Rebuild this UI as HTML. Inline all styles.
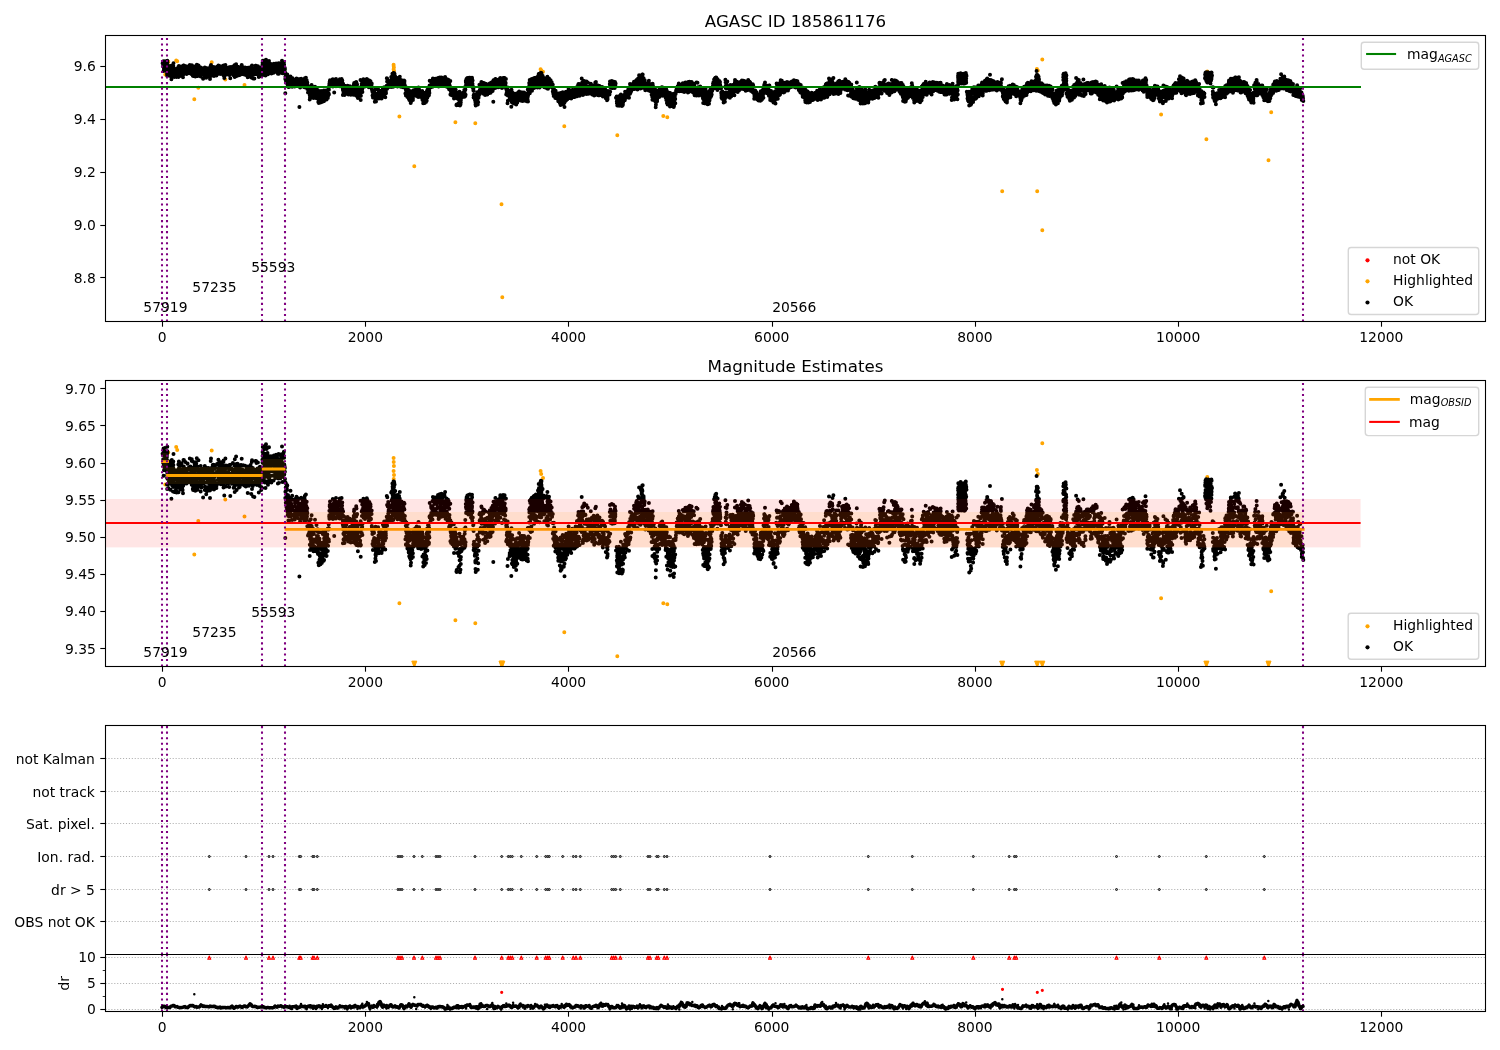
<!DOCTYPE html>
<html><head><meta charset="utf-8"><title>AGASC ID 185861176</title>
<style>html,body{margin:0;padding:0;background:#fff}svg{display:block}</style></head>
<body>
<svg width="1500" height="1050" viewBox="0 0 1500 1050" font-family="'DejaVu Sans','Liberation Sans',sans-serif" font-size="13.89px" fill="#000" style="will-change:transform">
<defs>
<clipPath id="c1"><rect x="105.5" y="35.5" width="1380.0" height="286.0"/></clipPath>
<clipPath id="c2"><rect x="105.5" y="380.5" width="1380.0" height="286.0"/></clipPath>
<clipPath id="c3a"><rect x="105.5" y="725.5" width="1380.0" height="229.0"/></clipPath>
<clipPath id="c3b"><rect x="105.5" y="954.5" width="1380.0" height="57.0"/></clipPath>
</defs>
<rect width="1500" height="1050" fill="#fff"/>
<g clip-path="url(#c1)">
<path d="M165.3 74.5h0M168.3 61.7h0M176.2 60.6h0M177.2 61.2h0M194.3 99.3h0M198.3 87.8h0M211.7 62.2h0M225.3 79.5h0M244.5 85.0h0M393.6 69.3h0M393.6 64.7h0M393.7 66.1h0M393.7 72.2h0M393.9 67.6h0M394.0 70.8h0M399.4 116.4h0M414.3 166.3h0M455.4 122.3h0M475.3 123.3h0M501.5 204.3h0M502.3 297.3h0M540.6 69.3h0M541.2 70.4h0M543.0 71.8h0M564.3 126.3h0M617.3 135.3h0M663.3 116.0h0M667.3 117.3h0M1002.2 191.2h0M1036.9 69.0h0M1037.2 191.2h0M1037.8 70.4h0M1042.3 230.2h0M1042.3 59.5h0M1161.1 114.4h0M1206.4 139.3h0M1207.3 71.5h0M1268.5 160.3h0M1271.2 112.3h0" stroke="#ffa500" stroke-width="4.0" stroke-linecap="round" fill="none"/>
<path d="M162.6 63.2h0M163.0 63.4h0M163.1 63.7h0M163.1 66.4h0M163.2 65.2h0M163.4 62.8h0M163.5 61.3h0M163.6 71.1h0M163.7 61.9h0M163.7 67.5h0M163.8 65.9h0M163.9 67.1h0M163.9 65.1h0M163.9 62.9h0M164.0 69.1h0M164.2 67.0h0M164.2 62.6h0M164.3 68.8h0M164.3 63.7h0M164.3 66.0h0M164.3 66.2h0M164.4 63.9h0M164.6 68.0h0M164.8 61.2h0M164.9 65.8h0M164.9 67.8h0M165.1 68.4h0M165.3 62.9h0M165.6 67.1h0M165.6 67.3h0M165.6 64.0h0M165.7 67.2h0M165.9 67.6h0M165.9 64.9h0M166.0 67.0h0M166.0 67.8h0M166.1 68.2h0M166.2 68.6h0M166.3 68.1h0M166.6 67.7h0M166.7 65.6h0M166.9 65.5h0M166.9 64.4h0M167.0 63.5h0M167.0 74.1h0M167.0 69.5h0M167.1 69.2h0M167.1 71.8h0M167.2 75.8h0M167.2 66.1h0M167.3 60.7h0M167.3 70.1h0M167.3 62.3h0M167.3 67.6h0M167.4 62.7h0M167.4 70.7h0M167.5 68.7h0M167.5 72.1h0M167.8 70.3h0M167.9 71.7h0M168.0 74.1h0M168.1 70.7h0M168.2 70.5h0M168.3 67.1h0M168.4 67.5h0M168.4 67.1h0M168.4 75.5h0M168.5 68.5h0M168.6 75.5h0M168.6 69.6h0M168.7 70.9h0M168.8 67.8h0M168.8 73.3h0M168.9 66.9h0M169.0 71.9h0M169.1 71.9h0M169.2 69.4h0M169.2 65.9h0M169.5 68.3h0M169.5 68.0h0M169.6 71.5h0M170.0 69.1h0M170.0 70.9h0M170.0 70.2h0M170.1 67.0h0M170.2 71.8h0M170.3 76.0h0M170.3 73.7h0M170.3 69.1h0M170.4 72.2h0M170.4 73.8h0M170.4 69.0h0M170.5 73.6h0M170.7 73.0h0M170.9 69.2h0M171.2 72.1h0M171.2 70.4h0M171.3 69.7h0M171.3 68.8h0M171.4 79.3h0M171.4 69.2h0M171.5 66.1h0M171.5 70.1h0M171.6 69.4h0M171.6 68.8h0M171.7 70.8h0M171.7 67.4h0M171.8 67.5h0M171.8 65.4h0M171.9 70.8h0M171.9 70.2h0M172.0 73.9h0M172.0 69.1h0M172.0 71.2h0M172.1 68.3h0M172.1 71.2h0M172.1 69.7h0M172.1 74.4h0M172.3 68.7h0M172.3 69.0h0M172.3 72.8h0M172.4 69.8h0M172.4 72.7h0M172.6 67.3h0M172.7 68.0h0M172.7 71.6h0M172.8 68.4h0M172.8 72.8h0M172.9 67.3h0M173.0 76.7h0M173.1 75.1h0M173.1 67.3h0M173.2 70.0h0M173.2 71.8h0M173.3 69.5h0M173.3 74.4h0M173.3 68.4h0M173.3 72.5h0M173.3 75.0h0M173.3 71.5h0M173.3 66.0h0M173.4 67.2h0M173.4 71.4h0M173.5 63.3h0M173.5 70.5h0M173.6 69.8h0M173.6 70.0h0M173.7 69.2h0M173.8 73.2h0M174.0 70.7h0M174.2 71.5h0M174.3 76.9h0M174.4 71.9h0M174.6 70.7h0M174.6 74.3h0M174.7 69.8h0M174.8 70.1h0M174.8 75.0h0M175.0 71.5h0M175.1 69.6h0M175.3 70.9h0M175.3 70.5h0M175.4 73.9h0M175.5 70.8h0M175.5 72.0h0M175.8 72.2h0M176.0 76.0h0M176.2 71.4h0M176.2 69.8h0M176.2 69.1h0M176.5 70.6h0M176.5 77.0h0M176.6 74.4h0M177.2 73.7h0M177.3 69.4h0M177.4 72.6h0M177.6 70.4h0M177.6 72.0h0M177.7 73.5h0M177.7 74.2h0M177.8 69.4h0M177.9 74.2h0M177.9 74.4h0M177.9 75.1h0M178.0 71.9h0M178.0 74.2h0M178.3 67.0h0M178.3 71.2h0M178.4 74.7h0M178.4 69.8h0M178.4 74.5h0M178.4 69.2h0M178.5 76.9h0M178.5 72.0h0M178.6 69.9h0M178.6 71.2h0M178.7 72.5h0M178.8 72.4h0M178.8 69.7h0M178.9 70.7h0M178.9 66.0h0M179.0 68.3h0M179.0 66.5h0M179.1 71.0h0M179.2 73.4h0M179.3 72.0h0M179.4 70.2h0M179.5 67.5h0M179.5 73.2h0M179.6 74.0h0M179.7 67.1h0M179.9 68.4h0M179.9 70.9h0M179.9 70.3h0M180.0 70.3h0M180.1 75.9h0M180.3 68.8h0M180.4 71.2h0M180.6 74.9h0M180.6 74.1h0M180.6 69.9h0M180.8 72.6h0M180.8 72.0h0M181.0 71.4h0M181.0 69.8h0M181.2 72.1h0M181.2 67.3h0M181.3 67.0h0M181.4 70.8h0M181.4 74.1h0M181.4 69.5h0M181.4 72.7h0M181.5 66.6h0M181.5 72.1h0M181.6 70.6h0M181.9 73.4h0M182.1 70.8h0M182.3 72.6h0M182.4 70.2h0M182.4 75.1h0M182.5 68.7h0M182.5 69.0h0M182.6 70.1h0M182.6 71.9h0M182.6 76.1h0M182.7 70.4h0M182.7 71.8h0M182.7 70.7h0M182.8 73.3h0M182.8 73.2h0M182.9 71.3h0M182.9 69.5h0M183.0 73.5h0M183.0 69.6h0M183.0 70.5h0M183.0 77.3h0M183.1 71.6h0M183.1 69.4h0M183.1 72.3h0M183.3 74.5h0M183.5 70.7h0M183.5 70.2h0M183.5 69.6h0M183.5 65.4h0M183.6 68.5h0M183.8 71.5h0M183.8 67.7h0M183.9 70.7h0M183.9 65.5h0M184.3 68.6h0M184.3 73.1h0M184.9 70.5h0M185.0 70.6h0M185.0 72.8h0M185.3 66.1h0M185.6 68.7h0M185.6 71.4h0M185.6 70.0h0M185.7 68.5h0M185.8 71.5h0M186.1 71.9h0M186.4 70.5h0M186.4 71.5h0M186.4 71.8h0M186.4 71.7h0M186.5 71.9h0M186.6 69.8h0M186.6 73.9h0M187.0 71.5h0M187.0 71.5h0M187.0 71.2h0M187.0 71.4h0M187.1 71.4h0M187.1 68.8h0M187.1 69.1h0M187.2 72.3h0M187.2 70.5h0M187.3 73.3h0M187.4 68.7h0M187.5 70.2h0M187.5 66.8h0M187.6 66.7h0M187.9 72.2h0M188.0 70.7h0M188.0 72.0h0M188.1 72.3h0M188.2 72.0h0M188.3 71.5h0M188.8 70.4h0M188.9 71.8h0M188.9 68.1h0M189.1 71.8h0M189.2 73.3h0M189.6 70.3h0M189.8 69.0h0M189.8 64.9h0M189.8 72.1h0M189.9 71.8h0M190.1 68.1h0M190.1 68.8h0M190.2 71.8h0M190.5 67.7h0M190.5 71.8h0M190.5 70.4h0M190.6 68.3h0M190.7 70.2h0M190.9 72.2h0M191.0 72.8h0M191.0 70.6h0M191.1 71.7h0M191.2 70.4h0M191.3 71.3h0M191.5 71.3h0M191.5 70.0h0M191.5 69.5h0M191.6 73.2h0M191.7 74.3h0M191.8 65.8h0M191.8 65.2h0M191.8 70.4h0M192.0 68.3h0M192.4 72.0h0M192.5 72.0h0M192.6 69.8h0M192.7 66.0h0M192.7 73.9h0M192.7 68.9h0M192.8 75.8h0M193.0 74.8h0M193.0 70.5h0M193.1 76.1h0M193.2 70.5h0M193.3 70.9h0M193.4 71.0h0M193.4 70.3h0M193.8 68.0h0M193.9 72.3h0M193.9 71.5h0M194.0 70.6h0M194.0 69.3h0M194.1 71.6h0M194.3 75.1h0M194.3 71.8h0M194.3 68.7h0M194.6 70.4h0M194.6 72.9h0M194.7 69.8h0M194.7 67.0h0M194.7 67.9h0M194.7 71.1h0M194.8 67.2h0M195.0 69.4h0M195.0 72.5h0M195.2 72.6h0M195.3 76.4h0M195.4 73.9h0M195.4 70.7h0M195.5 71.9h0M195.5 67.4h0M195.6 66.3h0M195.7 68.7h0M195.8 69.3h0M195.8 68.8h0M195.8 71.8h0M195.9 70.7h0M196.0 75.7h0M196.1 75.4h0M196.2 66.6h0M196.2 73.0h0M196.3 71.8h0M196.6 73.4h0M196.6 74.5h0M196.8 72.0h0M196.8 64.8h0M197.0 73.9h0M197.0 74.1h0M197.1 71.8h0M197.5 67.8h0M197.5 68.5h0M197.6 76.0h0M198.2 71.3h0M198.3 71.4h0M198.3 70.4h0M198.4 73.5h0M198.5 65.5h0M198.6 69.5h0M198.7 70.6h0M198.7 70.3h0M198.7 71.9h0M198.7 74.1h0M198.9 69.6h0M199.0 74.9h0M199.0 69.5h0M199.4 70.6h0M199.4 72.1h0M199.7 70.8h0M199.7 74.2h0M199.8 72.8h0M199.9 70.4h0M199.9 70.8h0M199.9 71.1h0M200.0 74.8h0M200.0 70.2h0M200.1 72.1h0M200.1 68.7h0M200.2 71.0h0M200.4 71.7h0M200.5 72.9h0M200.5 71.2h0M200.7 76.6h0M200.7 67.5h0M200.8 75.0h0M200.8 69.9h0M200.9 69.4h0M201.0 71.0h0M201.1 73.4h0M201.3 70.6h0M201.4 74.9h0M201.5 75.2h0M201.6 72.3h0M201.6 70.0h0M201.7 68.6h0M201.8 70.3h0M201.8 73.0h0M201.9 70.7h0M201.9 71.8h0M202.0 73.5h0M202.1 69.8h0M202.2 72.2h0M202.3 71.4h0M202.3 72.1h0M202.4 68.6h0M202.4 73.3h0M202.5 73.9h0M202.5 69.4h0M202.9 73.0h0M202.9 69.1h0M203.1 72.7h0M203.1 69.5h0M203.1 78.8h0M203.1 71.9h0M203.2 69.6h0M203.2 72.1h0M203.2 72.8h0M203.2 71.5h0M203.3 72.2h0M203.3 73.7h0M203.3 73.8h0M203.5 71.5h0M203.6 72.2h0M203.6 68.6h0M204.1 73.4h0M204.1 70.6h0M204.2 71.5h0M204.3 69.5h0M204.3 69.0h0M204.4 71.9h0M204.4 70.9h0M204.8 76.1h0M204.8 71.7h0M204.8 67.6h0M205.0 73.4h0M205.0 71.6h0M205.0 71.3h0M205.0 69.8h0M205.2 74.9h0M205.3 69.7h0M205.3 70.7h0M205.3 69.7h0M205.3 68.4h0M205.8 68.7h0M205.8 70.1h0M206.1 70.6h0M206.2 77.7h0M206.3 72.0h0M206.3 73.5h0M206.4 71.0h0M206.4 70.2h0M206.4 68.2h0M206.6 69.6h0M206.6 70.4h0M206.9 76.6h0M207.1 71.7h0M207.2 70.5h0M207.2 71.8h0M207.3 71.7h0M207.3 73.3h0M207.4 69.4h0M207.5 70.2h0M207.5 69.9h0M207.5 70.6h0M207.6 73.0h0M207.7 70.8h0M207.7 70.4h0M208.0 75.5h0M208.1 72.6h0M208.1 76.0h0M208.2 69.3h0M208.3 71.5h0M208.4 75.0h0M208.4 70.0h0M208.4 68.3h0M208.5 71.0h0M208.5 73.7h0M208.8 73.5h0M208.9 72.7h0M209.3 71.2h0M209.4 75.6h0M209.4 71.9h0M209.5 68.9h0M209.6 72.9h0M209.8 76.2h0M209.9 73.0h0M210.0 70.6h0M210.0 78.9h0M210.1 75.4h0M210.3 69.6h0M210.4 70.6h0M210.5 70.6h0M210.5 76.1h0M210.5 73.6h0M210.5 71.9h0M210.6 72.9h0M210.6 74.7h0M210.7 70.6h0M210.7 65.7h0M210.9 71.4h0M211.0 64.9h0M211.0 72.7h0M211.2 68.3h0M211.4 72.9h0M211.5 75.8h0M211.6 75.5h0M211.7 69.8h0M211.7 73.7h0M212.0 71.4h0M212.1 70.0h0M212.1 70.3h0M212.2 71.8h0M212.3 72.8h0M212.3 68.4h0M212.4 71.0h0M212.5 71.7h0M212.5 69.0h0M212.5 72.8h0M212.7 68.3h0M212.7 67.2h0M212.7 74.6h0M212.8 69.7h0M213.0 75.4h0M213.1 75.6h0M213.1 73.9h0M213.3 71.8h0M213.4 72.5h0M213.4 71.3h0M213.5 71.3h0M213.6 72.0h0M213.7 72.4h0M213.7 75.6h0M213.7 67.1h0M213.8 74.3h0M213.9 72.2h0M214.0 75.9h0M214.1 72.7h0M214.3 70.4h0M214.4 73.0h0M214.7 71.1h0M214.7 67.4h0M214.8 68.6h0M214.9 72.9h0M214.9 71.3h0M215.0 67.4h0M215.2 71.0h0M215.2 70.3h0M215.5 70.3h0M215.5 71.0h0M215.7 68.2h0M216.0 73.8h0M216.0 75.1h0M216.2 71.0h0M216.4 75.4h0M216.5 70.0h0M216.6 74.5h0M216.9 69.7h0M217.1 66.8h0M217.3 73.9h0M217.5 70.8h0M217.7 70.7h0M217.7 69.8h0M217.7 70.9h0M217.7 70.9h0M217.9 72.5h0M217.9 70.4h0M218.0 66.6h0M218.2 68.4h0M218.4 72.6h0M218.4 65.4h0M218.4 67.1h0M218.7 73.8h0M218.8 70.3h0M218.8 68.6h0M218.9 72.9h0M218.9 71.8h0M219.0 73.7h0M219.4 72.3h0M219.4 72.8h0M219.4 72.0h0M219.6 71.6h0M219.6 69.8h0M219.8 68.9h0M219.9 73.4h0M220.0 71.9h0M220.1 71.5h0M220.2 68.7h0M220.3 73.1h0M220.3 68.3h0M220.6 67.7h0M220.6 66.9h0M220.8 70.5h0M220.8 69.4h0M220.8 74.1h0M220.8 66.2h0M220.9 72.9h0M220.9 69.4h0M221.1 69.9h0M221.1 72.5h0M221.2 70.9h0M221.3 72.0h0M221.3 70.9h0M221.4 68.8h0M221.5 69.4h0M221.6 69.3h0M221.6 70.9h0M221.8 73.1h0M221.8 69.1h0M221.9 70.9h0M222.0 70.1h0M222.2 71.2h0M222.3 70.7h0M222.4 71.4h0M222.4 73.2h0M222.4 67.1h0M222.6 71.5h0M222.8 69.7h0M222.9 73.3h0M222.9 70.9h0M223.0 70.6h0M223.0 72.1h0M223.0 74.1h0M223.1 73.5h0M223.2 68.6h0M223.4 67.9h0M223.4 66.2h0M223.5 75.3h0M223.6 65.6h0M223.7 70.5h0M223.7 71.7h0M223.7 70.1h0M223.8 69.6h0M224.0 70.6h0M224.1 75.0h0M224.1 69.1h0M224.2 70.4h0M224.2 74.8h0M224.3 78.1h0M224.4 70.4h0M224.5 69.6h0M224.7 68.9h0M225.0 70.8h0M225.2 73.2h0M225.4 65.0h0M225.4 72.3h0M225.4 73.1h0M225.5 70.6h0M225.6 71.8h0M225.6 68.4h0M225.8 69.7h0M225.9 67.4h0M225.9 72.6h0M225.9 74.8h0M225.9 73.6h0M226.1 73.5h0M226.3 71.8h0M226.6 71.3h0M226.7 71.1h0M226.7 73.0h0M226.7 73.0h0M226.8 71.7h0M226.8 71.6h0M226.9 67.8h0M226.9 71.0h0M227.0 69.7h0M227.1 70.6h0M227.3 69.8h0M227.4 70.5h0M227.5 71.4h0M227.7 70.7h0M227.8 70.4h0M227.8 72.8h0M227.9 72.6h0M228.0 72.4h0M228.2 69.7h0M228.3 73.8h0M228.4 73.4h0M228.6 67.4h0M228.9 71.0h0M228.9 67.8h0M229.1 72.6h0M229.1 72.3h0M229.1 70.4h0M229.2 75.0h0M229.2 72.5h0M229.2 72.9h0M229.2 71.2h0M229.2 68.8h0M229.5 72.6h0M229.5 68.2h0M229.7 71.5h0M230.0 72.2h0M230.1 70.8h0M230.1 73.3h0M230.2 70.9h0M230.2 67.1h0M230.3 78.2h0M230.3 73.2h0M230.5 72.2h0M230.5 72.2h0M230.6 70.5h0M230.7 70.4h0M231.1 71.8h0M231.2 72.1h0M231.8 68.4h0M231.8 68.8h0M231.9 73.9h0M231.9 68.9h0M232.2 69.0h0M232.3 72.8h0M232.3 70.9h0M232.6 70.8h0M232.6 71.8h0M232.6 70.0h0M232.8 69.2h0M232.8 73.4h0M232.9 66.5h0M233.1 71.9h0M233.1 69.0h0M233.3 72.7h0M233.6 75.3h0M233.6 70.0h0M233.6 72.5h0M233.7 70.0h0M233.8 71.0h0M234.1 70.1h0M234.2 73.2h0M234.3 73.9h0M234.4 67.4h0M234.4 75.0h0M234.6 70.9h0M234.7 74.8h0M234.7 76.9h0M234.7 72.5h0M234.8 65.1h0M234.9 73.2h0M235.0 67.4h0M235.0 69.5h0M235.0 71.2h0M235.3 73.7h0M235.3 72.8h0M235.6 71.1h0M235.6 70.4h0M235.7 68.5h0M236.1 64.2h0M236.1 68.9h0M236.2 71.1h0M236.3 69.1h0M236.3 67.4h0M236.5 72.3h0M236.5 66.8h0M236.5 71.2h0M236.6 76.1h0M236.6 70.2h0M236.8 70.0h0M236.9 69.5h0M237.0 71.9h0M237.1 68.7h0M237.1 74.2h0M237.1 68.5h0M237.2 72.1h0M237.2 68.7h0M237.2 72.3h0M237.2 69.4h0M237.3 68.5h0M237.4 67.7h0M237.4 73.4h0M237.5 69.0h0M237.5 66.7h0M237.5 67.4h0M237.6 73.7h0M237.7 66.8h0M237.7 71.5h0M237.9 69.7h0M238.0 67.4h0M238.0 70.0h0M238.0 73.5h0M238.1 71.7h0M238.1 68.8h0M238.3 67.2h0M238.3 73.8h0M238.5 71.8h0M238.5 70.6h0M238.5 68.6h0M238.5 72.9h0M238.8 72.1h0M238.8 67.4h0M239.0 75.2h0M239.0 72.5h0M239.0 74.0h0M239.0 74.0h0M239.1 73.9h0M239.3 72.7h0M239.4 70.3h0M239.5 74.0h0M239.6 72.9h0M239.6 69.2h0M239.7 74.2h0M239.8 74.9h0M239.8 68.0h0M239.9 70.9h0M240.0 71.4h0M240.0 70.8h0M240.1 67.3h0M240.3 70.9h0M240.4 68.7h0M240.4 69.6h0M240.5 70.4h0M240.7 73.4h0M240.8 70.3h0M240.9 71.6h0M241.0 74.1h0M241.0 74.2h0M241.1 72.9h0M241.2 67.2h0M241.3 73.0h0M241.7 65.0h0M242.2 68.7h0M242.6 72.8h0M242.8 69.8h0M243.1 67.3h0M243.2 73.9h0M243.2 70.2h0M243.8 72.6h0M243.8 72.9h0M243.9 71.3h0M243.9 69.9h0M243.9 72.0h0M244.0 71.8h0M244.3 74.5h0M244.4 69.6h0M244.5 71.9h0M244.5 71.2h0M244.6 69.6h0M244.6 72.1h0M244.7 71.6h0M244.9 70.8h0M245.0 70.6h0M245.1 67.5h0M245.5 69.6h0M245.6 69.0h0M245.8 74.9h0M245.9 70.8h0M246.0 71.0h0M246.1 73.8h0M246.2 74.8h0M246.6 73.0h0M246.7 68.0h0M246.8 69.6h0M246.9 69.5h0M247.0 69.7h0M247.0 68.3h0M247.2 72.6h0M247.6 69.6h0M247.7 77.2h0M247.7 71.4h0M247.9 69.0h0M248.0 67.7h0M248.1 71.1h0M248.5 70.5h0M248.7 73.1h0M248.8 69.8h0M248.8 67.7h0M248.9 74.4h0M249.0 74.6h0M249.0 72.1h0M249.0 71.5h0M249.1 74.5h0M249.3 71.2h0M249.3 73.6h0M249.5 70.4h0M249.5 70.6h0M249.6 72.7h0M249.7 68.8h0M249.8 72.1h0M249.9 70.5h0M250.2 70.7h0M250.3 71.8h0M250.3 71.4h0M250.4 71.4h0M250.4 73.5h0M250.4 73.7h0M250.6 67.2h0M250.6 69.1h0M250.8 68.9h0M250.9 70.1h0M251.0 74.0h0M251.3 77.6h0M251.6 72.1h0M251.7 73.5h0M251.8 66.1h0M251.9 69.6h0M251.9 69.8h0M252.0 75.8h0M252.0 73.8h0M252.0 65.5h0M252.2 69.7h0M252.3 72.1h0M252.3 68.2h0M252.4 73.4h0M252.6 71.1h0M252.6 71.2h0M252.7 71.9h0M252.8 68.3h0M252.8 74.7h0M252.9 70.5h0M253.0 71.9h0M253.1 71.4h0M253.1 78.5h0M253.1 68.9h0M253.1 71.8h0M253.5 73.7h0M253.6 74.2h0M253.6 73.5h0M253.7 73.3h0M253.8 69.3h0M254.2 68.8h0M254.2 70.7h0M254.4 78.6h0M254.4 70.6h0M254.5 70.8h0M255.1 70.6h0M255.2 70.3h0M255.2 73.9h0M255.3 70.7h0M255.5 65.8h0M255.7 70.8h0M255.8 71.1h0M255.8 72.4h0M255.8 71.9h0M255.9 73.1h0M256.0 65.8h0M256.1 72.5h0M256.5 70.3h0M256.5 70.6h0M256.5 66.4h0M256.6 69.8h0M256.6 71.6h0M256.6 66.3h0M256.8 70.4h0M256.9 72.1h0M257.0 74.3h0M257.1 69.5h0M257.2 69.4h0M257.3 73.4h0M257.4 73.8h0M257.4 72.0h0M257.5 68.5h0M257.7 70.7h0M257.7 69.9h0M257.8 72.5h0M257.9 66.3h0M258.0 72.5h0M258.0 73.1h0M258.1 70.8h0M258.2 70.2h0M258.4 73.2h0M258.5 72.2h0M258.6 69.5h0M258.7 71.8h0M258.7 70.9h0M258.8 77.0h0M258.9 72.3h0M259.0 73.2h0M259.0 73.4h0M259.2 71.9h0M259.2 69.8h0M259.5 70.1h0M259.6 70.5h0M259.7 68.0h0M259.7 73.7h0M259.7 71.4h0M259.8 74.7h0M259.8 73.7h0M259.9 73.6h0M260.0 67.8h0M260.1 71.6h0M260.2 71.2h0M260.2 71.8h0M260.2 68.7h0M260.3 72.5h0M260.3 71.6h0M260.7 69.6h0M261.2 75.0h0M261.2 76.1h0M261.4 71.3h0M261.4 70.6h0M261.4 70.2h0M261.4 70.6h0M261.6 69.7h0M261.6 69.0h0M261.8 71.1h0M261.9 72.9h0M262.1 75.4h0M262.1 70.7h0M262.3 68.3h0M262.3 68.8h0M262.4 65.3h0M262.5 66.3h0M262.6 64.0h0M262.6 62.5h0M262.8 60.8h0M262.9 65.6h0M262.9 71.9h0M262.9 70.6h0M262.9 66.5h0M263.0 63.6h0M263.3 69.5h0M263.4 68.1h0M263.5 71.8h0M263.6 70.8h0M263.7 61.0h0M263.8 72.1h0M263.9 65.9h0M264.0 69.2h0M264.0 66.7h0M264.1 66.5h0M264.1 61.6h0M264.1 67.9h0M264.2 66.3h0M264.2 69.5h0M264.3 65.3h0M264.3 68.4h0M264.3 67.9h0M264.4 65.5h0M264.5 65.0h0M264.7 60.4h0M264.8 73.5h0M264.8 63.2h0M264.9 65.6h0M265.0 68.7h0M265.0 70.5h0M265.0 66.5h0M265.1 73.0h0M265.1 63.8h0M265.2 64.4h0M265.3 61.1h0M265.3 70.6h0M265.4 67.2h0M265.4 69.9h0M265.5 75.4h0M265.5 67.4h0M265.6 67.0h0M265.6 68.4h0M265.7 66.4h0M265.7 70.3h0M265.8 63.5h0M266.0 60.8h0M266.0 59.8h0M266.1 64.7h0M266.6 68.6h0M266.6 61.5h0M266.9 64.5h0M267.0 71.4h0M267.0 70.5h0M267.1 67.4h0M267.2 66.8h0M267.3 68.4h0M267.4 63.0h0M267.4 70.2h0M267.4 73.1h0M267.5 62.9h0M267.5 64.9h0M267.5 70.6h0M267.5 68.3h0M267.6 68.9h0M267.6 65.0h0M267.7 66.5h0M267.7 73.9h0M267.7 66.8h0M267.7 64.7h0M267.9 70.3h0M268.0 66.6h0M268.0 74.3h0M268.0 71.0h0M268.1 70.1h0M268.1 71.6h0M268.1 65.6h0M268.1 65.2h0M268.2 66.1h0M268.4 71.4h0M268.4 73.5h0M268.5 65.5h0M268.5 69.7h0M268.6 70.5h0M268.7 67.9h0M268.9 68.5h0M269.0 60.9h0M269.0 72.1h0M269.1 71.2h0M269.2 69.2h0M269.2 64.2h0M269.3 65.5h0M269.3 67.6h0M269.3 67.5h0M269.3 72.0h0M269.4 66.1h0M269.6 65.3h0M269.6 66.9h0M269.8 64.1h0M269.9 68.0h0M270.0 65.3h0M270.3 69.2h0M270.3 67.6h0M270.4 64.3h0M270.4 68.1h0M270.4 72.7h0M270.4 65.0h0M270.5 68.4h0M270.5 69.4h0M270.6 66.9h0M270.6 66.3h0M270.9 69.1h0M270.9 68.8h0M271.0 64.1h0M271.1 64.9h0M271.3 71.1h0M271.3 66.0h0M271.4 73.4h0M271.4 65.5h0M271.8 67.0h0M272.2 64.4h0M272.5 66.6h0M272.8 68.8h0M272.9 66.7h0M273.0 69.5h0M273.1 67.4h0M273.3 68.8h0M273.4 68.8h0M273.5 66.1h0M273.6 72.7h0M273.7 66.8h0M273.9 69.4h0M273.9 63.8h0M273.9 65.2h0M274.0 71.2h0M274.0 70.9h0M274.0 66.8h0M274.3 71.2h0M274.5 67.5h0M274.7 69.5h0M274.8 66.8h0M274.8 68.3h0M274.9 66.1h0M275.2 67.9h0M275.2 67.2h0M275.3 64.3h0M275.3 65.0h0M275.4 70.9h0M275.5 71.8h0M275.5 70.2h0M275.6 70.7h0M275.7 67.7h0M275.7 63.7h0M275.8 71.3h0M275.8 70.7h0M275.8 65.9h0M276.0 67.8h0M276.0 66.5h0M276.1 63.6h0M276.1 68.8h0M276.2 67.3h0M276.2 64.4h0M276.3 64.5h0M276.3 68.4h0M276.6 67.7h0M276.7 66.6h0M276.7 69.5h0M276.8 69.2h0M276.9 68.1h0M276.9 64.4h0M276.9 70.5h0M277.1 68.7h0M277.1 67.7h0M277.6 68.6h0M277.7 71.7h0M277.7 69.6h0M277.8 66.3h0M277.8 67.8h0M277.9 73.8h0M277.9 68.5h0M278.0 71.1h0M278.3 72.0h0M278.3 65.9h0M278.6 67.6h0M278.6 63.3h0M278.6 70.1h0M278.6 71.1h0M278.8 65.1h0M278.8 73.7h0M279.0 66.9h0M279.0 65.7h0M279.1 70.6h0M279.1 63.6h0M279.3 67.7h0M279.7 63.6h0M279.9 66.6h0M279.9 70.0h0M280.0 68.5h0M280.0 69.7h0M280.1 70.6h0M280.1 65.2h0M280.4 71.9h0M280.5 69.0h0M280.6 69.2h0M280.6 65.7h0M280.6 70.2h0M280.6 70.6h0M280.7 68.6h0M280.8 65.8h0M280.9 68.5h0M281.0 70.9h0M281.1 69.5h0M281.1 67.4h0M281.2 64.8h0M281.2 68.8h0M281.3 68.3h0M281.4 66.2h0M281.5 63.4h0M281.6 69.6h0M281.6 65.0h0M281.6 67.3h0M281.6 69.5h0M281.7 66.4h0M281.7 66.1h0M281.8 68.0h0M281.9 69.2h0M282.0 60.7h0M282.0 66.4h0M282.0 66.2h0M282.1 63.8h0M282.1 67.6h0M282.2 71.5h0M282.2 67.2h0M282.3 71.3h0M282.4 66.8h0M282.4 66.6h0M282.4 73.3h0M283.1 71.0h0M283.3 68.6h0M283.4 69.1h0M283.4 63.2h0M283.5 66.8h0M283.6 67.7h0M283.9 62.5h0M284.1 64.6h0M284.3 70.6h0M284.3 67.1h0M284.6 67.7h0M284.9 73.4h0M284.9 69.6h0M284.9 68.3h0M285.0 72.2h0M285.3 93.2h0M285.3 78.9h0M285.3 73.5h0M285.4 73.3h0M285.4 76.7h0M285.7 75.3h0M285.8 80.6h0M285.9 75.4h0M285.9 73.7h0M285.9 79.3h0M286.2 78.7h0M286.5 75.0h0M286.5 75.6h0M286.5 82.3h0M286.6 74.7h0M286.7 79.2h0M286.8 75.5h0M286.8 77.7h0M286.9 76.1h0M286.9 83.2h0M287.1 80.2h0M287.2 74.4h0M287.3 74.5h0M287.3 78.3h0M287.5 78.3h0M287.6 83.8h0M287.6 84.0h0M287.7 85.1h0M287.8 82.8h0M287.8 82.0h0M288.0 85.1h0M288.1 78.0h0M288.2 81.2h0M288.3 85.4h0M288.4 87.0h0M288.4 82.1h0M288.5 83.1h0M288.5 80.2h0M288.8 79.3h0M288.8 83.4h0M288.8 79.2h0M288.9 79.2h0M289.0 87.0h0M289.0 83.2h0M289.1 84.2h0M289.2 83.9h0M289.5 79.9h0M289.7 81.2h0M289.8 84.6h0M289.8 78.9h0M290.0 80.1h0M290.0 79.1h0M290.1 82.6h0M290.1 81.2h0M290.4 82.0h0M290.5 83.8h0M290.5 76.4h0M290.6 85.5h0M290.7 81.5h0M290.9 80.9h0M290.9 83.3h0M291.0 82.8h0M291.0 83.1h0M291.3 79.5h0M291.3 81.0h0M292.1 86.8h0M292.2 78.1h0M292.3 85.0h0M292.5 85.0h0M292.6 79.6h0M293.1 82.1h0M293.5 83.4h0M293.6 83.3h0M293.7 83.5h0M293.8 81.9h0M294.1 83.5h0M294.3 85.7h0M294.7 86.6h0M294.7 83.5h0M294.9 81.9h0M294.9 84.5h0M295.0 80.7h0M295.5 84.3h0M295.5 79.2h0M295.6 80.7h0M295.7 86.1h0M295.8 83.3h0M296.0 85.7h0M296.0 79.7h0M296.2 79.5h0M296.3 84.5h0M296.4 85.5h0M296.4 86.0h0M296.5 78.6h0M296.7 84.7h0M296.8 82.4h0M297.1 84.6h0M297.2 78.9h0M297.2 83.8h0M297.3 83.5h0M297.3 83.1h0M297.6 86.1h0M297.7 83.4h0M297.9 80.5h0M298.0 82.7h0M298.1 79.3h0M298.3 84.1h0M298.3 84.1h0M298.5 81.3h0M298.5 83.4h0M298.9 83.0h0M299.2 81.5h0M299.4 84.5h0M299.4 106.9h0M299.4 84.1h0M299.6 82.1h0M299.7 79.2h0M299.9 83.5h0M300.0 85.0h0M300.0 81.7h0M300.1 86.7h0M300.1 87.4h0M300.2 83.0h0M300.4 84.3h0M300.4 84.8h0M300.7 82.3h0M300.8 81.0h0M300.9 84.7h0M301.0 81.4h0M301.2 78.8h0M301.2 85.5h0M301.4 82.5h0M301.5 82.4h0M301.5 83.2h0M301.6 83.8h0M301.6 82.9h0M301.7 85.2h0M301.8 81.5h0M301.9 80.7h0M302.0 84.6h0M302.2 85.4h0M302.3 85.2h0M302.4 86.3h0M302.7 79.6h0M302.8 84.1h0M302.9 80.2h0M302.9 84.3h0M302.9 82.2h0M302.9 81.7h0M303.0 82.7h0M303.1 83.4h0M303.3 83.6h0M303.4 83.0h0M303.5 80.8h0M303.6 86.3h0M303.6 80.8h0M303.6 80.1h0M303.9 85.7h0M304.0 83.5h0M304.1 82.5h0M304.1 84.6h0M304.3 82.8h0M304.3 87.3h0M304.4 82.6h0M304.4 82.3h0M304.5 78.9h0M304.7 82.4h0M304.8 85.1h0M304.9 78.2h0M305.0 79.7h0M305.0 82.1h0M305.0 85.3h0M305.1 83.1h0M305.2 81.3h0M305.2 81.9h0M305.3 87.3h0M305.5 84.2h0M305.5 80.7h0M305.6 83.4h0M305.6 81.1h0M305.7 83.4h0M305.9 77.7h0M306.0 86.5h0M306.3 81.8h0M306.3 82.0h0M306.3 82.3h0M306.5 86.8h0M306.5 80.3h0M306.7 82.4h0M306.7 80.3h0M306.8 86.1h0M306.9 83.7h0M306.9 85.5h0M306.9 82.5h0M307.0 85.5h0M307.3 82.6h0M307.3 89.0h0M307.4 84.4h0M308.0 92.4h0M308.3 92.4h0M308.6 91.8h0M308.7 89.1h0M309.2 88.0h0M309.2 89.3h0M309.4 89.9h0M309.4 91.0h0M309.5 87.2h0M309.7 99.6h0M309.7 90.1h0M309.8 95.6h0M309.9 91.4h0M310.0 97.5h0M310.0 93.6h0M310.1 91.9h0M310.2 90.1h0M310.2 92.9h0M310.2 92.9h0M310.3 93.0h0M310.5 90.9h0M310.6 88.2h0M310.8 86.5h0M311.0 94.5h0M311.0 93.1h0M311.0 96.3h0M311.1 94.9h0M311.1 95.5h0M311.2 89.0h0M311.4 91.0h0M311.5 94.7h0M311.5 90.8h0M311.6 85.1h0M311.6 89.4h0M311.6 92.1h0M311.7 89.0h0M311.9 91.9h0M312.0 89.6h0M312.1 97.5h0M312.2 96.5h0M312.3 94.7h0M312.5 93.7h0M312.5 97.0h0M312.7 93.6h0M312.9 95.4h0M312.9 95.9h0M313.0 95.0h0M313.2 90.0h0M313.3 96.1h0M313.4 96.3h0M313.5 98.0h0M313.8 91.3h0M313.8 91.8h0M314.1 94.3h0M314.3 96.2h0M314.6 96.9h0M314.8 96.9h0M315.0 86.7h0M315.1 97.2h0M315.8 97.9h0M315.8 90.4h0M316.2 93.5h0M316.5 88.6h0M316.9 93.3h0M316.9 94.9h0M317.0 92.5h0M317.1 97.9h0M317.2 94.2h0M317.5 96.6h0M317.6 90.1h0M317.7 98.1h0M317.8 98.5h0M317.8 96.4h0M317.9 97.8h0M317.9 91.1h0M318.0 99.0h0M318.0 92.5h0M318.0 93.8h0M318.3 102.0h0M318.4 96.3h0M318.6 95.6h0M318.8 102.9h0M318.8 93.6h0M319.1 94.1h0M319.1 91.1h0M319.1 96.1h0M319.2 93.6h0M319.2 95.2h0M319.2 96.5h0M319.4 101.1h0M319.5 93.5h0M319.6 101.8h0M319.6 98.7h0M319.7 95.5h0M319.7 99.5h0M319.7 95.0h0M320.0 100.5h0M320.3 99.3h0M320.3 99.6h0M320.3 101.4h0M320.5 102.5h0M320.6 99.0h0M320.7 96.7h0M320.8 97.0h0M321.0 94.9h0M321.2 91.1h0M321.3 95.5h0M321.3 101.4h0M321.4 98.9h0M321.6 100.3h0M321.7 97.3h0M321.7 98.5h0M321.8 102.1h0M321.9 96.4h0M322.3 95.0h0M322.4 97.2h0M322.6 94.8h0M322.7 91.8h0M322.8 99.9h0M322.9 100.8h0M323.0 97.5h0M323.0 97.1h0M323.1 98.5h0M323.2 98.9h0M323.3 101.2h0M323.5 91.9h0M323.7 101.3h0M323.8 94.7h0M323.9 90.6h0M324.1 93.4h0M324.1 92.2h0M324.1 101.0h0M324.3 95.4h0M324.3 95.7h0M324.5 94.3h0M324.5 98.9h0M324.5 94.5h0M324.6 96.6h0M324.9 97.7h0M325.1 91.2h0M325.1 96.5h0M325.2 92.9h0M325.3 97.4h0M325.4 92.4h0M325.4 98.3h0M325.6 95.6h0M326.0 90.4h0M326.0 98.3h0M326.1 97.3h0M326.5 99.6h0M326.5 93.3h0M326.6 99.5h0M326.6 93.1h0M326.6 94.7h0M327.2 94.4h0M327.3 93.0h0M327.3 93.8h0M327.3 91.9h0M327.6 95.8h0M327.7 93.9h0M327.8 97.9h0M327.9 89.9h0M328.1 95.9h0M328.5 93.6h0M328.6 90.1h0M328.7 88.4h0M328.8 93.8h0M328.9 94.4h0M328.9 89.7h0M329.2 85.6h0M329.3 85.1h0M329.4 86.4h0M329.4 83.5h0M329.7 82.0h0M329.7 83.5h0M329.7 81.4h0M329.8 85.2h0M329.8 81.9h0M330.0 80.2h0M330.3 82.6h0M330.4 83.9h0M330.5 86.1h0M330.6 84.8h0M330.7 82.3h0M330.8 83.5h0M331.3 81.4h0M331.5 82.5h0M331.6 82.5h0M331.9 84.4h0M332.1 82.4h0M332.2 86.1h0M332.3 85.2h0M332.4 85.1h0M332.4 83.6h0M332.5 81.7h0M332.7 85.5h0M332.8 79.3h0M332.9 86.4h0M333.1 81.3h0M333.1 85.3h0M333.3 85.8h0M333.4 84.2h0M333.5 82.0h0M334.0 79.7h0M334.0 80.5h0M334.2 92.5h0M334.2 83.4h0M334.3 80.8h0M334.3 85.9h0M334.3 83.3h0M334.4 86.0h0M334.7 86.0h0M334.8 81.4h0M335.3 84.3h0M335.4 82.7h0M335.5 84.5h0M335.6 83.0h0M335.7 82.8h0M336.0 86.2h0M336.0 79.0h0M336.2 81.8h0M336.3 84.7h0M336.5 80.3h0M336.5 81.9h0M336.7 84.0h0M336.8 83.6h0M337.5 81.2h0M337.5 83.2h0M337.6 82.3h0M337.7 84.5h0M337.7 83.0h0M337.8 85.6h0M337.9 82.1h0M337.9 84.9h0M338.0 83.6h0M338.1 81.0h0M338.4 84.2h0M338.6 83.6h0M338.7 83.8h0M338.7 81.6h0M338.8 84.6h0M338.8 83.7h0M338.9 81.6h0M339.0 83.3h0M339.6 80.7h0M339.6 86.3h0M339.6 86.1h0M339.8 79.2h0M339.9 79.7h0M339.9 83.4h0M339.9 83.1h0M340.0 85.7h0M340.1 80.2h0M340.2 83.4h0M340.2 83.8h0M340.3 84.9h0M340.4 83.3h0M340.5 83.0h0M340.7 81.2h0M340.8 80.6h0M340.9 84.3h0M340.9 85.2h0M340.9 84.4h0M341.1 85.9h0M341.2 81.7h0M341.3 81.9h0M341.4 84.2h0M341.5 84.5h0M341.6 85.5h0M341.6 79.0h0M341.7 82.4h0M341.7 83.5h0M341.9 85.2h0M342.1 81.6h0M342.1 85.7h0M342.2 84.1h0M342.3 80.6h0M342.4 83.0h0M342.7 88.2h0M342.8 87.1h0M342.9 90.0h0M342.9 95.1h0M343.0 88.1h0M343.0 88.7h0M343.1 83.8h0M343.2 85.3h0M343.4 91.7h0M343.5 93.8h0M343.8 90.3h0M343.9 87.3h0M344.0 92.0h0M344.2 93.5h0M344.3 90.6h0M344.5 95.0h0M344.6 87.2h0M344.7 89.8h0M344.9 87.2h0M344.9 85.7h0M345.1 92.6h0M345.1 90.5h0M345.2 91.1h0M345.2 93.8h0M346.0 91.0h0M346.0 89.6h0M346.2 88.6h0M346.2 91.1h0M346.4 88.3h0M346.5 87.6h0M346.7 92.6h0M346.7 87.0h0M346.8 93.3h0M346.9 86.7h0M346.9 87.7h0M347.2 87.3h0M347.5 86.4h0M347.6 87.6h0M347.6 85.8h0M347.8 86.0h0M348.0 94.0h0M348.0 94.3h0M348.4 94.5h0M348.4 92.3h0M348.6 91.9h0M348.7 92.8h0M348.7 92.7h0M348.8 92.0h0M348.9 87.4h0M349.1 92.4h0M349.3 90.7h0M349.3 90.7h0M349.8 90.5h0M349.8 89.3h0M349.9 86.3h0M349.9 89.6h0M350.0 94.5h0M350.1 89.3h0M350.1 93.8h0M350.1 93.7h0M350.2 87.5h0M350.2 92.6h0M350.7 91.1h0M350.8 94.8h0M351.0 87.5h0M351.1 90.1h0M351.2 93.1h0M351.5 89.3h0M351.5 93.1h0M351.8 91.5h0M351.9 89.0h0M352.0 87.9h0M352.0 90.8h0M352.1 90.3h0M352.1 91.9h0M352.6 87.3h0M352.7 93.6h0M352.8 87.4h0M352.9 91.9h0M352.9 88.2h0M353.1 91.5h0M353.2 90.5h0M353.3 90.6h0M353.5 92.1h0M353.5 86.8h0M353.6 86.3h0M353.7 94.7h0M353.7 92.6h0M353.7 85.3h0M353.9 89.0h0M354.0 83.7h0M354.1 86.8h0M354.1 88.2h0M354.2 94.2h0M354.2 83.1h0M354.3 93.6h0M354.3 88.4h0M354.4 88.1h0M354.6 84.9h0M354.7 87.5h0M355.0 91.9h0M355.3 95.1h0M355.5 90.2h0M355.5 90.7h0M355.7 89.3h0M355.9 88.6h0M356.0 92.9h0M356.2 85.6h0M356.2 87.3h0M356.2 81.9h0M356.4 94.3h0M356.4 95.7h0M356.5 82.7h0M356.6 93.5h0M356.9 93.8h0M357.0 84.9h0M357.1 84.6h0M357.4 92.7h0M357.4 89.1h0M357.5 90.6h0M357.6 92.4h0M357.6 91.4h0M357.8 88.2h0M357.9 97.9h0M358.1 95.4h0M358.1 95.9h0M358.8 93.4h0M358.8 95.6h0M359.9 92.7h0M360.0 95.0h0M360.2 94.2h0M360.4 91.0h0M360.4 88.4h0M360.5 79.9h0M360.5 87.9h0M360.6 87.3h0M360.6 95.9h0M360.7 99.9h0M360.9 95.7h0M361.3 88.2h0M361.3 89.9h0M361.5 90.0h0M361.7 83.8h0M361.7 91.4h0M361.9 85.4h0M362.2 81.3h0M362.2 89.3h0M362.4 80.3h0M362.4 92.1h0M362.4 83.1h0M362.5 88.1h0M363.1 84.4h0M363.2 82.3h0M363.2 84.2h0M363.2 80.1h0M363.3 82.2h0M363.3 83.6h0M363.4 85.2h0M363.4 79.3h0M363.5 80.1h0M363.6 86.0h0M363.8 80.9h0M364.2 83.5h0M364.3 84.6h0M364.3 83.9h0M364.4 80.4h0M364.4 83.7h0M364.4 80.7h0M364.6 84.8h0M364.8 80.1h0M365.0 83.2h0M365.0 82.4h0M365.0 86.5h0M365.2 82.3h0M365.5 80.1h0M365.5 82.5h0M365.7 85.1h0M365.7 81.8h0M366.0 79.6h0M366.0 86.0h0M366.3 82.5h0M366.5 81.0h0M366.5 83.3h0M366.6 82.7h0M366.8 84.6h0M366.8 79.1h0M367.2 81.4h0M367.3 80.5h0M367.3 85.5h0M367.5 79.7h0M367.8 83.1h0M367.8 83.9h0M368.0 84.7h0M368.1 84.1h0M368.6 83.4h0M368.6 81.5h0M368.8 87.2h0M368.8 82.5h0M368.9 86.0h0M369.0 80.7h0M369.1 82.8h0M369.3 80.4h0M369.3 85.2h0M369.3 82.4h0M369.4 83.4h0M369.4 82.2h0M369.6 85.4h0M369.7 80.7h0M369.8 86.6h0M369.9 84.0h0M370.0 81.9h0M370.0 81.2h0M370.3 83.1h0M370.5 81.2h0M370.6 82.0h0M370.6 84.2h0M370.7 86.6h0M370.8 84.4h0M370.9 84.2h0M370.9 86.4h0M371.0 86.4h0M371.1 84.6h0M371.6 84.7h0M371.7 83.4h0M371.8 89.0h0M371.9 89.5h0M372.2 90.7h0M372.3 90.1h0M372.4 91.8h0M372.5 95.4h0M372.9 97.5h0M373.1 94.3h0M373.2 94.9h0M373.3 96.0h0M373.5 90.4h0M373.6 95.2h0M374.0 91.2h0M374.0 93.6h0M374.0 91.4h0M374.2 93.2h0M374.8 96.3h0M374.8 101.8h0M374.9 95.5h0M375.4 100.6h0M375.5 99.2h0M375.6 89.2h0M375.7 94.8h0M375.8 99.6h0M375.8 97.7h0M375.8 98.6h0M375.9 96.7h0M375.9 93.7h0M376.0 99.0h0M376.0 101.4h0M376.8 93.6h0M377.3 97.2h0M377.4 96.3h0M377.6 96.4h0M378.1 89.4h0M378.1 94.2h0M378.3 94.7h0M378.4 92.4h0M378.5 96.9h0M378.5 94.9h0M378.6 94.1h0M378.8 97.7h0M378.8 94.0h0M378.8 98.6h0M379.1 91.1h0M379.4 95.6h0M379.4 93.1h0M379.5 98.3h0M379.7 95.7h0M379.9 90.7h0M380.1 91.5h0M380.2 91.9h0M380.3 92.0h0M380.6 95.9h0M380.9 92.1h0M381.6 98.6h0M381.7 96.3h0M381.8 92.6h0M381.8 97.8h0M382.2 92.3h0M382.5 96.8h0M382.6 94.0h0M382.6 94.8h0M382.7 91.2h0M382.7 93.6h0M382.9 88.5h0M383.0 93.8h0M383.0 94.0h0M383.2 95.4h0M383.3 95.2h0M383.5 88.9h0M383.6 96.6h0M383.6 89.0h0M383.7 94.0h0M383.7 93.1h0M384.1 93.4h0M384.2 87.3h0M384.2 93.2h0M384.3 94.2h0M384.7 88.4h0M384.7 93.9h0M385.0 92.0h0M385.0 94.1h0M385.1 92.1h0M385.2 92.8h0M385.3 97.3h0M385.5 90.0h0M385.6 92.7h0M385.8 90.7h0M385.8 91.5h0M385.9 92.3h0M386.0 93.2h0M386.7 85.7h0M386.8 78.3h0M387.0 88.1h0M387.1 88.8h0M387.1 81.5h0M387.3 86.6h0M387.3 78.7h0M387.5 86.3h0M387.6 86.9h0M387.6 86.1h0M387.8 82.0h0M387.9 87.6h0M388.2 81.5h0M388.2 80.4h0M388.2 84.6h0M388.5 83.7h0M388.5 85.7h0M388.5 81.3h0M388.5 86.8h0M388.7 83.2h0M388.9 84.2h0M388.9 85.9h0M389.0 83.3h0M389.1 86.9h0M389.5 82.0h0M390.3 81.6h0M390.5 85.8h0M390.5 86.6h0M390.6 85.6h0M390.8 82.2h0M391.1 87.0h0M391.2 77.0h0M391.6 83.7h0M391.7 79.7h0M391.7 79.9h0M391.7 81.9h0M391.9 76.5h0M392.0 80.0h0M392.2 86.4h0M392.3 84.1h0M392.4 73.8h0M392.5 77.7h0M392.5 76.7h0M392.5 79.7h0M392.5 83.7h0M392.6 79.0h0M392.6 74.9h0M392.7 85.2h0M392.7 75.4h0M392.7 80.7h0M392.7 80.5h0M392.8 81.0h0M392.8 78.6h0M392.9 84.8h0M392.9 77.6h0M393.0 79.0h0M393.0 81.1h0M393.0 79.5h0M393.2 77.6h0M393.2 83.2h0M393.2 86.8h0M393.2 85.4h0M393.3 80.9h0M393.3 84.0h0M393.3 74.9h0M393.4 83.0h0M393.4 80.1h0M393.4 82.1h0M393.5 73.1h0M393.5 73.6h0M393.6 84.1h0M393.7 76.6h0M393.7 81.9h0M393.7 76.2h0M393.8 83.6h0M393.8 82.2h0M393.9 73.1h0M393.9 77.1h0M393.9 75.2h0M393.9 83.4h0M394.0 75.0h0M394.0 77.7h0M394.1 78.6h0M394.1 79.9h0M394.2 83.4h0M394.2 80.9h0M394.2 73.3h0M394.2 79.1h0M394.2 76.2h0M394.4 85.3h0M394.4 80.8h0M394.4 82.3h0M394.4 76.7h0M394.6 83.8h0M394.6 74.1h0M394.9 84.0h0M395.2 76.5h0M395.2 83.6h0M395.4 82.4h0M395.5 78.6h0M395.6 82.9h0M395.7 80.6h0M395.8 82.0h0M396.0 86.0h0M396.2 83.6h0M396.4 80.5h0M396.4 85.3h0M396.6 79.6h0M396.6 81.6h0M396.6 84.1h0M396.7 81.8h0M396.8 85.4h0M396.8 83.4h0M396.9 83.3h0M397.2 80.8h0M397.2 79.7h0M397.3 77.9h0M397.3 85.8h0M397.4 80.8h0M397.5 81.0h0M397.5 86.5h0M397.5 79.1h0M397.6 84.4h0M397.6 83.5h0M397.8 83.9h0M397.9 80.3h0M398.0 83.9h0M398.0 79.6h0M398.3 79.3h0M398.4 79.5h0M398.5 81.6h0M398.6 83.2h0M398.6 83.3h0M398.7 82.8h0M398.7 82.5h0M398.9 84.4h0M398.9 83.2h0M398.9 82.5h0M399.1 78.2h0M399.1 84.5h0M399.4 82.6h0M399.4 81.7h0M399.5 83.9h0M399.5 81.4h0M399.5 79.3h0M399.7 79.2h0M399.7 80.3h0M399.8 76.8h0M399.8 85.5h0M400.0 85.5h0M400.3 80.9h0M400.4 85.1h0M400.5 85.3h0M400.6 82.2h0M400.7 85.9h0M400.8 86.3h0M400.8 86.7h0M401.2 82.8h0M401.2 86.1h0M401.5 80.2h0M401.7 80.8h0M401.9 83.2h0M402.3 84.2h0M402.4 84.0h0M402.4 83.6h0M402.6 86.4h0M402.9 86.6h0M403.0 86.3h0M403.0 87.2h0M403.0 86.5h0M403.3 82.1h0M403.3 83.1h0M403.4 86.3h0M403.4 82.1h0M403.5 87.3h0M403.5 85.0h0M403.6 85.7h0M403.9 82.6h0M404.0 80.6h0M404.2 85.2h0M404.4 86.5h0M404.4 86.4h0M404.4 83.0h0M404.5 85.5h0M404.5 81.0h0M404.9 85.4h0M405.2 87.4h0M405.4 93.6h0M405.5 87.3h0M405.8 88.9h0M405.9 95.6h0M406.0 95.5h0M406.0 90.6h0M406.1 92.7h0M406.1 90.2h0M406.2 90.1h0M406.4 87.6h0M406.6 91.4h0M406.8 89.4h0M407.0 90.5h0M407.2 95.2h0M407.3 92.0h0M407.4 96.9h0M407.4 96.4h0M407.6 88.3h0M407.6 92.0h0M407.6 92.5h0M407.6 91.9h0M407.7 91.9h0M407.7 94.5h0M407.7 93.6h0M407.7 93.9h0M407.7 92.5h0M407.7 96.4h0M407.8 94.8h0M408.0 93.4h0M408.2 91.0h0M408.7 96.0h0M408.7 98.4h0M408.8 97.9h0M408.9 90.2h0M409.2 99.7h0M409.3 94.2h0M409.4 93.3h0M409.7 91.1h0M409.7 100.2h0M409.7 96.5h0M410.5 100.7h0M410.5 98.7h0M410.6 97.9h0M410.7 103.0h0M410.7 92.3h0M411.0 102.0h0M411.0 97.2h0M411.0 96.2h0M411.1 97.0h0M411.1 99.7h0M411.2 92.6h0M411.2 98.9h0M411.5 99.4h0M411.5 98.0h0M411.7 100.4h0M411.7 97.6h0M412.3 97.6h0M412.3 96.6h0M412.5 91.1h0M412.7 93.7h0M412.9 100.0h0M412.9 98.6h0M413.1 95.2h0M413.1 94.2h0M413.2 96.4h0M413.3 96.3h0M413.4 92.5h0M413.5 93.4h0M413.6 90.2h0M413.7 92.2h0M414.0 95.7h0M414.2 92.4h0M414.4 91.6h0M414.5 94.3h0M414.5 94.1h0M414.5 95.2h0M414.6 92.5h0M414.7 95.6h0M414.7 90.5h0M415.1 92.8h0M415.3 91.4h0M415.5 89.8h0M415.5 95.5h0M415.7 92.3h0M415.9 92.2h0M415.9 89.6h0M416.0 92.9h0M416.1 90.7h0M416.3 93.9h0M416.3 89.9h0M416.3 92.4h0M416.4 89.9h0M416.6 94.9h0M416.6 94.0h0M416.6 96.0h0M416.7 89.2h0M416.8 92.4h0M417.0 90.4h0M417.0 91.2h0M417.1 91.7h0M417.5 94.8h0M417.7 92.4h0M417.8 90.9h0M417.8 90.8h0M417.9 92.5h0M418.0 94.1h0M418.1 91.2h0M418.2 96.9h0M418.2 95.7h0M418.4 92.1h0M418.4 91.2h0M418.4 96.6h0M418.5 87.5h0M418.5 91.0h0M418.5 90.7h0M418.6 93.7h0M418.9 91.7h0M419.0 96.1h0M419.0 92.5h0M419.1 89.4h0M419.1 90.7h0M419.1 96.5h0M419.2 96.8h0M419.4 90.5h0M419.7 93.2h0M419.7 91.7h0M419.7 95.9h0M420.1 94.4h0M420.1 93.3h0M420.2 94.3h0M420.4 91.6h0M420.6 94.5h0M420.8 97.0h0M420.8 95.5h0M421.0 97.1h0M421.1 96.1h0M421.2 96.9h0M421.4 93.9h0M421.5 92.7h0M421.5 92.4h0M421.8 94.7h0M421.9 95.0h0M422.0 97.0h0M422.1 92.7h0M422.2 91.0h0M422.3 96.9h0M422.3 93.2h0M422.4 99.8h0M422.5 91.9h0M422.7 95.1h0M423.0 95.3h0M423.2 103.3h0M423.4 101.9h0M423.4 102.0h0M423.6 99.1h0M423.7 92.9h0M423.8 95.7h0M423.8 94.4h0M423.9 99.7h0M424.1 96.1h0M424.1 102.9h0M424.2 95.6h0M424.3 100.7h0M424.3 102.8h0M424.4 102.3h0M424.5 100.9h0M424.6 99.1h0M424.6 99.6h0M424.7 102.9h0M424.8 93.0h0M425.3 98.2h0M425.4 99.4h0M425.6 96.9h0M425.6 97.8h0M426.0 102.1h0M426.1 95.9h0M426.2 99.7h0M426.6 91.7h0M426.6 94.8h0M426.7 100.7h0M426.7 96.0h0M426.9 91.3h0M427.0 93.8h0M427.0 93.5h0M427.1 94.4h0M427.1 92.2h0M427.3 89.9h0M427.4 97.6h0M427.6 90.3h0M427.7 91.8h0M427.8 94.0h0M428.0 88.7h0M428.4 88.2h0M428.5 90.5h0M428.6 90.7h0M428.7 88.7h0M428.8 95.4h0M428.9 92.4h0M428.9 89.6h0M429.0 94.9h0M429.1 89.6h0M429.2 91.0h0M429.4 93.1h0M429.5 85.7h0M429.6 85.4h0M429.7 86.0h0M429.7 80.8h0M429.7 85.7h0M430.3 85.8h0M430.4 87.5h0M430.5 85.3h0M430.7 85.2h0M430.9 86.7h0M431.1 81.8h0M431.2 82.4h0M431.2 84.7h0M431.3 84.3h0M431.4 85.1h0M431.6 86.2h0M431.7 84.8h0M432.1 82.9h0M432.4 86.6h0M432.5 86.7h0M432.5 80.0h0M432.6 82.0h0M432.8 82.3h0M432.9 78.6h0M433.0 85.0h0M433.0 83.4h0M433.0 83.9h0M433.3 83.6h0M433.3 83.3h0M433.8 79.6h0M434.0 79.5h0M434.2 83.7h0M434.2 84.6h0M434.3 81.1h0M434.6 84.2h0M434.6 82.9h0M435.0 80.6h0M435.1 83.2h0M435.3 78.8h0M435.5 83.1h0M435.8 79.6h0M435.9 83.7h0M435.9 84.3h0M436.0 84.9h0M436.1 79.1h0M436.3 84.1h0M436.7 84.9h0M436.8 81.2h0M436.9 82.7h0M437.4 80.2h0M437.4 82.3h0M437.5 79.7h0M437.8 84.6h0M438.0 77.9h0M438.4 82.3h0M438.6 85.5h0M438.6 84.4h0M438.6 79.9h0M438.6 86.4h0M438.8 79.5h0M438.8 78.8h0M439.0 86.3h0M439.5 80.4h0M439.6 84.3h0M439.7 77.6h0M440.1 84.4h0M440.2 80.6h0M440.3 83.6h0M440.3 85.7h0M440.4 83.6h0M440.4 85.3h0M440.4 80.9h0M440.5 82.6h0M440.6 82.9h0M440.7 81.5h0M440.7 81.9h0M441.2 82.5h0M441.2 78.7h0M441.3 79.2h0M441.3 79.7h0M441.3 80.9h0M441.4 84.0h0M441.4 85.6h0M441.5 77.5h0M441.6 81.1h0M441.6 81.0h0M441.9 79.3h0M442.2 81.0h0M442.3 80.9h0M442.4 78.8h0M442.4 78.7h0M442.5 80.2h0M442.8 83.2h0M442.9 84.7h0M443.3 80.6h0M443.3 84.7h0M443.4 83.1h0M444.0 83.1h0M444.2 85.5h0M444.3 77.7h0M444.5 83.1h0M444.6 81.9h0M444.7 85.1h0M444.7 84.5h0M444.7 82.2h0M444.7 78.5h0M444.7 80.1h0M445.1 76.9h0M445.1 83.9h0M445.2 83.7h0M445.3 83.8h0M445.4 84.6h0M445.5 86.3h0M445.8 85.0h0M446.0 84.3h0M446.0 85.1h0M446.1 79.7h0M446.2 81.7h0M446.3 79.5h0M446.3 80.6h0M446.4 79.1h0M446.4 85.3h0M446.6 80.8h0M446.7 83.8h0M446.8 80.7h0M446.8 82.2h0M447.2 79.6h0M447.3 80.0h0M447.3 84.5h0M447.4 81.7h0M447.5 87.1h0M447.9 79.5h0M448.5 80.6h0M448.6 81.6h0M448.7 80.1h0M448.8 81.5h0M449.0 87.2h0M449.0 87.0h0M449.1 82.8h0M449.1 89.3h0M449.3 82.8h0M449.3 86.1h0M449.5 85.1h0M449.6 88.8h0M449.8 87.5h0M450.3 81.0h0M450.4 87.0h0M450.4 94.4h0M450.5 89.0h0M450.6 90.9h0M450.6 88.9h0M450.7 90.8h0M450.8 91.3h0M450.9 91.1h0M451.0 94.2h0M451.0 90.1h0M451.1 95.0h0M451.1 91.2h0M451.1 92.4h0M451.2 94.3h0M451.4 87.7h0M451.4 88.5h0M451.4 92.9h0M451.5 92.6h0M451.5 91.9h0M451.6 91.1h0M451.7 95.0h0M451.7 87.8h0M451.8 94.6h0M451.8 92.8h0M451.9 92.1h0M452.1 93.4h0M452.2 93.7h0M452.3 93.8h0M452.3 92.7h0M452.3 92.8h0M452.4 91.4h0M452.4 95.4h0M452.9 93.7h0M453.0 88.2h0M453.1 94.9h0M453.6 93.1h0M453.6 91.9h0M453.8 88.3h0M453.9 96.2h0M453.9 94.4h0M454.0 98.5h0M454.2 94.3h0M454.3 94.6h0M454.3 91.6h0M454.6 90.2h0M454.8 90.1h0M454.8 94.5h0M454.8 95.5h0M454.9 91.1h0M454.9 94.6h0M455.0 95.1h0M455.1 91.2h0M455.2 93.8h0M455.4 97.0h0M455.5 90.0h0M455.7 89.8h0M455.8 92.7h0M455.8 91.8h0M455.8 91.8h0M456.3 93.0h0M456.4 105.1h0M456.5 93.7h0M456.5 96.7h0M456.6 105.3h0M456.7 104.6h0M456.8 94.5h0M457.2 95.2h0M457.3 95.9h0M457.3 98.5h0M457.7 95.5h0M457.9 95.1h0M458.0 94.7h0M458.3 105.0h0M458.5 103.6h0M458.9 99.7h0M459.1 97.2h0M459.3 98.0h0M459.5 91.7h0M459.5 103.1h0M459.6 101.1h0M459.8 98.4h0M460.0 105.4h0M460.0 92.7h0M460.5 104.5h0M460.6 100.9h0M460.6 95.5h0M460.6 97.1h0M460.8 102.5h0M460.9 100.0h0M461.2 97.0h0M461.3 93.8h0M461.4 97.9h0M461.5 97.8h0M461.6 94.4h0M461.7 94.6h0M462.0 96.7h0M462.4 94.9h0M462.6 97.0h0M462.8 94.7h0M462.8 97.1h0M462.9 95.2h0M463.2 92.7h0M463.6 95.4h0M463.9 95.1h0M463.9 93.7h0M464.2 93.8h0M464.3 90.0h0M464.4 93.9h0M464.4 94.0h0M464.5 93.6h0M464.5 96.7h0M464.7 91.7h0M464.7 90.2h0M464.9 90.6h0M465.3 95.6h0M465.3 96.0h0M465.3 86.8h0M465.4 89.5h0M465.6 94.7h0M465.8 81.1h0M465.9 82.2h0M466.1 84.3h0M466.3 79.8h0M466.3 84.0h0M466.3 82.7h0M466.3 79.5h0M466.3 82.4h0M466.6 78.7h0M466.7 82.1h0M466.8 82.4h0M467.0 79.5h0M467.1 81.0h0M467.4 78.0h0M467.5 80.2h0M467.6 78.8h0M467.9 84.5h0M468.0 79.3h0M468.0 83.9h0M468.1 80.7h0M468.2 84.5h0M468.3 79.6h0M468.3 84.9h0M468.4 79.6h0M468.5 84.6h0M468.7 81.6h0M468.8 79.6h0M469.0 83.2h0M469.1 77.8h0M469.1 81.8h0M469.1 81.3h0M469.2 81.5h0M469.3 84.0h0M469.4 84.3h0M469.8 81.4h0M469.8 83.1h0M469.8 80.8h0M469.8 83.6h0M470.0 80.4h0M470.0 77.7h0M470.9 79.9h0M471.0 85.9h0M471.1 81.7h0M471.1 84.9h0M471.3 79.5h0M471.4 81.7h0M471.4 80.9h0M471.6 86.0h0M471.6 83.1h0M471.9 82.5h0M471.9 86.4h0M472.0 82.2h0M472.0 82.1h0M472.0 77.8h0M472.0 81.8h0M472.0 84.2h0M472.1 80.4h0M472.1 78.7h0M472.3 87.1h0M472.3 84.1h0M472.5 83.7h0M472.6 80.5h0M472.8 85.9h0M473.2 88.7h0M473.4 90.5h0M473.4 88.5h0M473.6 97.5h0M473.6 95.6h0M473.6 90.7h0M474.0 94.5h0M474.0 96.6h0M474.4 97.4h0M474.4 97.8h0M474.4 97.6h0M474.7 97.5h0M474.8 99.5h0M475.0 99.0h0M475.2 99.1h0M475.3 101.4h0M475.4 102.0h0M475.4 101.8h0M475.5 104.2h0M475.7 96.8h0M475.7 105.4h0M476.0 99.1h0M476.0 98.4h0M476.0 101.0h0M476.0 98.6h0M476.1 99.1h0M476.4 95.5h0M476.5 101.8h0M477.0 99.2h0M477.1 93.8h0M477.2 92.2h0M477.2 95.9h0M477.3 96.3h0M477.4 100.5h0M477.4 93.7h0M477.8 104.5h0M478.0 92.9h0M478.2 102.2h0M478.6 97.8h0M478.8 95.8h0M479.2 94.5h0M479.4 84.7h0M479.6 87.0h0M479.6 90.4h0M479.7 91.2h0M479.8 93.9h0M479.9 86.8h0M480.0 84.4h0M480.6 85.0h0M480.7 89.7h0M480.8 87.0h0M480.9 86.8h0M481.1 87.6h0M481.1 90.6h0M481.2 85.9h0M481.4 82.0h0M481.6 88.1h0M481.6 82.2h0M481.6 87.4h0M481.6 90.8h0M481.8 84.7h0M482.3 91.4h0M482.6 87.9h0M482.7 90.1h0M482.9 91.2h0M483.1 83.7h0M483.1 91.7h0M483.2 84.5h0M483.3 86.8h0M483.4 88.1h0M483.4 83.0h0M483.5 91.2h0M483.5 93.8h0M483.9 89.5h0M483.9 87.7h0M483.9 86.8h0M484.1 87.7h0M484.3 83.2h0M484.3 86.6h0M484.4 86.5h0M484.9 87.9h0M484.9 86.4h0M485.1 93.3h0M485.1 95.0h0M485.2 86.9h0M485.6 88.9h0M485.7 83.7h0M485.7 92.7h0M485.9 91.3h0M486.1 86.3h0M486.5 87.9h0M486.6 93.0h0M486.6 91.5h0M486.8 88.5h0M487.1 88.2h0M487.2 92.2h0M487.3 94.4h0M487.4 86.0h0M487.6 89.0h0M487.6 86.3h0M487.7 86.1h0M487.8 88.3h0M488.0 92.6h0M488.0 87.7h0M488.2 87.8h0M488.6 89.5h0M488.7 91.5h0M488.7 87.7h0M488.8 89.3h0M488.8 89.9h0M488.9 84.1h0M489.1 88.4h0M489.2 86.5h0M489.5 89.1h0M489.6 89.5h0M489.6 92.9h0M489.7 83.4h0M489.8 88.6h0M489.8 83.6h0M489.8 85.1h0M489.9 83.8h0M489.9 85.8h0M490.0 84.8h0M490.1 86.5h0M490.1 85.9h0M490.2 84.4h0M490.4 86.7h0M490.5 85.6h0M490.5 88.6h0M490.5 85.8h0M490.5 92.0h0M490.5 90.0h0M490.5 88.0h0M490.6 88.4h0M490.6 92.7h0M490.7 89.5h0M490.7 87.4h0M490.7 88.6h0M490.8 90.8h0M490.8 89.8h0M490.9 87.6h0M491.0 89.0h0M491.3 87.3h0M491.4 82.5h0M491.5 85.3h0M491.5 87.9h0M491.5 87.0h0M491.6 85.6h0M491.7 91.3h0M491.7 89.7h0M491.7 87.9h0M491.8 85.0h0M491.8 85.3h0M491.8 86.5h0M491.9 83.5h0M492.2 86.8h0M492.3 90.8h0M492.4 85.6h0M492.5 82.5h0M492.6 83.6h0M492.6 91.0h0M492.6 88.0h0M492.7 81.7h0M492.9 85.0h0M492.9 86.8h0M493.0 89.3h0M493.1 85.4h0M493.3 101.8h0M493.3 83.5h0M493.5 84.9h0M493.5 80.3h0M493.6 82.4h0M493.8 85.0h0M494.4 84.9h0M494.4 80.8h0M494.6 84.5h0M494.7 83.7h0M494.8 82.3h0M494.9 82.1h0M495.0 88.0h0M495.0 80.4h0M495.1 88.0h0M495.4 79.0h0M495.5 84.8h0M495.5 80.8h0M495.5 82.4h0M495.5 79.0h0M495.6 87.7h0M495.6 86.9h0M496.5 81.4h0M496.5 86.6h0M496.5 82.1h0M496.6 82.8h0M496.7 85.7h0M496.8 80.5h0M497.1 80.2h0M497.1 87.3h0M497.4 84.3h0M497.8 85.0h0M498.2 81.2h0M498.2 79.7h0M498.3 85.2h0M498.6 87.3h0M498.6 83.1h0M498.7 82.7h0M499.1 79.5h0M499.3 86.1h0M499.4 81.3h0M499.4 82.7h0M499.9 80.2h0M499.9 83.1h0M500.1 78.9h0M500.2 85.9h0M500.2 84.0h0M500.3 86.0h0M500.3 84.4h0M500.3 78.0h0M500.4 82.4h0M500.4 81.7h0M500.5 79.5h0M500.9 79.4h0M501.4 80.6h0M501.4 84.4h0M502.0 87.9h0M502.1 80.3h0M502.1 82.7h0M502.3 81.5h0M502.5 78.8h0M502.5 79.8h0M502.6 83.4h0M502.8 78.2h0M502.8 78.5h0M502.8 82.3h0M502.9 78.9h0M502.9 84.7h0M503.0 83.7h0M503.1 77.9h0M503.3 78.4h0M503.7 84.0h0M503.8 83.7h0M503.8 82.5h0M503.8 80.9h0M503.8 80.9h0M503.9 82.1h0M504.0 82.4h0M504.0 86.7h0M504.0 82.6h0M504.3 81.8h0M504.4 84.4h0M504.5 82.9h0M504.6 78.0h0M504.7 83.4h0M504.8 80.9h0M505.2 85.2h0M505.3 79.2h0M505.4 86.9h0M505.6 82.7h0M505.6 83.4h0M505.6 83.0h0M505.9 79.1h0M506.2 88.9h0M506.2 94.4h0M506.3 94.5h0M506.4 89.6h0M506.4 88.4h0M506.5 88.8h0M506.7 92.2h0M506.7 93.8h0M507.0 89.4h0M507.0 91.3h0M507.2 89.3h0M507.4 90.0h0M507.5 94.3h0M507.5 103.2h0M507.5 87.9h0M507.6 92.8h0M507.6 87.4h0M507.7 94.7h0M507.8 95.5h0M507.9 95.2h0M507.9 100.7h0M508.2 92.4h0M508.4 92.6h0M508.8 91.3h0M509.4 91.6h0M509.5 91.5h0M509.5 99.7h0M509.6 90.9h0M509.7 98.6h0M509.7 92.0h0M509.7 99.2h0M509.8 92.3h0M509.9 94.1h0M510.0 96.1h0M510.1 92.0h0M510.4 94.2h0M510.5 93.6h0M510.6 97.5h0M510.7 94.9h0M511.0 96.2h0M511.0 99.0h0M511.2 92.4h0M511.3 106.7h0M511.5 96.3h0M511.5 89.7h0M511.5 92.7h0M511.6 96.7h0M511.7 93.0h0M511.9 102.3h0M512.0 97.8h0M512.0 98.0h0M512.1 93.4h0M512.2 92.2h0M512.3 95.6h0M512.3 101.0h0M512.3 102.5h0M512.4 99.5h0M512.4 98.0h0M512.6 96.7h0M512.6 93.8h0M513.3 98.8h0M513.4 100.9h0M513.4 100.7h0M513.6 96.0h0M513.7 100.9h0M513.8 98.7h0M513.8 103.2h0M513.8 103.5h0M513.9 93.6h0M514.1 96.7h0M514.2 102.2h0M514.4 100.3h0M514.6 99.6h0M514.7 96.8h0M514.7 98.0h0M515.1 99.9h0M515.3 102.4h0M515.3 102.3h0M515.4 101.3h0M515.4 103.2h0M515.5 102.8h0M515.5 97.0h0M515.5 96.0h0M515.5 102.8h0M515.6 94.9h0M515.6 99.8h0M515.6 102.9h0M515.8 98.2h0M515.9 103.0h0M515.9 97.7h0M515.9 102.9h0M515.9 100.5h0M516.0 99.1h0M516.1 96.1h0M516.2 97.7h0M516.2 104.6h0M516.2 98.4h0M516.2 101.5h0M516.2 95.8h0M516.3 96.1h0M516.3 100.6h0M516.3 98.7h0M516.4 96.9h0M516.5 99.5h0M516.5 93.6h0M516.5 95.9h0M516.5 99.5h0M516.6 98.9h0M516.6 96.9h0M516.6 95.4h0M516.9 98.7h0M517.1 98.4h0M517.1 93.3h0M517.2 100.3h0M517.3 102.4h0M517.3 95.0h0M517.6 97.0h0M517.8 96.3h0M517.8 96.7h0M517.8 98.0h0M518.6 97.2h0M518.7 98.2h0M518.8 99.5h0M518.9 99.2h0M518.9 100.3h0M519.0 93.3h0M519.1 91.4h0M519.3 97.7h0M519.4 97.4h0M519.9 98.6h0M519.9 94.5h0M520.1 95.4h0M520.1 95.6h0M520.2 97.1h0M520.4 94.0h0M520.6 92.7h0M520.7 97.9h0M520.8 94.0h0M521.0 99.1h0M521.1 97.8h0M521.1 99.5h0M521.2 92.6h0M521.2 92.9h0M521.2 94.9h0M521.3 100.8h0M521.5 92.6h0M521.7 97.7h0M522.0 96.0h0M522.2 98.0h0M522.2 93.2h0M522.2 94.0h0M522.3 93.6h0M522.3 97.7h0M522.4 92.5h0M522.4 100.9h0M522.6 96.2h0M522.7 98.5h0M522.9 94.8h0M523.0 98.7h0M523.0 94.7h0M523.1 100.3h0M523.1 93.9h0M523.3 96.2h0M523.4 96.8h0M523.4 98.0h0M523.5 97.4h0M523.6 99.6h0M523.7 93.2h0M523.7 96.7h0M523.8 100.8h0M523.9 98.5h0M524.0 98.4h0M524.1 92.5h0M524.2 95.7h0M524.5 96.5h0M524.5 95.7h0M524.5 93.2h0M524.5 98.3h0M524.6 94.8h0M524.6 96.4h0M524.7 97.5h0M524.7 97.5h0M524.8 96.8h0M524.8 98.7h0M525.4 100.3h0M525.4 97.9h0M525.5 99.0h0M525.6 98.5h0M525.6 97.0h0M525.6 97.0h0M525.7 97.8h0M525.8 100.0h0M525.8 99.9h0M525.8 98.5h0M526.6 96.2h0M526.6 100.7h0M526.7 94.7h0M526.7 101.2h0M526.9 96.8h0M526.9 97.4h0M527.2 95.5h0M527.2 100.6h0M527.3 93.5h0M527.6 94.4h0M527.6 99.2h0M527.7 100.6h0M527.7 96.9h0M527.8 89.6h0M527.9 93.0h0M528.0 95.7h0M528.0 95.1h0M528.0 101.5h0M528.2 94.8h0M528.3 94.4h0M528.3 92.7h0M529.0 89.5h0M529.1 87.7h0M529.2 83.0h0M529.3 85.7h0M529.3 90.4h0M529.4 84.1h0M529.5 83.7h0M529.6 87.7h0M529.7 80.0h0M529.8 93.2h0M529.8 82.5h0M530.0 90.5h0M530.3 87.6h0M530.3 80.8h0M530.3 82.8h0M530.4 83.5h0M530.7 84.3h0M530.8 86.2h0M530.8 91.0h0M530.8 86.5h0M530.9 79.4h0M531.0 82.3h0M531.1 82.0h0M531.4 89.2h0M531.5 82.2h0M531.5 85.9h0M531.6 84.7h0M531.7 82.0h0M531.7 82.5h0M531.8 90.3h0M531.8 80.5h0M531.8 78.9h0M531.8 84.2h0M532.0 80.3h0M532.0 90.8h0M532.5 85.0h0M532.5 86.1h0M532.8 81.4h0M533.0 85.1h0M533.0 83.3h0M533.0 84.3h0M533.1 80.8h0M533.3 82.8h0M533.5 86.4h0M533.7 78.4h0M533.8 82.7h0M533.9 78.3h0M534.1 78.8h0M534.1 88.1h0M534.1 79.9h0M534.3 85.3h0M534.4 80.5h0M534.7 78.0h0M534.8 86.8h0M534.8 82.0h0M534.9 85.0h0M535.0 81.4h0M535.2 80.2h0M535.3 78.0h0M535.5 86.8h0M535.5 79.4h0M535.6 80.9h0M535.6 85.7h0M535.7 83.6h0M535.9 86.6h0M535.9 77.8h0M536.0 81.4h0M536.1 80.3h0M536.1 85.4h0M536.3 80.9h0M536.4 80.0h0M536.7 85.7h0M537.1 81.2h0M537.3 83.0h0M537.4 87.4h0M537.6 79.1h0M537.6 78.6h0M537.8 81.9h0M538.0 85.7h0M538.0 76.3h0M538.1 83.8h0M538.3 81.3h0M538.5 76.1h0M538.5 76.0h0M538.6 81.3h0M538.7 74.0h0M538.8 77.3h0M539.0 75.4h0M539.1 81.3h0M539.3 76.3h0M539.3 79.8h0M539.4 80.7h0M539.5 79.9h0M539.6 87.6h0M539.6 77.3h0M539.6 75.7h0M539.8 79.5h0M540.0 81.9h0M540.0 81.8h0M540.0 84.8h0M540.1 75.5h0M540.1 83.1h0M540.2 77.9h0M540.2 85.1h0M540.2 85.8h0M540.2 79.8h0M540.2 80.5h0M540.3 83.3h0M540.3 75.2h0M540.4 77.8h0M540.4 73.3h0M540.4 82.2h0M540.6 81.8h0M540.6 77.9h0M540.6 74.6h0M540.6 76.5h0M540.7 75.9h0M540.7 83.2h0M540.7 81.8h0M540.7 73.5h0M540.7 81.3h0M540.8 77.3h0M540.9 72.8h0M540.9 81.9h0M540.9 73.1h0M540.9 81.0h0M540.9 73.3h0M540.9 81.2h0M540.9 78.9h0M541.0 81.7h0M541.0 84.5h0M541.1 80.1h0M541.2 81.0h0M541.2 73.9h0M541.3 85.8h0M541.3 73.3h0M541.4 76.9h0M541.4 80.2h0M541.5 84.8h0M541.5 73.0h0M541.5 84.0h0M541.5 74.3h0M541.6 84.9h0M541.7 82.3h0M541.7 84.1h0M541.7 75.2h0M541.7 83.5h0M541.8 76.1h0M542.0 81.8h0M542.0 84.2h0M542.0 82.9h0M542.2 80.5h0M542.3 84.0h0M542.4 79.0h0M542.5 79.0h0M542.6 78.8h0M542.6 75.8h0M542.6 79.3h0M542.8 82.6h0M543.0 79.0h0M543.0 83.9h0M543.0 84.1h0M543.2 79.2h0M543.3 83.0h0M543.4 84.4h0M543.4 78.0h0M543.5 83.6h0M543.9 81.6h0M544.0 84.8h0M544.3 87.3h0M544.5 78.3h0M544.5 84.4h0M544.7 84.1h0M544.9 83.3h0M545.1 87.3h0M545.5 82.4h0M545.8 81.7h0M545.9 82.5h0M546.3 78.9h0M546.4 86.2h0M546.6 81.9h0M546.7 78.3h0M547.0 82.7h0M547.1 88.5h0M547.4 83.3h0M547.4 76.8h0M547.4 80.2h0M547.5 86.9h0M547.5 82.9h0M547.5 86.2h0M547.6 85.5h0M547.6 83.8h0M547.6 82.8h0M547.6 87.3h0M547.7 85.8h0M547.8 80.6h0M547.8 83.4h0M548.0 88.8h0M548.1 81.1h0M548.3 80.8h0M548.4 83.7h0M548.4 83.1h0M548.6 84.0h0M548.6 81.8h0M548.9 79.5h0M549.0 78.5h0M549.1 80.6h0M549.2 81.6h0M549.3 81.8h0M549.4 82.3h0M549.4 81.9h0M549.5 84.4h0M549.6 84.9h0M549.7 82.2h0M550.1 80.2h0M550.1 84.6h0M550.1 83.0h0M550.1 86.7h0M550.3 81.8h0M550.5 81.7h0M550.6 80.2h0M550.6 82.8h0M550.7 83.6h0M550.9 84.9h0M551.2 84.6h0M551.7 82.3h0M551.8 84.2h0M551.9 84.4h0M552.1 85.7h0M552.6 87.9h0M552.8 84.7h0M552.8 91.6h0M553.2 93.5h0M553.2 87.9h0M553.3 90.6h0M553.7 96.0h0M553.8 89.9h0M553.9 87.8h0M554.1 89.4h0M554.1 92.0h0M554.2 92.6h0M554.3 94.1h0M554.3 90.9h0M554.3 92.7h0M554.6 92.4h0M554.8 93.9h0M554.8 95.1h0M554.8 94.7h0M554.9 93.4h0M555.0 95.8h0M555.1 91.0h0M555.1 95.5h0M555.2 95.8h0M555.3 98.0h0M555.5 95.7h0M555.5 96.7h0M555.6 90.8h0M555.6 92.8h0M556.0 94.5h0M556.2 95.7h0M556.3 95.8h0M556.3 93.0h0M556.8 98.2h0M556.9 93.3h0M557.2 96.4h0M557.3 95.7h0M557.6 98.3h0M557.6 95.6h0M557.6 98.7h0M557.7 95.3h0M557.8 96.9h0M558.1 94.0h0M558.2 100.2h0M558.3 101.3h0M558.3 97.0h0M558.5 93.8h0M558.5 99.9h0M558.7 93.7h0M558.7 97.2h0M559.1 98.5h0M559.3 97.6h0M559.3 98.8h0M559.5 96.4h0M559.6 97.9h0M559.6 97.0h0M559.6 99.3h0M559.7 98.4h0M559.8 103.0h0M560.0 100.6h0M560.2 99.4h0M560.2 101.3h0M560.3 99.6h0M560.3 96.3h0M560.3 99.6h0M560.6 93.0h0M560.6 96.5h0M560.6 104.9h0M560.7 95.3h0M560.8 94.0h0M560.9 101.6h0M561.0 103.8h0M561.3 97.0h0M561.4 101.2h0M561.4 98.6h0M561.5 99.5h0M561.5 96.5h0M561.6 104.4h0M561.8 94.3h0M561.9 95.2h0M562.0 101.5h0M562.0 100.2h0M562.0 96.5h0M562.0 93.5h0M562.1 93.7h0M562.2 100.9h0M562.4 103.6h0M562.7 92.2h0M562.7 99.6h0M563.0 103.3h0M563.0 100.5h0M563.1 95.4h0M563.1 96.4h0M563.3 95.3h0M563.3 101.1h0M563.6 99.9h0M563.7 99.7h0M563.8 98.6h0M563.8 95.9h0M563.8 103.5h0M563.9 97.4h0M564.5 102.4h0M564.5 106.9h0M564.5 92.7h0M564.7 96.2h0M564.7 98.7h0M564.7 98.6h0M564.9 96.1h0M564.9 99.8h0M565.0 95.7h0M565.1 98.5h0M565.1 93.0h0M565.3 100.9h0M565.4 95.0h0M565.4 94.4h0M565.4 98.2h0M565.7 94.3h0M565.7 98.0h0M565.9 98.2h0M566.0 100.4h0M566.1 93.2h0M566.1 98.5h0M566.2 91.7h0M566.4 97.6h0M566.4 99.0h0M566.5 93.4h0M566.7 97.1h0M566.8 94.6h0M566.8 92.5h0M567.0 94.8h0M567.1 96.9h0M567.1 98.6h0M567.3 99.2h0M567.4 92.1h0M567.6 97.2h0M567.7 98.1h0M567.7 92.6h0M567.9 96.3h0M567.9 93.7h0M568.1 94.2h0M568.2 95.8h0M568.2 98.0h0M568.3 94.2h0M568.5 96.8h0M568.6 89.1h0M568.7 95.5h0M568.9 93.7h0M569.0 95.8h0M569.0 92.8h0M569.0 90.7h0M569.2 97.3h0M569.2 97.4h0M569.3 91.2h0M569.4 91.4h0M569.5 97.4h0M569.7 94.0h0M569.7 96.9h0M569.8 97.1h0M569.8 95.6h0M570.0 93.1h0M570.1 96.2h0M570.1 94.6h0M570.3 96.1h0M570.4 97.6h0M570.5 91.6h0M570.6 95.2h0M570.6 98.3h0M570.6 93.4h0M570.7 95.4h0M570.8 92.2h0M570.8 91.1h0M571.0 94.3h0M571.1 95.0h0M571.2 98.6h0M571.3 94.4h0M571.5 96.6h0M571.5 97.0h0M571.5 96.3h0M571.7 95.2h0M571.8 94.4h0M572.0 92.8h0M572.2 89.9h0M572.2 93.5h0M572.2 92.0h0M572.4 93.8h0M572.7 90.1h0M573.1 90.1h0M573.2 93.6h0M573.6 96.9h0M573.7 92.5h0M574.0 92.9h0M574.1 95.9h0M574.5 92.3h0M574.5 91.1h0M574.6 96.9h0M574.8 93.2h0M574.8 92.8h0M574.9 91.7h0M575.2 95.1h0M575.3 96.6h0M575.3 90.1h0M575.4 91.5h0M575.4 95.6h0M575.6 89.1h0M575.7 94.8h0M575.7 96.1h0M575.8 90.6h0M575.9 89.3h0M575.9 95.2h0M576.0 89.6h0M576.1 94.3h0M576.4 93.8h0M576.4 96.1h0M576.5 90.5h0M576.5 89.7h0M576.6 91.3h0M576.6 95.6h0M576.8 90.0h0M576.9 87.2h0M577.0 90.4h0M577.0 92.7h0M577.1 96.2h0M577.1 87.1h0M578.1 85.1h0M578.1 95.6h0M578.3 94.5h0M578.5 84.0h0M578.5 84.6h0M578.6 92.7h0M578.6 95.3h0M578.8 89.1h0M578.8 87.0h0M578.9 87.2h0M579.2 86.4h0M579.4 84.3h0M579.4 93.3h0M579.6 85.3h0M579.6 95.7h0M579.7 87.5h0M579.8 88.5h0M580.1 87.8h0M580.1 85.3h0M580.1 88.5h0M580.4 90.4h0M581.0 90.2h0M581.3 83.8h0M581.4 85.6h0M581.5 84.5h0M581.6 91.1h0M581.7 78.6h0M581.9 89.3h0M582.0 86.5h0M582.2 84.4h0M582.3 82.2h0M582.3 94.4h0M582.4 84.1h0M582.5 85.6h0M582.6 87.6h0M582.6 87.1h0M582.7 87.7h0M582.7 90.2h0M582.8 90.4h0M582.8 94.1h0M582.9 95.0h0M583.0 85.4h0M583.1 81.8h0M583.2 85.1h0M583.2 83.8h0M583.4 90.1h0M583.5 82.0h0M583.5 93.6h0M583.5 92.4h0M584.1 91.1h0M584.2 80.9h0M584.3 94.0h0M584.6 84.9h0M584.6 91.2h0M584.7 88.1h0M584.8 90.1h0M585.0 81.5h0M585.2 84.9h0M585.3 91.7h0M585.5 85.0h0M585.7 87.6h0M585.8 90.3h0M585.9 87.4h0M586.2 93.2h0M586.2 93.1h0M586.3 91.9h0M586.5 81.5h0M586.7 94.1h0M586.8 86.7h0M586.8 87.8h0M586.9 88.2h0M587.1 87.9h0M587.3 92.0h0M587.3 88.5h0M587.4 89.9h0M587.8 82.4h0M587.8 88.5h0M587.9 87.6h0M588.0 89.7h0M588.3 93.8h0M588.5 88.9h0M588.6 92.3h0M588.8 86.5h0M588.9 93.1h0M589.3 91.9h0M589.3 89.1h0M589.3 93.4h0M589.5 86.5h0M590.2 87.5h0M590.3 88.0h0M590.4 90.8h0M590.6 89.3h0M590.8 83.7h0M591.1 87.0h0M591.4 90.2h0M591.4 91.8h0M591.4 88.0h0M591.4 86.6h0M591.6 88.6h0M591.7 90.3h0M591.8 89.2h0M591.9 91.4h0M591.9 91.8h0M592.0 90.5h0M592.0 85.9h0M592.1 88.9h0M592.2 93.1h0M592.2 94.4h0M592.5 90.0h0M592.5 88.1h0M592.7 93.7h0M592.7 88.5h0M592.7 90.0h0M593.2 88.0h0M593.3 92.7h0M593.4 89.9h0M593.4 91.9h0M593.5 89.4h0M593.6 88.8h0M593.7 85.3h0M593.7 93.0h0M593.7 88.9h0M593.9 92.0h0M593.9 90.3h0M594.1 89.4h0M594.2 92.1h0M594.2 95.6h0M594.3 86.4h0M594.5 88.5h0M594.5 89.4h0M594.5 85.8h0M594.7 93.5h0M595.0 87.1h0M595.3 82.6h0M595.3 85.9h0M595.6 89.8h0M595.8 90.6h0M595.8 94.8h0M595.9 90.8h0M595.9 82.1h0M595.9 87.3h0M596.5 85.7h0M596.5 91.2h0M596.6 91.8h0M596.6 90.0h0M597.0 90.1h0M597.1 88.4h0M597.1 88.5h0M597.1 91.9h0M597.2 91.6h0M597.4 85.2h0M597.5 92.0h0M597.9 85.6h0M598.0 87.0h0M598.1 90.3h0M598.2 95.2h0M598.5 92.8h0M598.7 92.1h0M598.8 89.9h0M598.9 92.0h0M598.9 92.0h0M599.0 92.1h0M599.0 92.1h0M599.1 87.0h0M599.2 90.5h0M599.3 87.1h0M599.3 89.4h0M599.4 95.2h0M599.5 92.4h0M599.5 85.9h0M599.7 87.4h0M599.7 94.2h0M600.3 89.4h0M600.4 92.5h0M600.5 93.5h0M600.7 88.9h0M601.4 88.6h0M601.4 93.0h0M601.8 94.0h0M602.1 87.1h0M602.5 93.1h0M602.5 94.7h0M602.5 91.2h0M602.7 96.3h0M602.8 90.7h0M602.9 96.6h0M603.0 87.4h0M603.0 95.4h0M603.1 88.5h0M603.2 93.1h0M603.6 94.3h0M603.7 92.0h0M603.8 91.4h0M604.3 88.5h0M604.4 93.1h0M604.5 88.8h0M604.6 94.8h0M605.1 89.1h0M605.3 94.2h0M605.3 93.8h0M605.5 93.8h0M605.6 90.4h0M605.8 98.2h0M605.9 95.4h0M606.0 98.3h0M606.5 98.3h0M606.7 93.2h0M606.7 94.6h0M607.0 100.2h0M607.0 96.6h0M607.1 96.0h0M607.5 97.3h0M607.5 99.6h0M607.6 98.9h0M607.6 96.3h0M607.9 91.0h0M608.2 95.1h0M608.8 94.1h0M608.9 92.7h0M608.9 92.4h0M609.5 94.6h0M609.5 91.8h0M609.8 83.9h0M610.0 81.4h0M610.1 85.5h0M610.2 91.7h0M610.3 87.1h0M610.4 83.8h0M610.5 83.0h0M610.8 83.8h0M610.8 87.8h0M610.9 85.3h0M611.3 84.8h0M611.8 87.9h0M611.8 81.1h0M611.8 85.5h0M612.1 86.9h0M612.2 88.1h0M612.4 84.4h0M612.6 84.0h0M612.9 87.9h0M613.1 88.0h0M613.1 86.0h0M613.2 81.4h0M613.3 86.4h0M613.7 84.3h0M613.7 84.3h0M613.8 85.6h0M614.4 83.4h0M614.5 87.5h0M614.6 85.4h0M614.6 83.2h0M614.7 86.4h0M614.7 88.0h0M614.9 87.2h0M614.9 82.7h0M614.9 84.8h0M615.0 83.1h0M615.0 82.0h0M615.0 85.3h0M615.3 85.6h0M615.3 84.7h0M615.3 85.0h0M615.6 83.6h0M616.0 97.7h0M616.7 96.5h0M616.8 101.2h0M616.9 97.4h0M616.9 103.2h0M617.0 103.4h0M617.2 100.0h0M617.2 99.4h0M617.3 105.5h0M617.3 102.0h0M617.5 98.7h0M617.5 101.3h0M617.7 101.8h0M617.7 99.3h0M617.9 103.2h0M618.3 100.8h0M618.5 100.8h0M618.5 97.9h0M618.6 100.4h0M618.7 104.1h0M618.9 96.8h0M618.9 96.3h0M619.0 101.8h0M619.0 104.4h0M619.1 105.8h0M619.1 105.4h0M619.2 103.3h0M619.2 104.1h0M619.4 105.4h0M619.5 98.6h0M619.7 104.6h0M619.7 97.4h0M619.8 99.7h0M619.8 101.9h0M619.9 102.8h0M620.0 101.8h0M620.6 100.8h0M620.7 97.2h0M620.9 94.5h0M621.0 98.3h0M621.1 102.0h0M621.1 102.2h0M621.1 102.7h0M621.2 98.4h0M621.7 105.6h0M621.7 102.6h0M621.9 105.9h0M622.0 101.3h0M622.3 104.4h0M622.3 96.8h0M622.4 100.6h0M622.4 98.4h0M622.7 105.2h0M622.8 98.5h0M622.9 104.7h0M623.1 100.9h0M623.1 100.7h0M623.1 102.4h0M623.2 95.6h0M623.2 99.7h0M623.2 100.4h0M623.4 96.8h0M623.5 97.2h0M623.6 96.5h0M623.6 100.4h0M624.3 99.4h0M624.6 95.4h0M624.8 100.2h0M625.0 95.9h0M625.1 94.0h0M625.1 91.8h0M625.4 98.3h0M625.8 92.4h0M625.9 94.2h0M626.0 94.4h0M626.0 96.3h0M626.6 92.5h0M626.7 92.7h0M626.9 97.3h0M627.0 95.6h0M627.0 92.2h0M627.2 93.5h0M627.3 93.5h0M627.4 94.1h0M627.5 94.7h0M627.5 91.4h0M627.6 91.7h0M627.7 95.5h0M627.8 91.0h0M627.9 90.9h0M628.1 91.7h0M628.2 89.4h0M628.3 93.7h0M628.6 94.8h0M628.6 95.4h0M629.0 94.3h0M629.0 97.8h0M629.1 87.6h0M629.3 88.7h0M629.5 89.9h0M629.6 90.2h0M629.8 88.4h0M630.0 93.7h0M630.0 83.9h0M630.3 87.2h0M630.3 86.3h0M630.4 93.0h0M630.7 87.7h0M631.0 88.1h0M631.1 88.4h0M631.2 88.0h0M631.2 91.2h0M631.3 85.5h0M631.3 84.3h0M631.5 87.5h0M631.5 86.4h0M631.6 87.6h0M631.6 87.4h0M631.8 88.3h0M631.8 86.5h0M632.1 87.1h0M632.1 85.4h0M632.2 85.8h0M632.5 86.0h0M632.7 88.5h0M633.0 87.0h0M633.1 84.8h0M633.2 88.9h0M633.7 88.8h0M633.9 84.8h0M634.0 81.7h0M634.1 82.8h0M634.1 86.2h0M634.5 89.1h0M634.8 84.7h0M634.9 86.3h0M634.9 88.2h0M635.0 85.8h0M635.4 84.7h0M635.4 83.3h0M635.7 84.2h0M635.9 86.6h0M635.9 82.5h0M636.0 81.4h0M636.2 80.5h0M636.5 84.4h0M636.6 80.1h0M636.6 80.6h0M636.8 80.1h0M637.0 87.4h0M637.1 82.2h0M637.1 85.9h0M637.2 81.0h0M637.3 86.2h0M637.4 84.0h0M637.5 89.6h0M638.0 82.8h0M638.1 78.4h0M638.3 81.2h0M638.6 82.9h0M638.6 79.1h0M638.7 84.2h0M638.9 88.1h0M638.9 86.4h0M639.0 79.0h0M639.0 87.9h0M639.1 86.5h0M639.1 75.2h0M639.3 81.4h0M639.4 81.7h0M639.4 81.3h0M639.5 80.7h0M639.6 85.7h0M639.7 83.6h0M639.7 88.0h0M640.5 88.5h0M640.7 81.9h0M640.8 87.2h0M640.9 76.0h0M640.9 83.5h0M641.2 87.4h0M641.2 85.5h0M641.2 80.1h0M641.3 85.8h0M641.4 76.5h0M641.5 76.7h0M641.5 79.7h0M641.5 87.3h0M641.5 75.5h0M641.6 87.4h0M641.6 77.5h0M641.7 85.0h0M641.7 77.5h0M641.8 80.5h0M641.9 77.3h0M642.0 78.6h0M642.0 87.4h0M642.2 76.1h0M642.2 82.4h0M642.3 74.5h0M642.3 85.6h0M642.3 87.7h0M642.4 76.4h0M642.4 79.1h0M642.4 78.1h0M642.4 80.6h0M642.5 84.3h0M642.5 79.4h0M642.6 85.9h0M642.6 87.0h0M642.6 83.5h0M642.7 74.4h0M642.7 86.3h0M642.8 78.3h0M642.8 87.7h0M643.0 83.8h0M643.3 83.3h0M643.6 78.7h0M643.6 78.3h0M643.7 79.3h0M644.0 83.2h0M644.0 87.0h0M644.1 84.6h0M644.3 81.5h0M644.4 88.1h0M644.4 80.5h0M644.4 87.5h0M644.5 80.8h0M644.5 85.7h0M644.6 85.4h0M644.7 80.2h0M644.7 83.2h0M645.2 88.2h0M645.3 87.3h0M645.3 90.2h0M645.5 88.7h0M645.7 84.5h0M645.8 83.3h0M645.9 83.2h0M646.3 86.9h0M646.4 83.7h0M646.5 87.2h0M646.8 88.0h0M647.2 86.1h0M647.3 84.6h0M647.4 86.9h0M647.5 83.6h0M647.7 87.5h0M647.8 89.0h0M647.8 83.1h0M647.9 87.7h0M648.0 86.7h0M648.0 87.2h0M648.1 84.7h0M648.1 85.1h0M648.1 84.9h0M648.2 85.2h0M648.3 84.2h0M648.4 86.3h0M648.6 86.9h0M648.6 88.9h0M648.7 90.5h0M648.8 88.0h0M648.9 80.8h0M649.3 86.1h0M649.8 87.6h0M649.9 84.3h0M650.0 87.4h0M650.0 83.9h0M650.3 88.8h0M650.6 85.2h0M650.8 91.4h0M650.8 88.9h0M650.8 91.6h0M651.0 85.4h0M651.0 89.7h0M651.1 89.3h0M651.4 84.6h0M651.5 90.3h0M651.6 94.7h0M651.7 84.9h0M651.8 84.7h0M651.9 83.9h0M652.0 87.5h0M652.0 92.7h0M652.0 87.7h0M652.2 91.4h0M652.3 88.3h0M652.3 88.8h0M652.3 94.7h0M652.3 97.1h0M652.4 86.3h0M652.4 91.8h0M652.4 99.7h0M652.6 83.7h0M652.8 88.7h0M652.9 85.5h0M653.4 88.8h0M653.4 92.4h0M653.5 92.2h0M653.5 93.9h0M653.9 88.2h0M653.9 94.7h0M654.2 94.8h0M654.4 98.9h0M654.4 90.8h0M654.5 100.3h0M654.6 99.7h0M654.6 96.2h0M654.7 91.9h0M655.0 97.0h0M655.3 96.7h0M655.4 94.0h0M655.4 89.8h0M655.4 101.5h0M655.6 95.1h0M655.7 100.4h0M655.7 107.3h0M655.9 104.7h0M656.2 102.3h0M656.3 92.0h0M656.5 91.6h0M656.6 90.5h0M656.8 91.4h0M657.1 99.8h0M657.1 101.3h0M657.1 91.1h0M657.2 91.8h0M657.2 94.0h0M657.2 97.7h0M657.3 98.1h0M657.4 96.9h0M657.5 93.3h0M657.7 93.4h0M657.8 95.8h0M658.0 91.1h0M658.9 93.4h0M659.1 92.6h0M659.2 92.7h0M659.2 97.0h0M659.2 97.1h0M659.3 92.0h0M659.3 92.9h0M659.3 91.3h0M659.5 93.1h0M659.6 89.0h0M659.6 95.4h0M659.6 91.7h0M659.7 88.8h0M659.8 90.9h0M660.0 90.3h0M660.1 90.7h0M660.1 88.4h0M660.2 93.4h0M660.6 91.8h0M660.7 91.2h0M660.8 91.5h0M660.8 91.4h0M660.9 92.3h0M660.9 93.3h0M661.2 94.0h0M661.3 87.6h0M661.5 95.1h0M661.6 89.7h0M661.6 90.2h0M661.9 89.5h0M662.1 95.7h0M662.1 88.6h0M662.1 92.1h0M662.2 93.9h0M662.2 95.2h0M662.2 87.3h0M662.3 92.1h0M662.3 91.9h0M662.6 93.5h0M662.6 92.0h0M662.7 89.6h0M662.7 89.3h0M663.0 91.7h0M663.1 92.4h0M663.5 95.3h0M663.7 88.7h0M663.7 91.0h0M664.0 90.8h0M664.0 89.7h0M664.2 89.2h0M664.3 95.5h0M664.5 89.9h0M664.5 92.3h0M664.5 93.0h0M664.6 94.1h0M664.7 94.6h0M664.8 94.8h0M664.8 91.0h0M664.9 93.9h0M664.9 89.8h0M665.3 92.2h0M665.6 97.4h0M665.7 95.8h0M665.8 96.8h0M665.8 89.7h0M665.9 91.6h0M666.0 95.5h0M666.2 91.8h0M666.3 91.2h0M666.3 99.9h0M666.3 89.4h0M666.3 92.6h0M666.4 94.7h0M666.5 91.5h0M666.8 91.0h0M666.8 94.6h0M666.9 103.0h0M666.9 96.9h0M667.0 97.0h0M667.3 92.9h0M667.6 104.5h0M667.7 97.4h0M667.7 99.2h0M667.7 98.2h0M667.8 98.8h0M667.9 99.4h0M667.9 97.9h0M668.0 100.4h0M668.4 101.9h0M668.6 95.5h0M668.7 97.4h0M668.7 99.5h0M668.8 94.4h0M668.9 102.4h0M669.0 92.7h0M669.1 102.9h0M669.3 94.7h0M669.8 101.3h0M669.9 99.1h0M670.0 106.6h0M670.0 101.9h0M670.1 98.3h0M670.1 92.9h0M670.3 104.8h0M670.4 97.7h0M670.4 95.9h0M670.5 103.2h0M671.1 94.6h0M671.1 100.0h0M671.1 100.0h0M671.2 101.4h0M671.2 103.4h0M671.5 101.9h0M671.9 97.0h0M672.2 101.7h0M672.5 96.8h0M672.5 97.1h0M672.6 103.6h0M672.7 99.4h0M672.7 98.1h0M672.9 106.2h0M672.9 103.4h0M672.9 102.0h0M673.0 101.2h0M673.1 101.1h0M673.2 95.6h0M673.4 102.8h0M673.5 93.7h0M673.5 97.7h0M673.6 94.2h0M673.7 96.6h0M673.7 107.1h0M673.7 98.8h0M673.8 96.1h0M673.9 101.0h0M674.0 101.2h0M674.0 97.8h0M674.1 105.8h0M674.3 103.5h0M674.4 100.2h0M674.6 99.6h0M674.8 96.7h0M675.2 99.1h0M675.3 103.3h0M675.6 94.0h0M675.7 93.2h0M675.8 93.1h0M675.9 92.2h0M676.1 90.5h0M676.2 91.1h0M676.6 87.7h0M676.7 89.0h0M676.7 91.0h0M676.9 90.6h0M677.0 88.5h0M677.1 91.2h0M677.1 89.4h0M677.1 90.6h0M677.2 89.3h0M677.7 86.3h0M678.0 87.9h0M678.2 86.2h0M678.4 87.2h0M678.5 88.0h0M678.5 88.5h0M678.6 90.3h0M678.8 83.6h0M678.9 88.9h0M678.9 86.8h0M678.9 87.9h0M678.9 85.4h0M679.2 91.3h0M679.2 86.7h0M679.5 86.0h0M679.6 84.5h0M679.7 87.9h0M679.7 88.4h0M679.9 86.4h0M679.9 87.0h0M679.9 86.2h0M680.1 86.2h0M680.3 87.7h0M680.6 90.1h0M680.7 85.7h0M680.8 89.9h0M680.8 84.9h0M680.9 89.1h0M681.1 87.7h0M681.1 90.7h0M681.4 88.4h0M681.5 86.6h0M681.6 88.2h0M681.6 87.7h0M681.6 88.7h0M681.6 89.8h0M681.7 87.9h0M681.8 86.0h0M681.9 85.7h0M681.9 87.5h0M681.9 85.7h0M682.1 91.3h0M682.2 89.9h0M682.7 90.9h0M682.8 83.2h0M683.0 85.4h0M683.1 91.6h0M683.5 90.2h0M683.5 90.2h0M683.8 83.8h0M683.9 88.8h0M684.2 88.5h0M684.2 89.6h0M684.2 91.9h0M684.3 88.3h0M684.6 83.4h0M684.6 86.4h0M684.9 85.6h0M685.4 82.4h0M685.4 83.0h0M685.6 87.0h0M685.6 89.1h0M685.9 89.7h0M685.9 86.8h0M686.2 90.5h0M686.3 87.8h0M686.5 85.7h0M686.5 88.0h0M686.7 87.3h0M686.7 87.0h0M686.8 88.6h0M686.8 88.2h0M686.8 91.4h0M686.9 83.8h0M687.3 87.1h0M687.4 88.0h0M687.7 86.5h0M687.8 89.9h0M687.8 84.9h0M687.9 92.5h0M688.0 88.5h0M688.0 90.1h0M688.1 83.9h0M688.1 88.0h0M688.2 82.1h0M688.2 88.1h0M688.2 82.8h0M688.3 85.0h0M688.3 84.6h0M688.7 89.0h0M688.7 86.1h0M688.7 84.8h0M688.7 91.9h0M689.0 82.6h0M689.4 86.1h0M689.4 84.3h0M689.4 90.7h0M689.5 82.2h0M689.5 85.9h0M689.5 83.7h0M689.5 88.1h0M689.6 90.6h0M689.7 81.7h0M689.7 88.9h0M689.7 86.2h0M690.0 90.3h0M690.0 87.3h0M690.2 82.4h0M690.2 91.0h0M690.4 83.6h0M690.4 87.7h0M690.5 89.5h0M690.8 84.0h0M691.2 89.8h0M691.2 85.7h0M691.3 88.0h0M691.5 83.3h0M691.5 85.3h0M691.6 82.0h0M691.7 90.4h0M691.8 84.5h0M692.0 84.9h0M692.1 84.9h0M692.4 92.0h0M692.8 90.6h0M692.9 87.4h0M693.4 90.0h0M693.5 83.9h0M693.7 83.7h0M693.7 92.8h0M693.7 87.6h0M693.9 93.2h0M693.9 89.1h0M694.1 85.1h0M694.6 89.9h0M694.6 95.3h0M694.7 91.8h0M694.9 91.2h0M695.0 92.6h0M695.1 89.0h0M695.3 88.6h0M695.3 91.5h0M695.5 89.2h0M695.9 87.7h0M696.0 92.4h0M696.1 93.7h0M696.4 89.0h0M696.4 82.5h0M696.4 95.5h0M696.5 91.6h0M696.5 94.2h0M696.5 90.6h0M697.1 88.4h0M697.2 90.7h0M697.5 88.1h0M697.5 82.8h0M697.9 87.7h0M698.0 87.3h0M698.0 91.5h0M698.5 91.0h0M698.5 89.1h0M698.5 94.8h0M698.7 94.2h0M698.7 92.9h0M698.8 87.7h0M698.9 95.4h0M699.0 91.7h0M699.1 87.3h0M699.3 88.2h0M699.3 91.8h0M699.4 91.1h0M699.4 87.6h0M699.8 94.4h0M699.8 90.5h0M700.0 89.2h0M700.1 91.0h0M700.1 90.8h0M700.2 86.5h0M700.4 91.0h0M700.8 93.8h0M700.9 90.7h0M701.0 93.2h0M701.1 91.0h0M701.2 92.1h0M701.4 89.9h0M701.4 92.5h0M701.5 94.9h0M701.7 90.8h0M701.7 89.5h0M702.3 95.5h0M702.3 89.5h0M702.7 97.5h0M702.9 94.2h0M703.0 91.5h0M703.1 98.7h0M703.2 102.9h0M703.2 93.9h0M703.5 99.3h0M703.5 91.7h0M703.6 96.9h0M703.7 98.4h0M703.9 94.7h0M704.0 100.0h0M704.1 96.6h0M704.1 100.5h0M704.1 99.4h0M704.2 96.3h0M704.3 103.2h0M704.4 92.2h0M704.4 93.6h0M704.5 92.7h0M705.1 92.0h0M705.3 101.9h0M705.4 103.2h0M705.5 100.0h0M705.5 92.4h0M705.6 89.1h0M705.7 98.8h0M706.0 91.4h0M706.0 91.6h0M706.0 97.5h0M706.2 98.4h0M706.3 93.8h0M706.4 102.0h0M706.5 101.5h0M706.5 102.4h0M706.6 98.1h0M706.6 96.4h0M706.6 98.0h0M707.0 93.9h0M707.1 101.9h0M707.1 100.5h0M707.1 102.4h0M707.1 102.9h0M707.2 99.7h0M707.5 102.1h0M707.6 104.3h0M707.7 97.0h0M707.8 104.3h0M708.0 99.5h0M708.2 98.1h0M708.3 103.2h0M708.4 98.6h0M708.7 101.3h0M708.8 100.5h0M708.9 95.5h0M709.0 103.7h0M709.0 95.8h0M709.1 94.6h0M709.1 94.9h0M709.4 93.7h0M709.5 100.5h0M709.5 92.1h0M709.5 97.0h0M709.5 91.0h0M709.6 99.1h0M709.7 91.2h0M710.0 96.9h0M710.2 90.8h0M710.2 90.2h0M710.4 90.1h0M710.4 94.7h0M710.5 95.5h0M710.6 88.3h0M710.6 90.5h0M710.6 91.8h0M710.7 97.1h0M710.7 93.1h0M710.8 96.8h0M710.9 95.6h0M711.1 88.6h0M711.2 96.0h0M711.3 89.0h0M711.4 93.5h0M711.5 90.8h0M711.7 94.5h0M711.7 87.8h0M712.2 90.7h0M712.3 88.8h0M712.7 87.2h0M712.7 88.8h0M712.7 86.4h0M712.9 89.0h0M712.9 88.3h0M713.0 83.7h0M713.1 84.0h0M713.3 83.3h0M713.3 84.3h0M713.4 82.2h0M713.5 82.2h0M713.5 84.7h0M714.0 84.5h0M714.1 88.3h0M714.1 79.4h0M714.2 83.4h0M714.5 87.1h0M714.6 85.5h0M714.6 86.9h0M714.8 78.6h0M715.2 80.5h0M715.3 78.7h0M715.4 77.8h0M715.4 80.7h0M715.4 78.9h0M715.4 81.0h0M715.5 85.1h0M715.5 77.9h0M715.6 82.2h0M715.6 85.5h0M715.7 88.0h0M715.7 82.5h0M715.7 84.1h0M715.8 83.8h0M715.9 84.6h0M715.9 85.2h0M716.0 80.1h0M716.1 80.3h0M716.1 81.5h0M716.1 78.5h0M716.2 84.7h0M716.2 86.2h0M716.2 77.4h0M716.2 85.6h0M716.5 79.0h0M716.5 83.9h0M716.5 86.6h0M716.6 83.6h0M716.7 81.5h0M716.9 86.9h0M717.2 81.0h0M717.4 89.9h0M717.5 88.1h0M717.6 81.7h0M717.6 79.2h0M717.6 83.5h0M717.7 84.0h0M717.8 82.7h0M718.0 82.8h0M718.0 83.2h0M718.1 85.4h0M718.2 83.4h0M718.3 87.9h0M718.5 87.3h0M718.6 84.5h0M718.7 88.0h0M718.8 88.0h0M718.8 87.9h0M718.8 84.3h0M718.8 85.8h0M719.0 87.6h0M719.3 80.9h0M719.3 83.0h0M719.3 84.1h0M719.4 87.4h0M719.6 82.1h0M719.7 83.6h0M720.0 85.5h0M720.0 82.1h0M720.0 84.3h0M720.1 84.9h0M720.2 86.3h0M720.4 85.7h0M720.4 87.8h0M721.0 88.6h0M721.2 92.6h0M721.3 93.4h0M721.3 92.4h0M721.5 97.8h0M721.5 95.2h0M721.6 96.2h0M721.7 92.6h0M721.7 97.5h0M722.1 98.8h0M722.3 91.5h0M722.4 93.9h0M722.7 94.6h0M722.8 95.6h0M722.9 98.1h0M723.0 99.0h0M723.2 99.0h0M723.6 102.6h0M723.6 100.2h0M723.7 98.7h0M724.1 98.0h0M724.1 95.4h0M724.2 98.3h0M724.3 100.5h0M724.4 96.2h0M724.4 97.0h0M724.5 101.0h0M724.7 97.5h0M724.9 101.8h0M725.0 98.6h0M725.3 94.6h0M725.4 79.8h0M725.5 93.2h0M725.6 82.3h0M725.6 85.9h0M725.6 93.7h0M725.7 88.1h0M725.7 92.4h0M725.8 92.8h0M725.8 87.4h0M726.3 88.3h0M726.4 86.2h0M726.5 84.2h0M726.6 82.6h0M726.6 84.9h0M727.3 81.4h0M727.3 88.2h0M727.6 94.8h0M727.7 94.5h0M727.9 96.8h0M728.0 94.0h0M728.1 95.0h0M728.2 96.2h0M728.5 92.4h0M728.6 95.3h0M729.0 94.4h0M729.3 93.7h0M729.6 93.9h0M729.6 92.0h0M729.7 95.6h0M729.7 89.3h0M729.8 95.8h0M729.9 97.7h0M729.9 94.7h0M729.9 93.7h0M730.1 85.8h0M730.1 95.1h0M730.4 85.1h0M730.6 93.1h0M731.0 90.4h0M731.3 96.2h0M731.3 86.9h0M731.4 90.0h0M731.5 88.3h0M731.7 92.7h0M731.8 89.8h0M732.1 89.3h0M732.1 90.5h0M732.2 87.9h0M732.3 93.3h0M732.4 86.7h0M732.4 86.0h0M732.4 87.0h0M732.7 90.0h0M732.7 84.9h0M732.8 94.7h0M732.8 89.9h0M733.2 93.4h0M733.4 88.0h0M733.4 88.8h0M733.7 91.5h0M733.8 91.7h0M734.0 89.3h0M734.1 89.6h0M734.2 87.3h0M734.4 86.8h0M734.4 95.3h0M734.6 90.1h0M734.6 86.5h0M734.7 87.9h0M734.7 87.8h0M734.7 85.9h0M734.9 82.3h0M734.9 88.1h0M735.0 85.9h0M735.0 80.0h0M735.0 91.1h0M735.0 86.7h0M735.4 90.2h0M735.4 88.3h0M735.5 88.4h0M735.5 89.9h0M735.6 85.3h0M735.7 85.7h0M735.8 90.4h0M735.9 87.4h0M736.0 91.3h0M736.5 88.2h0M736.5 86.5h0M736.5 86.2h0M736.5 86.5h0M736.6 82.3h0M736.7 88.0h0M736.8 88.1h0M737.0 91.6h0M737.0 87.1h0M737.1 81.7h0M737.1 91.0h0M737.1 85.9h0M737.3 87.8h0M737.3 87.7h0M737.5 89.2h0M737.6 88.8h0M737.7 83.2h0M737.7 92.0h0M737.7 83.7h0M737.7 83.3h0M738.3 89.3h0M738.4 84.9h0M738.5 82.7h0M738.8 83.1h0M738.8 88.9h0M739.0 90.5h0M739.1 88.3h0M739.1 85.3h0M739.2 86.3h0M739.4 83.6h0M739.9 83.2h0M739.9 87.4h0M740.1 82.8h0M740.1 82.8h0M740.2 87.1h0M740.3 84.9h0M740.4 86.6h0M740.4 85.5h0M740.4 83.5h0M740.4 84.1h0M740.5 83.2h0M740.5 84.4h0M740.8 85.9h0M740.9 81.4h0M741.0 81.4h0M741.1 88.8h0M741.1 84.4h0M741.4 83.1h0M741.5 81.9h0M741.6 82.0h0M741.8 86.0h0M741.9 80.4h0M742.0 84.3h0M742.1 85.8h0M742.1 84.4h0M742.4 88.5h0M742.4 86.2h0M743.1 81.9h0M743.2 88.2h0M743.2 89.1h0M743.3 87.2h0M743.3 80.8h0M743.6 82.5h0M743.7 88.5h0M743.7 84.7h0M744.0 82.8h0M744.0 84.7h0M744.1 84.9h0M744.4 86.3h0M744.8 89.4h0M744.9 88.5h0M744.9 81.2h0M745.1 84.1h0M745.2 85.2h0M745.3 83.9h0M745.3 84.6h0M745.4 88.8h0M745.6 86.4h0M745.7 90.7h0M745.8 85.2h0M745.8 88.4h0M745.9 86.1h0M745.9 87.1h0M746.3 83.0h0M746.3 89.7h0M746.3 82.7h0M746.4 84.0h0M746.6 82.9h0M746.8 86.2h0M746.9 84.7h0M747.0 83.5h0M747.4 83.2h0M747.6 87.6h0M747.6 85.9h0M747.6 84.6h0M747.7 86.9h0M747.9 86.7h0M748.0 89.9h0M748.0 81.7h0M748.2 79.9h0M748.3 84.5h0M748.5 87.6h0M748.5 85.5h0M748.5 82.9h0M748.8 84.8h0M748.9 82.0h0M748.9 89.6h0M749.0 82.1h0M749.3 88.4h0M749.4 84.5h0M749.4 82.8h0M749.5 88.5h0M749.5 88.0h0M749.5 83.1h0M749.6 87.4h0M749.6 81.8h0M749.7 88.6h0M750.1 88.3h0M750.1 85.5h0M750.2 82.6h0M750.5 86.3h0M750.7 86.9h0M751.0 87.0h0M751.0 91.0h0M751.1 84.0h0M751.2 90.7h0M751.2 85.2h0M751.5 88.5h0M751.5 86.7h0M751.7 86.4h0M751.7 87.9h0M751.8 89.7h0M751.9 85.8h0M751.9 88.8h0M751.9 88.5h0M752.0 88.5h0M752.3 85.5h0M752.3 87.4h0M752.4 85.0h0M752.4 89.8h0M752.4 88.6h0M752.5 92.0h0M752.7 84.3h0M752.7 90.4h0M752.7 89.5h0M752.8 86.3h0M752.9 90.9h0M753.1 85.0h0M753.2 85.3h0M754.0 93.6h0M754.1 91.9h0M754.2 98.8h0M754.2 92.1h0M754.4 95.4h0M754.5 96.3h0M754.6 96.6h0M754.6 96.7h0M754.7 98.4h0M755.0 96.4h0M755.0 94.8h0M755.1 97.6h0M755.1 93.5h0M755.1 98.3h0M755.2 90.6h0M755.2 93.6h0M755.5 98.6h0M755.7 92.2h0M755.7 93.3h0M755.8 97.7h0M755.8 97.0h0M755.9 95.0h0M756.1 97.6h0M756.2 92.0h0M756.2 93.1h0M756.4 93.8h0M756.6 93.5h0M756.6 96.2h0M756.9 96.9h0M757.2 94.8h0M757.2 99.3h0M757.3 95.0h0M757.4 97.1h0M757.8 99.7h0M757.9 97.9h0M758.0 96.5h0M758.1 94.8h0M758.2 98.2h0M758.3 97.5h0M758.4 96.8h0M758.6 100.6h0M758.8 95.9h0M759.1 98.1h0M759.2 98.1h0M759.2 98.9h0M759.2 95.3h0M759.4 99.9h0M759.4 98.9h0M759.7 96.8h0M759.8 96.1h0M760.0 96.6h0M760.1 94.8h0M760.3 95.9h0M760.3 100.8h0M760.3 99.6h0M760.4 96.3h0M760.4 92.2h0M760.6 99.3h0M760.7 93.0h0M760.7 93.1h0M760.7 96.5h0M760.8 97.4h0M760.8 91.3h0M761.1 92.8h0M761.4 100.1h0M761.5 92.1h0M761.7 91.4h0M761.8 95.4h0M761.9 95.6h0M762.0 96.9h0M762.0 97.6h0M762.0 91.5h0M762.2 92.9h0M762.3 99.0h0M762.4 90.3h0M762.6 93.2h0M762.6 92.4h0M762.6 95.9h0M762.7 92.6h0M762.8 90.2h0M762.8 90.7h0M763.0 97.5h0M763.1 93.8h0M763.2 92.9h0M763.3 94.3h0M763.4 97.8h0M763.5 88.7h0M763.7 93.2h0M763.8 92.8h0M764.0 86.3h0M764.1 92.5h0M764.1 88.5h0M764.3 84.8h0M764.4 84.8h0M764.6 91.7h0M764.6 85.2h0M764.7 89.1h0M764.7 88.3h0M764.8 90.1h0M765.0 82.5h0M765.0 85.7h0M765.1 86.8h0M765.1 85.2h0M765.1 89.6h0M765.1 87.2h0M765.3 86.3h0M765.7 90.2h0M766.0 91.2h0M766.3 86.2h0M766.5 92.7h0M766.6 87.3h0M767.0 93.3h0M767.0 88.2h0M767.1 85.8h0M767.2 91.8h0M767.3 87.0h0M767.8 93.2h0M767.8 86.2h0M768.0 87.6h0M768.1 93.7h0M768.5 91.1h0M768.5 89.4h0M768.5 86.8h0M768.6 89.3h0M768.6 92.4h0M768.9 95.8h0M769.1 85.6h0M769.4 85.4h0M769.5 94.7h0M769.6 92.0h0M769.7 95.8h0M769.7 93.1h0M769.9 95.0h0M770.0 94.8h0M770.1 92.5h0M770.2 99.9h0M770.3 98.6h0M770.5 92.0h0M770.7 90.9h0M771.1 91.0h0M771.5 94.5h0M771.9 92.8h0M771.9 100.7h0M771.9 95.4h0M772.1 97.2h0M772.5 96.5h0M772.5 93.9h0M772.5 99.0h0M772.8 94.6h0M772.8 100.7h0M772.9 94.3h0M772.9 100.3h0M773.0 98.0h0M773.1 100.0h0M773.5 95.7h0M773.5 102.4h0M773.7 102.1h0M773.7 98.0h0M773.8 99.8h0M774.0 97.7h0M774.0 95.3h0M774.0 95.8h0M774.1 98.8h0M774.2 98.9h0M774.4 97.5h0M774.5 98.7h0M774.8 97.4h0M774.9 91.5h0M775.0 100.1h0M775.2 97.8h0M775.3 96.8h0M775.5 103.6h0M775.8 94.1h0M775.9 98.3h0M775.9 97.8h0M775.9 99.1h0M776.0 97.3h0M776.2 87.8h0M776.6 88.1h0M776.6 83.5h0M776.8 97.3h0M776.9 95.5h0M777.0 86.0h0M777.2 85.9h0M777.3 95.3h0M777.3 84.0h0M777.4 97.1h0M777.4 98.3h0M777.7 88.9h0M777.7 96.3h0M777.8 98.7h0M777.8 92.2h0M778.0 92.9h0M778.0 92.0h0M778.2 91.8h0M778.2 92.3h0M778.3 91.1h0M778.3 92.4h0M778.5 94.8h0M778.8 83.5h0M778.9 88.2h0M779.0 86.0h0M779.0 93.6h0M779.3 88.6h0M779.5 84.0h0M779.5 94.9h0M779.5 87.7h0M779.7 87.9h0M780.0 94.5h0M780.0 87.8h0M780.0 85.8h0M780.2 93.2h0M780.3 88.3h0M780.4 85.4h0M780.4 86.7h0M780.5 86.0h0M780.7 86.9h0M780.7 80.3h0M780.8 88.5h0M781.0 91.1h0M781.3 89.8h0M781.7 83.9h0M781.8 80.8h0M782.0 86.8h0M782.0 90.1h0M782.2 90.1h0M782.2 89.2h0M782.3 91.0h0M782.4 90.5h0M782.8 85.1h0M782.8 92.0h0M782.9 84.0h0M783.0 88.5h0M783.4 84.3h0M783.4 83.5h0M783.5 88.5h0M783.6 92.5h0M783.7 90.0h0M783.7 90.0h0M784.0 87.0h0M784.0 91.5h0M784.2 87.3h0M784.2 87.5h0M784.3 90.2h0M784.5 84.2h0M784.5 91.9h0M784.5 84.0h0M784.7 87.3h0M784.8 86.2h0M784.8 82.7h0M785.2 87.7h0M785.3 87.0h0M785.4 86.7h0M785.5 90.7h0M785.5 85.1h0M785.6 87.6h0M785.7 83.3h0M785.8 83.4h0M785.8 87.2h0M786.2 83.2h0M786.3 85.6h0M786.5 85.8h0M786.7 86.6h0M786.7 87.1h0M786.8 84.3h0M786.9 87.2h0M786.9 82.8h0M787.0 83.3h0M787.0 82.0h0M787.2 89.9h0M787.3 85.2h0M787.3 85.8h0M787.4 83.0h0M787.4 82.8h0M787.4 86.1h0M787.6 88.1h0M787.6 87.9h0M787.8 85.6h0M787.8 84.8h0M787.8 83.9h0M787.9 84.0h0M788.0 90.5h0M788.0 85.2h0M788.5 83.8h0M788.6 88.4h0M788.8 87.0h0M788.8 85.7h0M789.0 82.4h0M789.1 88.0h0M789.2 84.0h0M789.2 85.7h0M789.3 85.3h0M789.5 87.0h0M789.5 87.4h0M789.7 84.1h0M789.7 85.7h0M789.8 83.3h0M789.9 83.6h0M790.1 86.9h0M790.1 84.3h0M790.3 84.0h0M790.5 84.9h0M790.7 83.9h0M790.8 86.4h0M791.1 87.0h0M791.3 86.9h0M791.3 87.0h0M791.7 82.8h0M791.8 81.4h0M792.1 82.3h0M792.1 86.2h0M792.1 85.0h0M792.3 83.1h0M792.3 85.6h0M792.3 83.3h0M792.4 83.3h0M792.5 84.5h0M792.5 83.6h0M793.0 84.7h0M793.1 86.6h0M793.1 82.9h0M793.3 83.7h0M793.4 82.3h0M793.4 82.5h0M793.4 84.3h0M793.9 84.4h0M793.9 80.2h0M793.9 80.6h0M794.2 85.4h0M794.6 85.2h0M794.6 84.0h0M794.7 82.8h0M794.8 81.4h0M795.1 81.4h0M795.1 87.2h0M795.2 81.6h0M795.2 83.7h0M795.4 84.9h0M795.5 86.3h0M795.5 85.0h0M795.5 86.3h0M795.7 87.4h0M795.9 83.4h0M795.9 85.6h0M796.0 83.0h0M796.1 81.0h0M796.1 82.4h0M796.3 81.0h0M796.4 83.6h0M796.7 81.7h0M796.9 81.2h0M796.9 81.6h0M797.2 81.9h0M797.4 81.3h0M797.5 83.5h0M797.5 82.6h0M797.6 85.7h0M797.6 83.2h0M797.7 87.3h0M797.7 83.5h0M797.8 86.3h0M798.0 86.1h0M798.0 87.6h0M798.2 86.5h0M798.3 85.5h0M798.4 84.9h0M798.5 87.5h0M798.8 86.4h0M798.8 89.9h0M798.8 83.9h0M799.0 86.2h0M799.2 86.1h0M799.3 86.6h0M799.4 89.0h0M799.4 90.8h0M799.8 91.3h0M799.9 85.3h0M799.9 90.0h0M799.9 86.5h0M800.2 88.9h0M800.3 90.1h0M800.4 92.6h0M800.7 84.9h0M800.9 88.5h0M801.0 86.5h0M801.0 88.7h0M801.0 91.5h0M801.0 89.3h0M801.3 87.6h0M801.6 91.7h0M801.6 89.0h0M801.7 90.2h0M801.8 87.8h0M801.8 92.8h0M801.8 92.8h0M802.0 91.5h0M802.0 88.4h0M802.1 90.8h0M802.1 90.9h0M802.1 91.8h0M802.2 89.5h0M802.4 92.3h0M802.5 94.7h0M802.6 93.4h0M802.7 90.2h0M802.7 96.7h0M802.9 95.6h0M803.0 96.7h0M803.0 95.5h0M803.1 95.2h0M803.2 94.1h0M803.2 90.2h0M803.3 91.1h0M803.3 95.7h0M803.5 91.6h0M803.6 93.6h0M803.6 94.0h0M803.6 87.8h0M803.7 89.4h0M803.9 96.6h0M803.9 96.3h0M804.1 97.5h0M804.2 93.4h0M804.4 92.2h0M804.6 97.1h0M804.6 95.4h0M804.7 93.1h0M804.7 92.9h0M804.8 97.5h0M805.0 92.8h0M805.2 89.4h0M805.2 100.2h0M805.4 102.0h0M805.5 94.4h0M805.5 97.8h0M805.6 90.0h0M805.6 97.2h0M805.7 95.7h0M805.8 97.0h0M805.9 97.0h0M806.0 97.4h0M806.1 98.8h0M806.3 98.7h0M806.5 99.2h0M806.5 94.6h0M806.7 102.3h0M806.8 102.4h0M806.8 97.8h0M806.8 95.6h0M806.9 92.6h0M807.0 95.9h0M807.0 92.3h0M807.0 98.0h0M807.1 100.5h0M807.1 93.5h0M807.2 94.8h0M807.3 99.7h0M807.3 97.0h0M807.4 100.9h0M807.6 91.6h0M807.9 97.7h0M808.0 100.3h0M808.0 100.1h0M808.2 99.0h0M808.3 92.5h0M808.4 102.6h0M808.4 101.9h0M808.8 96.5h0M808.9 94.5h0M808.9 100.1h0M809.4 99.7h0M809.7 100.9h0M809.8 96.2h0M809.9 99.5h0M809.9 95.0h0M809.9 100.7h0M810.0 102.0h0M810.1 94.4h0M810.3 93.4h0M810.5 94.6h0M810.7 97.1h0M810.9 97.6h0M811.1 98.4h0M811.2 93.9h0M811.3 100.0h0M811.4 100.2h0M811.5 98.5h0M811.5 97.2h0M811.6 99.9h0M811.6 99.0h0M811.7 92.7h0M811.8 99.0h0M811.8 98.8h0M812.0 98.4h0M812.1 98.2h0M812.1 95.8h0M812.2 99.9h0M812.3 95.6h0M812.7 94.1h0M812.9 100.0h0M813.0 99.2h0M813.5 95.8h0M813.6 98.4h0M813.7 95.3h0M813.9 93.6h0M814.0 94.8h0M814.3 97.0h0M814.4 98.9h0M814.4 97.6h0M814.5 96.5h0M814.6 98.8h0M814.7 94.1h0M814.7 95.3h0M814.8 97.4h0M815.3 94.3h0M815.4 95.0h0M815.6 92.7h0M815.6 94.8h0M815.9 96.2h0M815.9 92.5h0M816.0 94.7h0M816.1 92.8h0M816.3 92.9h0M816.3 93.4h0M816.8 92.2h0M816.9 93.2h0M817.1 91.9h0M817.1 90.7h0M817.3 93.7h0M817.4 94.7h0M817.5 94.1h0M817.5 92.3h0M817.5 96.2h0M817.6 95.8h0M817.6 97.7h0M817.6 95.2h0M817.7 96.6h0M817.7 98.9h0M817.7 100.1h0M817.9 94.8h0M818.1 93.4h0M818.1 98.4h0M818.2 93.4h0M818.3 93.2h0M818.4 93.2h0M818.5 91.5h0M818.6 97.9h0M818.6 95.6h0M818.6 92.0h0M818.6 91.8h0M818.9 94.7h0M818.9 96.6h0M819.0 94.9h0M819.1 98.5h0M819.1 95.3h0M819.4 96.7h0M819.4 92.7h0M819.5 93.2h0M819.5 92.1h0M819.7 93.4h0M819.7 92.6h0M819.8 96.5h0M819.8 96.7h0M819.9 91.4h0M819.9 88.9h0M819.9 94.1h0M820.0 96.5h0M820.0 92.6h0M820.1 98.8h0M820.3 96.0h0M820.5 93.4h0M820.6 96.4h0M820.7 96.0h0M820.7 96.2h0M820.7 97.3h0M821.0 99.6h0M821.1 93.1h0M821.1 94.5h0M821.1 97.5h0M821.2 96.8h0M822.0 91.1h0M822.4 98.0h0M823.2 95.0h0M823.3 93.9h0M823.4 89.3h0M823.7 97.8h0M823.8 91.2h0M823.9 95.2h0M824.1 92.4h0M824.1 86.9h0M824.3 97.8h0M824.3 96.5h0M824.4 89.2h0M824.8 91.2h0M825.3 91.3h0M825.8 85.3h0M825.8 84.4h0M825.8 89.0h0M825.9 89.8h0M826.1 96.0h0M826.2 88.2h0M826.3 95.0h0M826.4 83.7h0M826.6 94.2h0M826.6 94.6h0M826.9 89.1h0M827.1 88.0h0M827.1 94.9h0M827.2 96.9h0M827.2 90.7h0M827.3 90.9h0M827.3 83.6h0M827.3 94.2h0M827.4 89.1h0M827.5 91.6h0M827.6 84.5h0M827.6 95.4h0M827.7 88.9h0M827.8 88.6h0M827.8 90.3h0M827.8 90.6h0M828.2 92.9h0M828.2 93.2h0M828.4 88.1h0M828.4 84.2h0M828.9 93.5h0M829.0 78.4h0M829.5 81.1h0M829.5 83.6h0M829.5 82.0h0M829.6 84.3h0M829.7 94.3h0M829.7 84.8h0M829.8 84.2h0M830.1 91.8h0M830.2 87.7h0M830.4 80.6h0M830.5 83.9h0M830.5 88.8h0M831.1 87.7h0M831.3 83.4h0M831.4 85.3h0M831.6 92.5h0M831.9 83.3h0M832.1 92.4h0M832.1 80.9h0M832.1 92.4h0M832.1 85.6h0M832.2 86.1h0M832.2 87.1h0M832.3 90.5h0M832.4 81.7h0M832.4 89.3h0M832.5 86.4h0M832.5 79.0h0M832.5 85.5h0M832.7 83.0h0M832.8 89.1h0M833.0 91.3h0M833.0 87.1h0M833.4 78.0h0M833.5 91.3h0M833.5 88.9h0M833.6 92.9h0M833.6 94.1h0M833.9 86.9h0M834.1 92.9h0M834.1 85.4h0M834.2 89.5h0M834.3 86.9h0M834.5 86.5h0M834.5 84.4h0M834.9 88.1h0M835.0 88.7h0M835.1 84.9h0M835.2 90.7h0M835.5 93.4h0M835.6 86.2h0M835.7 84.8h0M836.2 91.9h0M836.2 90.1h0M836.2 83.5h0M836.3 87.2h0M836.3 90.3h0M836.7 85.2h0M837.1 93.0h0M837.2 88.3h0M837.3 91.5h0M837.5 89.2h0M837.5 89.8h0M837.6 89.2h0M837.8 90.7h0M838.3 81.6h0M838.3 83.5h0M838.4 89.4h0M838.4 94.1h0M838.5 89.6h0M838.6 91.6h0M838.9 92.5h0M839.0 91.9h0M839.1 92.5h0M839.1 88.9h0M839.3 80.7h0M839.6 89.5h0M839.7 92.6h0M839.7 89.1h0M840.0 93.0h0M840.1 84.9h0M840.2 90.5h0M840.3 90.7h0M840.4 93.1h0M840.4 85.1h0M840.5 88.3h0M840.6 90.1h0M840.9 90.0h0M840.9 84.3h0M841.0 87.7h0M841.1 84.9h0M841.1 87.6h0M841.1 86.5h0M841.2 84.7h0M841.3 86.0h0M841.5 84.2h0M841.6 87.4h0M841.7 88.8h0M841.8 87.6h0M841.8 85.1h0M841.9 87.6h0M842.0 82.1h0M842.5 82.8h0M842.7 83.6h0M843.0 81.8h0M843.4 84.8h0M843.6 84.1h0M843.7 83.7h0M843.7 85.7h0M843.8 84.0h0M843.9 87.8h0M844.0 88.0h0M844.1 84.1h0M844.2 85.3h0M844.2 85.1h0M844.2 84.5h0M844.2 82.9h0M844.3 84.1h0M844.4 88.2h0M844.4 81.8h0M844.6 84.8h0M844.7 85.1h0M845.0 89.6h0M845.1 84.5h0M845.2 85.7h0M845.3 83.7h0M845.3 79.2h0M845.3 84.7h0M845.3 86.1h0M845.7 82.4h0M845.8 85.4h0M846.0 84.8h0M846.0 86.2h0M846.4 83.0h0M846.5 83.1h0M846.6 87.4h0M846.7 81.2h0M847.0 86.7h0M847.1 82.5h0M847.3 90.2h0M847.4 84.7h0M847.5 87.9h0M847.5 83.0h0M847.8 85.1h0M848.0 89.9h0M848.1 95.6h0M848.2 81.7h0M848.3 88.0h0M848.4 90.1h0M848.5 84.0h0M848.9 89.3h0M848.9 88.5h0M848.9 86.4h0M849.1 82.6h0M849.2 95.8h0M849.3 86.9h0M849.9 86.0h0M850.1 87.9h0M850.3 89.0h0M851.0 93.2h0M851.1 92.2h0M851.2 93.1h0M851.2 86.6h0M851.3 84.4h0M851.3 94.7h0M851.5 94.8h0M851.6 89.7h0M851.6 93.6h0M851.7 95.2h0M851.7 96.7h0M851.7 94.4h0M851.9 94.6h0M851.9 95.9h0M852.0 93.4h0M852.1 93.2h0M852.1 96.4h0M852.3 93.0h0M852.3 92.1h0M852.6 89.5h0M852.9 95.1h0M852.9 93.9h0M853.0 96.1h0M853.0 97.7h0M853.0 90.5h0M853.0 92.2h0M853.4 98.2h0M853.5 92.6h0M853.5 95.9h0M853.7 96.1h0M854.1 96.5h0M854.1 95.4h0M854.2 93.2h0M854.3 93.1h0M854.3 94.7h0M854.4 94.8h0M854.7 98.1h0M854.8 92.1h0M854.9 97.7h0M855.0 93.3h0M855.2 92.5h0M855.3 93.8h0M855.3 97.4h0M855.4 92.2h0M855.4 98.7h0M855.4 94.2h0M855.8 92.1h0M855.9 95.6h0M855.9 98.1h0M855.9 93.4h0M856.1 91.3h0M856.4 97.5h0M856.5 88.1h0M856.5 91.5h0M856.6 98.6h0M856.6 96.8h0M856.8 82.6h0M857.0 96.1h0M857.0 89.5h0M857.3 93.9h0M857.3 91.3h0M857.7 94.0h0M857.7 97.5h0M857.8 91.8h0M857.9 95.8h0M858.0 92.6h0M858.0 96.4h0M858.1 99.8h0M858.2 96.8h0M858.2 91.4h0M858.2 99.8h0M858.5 90.1h0M858.5 91.9h0M858.5 93.2h0M858.6 95.1h0M858.7 98.0h0M858.9 92.8h0M858.9 98.1h0M859.2 94.2h0M859.2 95.9h0M859.3 89.9h0M859.3 87.0h0M859.4 92.0h0M859.5 98.7h0M859.5 95.5h0M859.7 94.7h0M859.8 97.9h0M859.9 100.6h0M859.9 98.0h0M860.3 90.4h0M860.3 98.0h0M860.4 92.2h0M860.5 96.7h0M860.6 103.4h0M860.8 100.6h0M860.9 87.7h0M861.0 88.8h0M861.2 88.3h0M861.2 100.8h0M861.2 93.6h0M861.2 96.8h0M861.3 89.6h0M861.5 95.4h0M861.5 91.2h0M861.5 93.1h0M861.6 94.0h0M861.8 100.4h0M861.9 89.8h0M862.0 94.9h0M862.0 99.9h0M862.0 96.9h0M862.4 93.3h0M862.6 94.2h0M862.8 101.3h0M862.9 103.5h0M863.1 95.3h0M863.2 95.6h0M863.2 97.1h0M863.3 102.0h0M863.4 99.5h0M863.4 100.1h0M863.9 93.9h0M864.0 95.5h0M864.0 90.6h0M864.0 102.4h0M864.0 93.6h0M864.2 99.3h0M864.2 97.6h0M864.3 100.8h0M864.5 96.2h0M864.5 93.3h0M864.7 98.3h0M864.7 95.1h0M864.7 97.2h0M864.7 95.3h0M864.8 93.8h0M865.0 103.3h0M865.0 102.0h0M865.2 95.1h0M865.3 99.9h0M865.3 89.5h0M865.4 101.4h0M865.5 95.0h0M865.6 102.6h0M865.7 95.9h0M865.8 102.4h0M865.9 97.5h0M866.1 91.9h0M866.3 101.2h0M866.6 95.5h0M866.7 93.9h0M866.8 102.3h0M866.8 98.9h0M867.0 99.5h0M867.1 99.2h0M867.3 97.9h0M867.4 102.1h0M867.5 92.3h0M867.6 99.4h0M867.7 92.6h0M867.8 99.5h0M868.0 101.9h0M868.2 97.9h0M868.2 92.8h0M868.2 102.3h0M868.3 102.4h0M868.3 96.4h0M868.3 95.2h0M868.4 99.7h0M868.5 100.5h0M868.5 98.5h0M868.8 98.8h0M868.8 95.5h0M868.8 96.4h0M868.8 91.7h0M868.9 97.8h0M868.9 94.6h0M869.0 99.0h0M869.0 95.3h0M869.2 91.6h0M869.2 89.7h0M869.4 92.5h0M869.5 94.5h0M870.0 94.8h0M870.1 95.3h0M870.1 97.8h0M870.2 96.6h0M870.4 98.2h0M870.5 96.4h0M870.7 96.8h0M871.3 95.4h0M871.4 91.5h0M871.5 90.8h0M871.7 92.3h0M872.2 92.5h0M872.4 98.7h0M872.4 95.0h0M872.5 91.6h0M872.6 91.8h0M872.7 92.9h0M872.8 94.1h0M872.9 93.1h0M872.9 94.4h0M873.4 93.4h0M873.6 94.9h0M873.7 92.5h0M873.8 94.5h0M873.8 94.5h0M873.9 90.1h0M874.1 93.1h0M874.2 96.2h0M874.4 98.1h0M874.5 94.1h0M874.6 90.2h0M874.6 94.6h0M875.2 89.8h0M875.3 86.8h0M875.5 94.7h0M875.8 88.7h0M876.0 97.1h0M876.0 87.0h0M876.1 88.4h0M876.3 92.8h0M876.7 90.8h0M876.8 90.9h0M877.0 89.4h0M877.1 93.1h0M877.1 94.0h0M877.3 93.8h0M877.4 90.7h0M877.6 91.2h0M877.9 90.7h0M878.0 95.1h0M878.2 94.8h0M878.2 90.8h0M878.2 92.6h0M878.4 90.6h0M878.4 97.7h0M878.5 90.1h0M878.5 93.5h0M879.0 90.0h0M879.0 91.2h0M879.1 89.6h0M879.1 90.2h0M879.4 82.9h0M879.6 82.8h0M879.9 88.4h0M880.0 85.0h0M880.1 83.9h0M880.2 89.3h0M880.3 86.3h0M880.3 85.2h0M880.3 86.0h0M880.4 86.4h0M880.5 86.3h0M880.6 87.7h0M880.8 86.3h0M880.8 90.7h0M880.8 86.6h0M880.9 84.5h0M881.0 82.9h0M881.0 85.5h0M881.0 87.6h0M881.5 83.7h0M881.6 93.5h0M881.9 83.8h0M882.0 86.2h0M882.2 85.0h0M882.2 87.8h0M882.2 89.1h0M882.2 88.6h0M882.9 89.5h0M882.9 87.3h0M882.9 83.6h0M883.1 85.1h0M883.3 83.1h0M883.6 82.2h0M883.8 85.0h0M883.8 89.1h0M883.9 89.9h0M884.1 88.0h0M884.2 80.4h0M884.6 86.9h0M884.6 90.7h0M884.8 79.9h0M885.1 84.6h0M885.3 86.8h0M885.3 87.2h0M885.4 88.4h0M885.6 87.5h0M885.8 86.6h0M885.9 89.3h0M886.0 87.2h0M886.1 90.5h0M886.1 85.5h0M886.2 87.0h0M886.3 89.9h0M886.6 85.8h0M886.8 90.7h0M886.9 86.7h0M887.1 93.0h0M887.5 89.9h0M887.6 86.2h0M887.9 83.8h0M888.1 88.7h0M888.2 88.8h0M888.5 89.5h0M888.6 83.6h0M888.7 86.3h0M889.1 87.7h0M889.2 86.1h0M889.4 94.9h0M889.6 89.4h0M889.7 87.3h0M889.7 92.7h0M890.0 90.1h0M890.0 84.0h0M890.2 86.6h0M890.4 87.4h0M890.6 86.3h0M890.7 87.2h0M890.8 86.8h0M890.9 88.6h0M891.0 87.3h0M891.2 84.0h0M891.5 92.4h0M891.6 89.7h0M891.8 87.1h0M891.8 80.0h0M891.9 80.1h0M892.0 92.0h0M892.2 88.2h0M892.2 85.9h0M892.5 84.3h0M893.0 88.6h0M893.0 80.6h0M893.1 90.5h0M893.2 88.5h0M893.3 91.3h0M893.7 90.5h0M893.7 84.2h0M893.8 81.4h0M894.1 89.5h0M894.2 83.8h0M894.2 87.3h0M894.4 85.1h0M894.4 80.5h0M894.5 91.2h0M894.6 87.4h0M894.9 80.4h0M895.0 83.0h0M895.0 90.5h0M895.3 87.5h0M895.3 86.3h0M895.6 85.1h0M895.7 82.6h0M895.8 86.9h0M896.0 80.7h0M896.1 81.4h0M896.2 87.8h0M896.4 82.7h0M896.5 88.4h0M896.7 83.3h0M897.0 86.1h0M897.0 87.8h0M897.0 88.8h0M897.0 81.6h0M897.2 84.3h0M897.3 86.5h0M897.7 82.2h0M897.8 83.6h0M897.9 84.1h0M898.2 83.4h0M898.3 89.7h0M898.6 85.9h0M898.6 84.2h0M899.0 83.3h0M899.1 88.6h0M899.4 91.2h0M899.5 86.5h0M899.5 88.1h0M899.7 86.9h0M899.9 83.9h0M899.9 91.9h0M900.2 85.5h0M900.6 83.1h0M900.7 92.3h0M900.9 83.4h0M900.9 93.8h0M901.0 88.9h0M901.2 88.2h0M901.4 87.9h0M901.4 87.8h0M901.5 89.1h0M901.5 83.0h0M901.7 94.1h0M901.8 84.7h0M902.0 85.9h0M902.0 88.9h0M902.1 88.5h0M902.1 90.6h0M902.3 89.2h0M902.5 86.1h0M902.6 96.1h0M902.7 84.7h0M902.9 97.2h0M902.9 90.3h0M902.9 90.8h0M902.9 92.1h0M903.1 100.9h0M903.1 94.0h0M903.2 91.7h0M903.2 97.7h0M903.5 86.5h0M903.6 91.9h0M903.9 95.7h0M904.5 101.6h0M904.6 99.0h0M904.9 101.8h0M905.0 95.6h0M905.0 101.0h0M905.1 94.1h0M905.2 89.6h0M905.3 97.7h0M905.3 91.8h0M905.4 91.4h0M905.4 91.8h0M905.5 88.9h0M905.5 90.8h0M905.6 99.4h0M905.7 101.5h0M905.7 97.4h0M906.0 100.1h0M906.0 89.3h0M906.2 89.9h0M906.4 91.0h0M906.7 92.9h0M906.7 90.0h0M906.9 94.1h0M907.1 95.6h0M907.3 96.2h0M907.6 89.7h0M907.6 95.5h0M907.6 88.1h0M907.7 98.1h0M907.8 92.6h0M907.8 90.4h0M907.8 90.0h0M907.9 93.8h0M908.1 90.0h0M908.2 92.1h0M908.3 90.2h0M908.3 89.0h0M908.6 91.4h0M908.6 97.1h0M908.6 95.2h0M908.6 89.3h0M908.7 93.7h0M908.9 96.8h0M909.9 90.9h0M910.0 96.3h0M910.0 89.4h0M910.4 92.3h0M910.4 94.6h0M910.9 87.2h0M911.0 91.2h0M911.4 90.0h0M911.5 94.8h0M911.7 91.2h0M911.8 87.1h0M911.8 83.2h0M912.1 88.8h0M912.2 85.6h0M912.4 92.1h0M912.4 90.9h0M912.9 95.5h0M912.9 98.0h0M912.9 96.9h0M913.0 93.5h0M913.0 96.9h0M913.3 95.2h0M913.3 93.9h0M913.4 94.6h0M913.6 94.4h0M913.7 94.6h0M913.8 96.8h0M913.9 89.5h0M914.0 91.4h0M914.1 91.5h0M914.1 100.5h0M914.3 100.4h0M914.3 100.5h0M914.3 93.0h0M914.3 102.5h0M914.4 89.3h0M914.6 92.9h0M914.6 94.8h0M914.8 93.8h0M914.8 95.6h0M914.9 97.0h0M915.2 92.3h0M915.4 96.0h0M915.5 96.1h0M915.5 101.2h0M915.7 92.6h0M915.7 98.0h0M915.9 97.8h0M916.1 89.7h0M916.2 95.4h0M916.4 95.5h0M916.4 90.0h0M916.5 100.8h0M916.6 91.6h0M916.8 98.3h0M916.8 96.0h0M916.9 90.4h0M917.0 98.9h0M917.0 96.0h0M917.0 89.6h0M917.3 97.5h0M917.5 95.2h0M917.6 96.1h0M917.6 97.3h0M917.6 97.6h0M918.1 99.7h0M918.2 100.9h0M918.2 91.3h0M918.5 91.7h0M918.8 97.2h0M919.0 100.6h0M919.2 101.1h0M919.2 91.2h0M919.3 94.0h0M919.4 92.5h0M919.7 97.3h0M919.7 92.7h0M919.7 98.9h0M919.9 90.8h0M919.9 91.5h0M920.1 102.3h0M920.2 94.0h0M920.3 96.2h0M920.4 90.4h0M920.4 93.1h0M920.5 96.9h0M920.6 101.3h0M920.6 92.4h0M920.6 95.7h0M920.6 95.7h0M920.7 93.2h0M921.1 92.8h0M921.1 93.7h0M921.2 92.0h0M921.2 93.3h0M921.5 96.0h0M921.6 98.8h0M921.6 100.3h0M921.7 90.1h0M921.7 95.5h0M921.7 93.7h0M921.8 86.6h0M921.8 94.3h0M921.9 91.1h0M922.1 90.7h0M922.4 86.2h0M922.4 94.4h0M922.7 96.9h0M922.8 85.2h0M922.9 92.7h0M923.7 83.9h0M923.7 87.9h0M923.8 94.6h0M923.8 87.1h0M923.8 94.2h0M924.0 89.9h0M924.0 91.3h0M924.1 89.4h0M924.1 92.3h0M924.2 92.0h0M924.4 91.6h0M924.5 88.8h0M924.5 91.9h0M924.6 86.6h0M924.7 94.0h0M924.7 91.9h0M924.9 94.1h0M925.3 94.3h0M925.4 89.1h0M925.6 92.0h0M925.7 81.7h0M925.8 91.5h0M925.9 84.4h0M926.0 93.9h0M926.0 87.4h0M926.3 85.3h0M926.4 86.4h0M926.4 91.7h0M926.7 94.7h0M926.8 85.4h0M926.9 87.7h0M926.9 84.2h0M927.0 88.3h0M927.1 87.1h0M927.4 89.8h0M927.6 86.4h0M927.6 88.1h0M927.7 90.5h0M927.7 88.5h0M928.0 90.7h0M928.1 83.9h0M928.2 92.1h0M928.3 86.8h0M928.5 87.9h0M928.6 86.9h0M928.6 86.9h0M928.8 91.2h0M928.8 86.5h0M929.0 84.7h0M929.1 90.2h0M929.4 92.8h0M929.6 87.5h0M929.7 82.6h0M929.7 86.0h0M929.9 86.6h0M930.0 87.9h0M930.0 86.2h0M930.2 89.4h0M930.5 82.9h0M930.6 90.0h0M930.7 89.8h0M931.0 88.0h0M931.1 89.4h0M931.2 86.5h0M931.3 86.2h0M931.5 85.8h0M931.6 94.4h0M931.8 91.1h0M932.0 87.3h0M932.1 87.8h0M932.3 85.0h0M932.7 85.1h0M932.8 88.9h0M932.8 82.1h0M932.9 90.3h0M933.0 86.0h0M933.1 89.7h0M933.2 88.7h0M933.2 85.6h0M933.2 91.2h0M933.6 84.2h0M933.7 88.0h0M933.7 87.2h0M933.9 88.3h0M934.2 89.5h0M934.4 87.2h0M934.5 89.8h0M934.5 82.6h0M934.6 87.5h0M934.7 85.8h0M934.8 87.2h0M935.2 85.6h0M935.3 85.2h0M935.4 83.8h0M935.5 84.6h0M935.6 89.9h0M935.7 85.5h0M935.8 86.7h0M936.0 85.6h0M936.0 86.8h0M936.3 87.0h0M936.5 85.6h0M936.8 82.7h0M937.2 84.6h0M937.2 87.4h0M937.3 86.8h0M937.6 90.7h0M937.6 85.1h0M938.1 83.6h0M938.3 89.8h0M938.3 88.7h0M938.4 84.5h0M938.5 89.5h0M938.7 89.4h0M939.0 85.8h0M939.2 83.1h0M939.3 91.7h0M939.7 87.2h0M940.0 86.2h0M940.1 83.9h0M940.2 92.1h0M940.4 87.3h0M940.6 82.7h0M940.6 85.0h0M940.7 83.7h0M940.9 90.4h0M941.4 88.7h0M941.5 91.9h0M941.6 89.3h0M941.6 91.2h0M941.8 87.2h0M941.8 92.1h0M941.9 85.6h0M942.1 89.7h0M942.4 87.3h0M942.5 87.2h0M942.6 87.0h0M942.7 90.6h0M942.7 89.5h0M942.7 85.7h0M942.8 87.1h0M943.1 85.8h0M943.3 88.7h0M943.4 88.5h0M943.4 90.0h0M943.6 91.9h0M943.6 86.2h0M943.6 89.4h0M943.8 87.2h0M944.0 89.0h0M944.1 90.9h0M944.2 93.5h0M944.2 89.0h0M944.4 86.5h0M944.5 94.6h0M944.5 88.2h0M944.7 89.7h0M944.8 93.8h0M945.0 87.6h0M945.0 94.6h0M945.1 89.7h0M945.1 86.5h0M945.4 86.5h0M945.7 91.0h0M945.9 89.5h0M946.1 92.4h0M946.1 94.5h0M946.2 89.0h0M946.4 86.9h0M946.4 88.6h0M946.5 93.3h0M946.5 85.6h0M946.6 94.5h0M946.7 91.8h0M946.8 88.3h0M946.9 89.0h0M946.9 84.0h0M947.0 88.1h0M947.0 90.5h0M947.2 86.3h0M947.2 88.5h0M947.4 91.8h0M947.8 88.5h0M947.9 85.2h0M948.0 87.8h0M948.0 88.5h0M948.1 91.0h0M948.2 92.5h0M948.3 87.2h0M948.3 92.1h0M948.3 92.2h0M948.5 92.0h0M948.5 88.1h0M948.6 91.8h0M948.7 87.9h0M949.0 91.5h0M949.0 85.8h0M949.1 86.5h0M949.1 86.6h0M949.3 85.0h0M949.3 88.7h0M949.3 89.3h0M949.5 93.8h0M949.5 89.3h0M949.6 90.7h0M949.6 87.3h0M949.8 88.4h0M950.1 90.9h0M950.2 86.6h0M950.2 90.1h0M950.6 91.6h0M950.7 90.9h0M950.8 87.8h0M950.9 87.6h0M951.0 86.5h0M951.2 92.3h0M951.5 85.8h0M951.7 99.9h0M951.7 85.3h0M952.0 97.4h0M952.2 89.1h0M952.3 89.3h0M952.3 92.5h0M952.3 88.0h0M952.3 92.4h0M952.3 92.8h0M952.4 94.0h0M952.6 83.8h0M952.7 85.7h0M953.0 93.4h0M953.1 88.7h0M953.1 90.5h0M953.1 96.7h0M953.2 94.7h0M953.2 90.5h0M953.4 95.5h0M953.5 93.9h0M953.5 93.7h0M953.5 88.2h0M953.6 95.5h0M953.8 90.2h0M954.0 87.0h0M954.2 95.1h0M954.2 99.6h0M955.0 87.5h0M955.0 90.0h0M955.1 96.2h0M955.3 89.2h0M955.4 98.3h0M955.5 88.8h0M955.7 93.7h0M955.8 93.5h0M955.9 94.3h0M955.9 90.3h0M956.0 94.4h0M956.0 93.2h0M956.2 97.8h0M956.3 93.9h0M956.3 96.4h0M956.5 95.9h0M956.7 85.9h0M957.1 90.9h0M957.1 93.3h0M957.2 95.0h0M957.2 91.1h0M957.4 89.6h0M957.4 99.3h0M957.6 90.4h0M957.8 94.6h0M958.0 85.3h0M958.1 75.5h0M958.1 77.8h0M958.1 76.2h0M958.2 82.1h0M958.2 81.0h0M958.3 83.0h0M958.3 78.7h0M958.3 82.3h0M958.3 79.4h0M958.3 73.7h0M958.4 75.8h0M958.4 82.7h0M958.5 75.0h0M958.5 80.0h0M958.6 77.1h0M958.8 81.1h0M958.9 75.0h0M958.9 83.4h0M958.9 78.4h0M959.1 82.3h0M959.1 81.6h0M959.2 74.9h0M959.2 78.2h0M959.2 76.8h0M959.3 76.5h0M959.5 76.1h0M959.5 80.2h0M959.5 81.5h0M959.8 75.4h0M959.9 77.7h0M959.9 76.8h0M960.0 76.8h0M960.1 77.1h0M960.1 78.4h0M960.3 81.8h0M960.4 79.4h0M960.4 75.8h0M960.4 81.2h0M960.4 82.3h0M960.5 80.3h0M960.6 73.2h0M960.6 83.0h0M960.7 77.1h0M960.8 80.9h0M960.9 79.0h0M961.0 76.6h0M961.1 83.0h0M961.2 83.4h0M961.3 73.8h0M961.3 81.1h0M961.3 83.0h0M961.4 79.6h0M961.4 75.8h0M961.5 83.0h0M961.6 77.2h0M961.7 76.0h0M961.7 83.0h0M961.7 76.4h0M961.8 80.8h0M961.8 83.2h0M961.9 78.1h0M961.9 82.8h0M961.9 73.7h0M962.0 81.7h0M962.0 76.5h0M962.0 80.3h0M962.1 74.1h0M962.1 81.5h0M962.3 82.2h0M962.3 81.2h0M962.4 76.5h0M962.4 79.9h0M962.5 75.0h0M962.6 76.5h0M962.7 79.6h0M962.7 80.9h0M962.8 74.5h0M962.9 79.6h0M962.9 83.2h0M963.0 78.2h0M963.0 75.7h0M963.1 83.4h0M963.1 81.1h0M963.1 81.2h0M963.2 80.7h0M963.2 79.1h0M963.3 77.2h0M963.4 74.2h0M963.4 82.3h0M963.5 78.1h0M963.7 80.9h0M963.7 74.0h0M963.9 78.6h0M964.0 77.9h0M964.1 80.4h0M964.1 76.4h0M964.2 75.1h0M964.2 79.9h0M964.3 73.9h0M964.3 74.8h0M964.4 83.5h0M964.4 79.5h0M964.4 76.7h0M964.4 78.8h0M964.5 74.5h0M964.6 81.4h0M964.6 79.8h0M964.6 73.6h0M964.7 77.7h0M964.7 77.8h0M964.7 77.3h0M964.7 75.7h0M964.8 74.6h0M964.8 83.0h0M964.8 74.1h0M964.9 77.7h0M964.9 74.3h0M965.1 76.9h0M965.1 78.9h0M965.2 79.5h0M965.2 81.9h0M965.3 77.5h0M965.3 81.9h0M965.3 80.1h0M965.3 75.8h0M965.3 83.2h0M965.4 80.7h0M965.4 80.1h0M965.4 74.8h0M965.5 78.3h0M965.5 79.2h0M965.6 74.4h0M965.6 82.4h0M965.6 80.0h0M965.7 74.8h0M965.7 73.3h0M965.8 77.9h0M965.8 73.1h0M965.8 81.4h0M965.9 74.3h0M965.9 76.0h0M966.1 81.1h0M966.2 82.7h0M966.2 78.5h0M966.3 75.0h0M966.5 76.0h0M966.8 91.7h0M967.4 94.0h0M967.5 98.5h0M967.6 95.6h0M967.7 98.8h0M968.0 95.2h0M968.0 100.6h0M968.2 94.1h0M968.2 94.2h0M968.3 97.1h0M968.3 93.2h0M968.4 96.4h0M968.5 93.0h0M968.6 95.2h0M968.6 95.2h0M968.7 101.5h0M968.9 101.5h0M969.0 91.7h0M969.1 95.3h0M969.2 105.5h0M969.5 92.0h0M969.6 101.6h0M969.8 94.8h0M969.9 98.2h0M970.0 96.5h0M970.1 100.6h0M970.4 96.2h0M970.4 100.8h0M970.8 103.2h0M970.8 104.8h0M970.9 91.7h0M971.1 99.0h0M971.1 97.4h0M971.1 97.6h0M971.1 98.6h0M971.2 104.0h0M971.2 96.5h0M971.5 94.0h0M971.5 97.9h0M971.9 98.3h0M972.0 98.3h0M972.2 89.3h0M972.2 97.7h0M972.9 99.6h0M973.1 102.0h0M973.2 97.5h0M973.3 91.6h0M973.3 100.5h0M973.7 90.2h0M973.7 99.4h0M973.7 88.4h0M973.9 98.7h0M973.9 87.2h0M974.0 91.3h0M974.0 98.3h0M974.5 91.0h0M974.6 92.4h0M974.6 93.7h0M974.8 96.9h0M974.9 91.7h0M975.1 87.6h0M975.2 97.7h0M975.3 93.0h0M975.5 98.8h0M975.9 88.0h0M975.9 87.5h0M976.0 94.1h0M976.1 88.6h0M976.2 97.7h0M976.3 98.0h0M976.3 93.0h0M976.3 95.3h0M976.4 87.6h0M976.4 91.5h0M976.4 90.1h0M976.4 94.8h0M976.6 92.1h0M976.6 95.4h0M976.7 92.5h0M976.9 96.1h0M977.0 95.7h0M977.3 88.3h0M977.4 92.8h0M977.4 95.0h0M977.5 92.8h0M977.6 90.3h0M978.1 89.2h0M978.2 92.1h0M978.3 85.6h0M978.4 90.2h0M978.7 93.9h0M978.8 87.3h0M978.8 92.5h0M978.8 96.2h0M978.9 87.9h0M979.0 91.9h0M979.2 89.3h0M979.3 91.8h0M979.4 94.9h0M979.7 93.5h0M979.8 88.6h0M979.9 88.7h0M980.0 90.3h0M980.1 88.3h0M980.2 89.8h0M980.5 86.2h0M980.5 90.0h0M980.6 92.0h0M981.2 91.3h0M981.2 90.0h0M981.3 92.4h0M981.4 88.5h0M981.6 91.5h0M981.6 84.1h0M981.9 85.5h0M982.0 83.1h0M982.1 82.4h0M982.1 88.8h0M982.2 90.0h0M982.3 87.6h0M982.4 90.5h0M982.7 89.7h0M982.7 95.4h0M982.8 93.6h0M983.1 84.6h0M983.2 85.7h0M983.6 85.3h0M983.8 84.1h0M984.1 82.4h0M984.2 82.6h0M984.3 86.7h0M984.3 83.0h0M984.8 84.4h0M985.0 80.7h0M985.3 90.8h0M985.4 87.5h0M985.4 90.7h0M985.6 89.2h0M986.0 88.2h0M986.1 82.5h0M986.5 85.5h0M986.5 82.7h0M986.5 79.6h0M986.7 90.7h0M986.9 85.5h0M987.2 83.9h0M987.2 78.6h0M987.3 80.0h0M987.5 85.5h0M987.6 84.2h0M987.7 86.3h0M987.8 88.7h0M987.9 82.0h0M988.3 85.5h0M988.5 80.4h0M988.5 79.7h0M989.2 82.2h0M989.2 86.7h0M989.3 89.8h0M989.3 82.1h0M989.3 85.8h0M989.3 81.7h0M989.4 90.3h0M989.7 83.4h0M989.9 85.1h0M989.9 85.4h0M990.0 74.7h0M990.2 88.8h0M990.4 86.6h0M990.6 88.5h0M990.6 88.3h0M990.7 82.4h0M990.7 82.6h0M990.8 80.1h0M991.0 81.1h0M991.0 81.5h0M991.1 87.3h0M991.1 80.2h0M991.2 86.8h0M991.3 86.4h0M991.3 87.3h0M991.5 81.2h0M991.8 82.6h0M991.9 86.6h0M991.9 89.7h0M992.0 82.6h0M992.1 88.1h0M992.1 83.4h0M992.3 87.7h0M992.3 83.6h0M992.3 82.5h0M992.5 86.5h0M992.6 84.7h0M992.8 88.0h0M992.8 87.2h0M993.0 81.1h0M993.2 88.1h0M993.3 89.6h0M993.3 85.8h0M993.5 87.1h0M993.5 89.1h0M993.6 85.1h0M993.7 85.9h0M993.8 81.7h0M993.9 81.4h0M994.1 85.7h0M994.1 82.9h0M994.1 84.6h0M994.4 87.9h0M994.5 87.6h0M994.7 85.0h0M994.8 86.4h0M994.9 89.6h0M994.9 85.3h0M995.0 87.3h0M995.1 86.9h0M995.6 89.1h0M995.7 85.1h0M995.8 83.3h0M995.9 87.4h0M996.1 86.2h0M996.3 86.1h0M996.4 87.5h0M996.5 83.7h0M996.7 86.9h0M996.8 90.6h0M996.9 85.1h0M997.0 88.3h0M997.5 84.6h0M997.5 82.1h0M997.7 85.8h0M998.5 87.2h0M998.5 86.5h0M998.6 85.3h0M998.7 85.1h0M998.8 88.0h0M999.0 85.8h0M999.4 87.4h0M999.6 86.0h0M999.6 87.0h0M999.8 86.4h0M999.9 89.4h0M1000.0 86.3h0M1000.5 85.1h0M1000.7 87.1h0M1000.7 83.0h0M1000.9 83.6h0M1000.9 82.2h0M1000.9 88.5h0M1000.9 86.1h0M1001.3 87.5h0M1001.3 86.7h0M1001.4 89.1h0M1001.5 89.5h0M1001.5 88.6h0M1001.6 87.2h0M1001.9 90.5h0M1001.9 79.3h0M1002.7 92.5h0M1002.8 88.3h0M1002.8 96.4h0M1002.9 95.5h0M1003.1 90.0h0M1003.3 90.0h0M1003.4 89.6h0M1003.4 95.8h0M1003.5 97.9h0M1003.6 94.5h0M1003.7 94.2h0M1003.8 98.9h0M1003.9 89.9h0M1004.0 94.7h0M1004.3 90.9h0M1004.4 94.2h0M1004.4 91.5h0M1004.5 95.5h0M1004.6 93.8h0M1004.7 100.1h0M1004.8 97.2h0M1004.8 94.7h0M1005.1 97.6h0M1005.3 94.3h0M1005.5 94.7h0M1005.6 101.5h0M1005.6 93.2h0M1005.6 97.3h0M1006.0 96.5h0M1006.5 92.6h0M1006.5 101.0h0M1006.5 90.8h0M1006.9 101.5h0M1006.9 100.2h0M1006.9 102.4h0M1007.1 93.3h0M1007.3 93.9h0M1007.3 90.7h0M1007.4 89.9h0M1007.4 94.9h0M1007.5 94.4h0M1007.5 88.4h0M1007.6 88.3h0M1007.7 98.4h0M1007.9 90.5h0M1007.9 87.5h0M1008.4 95.0h0M1008.4 95.0h0M1008.5 92.3h0M1008.6 86.3h0M1008.9 93.1h0M1009.0 95.1h0M1009.2 89.6h0M1009.4 88.0h0M1009.4 93.7h0M1009.5 93.0h0M1009.6 86.5h0M1009.8 86.1h0M1009.8 91.8h0M1009.9 85.8h0M1009.9 92.4h0M1010.0 94.8h0M1010.4 97.3h0M1010.4 86.6h0M1010.4 92.0h0M1010.7 92.9h0M1010.8 87.0h0M1010.9 89.2h0M1010.9 92.4h0M1011.0 90.2h0M1011.0 90.3h0M1011.1 93.0h0M1011.3 88.9h0M1011.3 87.6h0M1011.4 86.2h0M1011.5 92.2h0M1011.7 93.7h0M1011.7 88.7h0M1011.9 93.4h0M1012.1 86.4h0M1012.3 89.2h0M1012.4 91.4h0M1012.7 91.4h0M1012.7 84.5h0M1012.8 92.5h0M1012.8 87.9h0M1012.8 93.1h0M1012.9 86.0h0M1013.0 92.1h0M1013.2 91.4h0M1013.4 88.0h0M1013.4 92.7h0M1013.6 92.2h0M1013.6 86.3h0M1013.8 85.1h0M1014.1 94.0h0M1014.5 92.0h0M1014.7 92.7h0M1014.9 89.7h0M1015.0 93.3h0M1015.0 91.6h0M1015.2 90.8h0M1015.2 88.4h0M1015.4 94.3h0M1015.5 86.6h0M1016.0 90.4h0M1016.1 90.1h0M1016.2 94.7h0M1016.2 87.3h0M1016.2 96.2h0M1016.6 93.5h0M1016.8 89.9h0M1016.9 87.0h0M1017.0 92.9h0M1017.1 90.5h0M1017.2 89.2h0M1017.3 88.6h0M1017.3 89.9h0M1017.4 95.1h0M1017.4 90.9h0M1017.5 95.1h0M1017.6 91.8h0M1017.8 90.6h0M1017.9 93.9h0M1018.0 92.8h0M1018.8 95.0h0M1018.9 91.5h0M1019.1 95.5h0M1019.3 94.3h0M1019.5 93.7h0M1019.6 95.2h0M1019.7 93.9h0M1019.7 96.2h0M1019.8 94.4h0M1020.0 96.4h0M1020.2 97.4h0M1020.2 95.0h0M1020.4 103.3h0M1020.5 96.8h0M1020.6 100.1h0M1020.6 94.1h0M1020.8 96.4h0M1021.0 99.9h0M1021.0 92.2h0M1021.2 100.6h0M1021.4 95.6h0M1021.5 94.0h0M1021.5 93.6h0M1021.6 98.9h0M1021.8 96.2h0M1021.9 96.8h0M1022.1 93.4h0M1022.1 96.2h0M1022.1 97.3h0M1022.2 89.6h0M1022.6 95.4h0M1022.8 93.3h0M1022.8 97.1h0M1023.0 91.7h0M1023.2 96.1h0M1023.3 90.4h0M1023.4 90.5h0M1023.5 95.6h0M1023.5 94.7h0M1023.8 89.3h0M1023.8 92.4h0M1024.0 87.3h0M1024.1 94.4h0M1024.1 92.9h0M1024.2 86.8h0M1024.2 90.4h0M1024.2 95.8h0M1024.3 95.3h0M1024.4 87.8h0M1024.9 94.9h0M1025.0 87.3h0M1025.1 93.3h0M1025.4 92.4h0M1025.5 91.3h0M1025.7 93.7h0M1025.7 95.3h0M1025.7 90.3h0M1025.8 91.4h0M1025.9 89.3h0M1026.0 89.3h0M1026.3 86.3h0M1026.4 85.5h0M1026.5 95.0h0M1026.6 85.5h0M1026.6 85.3h0M1026.8 86.3h0M1027.0 83.5h0M1027.1 84.4h0M1027.2 92.6h0M1027.4 87.4h0M1027.5 90.9h0M1027.7 89.2h0M1027.8 82.7h0M1027.8 85.9h0M1028.0 83.1h0M1028.1 87.5h0M1028.2 88.4h0M1028.3 87.5h0M1028.3 87.2h0M1028.7 86.5h0M1028.8 91.0h0M1028.8 89.9h0M1028.9 88.8h0M1028.9 88.6h0M1029.1 86.8h0M1029.1 86.9h0M1029.1 85.7h0M1029.2 85.0h0M1029.4 90.7h0M1029.4 87.3h0M1029.6 84.3h0M1029.7 83.1h0M1029.7 91.1h0M1029.8 86.9h0M1029.9 89.2h0M1030.0 86.1h0M1030.1 86.7h0M1030.3 85.2h0M1030.4 87.4h0M1030.4 86.2h0M1030.5 88.6h0M1030.5 89.3h0M1030.7 83.1h0M1030.7 87.0h0M1030.8 83.9h0M1030.8 91.2h0M1030.8 83.5h0M1030.9 87.4h0M1031.2 84.9h0M1031.3 88.5h0M1031.3 84.6h0M1031.5 81.3h0M1031.7 84.7h0M1031.7 88.4h0M1031.9 84.6h0M1031.9 84.4h0M1032.0 87.0h0M1032.0 85.7h0M1032.4 85.6h0M1032.5 86.9h0M1032.6 85.9h0M1032.7 85.8h0M1032.9 89.2h0M1033.0 85.7h0M1033.1 87.9h0M1033.7 90.3h0M1034.0 81.8h0M1034.0 82.2h0M1034.1 81.6h0M1034.1 85.1h0M1034.3 88.1h0M1034.4 83.7h0M1034.4 87.8h0M1034.6 87.2h0M1034.6 89.7h0M1035.0 86.2h0M1035.1 87.2h0M1035.4 81.4h0M1035.5 87.6h0M1035.6 82.5h0M1035.9 87.0h0M1036.0 76.7h0M1036.0 84.7h0M1036.1 79.9h0M1036.2 90.8h0M1036.2 79.6h0M1036.2 90.7h0M1036.3 86.6h0M1036.5 90.5h0M1036.5 82.8h0M1036.6 71.1h0M1036.6 84.8h0M1036.7 75.0h0M1036.7 76.0h0M1036.7 80.7h0M1036.7 75.8h0M1036.9 88.9h0M1037.0 76.1h0M1037.0 88.3h0M1037.0 82.7h0M1037.1 81.9h0M1037.1 78.0h0M1037.2 78.5h0M1037.3 76.8h0M1037.3 85.4h0M1037.3 85.1h0M1037.4 77.0h0M1037.4 82.9h0M1037.4 79.3h0M1037.4 74.9h0M1037.5 83.0h0M1037.5 82.5h0M1037.6 80.1h0M1037.6 81.1h0M1037.7 82.4h0M1037.8 81.3h0M1037.8 84.2h0M1037.8 86.4h0M1037.8 86.7h0M1037.9 75.4h0M1037.9 78.9h0M1038.4 83.8h0M1038.6 76.8h0M1038.7 90.9h0M1038.8 81.5h0M1038.8 86.9h0M1038.9 80.4h0M1039.0 83.5h0M1039.0 88.4h0M1039.0 79.3h0M1039.1 84.1h0M1039.1 83.0h0M1039.4 87.8h0M1039.5 86.6h0M1039.5 85.0h0M1039.8 86.5h0M1039.9 82.9h0M1039.9 82.7h0M1040.2 89.5h0M1040.4 84.1h0M1040.5 88.1h0M1040.7 91.8h0M1040.7 83.2h0M1040.7 90.0h0M1041.2 86.5h0M1041.4 88.4h0M1041.4 83.3h0M1041.6 90.2h0M1041.7 85.4h0M1042.0 86.1h0M1042.2 88.7h0M1042.2 84.0h0M1042.4 86.0h0M1042.5 89.4h0M1042.6 92.6h0M1042.7 84.2h0M1042.7 86.0h0M1042.7 89.5h0M1042.9 93.1h0M1042.9 88.1h0M1043.0 92.1h0M1043.0 90.5h0M1043.1 91.1h0M1043.1 87.8h0M1043.2 86.1h0M1043.3 88.5h0M1043.3 89.9h0M1043.9 86.2h0M1043.9 88.9h0M1044.2 89.2h0M1044.4 90.2h0M1044.5 88.1h0M1044.6 89.8h0M1044.9 91.8h0M1045.1 94.5h0M1045.4 87.6h0M1045.4 87.3h0M1045.5 86.1h0M1045.9 89.5h0M1045.9 93.5h0M1045.9 87.4h0M1046.0 85.4h0M1046.2 85.7h0M1046.2 87.2h0M1046.2 86.9h0M1046.4 90.4h0M1046.4 88.9h0M1046.4 86.7h0M1046.7 86.9h0M1046.7 90.6h0M1046.8 93.7h0M1046.9 86.7h0M1047.0 89.9h0M1047.2 85.4h0M1047.3 89.8h0M1047.3 92.9h0M1047.4 90.0h0M1047.4 89.9h0M1047.5 90.6h0M1047.7 87.4h0M1047.8 88.4h0M1047.8 94.5h0M1047.9 95.7h0M1048.1 89.5h0M1048.2 90.6h0M1048.6 92.4h0M1048.7 88.4h0M1048.8 95.4h0M1048.9 92.2h0M1049.1 85.7h0M1049.1 88.4h0M1049.2 93.3h0M1049.3 87.3h0M1049.4 87.7h0M1049.4 92.2h0M1049.5 88.1h0M1049.5 87.0h0M1049.5 96.0h0M1049.6 90.2h0M1049.6 91.3h0M1049.7 94.1h0M1049.7 96.1h0M1049.8 89.6h0M1050.1 90.3h0M1050.2 89.8h0M1050.2 92.2h0M1050.5 86.9h0M1050.6 86.4h0M1050.7 95.1h0M1050.7 86.7h0M1050.8 90.3h0M1050.8 89.6h0M1051.0 91.0h0M1051.3 92.9h0M1051.3 94.1h0M1052.2 95.5h0M1052.3 88.9h0M1052.4 98.1h0M1052.5 89.6h0M1053.1 97.5h0M1053.2 99.4h0M1053.2 95.3h0M1053.3 93.3h0M1053.3 95.0h0M1053.3 98.4h0M1053.5 97.6h0M1053.6 100.9h0M1053.7 96.6h0M1054.0 100.3h0M1054.0 94.9h0M1054.1 101.2h0M1054.2 102.6h0M1054.3 100.9h0M1054.3 95.0h0M1054.3 103.0h0M1054.4 96.9h0M1054.5 99.2h0M1054.7 97.4h0M1054.8 95.4h0M1054.9 96.4h0M1055.0 101.8h0M1055.1 97.1h0M1055.2 98.6h0M1055.3 93.7h0M1055.4 94.4h0M1055.5 97.1h0M1055.6 99.0h0M1055.7 96.1h0M1055.9 104.5h0M1055.9 100.7h0M1056.0 98.2h0M1056.1 94.1h0M1056.1 97.8h0M1056.2 98.5h0M1056.5 97.5h0M1056.5 99.6h0M1056.5 90.8h0M1056.7 100.3h0M1056.8 97.0h0M1056.8 94.7h0M1056.8 92.7h0M1057.1 100.0h0M1057.1 96.9h0M1057.2 98.2h0M1057.4 99.7h0M1057.4 92.2h0M1057.5 99.7h0M1057.6 96.3h0M1057.6 96.5h0M1057.7 90.6h0M1057.7 98.3h0M1057.8 98.1h0M1057.8 91.2h0M1057.9 100.5h0M1057.9 90.1h0M1057.9 103.2h0M1058.0 99.5h0M1058.1 99.1h0M1058.2 100.5h0M1058.3 95.1h0M1058.4 96.8h0M1058.4 94.3h0M1058.7 93.3h0M1058.8 99.7h0M1059.0 91.8h0M1059.1 95.4h0M1059.1 90.9h0M1059.2 100.7h0M1059.3 96.1h0M1059.3 91.4h0M1059.4 91.5h0M1059.4 98.7h0M1059.5 95.6h0M1059.5 90.4h0M1059.7 97.7h0M1059.7 94.0h0M1060.0 93.5h0M1060.1 94.3h0M1060.3 91.1h0M1060.3 88.9h0M1060.4 94.0h0M1060.4 87.9h0M1060.5 96.2h0M1060.6 93.2h0M1060.6 92.7h0M1060.6 94.7h0M1060.7 88.0h0M1060.8 91.9h0M1061.0 94.0h0M1061.4 90.2h0M1061.4 91.7h0M1061.4 92.6h0M1061.5 92.3h0M1061.6 88.8h0M1061.8 85.8h0M1061.9 95.5h0M1062.0 90.9h0M1062.1 85.9h0M1062.1 94.3h0M1062.2 89.3h0M1062.4 87.9h0M1062.5 91.0h0M1062.6 91.2h0M1062.7 91.4h0M1062.7 90.6h0M1062.8 86.1h0M1063.1 88.6h0M1063.1 90.5h0M1063.2 77.2h0M1063.3 88.2h0M1063.3 89.2h0M1063.3 74.8h0M1063.3 79.9h0M1063.4 85.0h0M1063.4 80.2h0M1063.5 77.5h0M1063.6 79.8h0M1063.6 79.6h0M1063.6 76.3h0M1063.7 73.8h0M1063.7 77.3h0M1063.8 76.4h0M1063.8 83.3h0M1064.0 74.7h0M1064.0 76.3h0M1064.1 84.8h0M1064.1 85.1h0M1064.2 80.0h0M1064.3 81.7h0M1064.3 83.7h0M1064.3 73.7h0M1064.5 77.6h0M1064.6 85.8h0M1064.8 77.0h0M1064.8 82.2h0M1064.9 82.0h0M1064.9 81.8h0M1065.0 79.9h0M1065.1 81.3h0M1065.1 80.0h0M1065.2 80.0h0M1065.3 85.1h0M1065.3 82.9h0M1065.4 80.7h0M1065.4 75.6h0M1065.4 75.8h0M1065.5 79.3h0M1065.5 84.6h0M1065.6 83.1h0M1065.6 73.3h0M1065.6 82.3h0M1065.6 79.0h0M1065.6 74.6h0M1065.7 82.0h0M1065.7 86.3h0M1065.8 74.2h0M1065.8 81.7h0M1065.9 81.7h0M1066.0 82.7h0M1066.0 84.0h0M1066.0 79.8h0M1066.1 77.8h0M1066.1 85.9h0M1066.1 86.6h0M1066.2 83.5h0M1066.2 78.5h0M1066.3 78.6h0M1066.3 80.8h0M1066.3 89.4h0M1066.4 85.9h0M1066.4 75.6h0M1066.5 93.7h0M1066.6 85.2h0M1066.6 93.3h0M1066.7 89.2h0M1067.3 94.7h0M1067.3 87.9h0M1067.4 90.1h0M1067.5 92.3h0M1067.5 93.1h0M1067.5 88.5h0M1067.5 96.7h0M1067.6 93.8h0M1067.8 91.3h0M1067.9 91.8h0M1068.3 94.1h0M1068.5 91.4h0M1068.7 91.6h0M1068.7 89.9h0M1068.8 92.7h0M1068.9 92.3h0M1069.0 94.5h0M1069.2 93.1h0M1069.2 92.3h0M1069.2 98.7h0M1069.8 94.5h0M1069.9 100.7h0M1070.2 93.2h0M1070.2 92.3h0M1070.2 94.6h0M1070.4 91.6h0M1070.5 99.2h0M1070.6 97.9h0M1070.7 94.0h0M1070.7 95.2h0M1070.7 92.9h0M1070.8 98.1h0M1070.9 94.5h0M1071.0 93.9h0M1071.2 98.9h0M1071.2 98.0h0M1071.4 93.6h0M1071.5 95.0h0M1071.7 99.4h0M1071.7 95.1h0M1071.9 99.7h0M1071.9 90.4h0M1071.9 98.8h0M1072.3 93.3h0M1072.4 95.8h0M1072.6 97.2h0M1072.6 95.4h0M1072.7 92.7h0M1072.8 91.5h0M1072.8 92.8h0M1072.9 97.1h0M1073.2 86.5h0M1073.5 93.6h0M1073.5 91.2h0M1073.6 90.6h0M1073.8 92.8h0M1073.9 93.9h0M1074.0 95.2h0M1074.0 87.6h0M1074.0 90.0h0M1074.1 97.4h0M1074.2 85.1h0M1074.3 92.2h0M1074.4 90.1h0M1074.6 92.1h0M1074.7 92.5h0M1074.9 87.6h0M1074.9 90.2h0M1074.9 93.9h0M1075.3 96.0h0M1075.6 89.4h0M1075.6 85.6h0M1075.7 85.9h0M1075.7 94.1h0M1075.8 89.5h0M1075.9 86.3h0M1075.9 86.7h0M1076.0 84.2h0M1076.1 78.1h0M1076.2 91.7h0M1076.2 83.7h0M1076.6 87.6h0M1076.7 92.1h0M1077.0 87.4h0M1077.0 84.4h0M1077.0 82.7h0M1077.1 88.0h0M1077.4 82.3h0M1077.4 91.8h0M1077.5 90.2h0M1077.6 79.5h0M1077.9 83.1h0M1078.0 94.0h0M1078.0 85.5h0M1078.1 84.0h0M1078.1 90.1h0M1078.3 86.5h0M1078.3 93.8h0M1078.6 82.1h0M1078.7 88.7h0M1078.7 94.0h0M1078.8 80.0h0M1078.8 93.3h0M1078.9 89.9h0M1079.0 82.5h0M1079.2 94.8h0M1079.2 92.0h0M1079.3 91.4h0M1079.4 86.4h0M1079.5 90.1h0M1079.7 93.9h0M1079.7 89.1h0M1079.9 85.1h0M1080.4 82.9h0M1080.4 89.9h0M1080.7 87.8h0M1080.9 83.7h0M1081.0 91.1h0M1081.4 94.8h0M1081.4 85.7h0M1081.6 85.4h0M1081.6 90.4h0M1081.8 95.5h0M1082.0 87.5h0M1082.1 90.1h0M1082.4 84.5h0M1082.5 88.0h0M1082.6 90.0h0M1082.6 85.5h0M1082.9 84.8h0M1082.9 88.4h0M1083.0 91.0h0M1083.3 94.9h0M1083.4 79.4h0M1083.5 87.0h0M1083.5 85.1h0M1083.8 96.1h0M1084.0 84.6h0M1084.3 86.8h0M1084.8 83.9h0M1085.0 88.7h0M1085.1 89.0h0M1085.3 87.0h0M1085.3 93.6h0M1085.3 84.2h0M1085.4 85.3h0M1085.4 92.6h0M1085.6 89.5h0M1085.6 88.0h0M1085.6 93.9h0M1085.7 85.4h0M1085.8 90.2h0M1085.9 87.5h0M1086.0 84.1h0M1086.0 85.7h0M1086.2 90.0h0M1086.4 89.5h0M1086.4 88.6h0M1086.5 85.9h0M1086.6 84.7h0M1086.9 89.3h0M1086.9 83.0h0M1087.0 87.6h0M1087.1 88.9h0M1087.3 87.6h0M1087.3 85.7h0M1087.5 89.1h0M1087.5 86.1h0M1087.9 83.8h0M1088.0 90.2h0M1088.0 89.6h0M1088.0 88.6h0M1088.0 84.6h0M1088.2 84.0h0M1088.2 85.2h0M1088.2 88.3h0M1088.4 83.1h0M1088.7 88.9h0M1088.8 86.1h0M1089.1 90.2h0M1089.3 88.5h0M1089.4 83.7h0M1089.5 89.6h0M1089.7 88.7h0M1089.7 87.9h0M1089.8 89.8h0M1089.9 85.3h0M1089.9 85.6h0M1090.1 90.9h0M1090.2 88.6h0M1090.4 83.5h0M1090.7 93.5h0M1091.0 92.5h0M1091.1 87.8h0M1091.5 93.1h0M1091.6 82.6h0M1091.7 91.4h0M1091.8 93.4h0M1092.2 88.3h0M1092.4 84.1h0M1092.7 82.4h0M1092.9 87.6h0M1093.1 81.9h0M1093.1 89.3h0M1093.5 82.6h0M1093.6 83.4h0M1093.7 89.4h0M1093.8 89.8h0M1093.8 83.1h0M1093.8 82.3h0M1093.8 87.6h0M1094.2 86.2h0M1094.3 91.7h0M1094.4 87.3h0M1094.5 86.0h0M1094.6 91.2h0M1094.6 88.8h0M1094.7 84.8h0M1095.0 85.4h0M1095.1 82.4h0M1095.2 82.6h0M1095.7 81.4h0M1095.9 88.1h0M1096.1 91.2h0M1096.2 91.6h0M1096.2 88.7h0M1096.2 85.6h0M1096.3 92.5h0M1096.7 82.4h0M1096.7 81.9h0M1097.2 88.5h0M1097.9 89.8h0M1098.0 93.4h0M1098.2 94.8h0M1098.3 94.4h0M1098.3 84.7h0M1098.5 91.3h0M1098.5 88.8h0M1098.7 89.9h0M1099.0 89.4h0M1099.0 88.8h0M1099.2 85.9h0M1099.3 92.6h0M1099.4 87.4h0M1099.8 99.3h0M1099.9 96.3h0M1100.0 85.6h0M1100.3 96.6h0M1100.3 95.5h0M1100.4 96.1h0M1100.5 96.3h0M1100.6 88.7h0M1100.7 93.3h0M1100.7 86.4h0M1100.8 97.7h0M1100.8 97.3h0M1101.1 93.6h0M1101.1 89.2h0M1101.2 84.3h0M1101.2 95.5h0M1101.3 90.5h0M1101.4 87.1h0M1101.4 95.3h0M1101.5 86.3h0M1101.6 91.2h0M1101.6 97.4h0M1101.8 92.7h0M1101.8 90.2h0M1102.1 90.4h0M1102.2 87.2h0M1102.3 89.8h0M1102.3 90.6h0M1102.5 88.1h0M1102.8 96.1h0M1102.8 94.4h0M1102.9 87.9h0M1103.0 93.0h0M1103.1 95.8h0M1103.1 100.1h0M1103.2 98.6h0M1103.2 100.6h0M1103.5 95.5h0M1103.7 99.8h0M1103.8 92.6h0M1103.9 97.0h0M1103.9 97.8h0M1104.6 97.6h0M1104.6 93.7h0M1104.7 86.1h0M1104.7 95.4h0M1104.9 96.5h0M1105.0 96.3h0M1105.2 100.3h0M1105.2 98.2h0M1105.3 95.8h0M1105.4 92.5h0M1105.6 101.1h0M1105.7 96.9h0M1105.8 101.3h0M1105.8 101.3h0M1105.8 95.4h0M1105.9 89.6h0M1106.0 95.9h0M1106.0 100.1h0M1106.1 97.8h0M1106.1 95.4h0M1106.2 94.8h0M1106.3 100.2h0M1106.3 95.6h0M1106.4 89.8h0M1106.4 96.4h0M1106.4 98.5h0M1106.6 94.4h0M1106.8 93.9h0M1107.0 102.5h0M1107.2 96.4h0M1107.4 98.3h0M1107.6 92.5h0M1107.7 95.2h0M1108.2 93.9h0M1108.5 98.6h0M1108.5 89.6h0M1108.6 101.2h0M1109.2 101.6h0M1109.4 88.2h0M1109.4 101.0h0M1109.4 93.6h0M1109.5 87.5h0M1109.5 98.9h0M1109.7 101.5h0M1109.8 98.0h0M1110.1 96.1h0M1110.1 101.6h0M1110.2 100.8h0M1110.3 97.9h0M1110.3 91.4h0M1110.3 91.5h0M1110.4 97.4h0M1110.5 101.1h0M1110.6 99.5h0M1110.7 101.1h0M1110.8 97.5h0M1110.9 89.8h0M1110.9 93.1h0M1111.0 89.7h0M1111.3 96.5h0M1111.5 97.9h0M1111.5 92.3h0M1111.9 91.3h0M1112.1 94.3h0M1112.6 93.0h0M1112.7 91.0h0M1113.0 92.5h0M1113.2 95.3h0M1113.3 89.5h0M1113.5 92.8h0M1113.6 94.9h0M1113.6 95.9h0M1113.6 94.7h0M1113.6 94.4h0M1113.7 89.8h0M1113.7 95.5h0M1113.8 100.3h0M1113.8 99.4h0M1113.9 90.9h0M1114.0 91.1h0M1114.1 100.6h0M1114.2 96.8h0M1114.3 93.5h0M1114.4 91.9h0M1114.5 97.5h0M1114.7 92.0h0M1114.7 96.0h0M1115.3 98.3h0M1115.4 98.4h0M1115.4 93.8h0M1115.6 92.9h0M1115.9 95.5h0M1116.0 96.3h0M1116.3 96.6h0M1116.3 94.3h0M1116.5 92.2h0M1116.5 95.3h0M1116.6 86.6h0M1116.8 94.8h0M1117.4 98.6h0M1117.4 93.1h0M1117.5 95.7h0M1117.5 99.0h0M1117.6 93.2h0M1117.6 94.5h0M1117.9 98.8h0M1118.0 90.6h0M1118.3 99.6h0M1118.4 88.8h0M1118.5 94.5h0M1118.7 89.3h0M1118.9 93.5h0M1119.0 97.7h0M1119.1 96.0h0M1119.1 93.7h0M1119.1 92.3h0M1119.3 91.5h0M1119.3 91.6h0M1119.5 94.1h0M1119.6 97.1h0M1119.9 96.5h0M1119.9 94.5h0M1119.9 98.7h0M1120.0 94.9h0M1120.1 92.7h0M1120.2 94.0h0M1120.2 93.9h0M1120.3 95.7h0M1120.5 89.9h0M1120.5 95.4h0M1120.6 92.0h0M1120.9 95.9h0M1121.1 96.9h0M1121.1 89.9h0M1121.1 96.4h0M1121.2 98.2h0M1121.2 98.4h0M1121.5 91.2h0M1121.7 88.5h0M1121.8 93.8h0M1121.8 91.3h0M1122.0 93.3h0M1122.1 96.2h0M1122.2 89.0h0M1122.2 97.5h0M1122.3 88.3h0M1122.5 90.7h0M1122.6 83.1h0M1122.7 90.1h0M1123.0 93.3h0M1123.2 87.9h0M1123.2 90.4h0M1123.5 88.6h0M1123.5 89.3h0M1123.6 82.8h0M1123.8 87.0h0M1123.8 87.1h0M1123.9 89.4h0M1124.0 85.4h0M1124.2 87.7h0M1124.3 88.3h0M1124.4 82.4h0M1124.9 91.6h0M1125.0 87.3h0M1125.1 82.9h0M1125.1 85.4h0M1125.3 85.0h0M1125.3 89.3h0M1125.3 82.0h0M1125.4 88.4h0M1125.5 88.1h0M1125.7 82.8h0M1126.2 85.7h0M1126.2 81.3h0M1126.2 87.9h0M1126.4 88.0h0M1126.8 86.4h0M1126.9 84.4h0M1127.3 87.1h0M1127.4 87.6h0M1127.6 87.4h0M1127.7 85.2h0M1128.2 85.3h0M1128.3 90.6h0M1128.4 81.5h0M1128.5 86.2h0M1128.7 81.8h0M1128.8 90.7h0M1128.8 90.2h0M1129.1 79.5h0M1129.3 83.6h0M1129.4 84.6h0M1129.4 82.7h0M1129.5 83.8h0M1130.0 89.1h0M1130.1 84.2h0M1130.4 80.7h0M1130.4 79.3h0M1130.5 84.5h0M1130.5 80.4h0M1130.5 83.4h0M1130.6 80.4h0M1130.6 82.9h0M1130.6 81.8h0M1130.6 88.4h0M1130.7 84.5h0M1130.7 82.1h0M1130.8 81.6h0M1130.9 79.5h0M1131.0 87.6h0M1131.1 81.2h0M1131.1 82.2h0M1131.2 90.6h0M1131.2 87.7h0M1131.4 83.7h0M1131.5 90.0h0M1131.6 85.0h0M1131.6 84.0h0M1131.7 83.4h0M1131.7 84.2h0M1131.8 86.1h0M1131.9 83.7h0M1131.9 83.2h0M1132.1 84.6h0M1132.2 88.7h0M1132.7 78.9h0M1132.7 81.4h0M1132.7 80.3h0M1133.0 80.6h0M1133.1 79.6h0M1133.2 89.7h0M1133.3 90.3h0M1133.4 87.2h0M1133.6 85.8h0M1133.6 79.4h0M1133.8 82.3h0M1134.0 86.1h0M1134.0 83.8h0M1134.4 89.9h0M1134.4 84.8h0M1134.4 86.2h0M1134.8 80.4h0M1134.8 89.6h0M1134.8 81.6h0M1134.9 84.9h0M1135.0 85.3h0M1135.2 85.6h0M1135.2 88.6h0M1135.2 84.0h0M1135.3 82.2h0M1135.3 81.7h0M1135.3 86.4h0M1135.4 89.6h0M1135.5 86.0h0M1135.6 82.5h0M1135.6 88.9h0M1135.7 82.4h0M1135.8 82.7h0M1135.9 81.0h0M1135.9 89.0h0M1136.0 86.3h0M1136.2 88.7h0M1136.3 84.8h0M1136.5 81.3h0M1136.8 80.6h0M1136.9 89.3h0M1137.1 86.7h0M1137.3 87.8h0M1137.4 86.0h0M1137.5 89.2h0M1137.5 83.8h0M1137.6 84.2h0M1137.8 88.4h0M1137.8 85.0h0M1137.9 87.4h0M1138.4 89.0h0M1138.4 86.8h0M1138.5 86.7h0M1138.5 88.2h0M1138.8 81.7h0M1138.8 80.4h0M1138.8 89.8h0M1138.9 85.2h0M1138.9 84.9h0M1139.0 89.6h0M1139.2 86.5h0M1139.6 82.7h0M1139.8 86.7h0M1139.8 85.8h0M1140.0 84.6h0M1140.3 83.7h0M1140.3 83.3h0M1140.3 88.2h0M1140.4 88.4h0M1140.9 88.7h0M1141.2 84.6h0M1141.4 84.9h0M1141.4 86.4h0M1141.4 85.1h0M1141.5 88.4h0M1142.1 82.1h0M1142.2 89.0h0M1142.4 84.4h0M1142.5 88.2h0M1142.5 86.0h0M1142.6 90.4h0M1142.9 80.6h0M1142.9 87.3h0M1143.1 85.9h0M1143.2 83.2h0M1143.2 85.6h0M1143.2 84.3h0M1143.3 86.5h0M1143.5 85.1h0M1143.6 85.6h0M1143.7 91.8h0M1143.8 89.7h0M1144.1 80.2h0M1144.1 80.9h0M1144.2 83.7h0M1144.4 86.7h0M1144.5 86.0h0M1144.6 84.2h0M1144.8 87.2h0M1144.8 90.0h0M1145.0 90.5h0M1145.1 84.2h0M1145.2 89.9h0M1145.3 89.3h0M1145.3 88.0h0M1145.4 86.5h0M1145.4 83.6h0M1145.5 80.5h0M1145.5 78.3h0M1145.6 88.4h0M1145.6 85.1h0M1145.9 89.2h0M1145.9 81.9h0M1146.0 87.5h0M1146.0 87.9h0M1146.1 89.7h0M1146.2 80.0h0M1146.3 86.5h0M1146.4 84.9h0M1146.4 91.0h0M1146.6 85.6h0M1146.9 87.8h0M1147.2 87.6h0M1147.2 94.0h0M1147.3 97.0h0M1147.3 95.2h0M1147.7 90.7h0M1147.8 92.9h0M1147.9 92.7h0M1148.1 95.8h0M1148.1 89.8h0M1148.4 92.1h0M1148.5 94.6h0M1149.0 88.4h0M1149.0 88.3h0M1149.2 89.4h0M1149.3 94.2h0M1149.4 93.3h0M1149.6 92.5h0M1149.7 89.0h0M1149.7 88.2h0M1149.9 93.1h0M1150.2 97.2h0M1150.4 90.2h0M1150.8 93.6h0M1150.9 97.3h0M1151.1 96.0h0M1151.3 96.6h0M1151.3 94.2h0M1151.3 99.1h0M1151.7 96.6h0M1152.0 97.4h0M1152.2 94.8h0M1152.3 93.4h0M1152.5 96.8h0M1152.6 91.5h0M1152.7 94.7h0M1152.8 93.0h0M1152.9 95.9h0M1152.9 97.4h0M1153.0 100.2h0M1153.0 95.8h0M1153.3 96.2h0M1153.4 94.0h0M1153.4 96.2h0M1153.4 94.2h0M1153.5 90.7h0M1153.5 92.8h0M1153.6 96.4h0M1153.6 89.9h0M1153.6 100.1h0M1153.6 90.6h0M1153.7 90.6h0M1153.7 87.8h0M1153.9 92.9h0M1154.0 93.6h0M1154.3 95.4h0M1154.4 90.8h0M1154.4 98.3h0M1154.6 98.1h0M1154.7 90.8h0M1154.9 85.7h0M1155.1 88.9h0M1155.1 91.5h0M1155.2 94.9h0M1155.3 93.5h0M1155.3 87.3h0M1155.4 89.2h0M1155.6 86.0h0M1155.8 92.4h0M1156.0 94.0h0M1156.0 91.7h0M1156.1 94.2h0M1156.2 91.8h0M1156.4 90.9h0M1156.4 91.5h0M1156.5 92.5h0M1156.5 91.5h0M1156.6 93.6h0M1156.8 87.6h0M1156.9 87.7h0M1157.0 91.0h0M1157.1 93.5h0M1157.1 94.3h0M1157.2 94.7h0M1157.2 89.4h0M1157.5 86.5h0M1157.6 89.5h0M1157.6 93.2h0M1157.6 90.1h0M1158.1 88.3h0M1158.2 89.3h0M1158.3 91.3h0M1158.8 95.7h0M1158.8 92.0h0M1158.9 98.2h0M1159.0 90.9h0M1159.1 99.1h0M1159.1 94.6h0M1159.5 94.3h0M1159.5 94.7h0M1159.9 101.4h0M1160.1 99.9h0M1160.5 101.0h0M1160.5 95.4h0M1160.6 93.7h0M1160.6 94.5h0M1160.7 98.2h0M1160.8 98.5h0M1161.2 99.8h0M1161.2 96.0h0M1161.8 96.4h0M1161.9 93.8h0M1162.0 101.4h0M1162.0 91.4h0M1162.1 95.9h0M1162.5 94.5h0M1162.5 97.4h0M1162.6 96.9h0M1162.8 94.8h0M1162.9 103.2h0M1163.0 97.2h0M1163.0 101.8h0M1163.1 91.2h0M1163.2 102.2h0M1163.3 90.8h0M1163.3 97.0h0M1163.4 85.5h0M1163.7 92.6h0M1163.7 97.2h0M1163.8 93.3h0M1164.1 97.4h0M1164.2 95.3h0M1164.8 90.3h0M1165.2 95.0h0M1165.2 93.8h0M1165.5 86.6h0M1165.7 86.7h0M1165.7 94.5h0M1165.8 100.9h0M1166.2 92.9h0M1166.4 91.1h0M1166.6 89.7h0M1166.6 91.7h0M1166.7 94.7h0M1166.8 91.1h0M1167.0 88.9h0M1167.0 89.3h0M1167.0 98.1h0M1167.1 86.9h0M1167.2 90.3h0M1167.2 96.3h0M1167.3 93.2h0M1167.3 91.1h0M1167.5 92.2h0M1167.7 98.4h0M1167.7 94.3h0M1167.8 94.9h0M1167.8 92.8h0M1167.8 97.6h0M1168.0 98.1h0M1168.4 91.4h0M1168.5 87.8h0M1168.5 92.7h0M1168.6 94.9h0M1168.7 92.1h0M1168.7 96.8h0M1168.7 89.9h0M1168.7 98.4h0M1168.8 93.7h0M1169.1 92.2h0M1169.1 89.8h0M1169.2 94.4h0M1169.2 95.5h0M1169.2 91.2h0M1169.4 97.4h0M1169.5 89.5h0M1169.8 89.9h0M1169.9 97.2h0M1169.9 93.0h0M1170.1 90.7h0M1170.1 96.2h0M1170.3 97.3h0M1170.3 92.8h0M1170.4 90.9h0M1170.4 96.8h0M1170.6 97.1h0M1170.6 92.9h0M1170.7 89.9h0M1170.8 94.9h0M1171.1 94.9h0M1171.6 93.1h0M1171.8 91.5h0M1171.9 93.1h0M1171.9 92.4h0M1172.1 93.4h0M1172.1 92.0h0M1172.1 98.2h0M1172.2 91.3h0M1172.3 95.6h0M1172.3 92.9h0M1172.9 89.1h0M1173.1 86.8h0M1173.3 87.3h0M1173.4 87.9h0M1173.6 85.4h0M1173.7 85.2h0M1173.7 87.9h0M1173.9 88.7h0M1174.0 92.2h0M1174.2 87.7h0M1174.5 86.5h0M1174.5 90.7h0M1174.5 88.7h0M1174.7 84.3h0M1174.8 89.8h0M1174.9 93.1h0M1174.9 89.7h0M1175.2 85.1h0M1175.4 83.2h0M1175.5 83.8h0M1175.6 82.9h0M1175.6 91.7h0M1175.9 87.4h0M1176.0 84.4h0M1176.1 91.5h0M1176.3 85.2h0M1176.3 92.7h0M1176.6 84.9h0M1176.7 90.9h0M1176.7 88.4h0M1176.9 85.3h0M1177.2 85.6h0M1177.4 85.9h0M1177.4 86.4h0M1177.4 86.4h0M1177.6 90.6h0M1178.0 83.5h0M1178.0 87.5h0M1178.1 82.9h0M1178.7 83.3h0M1178.7 84.4h0M1178.8 88.6h0M1178.9 79.2h0M1179.2 85.3h0M1179.3 82.0h0M1180.0 76.2h0M1180.0 82.4h0M1180.3 84.9h0M1180.4 82.8h0M1180.5 91.3h0M1180.5 85.5h0M1180.5 80.0h0M1180.8 89.4h0M1180.9 91.2h0M1181.1 81.3h0M1181.4 87.1h0M1181.4 87.7h0M1181.5 93.2h0M1181.7 77.5h0M1181.8 80.4h0M1182.0 82.4h0M1182.2 79.1h0M1182.5 86.2h0M1182.6 83.4h0M1182.6 83.7h0M1182.7 85.6h0M1182.7 84.6h0M1182.8 85.1h0M1183.0 86.4h0M1183.1 84.4h0M1183.1 80.9h0M1183.2 90.7h0M1183.6 78.6h0M1183.6 78.8h0M1183.7 87.3h0M1183.7 90.8h0M1184.0 86.9h0M1184.7 81.8h0M1185.0 87.2h0M1185.0 92.9h0M1185.0 83.1h0M1185.1 82.6h0M1185.1 85.0h0M1185.5 91.8h0M1185.6 94.6h0M1185.6 93.6h0M1185.7 82.3h0M1185.8 92.8h0M1185.8 82.7h0M1186.0 86.1h0M1186.1 95.3h0M1186.4 90.1h0M1186.5 87.1h0M1186.6 87.3h0M1186.7 89.0h0M1186.8 87.0h0M1186.9 91.1h0M1187.1 80.7h0M1187.1 83.5h0M1187.3 94.0h0M1187.5 93.5h0M1187.5 83.6h0M1187.8 88.7h0M1188.0 84.2h0M1188.1 86.3h0M1188.2 84.5h0M1188.3 92.3h0M1188.5 83.3h0M1188.6 87.7h0M1189.0 85.9h0M1189.1 92.6h0M1189.1 88.5h0M1189.2 88.5h0M1189.6 92.8h0M1190.0 83.6h0M1190.1 91.9h0M1190.1 82.3h0M1190.1 94.0h0M1190.3 92.8h0M1190.3 86.5h0M1190.5 91.1h0M1190.5 83.7h0M1191.1 83.4h0M1191.2 87.2h0M1191.3 83.4h0M1191.7 89.6h0M1191.8 85.0h0M1192.2 88.9h0M1192.3 92.5h0M1192.6 93.2h0M1192.6 83.2h0M1192.7 81.6h0M1192.7 86.3h0M1193.0 88.5h0M1193.4 91.4h0M1193.5 85.2h0M1193.6 85.0h0M1193.7 87.9h0M1193.9 82.7h0M1194.1 81.2h0M1194.1 92.1h0M1194.1 83.5h0M1194.2 88.2h0M1194.2 92.9h0M1194.4 89.1h0M1194.6 82.6h0M1195.1 84.9h0M1195.1 86.4h0M1195.2 80.2h0M1195.2 84.3h0M1195.2 85.9h0M1195.3 91.7h0M1195.3 85.6h0M1195.3 89.9h0M1195.4 84.5h0M1195.5 85.6h0M1195.5 90.3h0M1195.6 81.1h0M1195.9 87.9h0M1195.9 85.5h0M1196.0 87.3h0M1196.1 83.1h0M1196.1 86.4h0M1196.2 82.4h0M1196.3 84.3h0M1196.4 91.6h0M1196.4 88.2h0M1196.6 91.5h0M1196.7 87.0h0M1197.3 90.0h0M1197.4 91.7h0M1197.8 91.1h0M1197.9 95.6h0M1198.0 94.6h0M1198.2 85.8h0M1198.4 93.4h0M1198.4 91.2h0M1198.8 89.8h0M1198.9 87.9h0M1199.1 84.1h0M1199.4 93.7h0M1199.5 88.6h0M1199.6 96.5h0M1199.7 92.6h0M1199.8 91.9h0M1200.0 92.4h0M1200.0 95.4h0M1200.2 93.1h0M1200.9 103.6h0M1201.2 91.0h0M1201.3 100.3h0M1201.6 98.2h0M1201.7 102.7h0M1201.7 99.3h0M1201.8 98.2h0M1201.8 99.9h0M1202.1 97.6h0M1202.1 96.2h0M1202.4 100.1h0M1202.5 101.4h0M1202.7 97.5h0M1202.9 103.1h0M1202.9 94.0h0M1203.2 95.0h0M1203.3 97.5h0M1203.4 97.3h0M1203.5 92.5h0M1203.8 95.4h0M1204.0 96.3h0M1204.3 96.4h0M1204.3 96.2h0M1204.4 93.6h0M1204.5 96.9h0M1205.0 78.3h0M1205.1 74.4h0M1205.2 78.3h0M1205.2 74.7h0M1205.2 77.2h0M1205.3 78.7h0M1205.4 73.4h0M1205.4 74.2h0M1205.5 72.8h0M1205.6 76.1h0M1205.8 76.4h0M1205.9 72.5h0M1206.0 79.4h0M1206.1 78.5h0M1206.2 72.3h0M1206.2 73.8h0M1206.2 78.5h0M1206.3 77.7h0M1206.3 77.3h0M1206.3 77.6h0M1206.4 80.9h0M1206.6 78.0h0M1206.6 78.8h0M1206.6 73.3h0M1206.6 77.2h0M1206.7 76.0h0M1206.7 79.0h0M1206.8 77.6h0M1206.9 76.7h0M1207.0 73.0h0M1207.1 78.3h0M1207.1 77.9h0M1207.1 73.8h0M1207.2 73.8h0M1207.2 77.4h0M1207.3 80.5h0M1207.3 82.6h0M1207.3 75.4h0M1207.3 73.1h0M1207.5 81.8h0M1207.5 77.0h0M1207.5 72.9h0M1207.5 74.4h0M1207.6 75.8h0M1207.6 72.5h0M1207.8 77.0h0M1207.8 80.4h0M1207.8 76.6h0M1207.9 79.9h0M1207.9 76.2h0M1207.9 77.9h0M1207.9 75.9h0M1208.0 77.6h0M1208.0 81.9h0M1208.0 72.5h0M1208.1 78.9h0M1208.2 78.3h0M1208.3 74.1h0M1208.3 75.5h0M1208.3 72.4h0M1208.3 75.2h0M1208.4 76.9h0M1208.4 81.8h0M1208.4 78.9h0M1208.5 74.0h0M1208.7 79.7h0M1208.7 79.6h0M1208.8 78.7h0M1208.9 73.4h0M1209.0 78.1h0M1209.1 76.3h0M1209.2 80.2h0M1209.2 74.1h0M1209.2 81.4h0M1209.3 78.8h0M1209.5 74.1h0M1209.5 78.5h0M1209.5 77.2h0M1209.5 78.1h0M1209.7 75.7h0M1209.7 77.6h0M1209.8 76.8h0M1209.8 73.3h0M1209.8 76.7h0M1209.8 76.7h0M1209.8 78.6h0M1209.9 79.2h0M1210.0 76.3h0M1210.0 77.1h0M1210.2 82.1h0M1210.2 78.8h0M1210.2 79.5h0M1210.3 74.1h0M1210.4 77.8h0M1210.4 78.0h0M1210.4 80.3h0M1210.5 83.5h0M1210.5 77.5h0M1210.6 75.3h0M1210.6 79.2h0M1210.7 74.9h0M1210.7 73.9h0M1210.7 74.6h0M1210.8 77.6h0M1210.8 77.5h0M1210.9 80.3h0M1211.0 80.4h0M1211.1 76.7h0M1211.3 77.2h0M1211.4 72.4h0M1211.4 79.2h0M1211.4 76.0h0M1211.5 77.9h0M1211.6 72.8h0M1211.6 76.7h0M1211.6 75.0h0M1212.0 75.4h0M1212.6 87.3h0M1212.8 91.4h0M1212.8 94.6h0M1213.1 97.1h0M1213.1 93.1h0M1213.2 97.7h0M1213.2 94.7h0M1213.5 87.5h0M1213.6 93.2h0M1214.1 96.2h0M1214.2 94.7h0M1214.2 98.0h0M1214.2 94.6h0M1214.3 94.7h0M1214.4 99.8h0M1214.4 97.0h0M1214.4 95.0h0M1214.7 95.1h0M1214.7 97.7h0M1214.7 100.9h0M1214.9 98.9h0M1214.9 98.6h0M1215.1 93.8h0M1215.1 95.5h0M1215.3 98.7h0M1215.3 97.2h0M1215.4 97.0h0M1215.7 100.7h0M1215.7 98.8h0M1215.8 99.2h0M1215.8 98.2h0M1215.9 94.4h0M1215.9 104.2h0M1216.0 97.9h0M1216.1 99.1h0M1216.1 97.8h0M1216.3 98.7h0M1216.3 94.0h0M1216.5 96.1h0M1217.0 93.2h0M1217.1 97.0h0M1217.2 96.9h0M1217.7 98.8h0M1217.8 95.7h0M1218.2 96.7h0M1218.4 94.7h0M1218.5 96.4h0M1218.7 95.1h0M1219.0 96.8h0M1219.1 90.0h0M1219.7 91.1h0M1219.9 94.6h0M1220.2 96.9h0M1220.4 95.3h0M1220.5 94.2h0M1220.6 98.3h0M1220.8 92.7h0M1220.8 95.5h0M1220.9 95.7h0M1220.9 91.6h0M1221.2 93.1h0M1221.4 93.1h0M1221.4 89.4h0M1221.5 95.7h0M1221.6 95.1h0M1221.6 90.6h0M1221.6 93.1h0M1221.9 90.4h0M1222.0 90.0h0M1222.0 95.5h0M1222.2 94.2h0M1222.4 93.7h0M1222.5 92.4h0M1222.6 92.8h0M1222.7 97.1h0M1222.7 90.6h0M1223.2 89.5h0M1223.3 90.5h0M1223.4 90.7h0M1223.4 89.3h0M1223.7 89.7h0M1223.8 90.5h0M1224.1 96.4h0M1224.1 93.1h0M1224.3 90.0h0M1224.5 91.9h0M1224.6 94.6h0M1224.8 91.6h0M1224.8 88.1h0M1224.9 90.9h0M1224.9 92.4h0M1225.0 92.3h0M1225.0 93.1h0M1225.1 97.3h0M1225.2 86.2h0M1225.4 86.1h0M1225.4 87.0h0M1225.5 89.3h0M1225.6 89.9h0M1225.7 89.6h0M1225.8 86.7h0M1225.9 88.7h0M1226.3 93.7h0M1226.3 88.9h0M1226.4 86.0h0M1226.4 88.2h0M1226.5 85.2h0M1226.7 85.6h0M1227.0 87.5h0M1227.4 88.3h0M1227.5 91.4h0M1227.6 90.6h0M1227.6 92.8h0M1227.7 86.3h0M1227.8 89.6h0M1228.5 88.9h0M1228.5 90.2h0M1228.6 86.6h0M1228.6 85.4h0M1228.6 83.9h0M1228.7 88.2h0M1228.8 82.6h0M1228.9 81.4h0M1228.9 83.2h0M1229.0 80.4h0M1229.0 85.3h0M1229.1 89.2h0M1229.1 82.8h0M1229.2 86.6h0M1229.2 91.5h0M1229.5 81.6h0M1229.8 81.3h0M1229.9 83.3h0M1230.0 84.8h0M1230.1 83.2h0M1230.4 83.1h0M1230.4 81.2h0M1230.5 84.3h0M1230.8 79.4h0M1230.8 78.7h0M1230.9 88.8h0M1231.0 87.5h0M1231.0 85.2h0M1231.2 82.5h0M1231.3 81.6h0M1231.3 88.6h0M1231.4 86.0h0M1231.8 90.7h0M1231.8 91.6h0M1232.0 82.7h0M1232.0 80.2h0M1232.0 88.3h0M1232.1 78.7h0M1232.4 84.1h0M1232.6 83.5h0M1232.6 87.8h0M1232.7 89.6h0M1232.9 92.7h0M1232.9 82.5h0M1233.0 86.0h0M1233.1 84.9h0M1233.2 89.7h0M1233.3 87.4h0M1233.3 91.4h0M1233.4 90.2h0M1233.6 88.0h0M1234.2 84.1h0M1234.2 88.8h0M1234.3 81.1h0M1234.6 78.4h0M1234.8 88.8h0M1234.9 90.3h0M1235.0 90.3h0M1235.1 77.4h0M1235.3 80.1h0M1235.4 77.6h0M1235.4 85.4h0M1235.7 82.4h0M1235.8 82.6h0M1235.8 78.8h0M1235.9 85.4h0M1236.8 82.4h0M1236.8 77.8h0M1236.9 87.2h0M1237.0 82.5h0M1237.5 87.5h0M1237.5 89.0h0M1237.5 79.3h0M1237.6 90.6h0M1237.7 78.3h0M1237.8 78.4h0M1237.8 85.7h0M1237.9 82.2h0M1238.0 78.2h0M1238.1 85.7h0M1238.3 88.6h0M1238.5 80.3h0M1238.5 83.8h0M1238.5 79.6h0M1238.7 79.2h0M1238.8 83.2h0M1238.8 79.3h0M1238.9 77.2h0M1239.5 80.4h0M1239.5 89.8h0M1239.6 84.9h0M1239.8 88.3h0M1239.8 85.3h0M1240.2 91.8h0M1240.3 86.4h0M1240.3 81.0h0M1240.3 91.4h0M1240.4 88.2h0M1240.4 84.5h0M1240.5 89.0h0M1240.5 89.7h0M1240.6 92.6h0M1241.0 86.3h0M1241.1 92.6h0M1241.2 88.9h0M1241.3 83.7h0M1241.3 85.4h0M1241.6 85.2h0M1241.7 85.2h0M1241.7 87.5h0M1241.8 88.8h0M1241.8 87.5h0M1241.8 91.0h0M1242.0 88.5h0M1242.1 89.7h0M1242.4 83.3h0M1242.4 89.7h0M1242.5 83.9h0M1242.5 85.4h0M1242.6 83.8h0M1242.9 87.2h0M1243.1 91.4h0M1243.2 85.6h0M1243.3 82.0h0M1243.5 86.3h0M1243.8 90.9h0M1244.1 90.5h0M1244.2 87.0h0M1244.2 82.0h0M1244.3 87.0h0M1244.6 86.0h0M1244.7 87.5h0M1244.8 87.1h0M1244.9 91.7h0M1245.0 88.3h0M1245.2 85.1h0M1245.2 84.6h0M1245.2 90.5h0M1245.3 84.1h0M1245.3 89.5h0M1245.3 90.0h0M1245.6 93.3h0M1245.6 87.2h0M1245.8 87.4h0M1245.9 83.1h0M1246.1 90.5h0M1246.2 83.3h0M1246.5 89.5h0M1246.6 90.3h0M1246.6 87.0h0M1247.0 92.6h0M1247.0 88.2h0M1247.2 89.9h0M1247.4 85.9h0M1247.5 91.6h0M1247.6 95.7h0M1247.6 91.9h0M1247.7 90.5h0M1248.0 93.5h0M1248.0 93.6h0M1248.1 87.3h0M1248.2 89.7h0M1248.3 91.4h0M1248.4 97.5h0M1248.4 92.9h0M1248.4 92.0h0M1248.6 91.5h0M1248.7 90.8h0M1248.8 96.9h0M1248.8 96.3h0M1249.0 99.5h0M1249.2 96.8h0M1249.2 90.4h0M1249.3 96.6h0M1249.6 99.5h0M1249.9 98.7h0M1250.1 90.1h0M1250.3 95.1h0M1250.7 100.9h0M1250.9 100.5h0M1250.9 93.7h0M1251.0 96.9h0M1251.1 98.6h0M1251.2 97.7h0M1251.2 100.7h0M1251.3 102.5h0M1251.4 95.0h0M1251.7 96.7h0M1251.8 96.6h0M1251.9 97.9h0M1251.9 96.1h0M1252.0 101.5h0M1252.1 98.8h0M1252.1 98.8h0M1252.4 98.6h0M1252.4 100.9h0M1253.2 95.6h0M1253.3 99.9h0M1253.4 97.9h0M1253.5 92.8h0M1253.6 102.7h0M1253.9 94.7h0M1254.0 94.9h0M1254.0 93.8h0M1254.1 85.3h0M1254.5 94.9h0M1254.6 87.7h0M1254.7 88.7h0M1254.8 88.7h0M1255.0 89.7h0M1255.1 83.9h0M1255.2 95.1h0M1255.4 90.0h0M1255.4 82.8h0M1255.5 89.0h0M1255.5 88.3h0M1255.6 86.6h0M1255.7 90.6h0M1256.2 95.2h0M1256.2 91.1h0M1256.2 90.9h0M1256.6 90.2h0M1256.6 80.0h0M1256.7 90.3h0M1256.7 81.6h0M1256.7 85.3h0M1256.8 93.4h0M1257.3 95.3h0M1257.4 88.1h0M1257.5 90.9h0M1257.6 92.8h0M1257.9 93.1h0M1258.0 89.9h0M1258.3 91.2h0M1258.4 89.5h0M1258.4 84.0h0M1258.8 91.2h0M1258.9 86.0h0M1258.9 85.3h0M1259.1 87.5h0M1259.3 86.1h0M1259.3 86.2h0M1259.5 93.4h0M1259.5 93.2h0M1259.7 88.8h0M1259.7 89.0h0M1260.0 85.9h0M1260.1 88.1h0M1260.1 90.7h0M1260.1 88.8h0M1260.2 92.8h0M1260.2 91.9h0M1260.3 88.6h0M1260.3 90.6h0M1261.0 91.8h0M1261.1 92.9h0M1261.2 92.2h0M1261.4 90.5h0M1261.4 85.8h0M1261.5 89.6h0M1261.5 90.7h0M1261.6 90.6h0M1261.6 87.7h0M1261.7 87.2h0M1262.1 86.7h0M1262.1 93.2h0M1262.1 86.0h0M1262.2 93.1h0M1262.3 85.4h0M1262.3 95.0h0M1262.5 87.2h0M1262.5 88.0h0M1263.0 90.8h0M1263.1 91.0h0M1263.2 91.6h0M1263.3 96.8h0M1263.4 97.2h0M1263.4 90.9h0M1263.4 94.1h0M1263.7 89.5h0M1263.9 91.4h0M1264.2 100.3h0M1264.2 94.1h0M1264.4 96.0h0M1264.4 90.6h0M1264.4 98.9h0M1264.5 94.8h0M1264.6 97.8h0M1264.6 90.8h0M1264.7 95.6h0M1264.7 94.9h0M1265.0 94.0h0M1265.1 95.8h0M1265.3 97.3h0M1265.4 97.0h0M1265.5 94.1h0M1265.6 93.0h0M1265.9 93.2h0M1266.0 97.9h0M1266.1 90.5h0M1266.4 95.5h0M1266.4 96.4h0M1266.5 97.2h0M1266.5 96.6h0M1266.5 95.4h0M1266.7 88.8h0M1266.7 94.1h0M1266.9 99.5h0M1267.0 99.6h0M1267.1 95.6h0M1267.3 100.7h0M1267.5 93.9h0M1267.6 98.0h0M1267.7 98.3h0M1267.9 100.2h0M1267.9 96.7h0M1268.0 101.3h0M1268.1 95.2h0M1268.2 98.1h0M1268.2 99.7h0M1268.4 95.3h0M1268.6 100.2h0M1269.2 97.4h0M1269.2 96.5h0M1269.3 97.7h0M1269.3 93.9h0M1269.4 100.9h0M1269.5 98.3h0M1269.6 93.0h0M1269.8 93.9h0M1269.8 92.6h0M1270.1 93.2h0M1270.2 91.7h0M1270.3 90.5h0M1270.3 98.2h0M1270.3 93.3h0M1270.4 92.7h0M1270.4 95.9h0M1270.7 93.6h0M1270.8 94.8h0M1270.8 89.3h0M1270.9 90.1h0M1270.9 91.2h0M1271.0 95.4h0M1271.1 94.5h0M1271.2 92.9h0M1271.2 89.3h0M1271.4 91.7h0M1271.5 91.2h0M1271.5 89.6h0M1271.5 87.5h0M1271.6 88.2h0M1271.6 88.8h0M1271.6 88.7h0M1271.9 94.0h0M1272.1 88.8h0M1272.2 88.1h0M1272.8 89.9h0M1273.1 92.9h0M1273.1 91.5h0M1273.2 84.8h0M1273.3 84.6h0M1273.3 90.9h0M1273.4 91.9h0M1273.8 84.8h0M1273.9 89.9h0M1274.3 88.9h0M1274.3 88.0h0M1274.4 84.3h0M1274.5 88.5h0M1274.6 84.5h0M1274.6 82.6h0M1274.7 90.6h0M1274.8 82.1h0M1274.9 81.4h0M1275.1 82.7h0M1275.3 82.0h0M1275.4 84.0h0M1275.7 86.6h0M1275.8 84.7h0M1275.8 85.8h0M1275.9 83.9h0M1275.9 84.7h0M1276.2 84.8h0M1276.2 88.3h0M1276.2 84.5h0M1276.2 85.3h0M1276.3 85.7h0M1276.3 90.8h0M1276.4 89.7h0M1276.4 86.6h0M1276.5 82.3h0M1276.6 83.0h0M1276.8 80.9h0M1276.9 85.8h0M1277.0 84.3h0M1277.4 84.7h0M1277.5 89.4h0M1277.7 90.1h0M1278.2 81.7h0M1278.5 87.1h0M1278.5 88.9h0M1278.5 88.2h0M1278.7 89.9h0M1278.7 82.5h0M1278.8 88.4h0M1278.8 88.4h0M1278.9 86.6h0M1278.9 83.7h0M1279.1 87.0h0M1279.2 88.3h0M1279.2 88.1h0M1279.2 86.6h0M1279.6 85.1h0M1279.6 88.1h0M1279.6 86.4h0M1279.6 85.9h0M1280.2 84.9h0M1280.3 83.3h0M1280.4 78.7h0M1280.6 87.9h0M1280.9 88.2h0M1281.1 74.3h0M1281.4 86.6h0M1281.6 80.5h0M1281.8 87.7h0M1281.9 88.2h0M1282.0 83.0h0M1282.1 85.7h0M1282.1 82.7h0M1282.3 82.3h0M1282.6 77.5h0M1282.8 85.2h0M1282.9 87.1h0M1282.9 83.7h0M1283.0 78.2h0M1283.0 81.8h0M1283.1 82.5h0M1283.1 77.3h0M1283.2 85.2h0M1283.4 88.0h0M1283.4 85.6h0M1283.4 83.4h0M1283.6 88.6h0M1283.7 81.5h0M1283.7 84.4h0M1283.8 80.2h0M1283.9 81.5h0M1284.2 82.3h0M1284.3 76.5h0M1284.5 85.6h0M1284.5 83.1h0M1284.7 78.9h0M1284.7 85.1h0M1284.9 80.8h0M1285.0 84.3h0M1285.3 86.2h0M1285.3 86.1h0M1285.4 88.2h0M1285.5 84.5h0M1285.5 88.2h0M1285.6 82.0h0M1285.7 86.1h0M1285.7 87.4h0M1285.7 87.0h0M1286.1 81.6h0M1286.2 85.4h0M1286.3 81.4h0M1286.3 89.3h0M1286.3 85.3h0M1286.6 89.9h0M1286.8 80.1h0M1286.9 83.0h0M1287.0 85.8h0M1287.0 82.8h0M1287.0 88.2h0M1287.5 83.7h0M1287.5 83.2h0M1287.8 81.8h0M1287.8 89.4h0M1287.9 83.2h0M1287.9 82.4h0M1287.9 84.3h0M1288.0 84.6h0M1288.4 90.2h0M1288.4 80.4h0M1288.7 84.8h0M1288.8 87.9h0M1288.9 80.6h0M1289.3 90.9h0M1289.3 88.0h0M1289.4 84.4h0M1289.4 88.8h0M1289.4 85.6h0M1289.7 89.1h0M1289.7 85.5h0M1289.8 85.1h0M1289.9 83.9h0M1290.1 89.0h0M1290.2 81.1h0M1290.2 87.2h0M1290.7 82.0h0M1290.8 89.2h0M1290.9 91.4h0M1291.0 88.5h0M1291.1 90.7h0M1291.4 86.6h0M1291.5 84.7h0M1291.9 90.0h0M1292.1 86.7h0M1292.1 89.4h0M1292.3 87.2h0M1292.3 83.7h0M1292.6 90.9h0M1292.8 89.3h0M1293.0 83.9h0M1293.0 86.2h0M1293.0 87.0h0M1293.1 90.8h0M1293.1 88.3h0M1293.3 95.0h0M1293.4 88.8h0M1293.4 91.5h0M1293.6 93.1h0M1293.7 94.7h0M1293.8 93.9h0M1293.9 91.1h0M1294.0 92.1h0M1294.0 93.5h0M1294.2 92.8h0M1294.5 89.2h0M1294.7 94.4h0M1294.7 89.6h0M1294.8 90.3h0M1295.1 90.8h0M1295.1 92.0h0M1295.5 92.8h0M1295.5 94.8h0M1295.5 94.3h0M1295.6 92.2h0M1295.6 91.2h0M1295.7 95.9h0M1295.8 91.1h0M1296.2 92.1h0M1296.2 95.7h0M1296.2 90.3h0M1296.3 91.8h0M1296.4 95.1h0M1297.0 90.7h0M1297.1 94.5h0M1297.1 85.3h0M1297.6 96.5h0M1297.8 93.3h0M1297.9 89.2h0M1298.2 90.3h0M1298.3 87.5h0M1298.6 92.7h0M1298.7 96.8h0M1298.7 92.0h0M1299.2 93.1h0M1299.7 91.2h0M1299.8 90.4h0M1299.9 88.2h0M1300.1 95.3h0M1300.1 93.9h0M1300.2 88.2h0M1300.5 94.2h0M1301.0 95.1h0M1301.0 97.5h0M1301.5 92.6h0M1301.7 96.1h0M1301.7 96.6h0M1301.8 99.9h0M1301.9 98.7h0M1301.9 99.2h0M1302.0 99.3h0M1302.3 95.7h0M1302.6 98.2h0M1302.7 95.7h0M1302.9 96.9h0M1303.0 100.3h0M1303.0 98.2h0M1303.3 101.0h0" stroke="#000" stroke-width="4.0" stroke-linecap="round" fill="none"/>
<path d="M105.5 87H1361" stroke="#008000" stroke-width="2.08" fill="none"/>
<path d="M162.0 321.5V35.5" stroke="#800080" stroke-width="2.08" stroke-dasharray="2.08 3.44" fill="none"/><path d="M167.0 321.5V35.5" stroke="#800080" stroke-width="2.08" stroke-dasharray="2.08 3.44" fill="none"/><path d="M262.0 321.5V35.5" stroke="#800080" stroke-width="2.08" stroke-dasharray="2.08 3.44" fill="none"/><path d="M285.0 321.5V35.5" stroke="#800080" stroke-width="2.08" stroke-dasharray="2.08 3.44" fill="none"/><path d="M1303.0 321.5V35.5" stroke="#800080" stroke-width="2.08" stroke-dasharray="2.08 3.44" fill="none"/>
</g>
<text x="165.4" y="312.0" text-anchor="middle">57919</text>
<text x="214.4" y="292.0" text-anchor="middle">57235</text>
<text x="273.3" y="272.0" text-anchor="middle">55593</text>
<text x="794.2" y="312.0" text-anchor="middle">20566</text>
<rect x="105.5" y="35.5" width="1380.0" height="286.0" fill="none" stroke="#000" stroke-width="1.1"/>
<path d="M162.5 321.5v5.2" stroke="#000" stroke-width="1.1"/><text x="162.15" y="341.8" text-anchor="middle">0</text><path d="M365.5 321.5v5.2" stroke="#000" stroke-width="1.1"/><text x="365.35" y="341.8" text-anchor="middle">2000</text><path d="M568.5 321.5v5.2" stroke="#000" stroke-width="1.1"/><text x="568.55" y="341.8" text-anchor="middle">4000</text><path d="M772.5 321.5v5.2" stroke="#000" stroke-width="1.1"/><text x="771.76" y="341.8" text-anchor="middle">6000</text><path d="M975.5 321.5v5.2" stroke="#000" stroke-width="1.1"/><text x="974.96" y="341.8" text-anchor="middle">8000</text><path d="M1178.5 321.5v5.2" stroke="#000" stroke-width="1.1"/><text x="1178.16" y="341.8" text-anchor="middle">10000</text><path d="M1381.5 321.5v5.2" stroke="#000" stroke-width="1.1"/><text x="1381.36" y="341.8" text-anchor="middle">12000</text>
<path d="M105.5 277.5h-5.2" stroke="#000" stroke-width="1.1"/><text x="95.8" y="282.5" text-anchor="end">8.8</text><path d="M105.5 225.5h-5.2" stroke="#000" stroke-width="1.1"/><text x="95.8" y="229.6" text-anchor="end">9.0</text><path d="M105.5 172.5h-5.2" stroke="#000" stroke-width="1.1"/><text x="95.8" y="176.8" text-anchor="end">9.2</text><path d="M105.5 119.5h-5.2" stroke="#000" stroke-width="1.1"/><text x="95.8" y="123.9" text-anchor="end">9.4</text><path d="M105.5 66.5h-5.2" stroke="#000" stroke-width="1.1"/><text x="95.8" y="71.1" text-anchor="end">9.6</text>
<text x="795.5" y="27" text-anchor="middle" font-size="16.67px">AGASC ID 185861176</text>
<rect x="1361.3" y="42.2" width="117.4" height="27.1" rx="2.8" ry="2.8" fill="#fff" fill-opacity="0.8" stroke="#ccc" stroke-opacity="0.8" stroke-width="1.39"/>
<path d="M1366.1 54H1396.1" stroke="#008000" stroke-width="2.08"/>
<text x="1407.1" y="59.1">mag<tspan font-size="9.72px" font-style="italic" dy="2.4">AGASC</tspan></text>
<rect x="1348.3" y="247.5" width="130.4" height="67.0" rx="2.8" ry="2.8" fill="#fff" fill-opacity="0.8" stroke="#ccc" stroke-opacity="0.8" stroke-width="1.39"/>
<circle cx="1367.5" cy="260.3" r="2.08" fill="#f00"/>
<circle cx="1367.5" cy="281.3" r="2.08" fill="#ffa500"/>
<circle cx="1367.5" cy="302.5" r="2.08" fill="#000"/>
<text x="1393.0" y="264.2">not OK</text>
<text x="1393.0" y="285.2">Highlighted</text>
<text x="1393.0" y="306.2">OK</text>
<g clip-path="url(#c2)">
<path d="M165.3 484.4h0M168.3 452.4h0M176.2 447.0h0M177.2 450.0h0M194.3 554.4h0M198.3 521.0h0M211.7 450.4h0M225.3 499.4h0M244.5 516.4h0M393.6 458.0h0M393.6 471.0h0M393.7 462.0h0M393.7 479.0h0M393.9 466.0h0M394.0 475.0h0M399.4 603.3h0M455.4 620.3h0M475.3 623.3h0M540.6 471.0h0M541.2 474.0h0M543.0 478.0h0M564.3 632.3h0M617.3 656.3h0M663.3 603.3h0M667.3 604.3h0M1036.9 470.0h0M1037.8 474.0h0M1042.3 443.3h0M1161.1 598.3h0M1207.3 477.0h0M1271.2 591.3h0" stroke="#ffa500" stroke-width="4.0" stroke-linecap="round" fill="none"/>
<path d="M414.3 667.8l-2.5 -6.7h5z" fill="#ffa500" stroke="#ffa500" stroke-width="1" stroke-linejoin="round"/>
<path d="M501.5 667.8l-2.5 -6.7h5z" fill="#ffa500" stroke="#ffa500" stroke-width="1" stroke-linejoin="round"/>
<path d="M502.3 667.8l-2.5 -6.7h5z" fill="#ffa500" stroke="#ffa500" stroke-width="1" stroke-linejoin="round"/>
<path d="M1002.2 667.8l-2.5 -6.7h5z" fill="#ffa500" stroke="#ffa500" stroke-width="1" stroke-linejoin="round"/>
<path d="M1037.2 667.8l-2.5 -6.7h5z" fill="#ffa500" stroke="#ffa500" stroke-width="1" stroke-linejoin="round"/>
<path d="M1042.3 667.8l-2.5 -6.7h5z" fill="#ffa500" stroke="#ffa500" stroke-width="1" stroke-linejoin="round"/>
<path d="M1206.4 667.8l-2.5 -6.7h5z" fill="#ffa500" stroke="#ffa500" stroke-width="1" stroke-linejoin="round"/>
<path d="M1268.5 667.8l-2.5 -6.7h5z" fill="#ffa500" stroke="#ffa500" stroke-width="1" stroke-linejoin="round"/>
<path d="M162.6 453.8h0M163.0 454.3h0M163.1 455.1h0M163.1 462.8h0M163.2 459.3h0M163.4 452.7h0M163.5 448.4h0M163.6 475.8h0M163.7 450.2h0M163.7 465.7h0M163.8 461.4h0M163.9 464.7h0M163.9 458.9h0M163.9 452.9h0M164.0 470.3h0M164.2 464.4h0M164.2 452.2h0M164.3 469.6h0M164.3 455.2h0M164.3 461.5h0M164.3 462.1h0M164.4 455.6h0M164.6 467.3h0M164.8 448.1h0M164.9 461.1h0M164.9 466.5h0M165.1 468.4h0M165.3 453.0h0M165.6 464.6h0M165.6 465.3h0M165.6 456.0h0M165.7 465.1h0M165.9 466.0h0M165.9 458.5h0M166.0 464.3h0M166.0 466.6h0M166.1 467.9h0M166.2 469.0h0M166.3 467.5h0M166.6 466.5h0M166.7 460.5h0M166.9 460.1h0M166.9 457.1h0M167.0 454.7h0M167.0 484.4h0M167.0 471.4h0M167.1 470.7h0M167.1 478.0h0M167.2 489.1h0M167.2 462.0h0M167.3 446.7h0M167.3 473.1h0M167.3 451.3h0M167.3 466.0h0M167.4 452.4h0M167.4 474.8h0M167.5 469.1h0M167.5 478.7h0M167.8 473.7h0M167.9 477.7h0M168.0 484.3h0M168.1 474.9h0M168.2 474.2h0M168.3 464.8h0M168.4 465.8h0M168.4 464.6h0M168.4 488.3h0M168.5 468.7h0M168.6 488.3h0M168.6 471.8h0M168.7 475.5h0M168.8 466.6h0M168.8 482.2h0M168.9 464.1h0M169.0 478.3h0M169.1 478.3h0M169.2 471.1h0M169.2 461.4h0M169.5 468.1h0M169.5 467.3h0M169.6 477.1h0M170.0 470.2h0M170.0 475.2h0M170.0 473.4h0M170.1 464.5h0M170.2 477.8h0M170.3 489.7h0M170.3 483.2h0M170.3 470.2h0M170.4 479.1h0M170.4 483.5h0M170.4 470.1h0M170.5 483.0h0M170.7 481.3h0M170.9 470.6h0M171.2 478.6h0M171.2 473.9h0M171.3 472.0h0M171.3 469.4h0M171.4 498.8h0M171.4 470.5h0M171.5 462.0h0M171.5 473.1h0M171.6 471.3h0M171.6 469.6h0M171.7 475.1h0M171.7 465.5h0M171.8 465.8h0M171.8 460.0h0M171.9 475.2h0M171.9 473.3h0M172.0 483.9h0M172.0 470.3h0M172.0 476.2h0M172.1 468.1h0M172.1 476.3h0M172.1 472.0h0M172.1 485.3h0M172.3 469.3h0M172.3 470.1h0M172.3 480.7h0M172.4 472.1h0M172.4 480.3h0M172.6 465.3h0M172.7 467.3h0M172.7 477.3h0M172.8 468.3h0M172.8 480.7h0M172.9 465.4h0M173.0 491.6h0M173.1 487.1h0M173.1 465.2h0M173.2 472.9h0M173.2 478.0h0M173.3 471.4h0M173.3 485.2h0M173.3 468.3h0M173.3 479.7h0M173.3 486.8h0M173.3 477.0h0M173.3 461.5h0M173.4 464.9h0M173.4 476.9h0M173.5 454.1h0M173.5 474.1h0M173.6 472.3h0M173.6 472.8h0M173.7 470.5h0M173.8 481.7h0M174.0 474.8h0M174.2 477.0h0M174.3 492.1h0M174.4 478.2h0M174.6 474.9h0M174.6 485.0h0M174.7 472.3h0M174.8 473.2h0M174.8 486.8h0M175.0 476.9h0M175.1 471.8h0M175.3 475.2h0M175.3 474.3h0M175.4 483.7h0M175.5 475.0h0M175.5 478.4h0M175.8 479.1h0M176.0 489.7h0M176.2 476.8h0M176.2 472.4h0M176.2 470.2h0M176.5 474.5h0M176.5 492.4h0M176.6 485.2h0M177.2 483.1h0M177.3 471.0h0M177.4 480.0h0M177.6 474.1h0M177.6 478.4h0M177.7 482.7h0M177.7 484.8h0M177.8 471.0h0M177.9 484.5h0M177.9 485.2h0M177.9 487.0h0M178.0 478.1h0M178.0 484.6h0M178.3 464.5h0M178.3 476.1h0M178.4 486.0h0M178.4 472.1h0M178.4 485.5h0M178.4 470.7h0M178.5 492.2h0M178.5 478.5h0M178.6 472.6h0M178.6 476.1h0M178.7 479.9h0M178.8 479.4h0M178.8 471.9h0M178.9 474.8h0M178.9 461.5h0M179.0 467.9h0M179.0 463.1h0M179.1 475.7h0M179.2 482.3h0M179.3 478.4h0M179.4 473.3h0M179.5 465.9h0M179.5 481.8h0M179.6 484.2h0M179.7 464.7h0M179.9 468.3h0M179.9 475.3h0M179.9 473.7h0M180.0 473.6h0M180.1 489.4h0M180.3 469.6h0M180.4 476.3h0M180.6 486.6h0M180.6 484.3h0M180.6 472.5h0M180.8 480.1h0M180.8 478.3h0M181.0 476.8h0M181.0 472.4h0M181.2 478.8h0M181.2 465.3h0M181.3 464.5h0M181.4 475.1h0M181.4 484.3h0M181.4 471.4h0M181.4 480.5h0M181.5 463.2h0M181.5 478.7h0M181.6 474.5h0M181.9 482.3h0M182.1 475.2h0M182.3 480.1h0M182.4 473.4h0M182.4 487.1h0M182.5 469.2h0M182.5 469.9h0M182.6 473.1h0M182.6 478.3h0M182.6 490.1h0M182.7 474.1h0M182.7 477.9h0M182.7 474.7h0M182.8 482.1h0M182.8 481.7h0M182.9 476.5h0M182.9 471.3h0M183.0 482.7h0M183.0 471.8h0M183.0 474.2h0M183.0 493.3h0M183.1 477.2h0M183.1 471.2h0M183.1 479.3h0M183.3 485.5h0M183.5 474.8h0M183.5 473.3h0M183.5 471.8h0M183.5 460.0h0M183.6 468.7h0M183.8 477.2h0M183.8 466.5h0M183.9 474.8h0M183.9 460.1h0M184.3 469.0h0M184.3 481.6h0M184.9 474.3h0M185.0 474.5h0M185.0 480.6h0M185.3 462.0h0M185.6 469.3h0M185.6 476.7h0M185.6 472.7h0M185.7 468.7h0M185.8 477.1h0M186.1 478.2h0M186.4 474.3h0M186.4 477.1h0M186.4 477.8h0M186.4 477.7h0M186.5 478.0h0M186.6 472.2h0M186.6 483.6h0M187.0 476.9h0M187.0 477.0h0M187.0 476.2h0M187.0 476.7h0M187.1 476.6h0M187.1 469.3h0M187.1 470.3h0M187.2 479.3h0M187.2 474.1h0M187.3 482.0h0M187.4 469.1h0M187.5 473.4h0M187.5 463.8h0M187.6 463.6h0M187.9 478.9h0M188.0 474.9h0M188.0 478.5h0M188.1 479.4h0M188.2 478.4h0M188.3 476.9h0M188.8 474.1h0M188.9 478.0h0M188.9 467.6h0M189.1 477.9h0M189.2 482.2h0M189.6 473.7h0M189.8 470.1h0M189.8 458.6h0M189.8 478.8h0M189.9 477.9h0M190.1 467.6h0M190.1 469.4h0M190.2 477.8h0M190.5 466.4h0M190.5 477.8h0M190.5 474.0h0M190.6 468.2h0M190.7 473.4h0M190.9 478.9h0M191.0 480.7h0M191.0 474.5h0M191.1 477.6h0M191.2 474.0h0M191.3 476.5h0M191.5 476.4h0M191.5 472.8h0M191.5 471.3h0M191.6 481.7h0M191.7 484.8h0M191.8 460.9h0M191.8 459.3h0M191.8 473.9h0M192.0 468.2h0M192.4 478.4h0M192.5 478.6h0M192.6 472.1h0M192.7 461.5h0M192.7 483.7h0M192.7 469.6h0M192.8 489.1h0M193.0 486.2h0M193.0 474.2h0M193.1 490.0h0M193.2 474.3h0M193.3 475.3h0M193.4 475.5h0M193.4 473.6h0M193.8 467.2h0M193.9 479.3h0M193.9 476.9h0M194.0 474.5h0M194.0 470.9h0M194.1 477.5h0M194.3 487.1h0M194.3 477.9h0M194.3 469.3h0M194.6 473.9h0M194.6 481.1h0M194.7 472.4h0M194.7 464.5h0M194.7 467.0h0M194.7 475.8h0M194.8 464.8h0M195.0 471.1h0M195.0 479.9h0M195.2 480.1h0M195.3 490.8h0M195.4 483.7h0M195.4 474.7h0M195.5 478.0h0M195.5 465.6h0M195.6 462.3h0M195.7 469.0h0M195.8 470.8h0M195.8 469.4h0M195.8 477.8h0M195.9 474.9h0M196.0 488.9h0M196.1 487.9h0M196.2 463.4h0M196.2 481.4h0M196.3 478.0h0M196.6 482.4h0M196.6 485.5h0M196.8 478.4h0M196.8 458.2h0M197.0 483.8h0M197.0 484.5h0M197.1 477.8h0M197.5 466.6h0M197.5 468.5h0M197.6 489.7h0M198.2 476.5h0M198.3 476.7h0M198.3 473.9h0M198.4 482.8h0M198.5 460.2h0M198.6 471.3h0M198.7 474.6h0M198.7 473.7h0M198.7 478.3h0M198.7 484.4h0M198.9 471.8h0M199.0 486.5h0M199.0 471.6h0M199.4 474.6h0M199.4 478.8h0M199.7 475.1h0M199.7 484.5h0M199.8 480.8h0M199.9 474.0h0M199.9 475.2h0M199.9 475.8h0M200.0 486.3h0M200.0 473.5h0M200.1 478.6h0M200.1 469.2h0M200.2 475.5h0M200.4 477.7h0M200.5 481.0h0M200.5 476.2h0M200.7 491.5h0M200.7 465.9h0M200.8 486.7h0M200.8 472.6h0M200.9 471.1h0M201.0 475.7h0M201.1 482.3h0M201.3 474.5h0M201.4 486.4h0M201.5 487.4h0M201.6 479.4h0M201.6 472.9h0M201.7 468.9h0M201.8 473.7h0M201.8 481.3h0M201.9 474.7h0M201.9 477.7h0M202.0 482.6h0M202.1 472.3h0M202.2 478.9h0M202.3 476.9h0M202.3 478.7h0M202.4 468.8h0M202.4 482.0h0M202.5 483.8h0M202.5 471.3h0M202.9 481.2h0M202.9 470.4h0M203.1 480.5h0M203.1 471.4h0M203.1 497.6h0M203.1 478.1h0M203.2 471.7h0M203.2 478.9h0M203.2 480.6h0M203.2 477.0h0M203.3 479.1h0M203.3 483.2h0M203.3 483.5h0M203.5 477.0h0M203.6 479.0h0M203.6 468.9h0M204.1 482.4h0M204.1 474.5h0M204.2 477.0h0M204.3 471.4h0M204.3 470.1h0M204.4 478.3h0M204.4 475.5h0M204.8 489.9h0M204.8 477.7h0M204.8 466.0h0M205.0 482.4h0M205.0 477.3h0M205.0 476.6h0M205.0 472.4h0M205.2 486.7h0M205.3 472.0h0M205.3 474.8h0M205.3 472.0h0M205.3 468.2h0M205.8 469.3h0M205.8 473.0h0M206.1 474.4h0M206.2 494.3h0M206.3 478.5h0M206.3 482.6h0M206.4 475.8h0M206.4 473.4h0M206.4 467.8h0M206.6 471.8h0M206.6 473.9h0M206.9 491.2h0M207.1 477.6h0M207.2 474.3h0M207.2 477.8h0M207.3 477.6h0M207.3 482.2h0M207.4 471.1h0M207.5 473.4h0M207.5 472.4h0M207.5 474.5h0M207.6 481.2h0M207.7 475.1h0M207.7 473.9h0M208.0 488.1h0M208.1 480.0h0M208.1 489.8h0M208.2 470.9h0M208.3 477.2h0M208.4 486.9h0M208.4 472.8h0M208.4 468.0h0M208.5 475.5h0M208.5 483.1h0M208.8 482.6h0M208.9 480.5h0M209.3 476.1h0M209.4 488.7h0M209.4 478.2h0M209.5 469.6h0M209.6 480.9h0M209.8 490.4h0M209.9 481.2h0M210.0 474.4h0M210.0 497.9h0M210.1 487.9h0M210.3 471.7h0M210.4 474.5h0M210.5 474.4h0M210.5 489.8h0M210.5 483.0h0M210.5 478.2h0M210.6 481.1h0M210.6 486.1h0M210.7 474.6h0M210.7 460.9h0M210.9 476.6h0M211.0 458.5h0M211.0 480.4h0M211.2 467.9h0M211.4 480.9h0M211.5 489.1h0M211.6 488.3h0M211.7 472.4h0M211.7 483.2h0M212.0 476.7h0M212.1 472.9h0M212.1 473.6h0M212.2 477.9h0M212.3 480.7h0M212.3 468.4h0M212.4 475.6h0M212.5 477.7h0M212.5 469.9h0M212.5 480.6h0M212.7 468.1h0M212.7 465.0h0M212.7 485.7h0M212.8 472.0h0M213.0 488.1h0M213.1 488.5h0M213.1 483.7h0M213.3 477.8h0M213.4 480.0h0M213.4 476.3h0M213.5 476.5h0M213.6 478.6h0M213.7 479.6h0M213.7 488.6h0M213.7 464.8h0M213.8 484.9h0M213.9 479.0h0M214.0 489.5h0M214.1 480.5h0M214.3 473.9h0M214.4 481.3h0M214.7 475.8h0M214.7 465.6h0M214.8 468.8h0M214.9 481.1h0M214.9 476.6h0M215.0 465.6h0M215.2 475.8h0M215.2 473.7h0M215.5 473.8h0M215.5 475.7h0M215.7 467.9h0M216.0 483.5h0M216.0 487.2h0M216.2 475.5h0M216.4 488.0h0M216.5 472.8h0M216.6 485.4h0M216.9 472.0h0M217.1 463.9h0M217.3 483.7h0M217.5 475.1h0M217.7 474.9h0M217.7 472.1h0M217.7 475.3h0M217.7 475.3h0M217.9 479.8h0M217.9 474.0h0M218.0 463.4h0M218.2 468.2h0M218.4 480.0h0M218.4 459.8h0M218.4 464.6h0M218.7 483.6h0M218.8 473.6h0M218.8 469.0h0M218.9 481.0h0M218.9 477.9h0M219.0 483.2h0M219.4 479.2h0M219.4 480.8h0M219.4 478.5h0M219.6 477.4h0M219.6 472.2h0M219.8 469.7h0M219.9 482.3h0M220.0 478.2h0M220.1 477.1h0M220.2 469.2h0M220.3 481.5h0M220.3 468.0h0M220.6 466.4h0M220.6 464.2h0M220.8 474.3h0M220.8 471.0h0M220.8 484.3h0M220.8 462.2h0M220.9 480.9h0M220.9 471.0h0M221.1 472.4h0M221.1 479.7h0M221.2 475.4h0M221.3 478.4h0M221.3 475.3h0M221.4 469.5h0M221.5 471.1h0M221.6 470.8h0M221.6 475.3h0M221.8 481.4h0M221.8 470.2h0M221.9 475.2h0M222.0 473.0h0M222.2 476.1h0M222.3 474.8h0M222.4 476.7h0M222.4 481.9h0M222.4 464.8h0M222.6 477.1h0M222.8 472.0h0M222.9 482.0h0M222.9 475.3h0M223.0 474.6h0M223.0 478.7h0M223.0 484.2h0M223.1 482.7h0M223.2 468.8h0M223.4 467.0h0M223.4 462.1h0M223.5 487.6h0M223.6 460.5h0M223.7 474.1h0M223.7 477.7h0M223.7 473.0h0M223.8 471.6h0M224.0 474.4h0M224.1 486.9h0M224.1 470.3h0M224.2 474.0h0M224.2 486.4h0M224.3 495.6h0M224.4 473.9h0M224.5 471.8h0M224.7 469.6h0M225.0 475.0h0M225.2 481.9h0M225.4 458.6h0M225.4 479.3h0M225.4 481.7h0M225.5 474.6h0M225.6 478.0h0M225.6 468.4h0M225.8 472.1h0M225.9 465.6h0M225.9 480.2h0M225.9 486.4h0M225.9 482.9h0M226.1 482.6h0M226.3 477.8h0M226.6 476.6h0M226.7 475.8h0M226.7 481.2h0M226.7 481.3h0M226.8 477.6h0M226.8 477.2h0M226.9 466.8h0M226.9 475.7h0M227.0 471.9h0M227.1 474.5h0M227.3 472.3h0M227.4 474.3h0M227.5 476.7h0M227.7 474.7h0M227.8 473.9h0M227.8 480.8h0M227.9 480.0h0M228.0 479.7h0M228.2 472.0h0M228.3 483.4h0M228.4 482.4h0M228.6 465.5h0M228.9 475.7h0M228.9 466.7h0M229.1 480.2h0M229.1 479.3h0M229.1 474.0h0M229.2 486.9h0M229.2 479.9h0M229.2 481.1h0M229.2 476.2h0M229.2 469.5h0M229.5 480.1h0M229.5 467.7h0M229.7 477.0h0M230.0 479.1h0M230.1 475.0h0M230.1 482.1h0M230.2 475.5h0M230.2 464.7h0M230.3 495.9h0M230.3 481.8h0M230.5 479.1h0M230.5 479.0h0M230.6 474.2h0M230.7 473.8h0M231.1 477.9h0M231.2 478.8h0M231.8 468.4h0M231.8 469.4h0M231.9 483.8h0M231.9 469.8h0M232.2 470.2h0M232.3 480.6h0M232.3 475.5h0M232.6 475.1h0M232.6 477.8h0M232.6 472.7h0M232.8 470.7h0M232.8 482.3h0M232.9 463.1h0M233.1 478.0h0M233.1 469.9h0M233.3 480.4h0M233.6 487.7h0M233.6 472.7h0M233.6 479.8h0M233.7 473.0h0M233.8 475.6h0M234.1 473.0h0M234.2 481.8h0M234.3 483.7h0M234.4 465.6h0M234.4 486.8h0M234.6 475.3h0M234.7 486.2h0M234.7 492.1h0M234.7 479.9h0M234.8 459.2h0M234.9 481.9h0M235.0 465.4h0M235.0 471.5h0M235.0 476.2h0M235.3 483.1h0M235.3 480.8h0M235.6 475.8h0M235.6 474.0h0M235.7 468.7h0M236.1 456.5h0M236.1 469.6h0M236.2 476.1h0M236.3 470.4h0M236.3 465.6h0M236.5 479.2h0M236.5 464.0h0M236.5 476.1h0M236.6 489.9h0M236.6 473.4h0M236.8 472.8h0M236.9 471.4h0M237.0 478.2h0M237.1 469.2h0M237.1 484.6h0M237.1 468.5h0M237.2 478.6h0M237.2 469.3h0M237.2 479.2h0M237.2 471.1h0M237.3 468.5h0M237.4 466.3h0M237.4 482.3h0M237.5 470.1h0M237.5 463.7h0M237.5 465.6h0M237.6 483.2h0M237.7 463.9h0M237.7 477.0h0M237.9 472.0h0M238.0 465.4h0M238.0 472.7h0M238.0 482.6h0M238.1 477.7h0M238.1 469.5h0M238.3 465.1h0M238.3 483.6h0M238.5 477.9h0M238.5 474.5h0M238.5 469.0h0M238.5 481.0h0M238.8 478.7h0M238.8 465.6h0M239.0 487.5h0M239.0 479.8h0M239.0 484.2h0M239.0 483.9h0M239.1 483.6h0M239.3 480.4h0M239.4 473.6h0M239.5 484.1h0M239.6 481.1h0M239.6 470.7h0M239.7 484.7h0M239.8 486.7h0M239.8 467.1h0M239.9 475.3h0M240.0 476.7h0M240.0 475.0h0M240.1 465.3h0M240.3 475.4h0M240.4 469.2h0M240.4 471.6h0M240.5 473.9h0M240.7 482.4h0M240.8 473.6h0M240.9 477.2h0M241.0 484.4h0M241.0 484.6h0M241.1 481.0h0M241.2 465.1h0M241.3 481.2h0M241.7 458.7h0M242.2 469.3h0M242.6 480.8h0M242.8 472.4h0M243.1 465.2h0M243.2 483.7h0M243.2 473.3h0M243.8 480.1h0M243.8 481.0h0M243.9 476.6h0M243.9 472.5h0M243.9 478.3h0M244.0 477.7h0M244.3 485.4h0M244.4 471.8h0M244.5 478.1h0M244.5 476.3h0M244.6 471.8h0M244.6 478.7h0M244.7 477.4h0M244.9 475.0h0M245.0 474.6h0M245.1 465.8h0M245.5 471.8h0M245.6 470.1h0M245.8 486.6h0M245.9 475.0h0M246.0 475.7h0M246.1 483.4h0M246.2 486.3h0M246.6 481.3h0M246.7 467.3h0M246.8 471.7h0M246.9 471.5h0M247.0 471.9h0M247.0 468.1h0M247.2 480.0h0M247.6 471.7h0M247.7 492.9h0M247.7 476.8h0M247.9 470.0h0M248.0 466.5h0M248.1 475.9h0M248.5 474.2h0M248.7 481.4h0M248.8 472.2h0M248.8 466.5h0M248.9 485.1h0M249.0 485.8h0M249.0 478.8h0M249.0 477.1h0M249.1 485.5h0M249.3 476.1h0M249.3 483.0h0M249.5 473.9h0M249.5 474.4h0M249.6 480.3h0M249.7 469.6h0M249.8 478.7h0M249.9 474.2h0M250.2 474.8h0M250.3 478.0h0M250.3 476.8h0M250.4 476.8h0M250.4 482.8h0M250.4 483.2h0M250.6 465.1h0M250.6 470.2h0M250.8 469.7h0M250.9 473.2h0M251.0 484.2h0M251.3 494.1h0M251.6 478.6h0M251.7 482.6h0M251.8 462.0h0M251.9 471.7h0M251.9 472.2h0M252.0 489.1h0M252.0 483.4h0M252.0 460.3h0M252.2 471.9h0M252.3 478.6h0M252.3 467.9h0M252.4 482.4h0M252.6 476.0h0M252.6 476.1h0M252.7 478.0h0M252.8 468.1h0M252.8 485.9h0M252.9 474.1h0M253.0 478.2h0M253.1 476.8h0M253.1 496.6h0M253.1 469.7h0M253.1 477.8h0M253.5 483.2h0M253.6 484.6h0M253.6 482.6h0M253.7 482.2h0M253.8 470.9h0M254.2 469.5h0M254.2 474.9h0M254.4 497.0h0M254.4 474.6h0M254.5 475.2h0M255.1 474.6h0M255.2 473.7h0M255.2 483.9h0M255.3 474.7h0M255.5 461.1h0M255.7 475.0h0M255.8 476.0h0M255.8 479.5h0M255.8 478.1h0M255.9 481.6h0M256.0 460.9h0M256.1 479.9h0M256.5 473.6h0M256.5 474.5h0M256.5 462.9h0M256.6 472.3h0M256.6 477.4h0M256.6 462.5h0M256.8 474.0h0M256.9 478.6h0M257.0 485.0h0M257.1 471.4h0M257.2 471.2h0M257.3 482.5h0M257.4 483.4h0M257.4 478.5h0M257.5 468.6h0M257.7 474.7h0M257.7 472.7h0M257.8 479.7h0M257.9 462.5h0M258.0 479.8h0M258.0 481.5h0M258.1 475.0h0M258.2 473.3h0M258.4 481.9h0M258.5 479.1h0M258.6 471.4h0M258.7 477.8h0M258.7 475.2h0M258.8 492.5h0M258.9 479.2h0M259.0 481.8h0M259.0 482.4h0M259.2 478.1h0M259.2 472.2h0M259.5 473.1h0M259.6 474.1h0M259.7 467.2h0M259.7 483.1h0M259.7 476.7h0M259.8 486.1h0M259.8 483.1h0M259.9 482.9h0M260.0 466.7h0M260.1 477.2h0M260.2 476.2h0M260.2 477.8h0M260.2 469.3h0M260.3 479.8h0M260.3 477.4h0M260.7 471.6h0M261.2 486.9h0M261.2 490.0h0M261.4 476.4h0M261.4 474.6h0M261.4 473.4h0M261.4 474.5h0M261.6 471.9h0M261.6 470.1h0M261.8 475.8h0M261.9 481.1h0M262.1 488.1h0M262.1 474.8h0M262.3 468.1h0M262.3 469.4h0M262.4 459.7h0M262.5 462.5h0M262.6 455.9h0M262.6 451.9h0M262.8 446.9h0M262.9 460.4h0M262.9 478.2h0M262.9 474.6h0M262.9 462.9h0M263.0 454.9h0M263.3 471.5h0M263.4 467.6h0M263.5 477.8h0M263.6 475.1h0M263.7 447.6h0M263.8 478.8h0M263.9 461.2h0M264.0 470.5h0M264.0 463.6h0M264.1 463.0h0M264.1 449.2h0M264.1 466.8h0M264.2 462.6h0M264.2 471.4h0M264.3 459.6h0M264.3 468.2h0M264.3 467.0h0M264.4 460.1h0M264.5 458.8h0M264.7 445.9h0M264.8 482.6h0M264.8 453.7h0M264.9 460.3h0M265.0 469.2h0M265.0 474.3h0M265.0 463.0h0M265.1 481.3h0M265.1 455.5h0M265.2 457.2h0M265.3 448.0h0M265.3 474.5h0M265.4 464.9h0M265.4 472.6h0M265.5 488.0h0M265.5 465.6h0M265.6 464.4h0M265.6 468.4h0M265.7 462.8h0M265.7 473.8h0M265.8 454.7h0M266.0 447.1h0M266.0 444.3h0M266.1 457.9h0M266.6 468.9h0M266.6 448.9h0M266.9 457.3h0M267.0 476.8h0M267.0 474.2h0M267.1 465.6h0M267.2 463.7h0M267.3 468.3h0M267.4 453.3h0M267.4 473.3h0M267.4 481.4h0M267.5 452.9h0M267.5 458.4h0M267.5 474.5h0M267.5 468.0h0M267.6 469.7h0M267.6 458.8h0M267.7 462.9h0M267.7 483.9h0M267.7 463.9h0M267.7 458.1h0M267.9 473.6h0M268.0 463.3h0M268.0 484.8h0M268.0 475.7h0M268.1 473.2h0M268.1 477.3h0M268.1 460.4h0M268.1 459.4h0M268.2 462.0h0M268.4 476.7h0M268.4 482.6h0M268.5 460.2h0M268.5 471.9h0M268.6 474.1h0M268.7 467.0h0M268.9 468.5h0M269.0 447.3h0M269.0 478.6h0M269.1 476.3h0M269.2 470.7h0M269.2 456.6h0M269.3 460.3h0M269.3 466.0h0M269.3 465.9h0M269.3 478.5h0M269.4 462.0h0M269.6 459.6h0M269.6 464.1h0M269.8 456.3h0M269.9 467.1h0M270.0 459.6h0M270.3 470.7h0M270.3 466.0h0M270.4 456.9h0M270.4 467.5h0M270.4 480.5h0M270.4 458.9h0M270.5 468.3h0M270.5 471.2h0M270.6 464.2h0M270.6 462.5h0M270.9 470.3h0M270.9 469.4h0M271.0 456.2h0M271.1 458.6h0M271.3 475.8h0M271.3 461.5h0M271.4 482.4h0M271.4 460.3h0M271.8 464.3h0M272.2 457.0h0M272.5 463.2h0M272.8 469.5h0M272.9 463.6h0M273.0 471.4h0M273.1 465.5h0M273.3 469.4h0M273.4 469.5h0M273.5 461.8h0M273.6 480.4h0M273.7 463.9h0M273.9 471.3h0M273.9 455.6h0M273.9 459.4h0M274.0 476.1h0M274.0 475.5h0M274.0 463.9h0M274.3 476.1h0M274.5 465.7h0M274.7 471.5h0M274.8 463.8h0M274.8 468.1h0M274.9 461.9h0M275.2 467.0h0M275.2 465.0h0M275.3 456.9h0M275.3 458.8h0M275.4 475.5h0M275.5 477.9h0M275.5 473.4h0M275.6 474.8h0M275.7 466.4h0M275.7 455.2h0M275.8 476.6h0M275.8 474.8h0M275.8 461.4h0M276.0 466.5h0M276.0 462.9h0M276.1 454.8h0M276.1 469.4h0M276.2 465.2h0M276.2 457.0h0M276.3 457.5h0M276.3 468.2h0M276.6 466.3h0M276.7 463.3h0M276.7 471.5h0M276.8 470.6h0M276.9 467.5h0M276.9 457.2h0M276.9 474.3h0M277.1 469.2h0M277.1 466.3h0M277.6 468.8h0M277.7 477.7h0M277.7 471.7h0M277.8 462.4h0M277.8 466.8h0M277.9 483.4h0M277.9 468.7h0M278.0 475.9h0M278.3 478.4h0M278.3 461.4h0M278.6 466.0h0M278.6 454.1h0M278.6 473.0h0M278.6 476.0h0M278.8 459.0h0M278.8 483.1h0M279.0 464.3h0M279.0 460.9h0M279.1 474.4h0M279.1 454.8h0M279.3 466.4h0M279.7 455.0h0M279.9 463.4h0M279.9 472.8h0M280.0 468.5h0M280.0 471.9h0M280.1 474.6h0M280.1 459.3h0M280.4 478.3h0M280.5 470.1h0M280.6 470.5h0M280.6 460.6h0M280.6 473.5h0M280.6 474.4h0M280.7 468.8h0M280.8 461.1h0M280.9 468.5h0M281.0 475.5h0M281.1 471.4h0M281.1 465.5h0M281.2 458.2h0M281.2 469.5h0M281.3 468.1h0M281.4 462.2h0M281.5 454.3h0M281.6 471.7h0M281.6 458.9h0M281.6 465.3h0M281.6 471.5h0M281.7 462.8h0M281.7 461.8h0M281.8 467.2h0M281.9 470.6h0M282.0 446.6h0M282.0 462.8h0M282.0 462.0h0M282.1 455.4h0M282.1 466.0h0M282.2 477.1h0M282.2 465.1h0M282.3 476.4h0M282.4 463.9h0M282.4 463.2h0M282.4 482.0h0M283.1 475.5h0M283.3 468.9h0M283.4 470.2h0M283.4 453.7h0M283.5 463.9h0M283.6 466.5h0M283.9 451.8h0M284.1 457.7h0M284.3 474.4h0M284.3 464.6h0M284.6 466.3h0M284.9 482.2h0M284.9 471.7h0M284.9 468.1h0M285.0 479.1h0M285.3 538.0h0M285.3 498.0h0M285.3 482.7h0M285.4 482.2h0M285.4 491.7h0M285.7 487.6h0M285.8 502.7h0M285.9 488.0h0M285.9 483.3h0M285.9 499.0h0M286.2 497.2h0M286.5 486.8h0M286.5 488.6h0M286.5 507.2h0M286.6 486.1h0M286.7 498.7h0M286.8 488.2h0M286.8 494.5h0M286.9 489.9h0M286.9 510.0h0M287.1 501.4h0M287.2 485.3h0M287.3 485.4h0M287.3 496.0h0M287.5 496.0h0M287.6 511.7h0M287.6 512.2h0M287.7 515.1h0M287.8 508.8h0M287.8 506.6h0M288.0 515.2h0M288.1 495.2h0M288.2 504.2h0M288.3 516.1h0M288.4 520.5h0M288.4 506.7h0M288.5 509.7h0M288.5 501.4h0M288.8 498.9h0M288.8 510.5h0M288.8 498.7h0M288.9 498.7h0M289.0 520.5h0M289.0 509.8h0M289.1 512.8h0M289.2 511.8h0M289.5 500.7h0M289.7 504.2h0M289.8 513.9h0M289.8 497.8h0M290.0 501.3h0M290.0 498.4h0M290.1 508.1h0M290.1 504.3h0M290.4 506.5h0M290.5 511.5h0M290.5 490.7h0M290.6 516.4h0M290.7 505.1h0M290.9 503.4h0M290.9 510.1h0M291.0 508.8h0M291.0 509.7h0M291.3 499.6h0M291.3 503.8h0M292.1 520.0h0M292.2 495.7h0M292.3 514.8h0M292.5 515.1h0M292.6 499.7h0M293.1 506.7h0M293.5 510.5h0M293.6 510.2h0M293.7 510.6h0M293.8 506.2h0M294.1 510.8h0M294.3 516.8h0M294.7 519.6h0M294.7 510.7h0M294.9 506.3h0M294.9 513.5h0M295.0 502.8h0M295.5 513.1h0M295.5 498.7h0M295.6 502.8h0M295.7 518.1h0M295.8 510.2h0M296.0 517.0h0M296.0 500.0h0M296.2 499.4h0M296.3 513.6h0M296.4 516.3h0M296.4 517.8h0M296.5 496.8h0M296.7 514.2h0M296.8 507.7h0M297.1 513.9h0M297.2 497.8h0M297.2 511.6h0M297.3 510.9h0M297.3 509.5h0M297.6 518.1h0M297.7 510.4h0M297.9 502.2h0M298.0 508.6h0M298.1 499.0h0M298.3 512.5h0M298.3 512.3h0M298.5 504.6h0M298.5 510.6h0M298.9 509.3h0M299.2 505.2h0M299.4 513.5h0M299.4 576.4h0M299.4 512.5h0M299.6 506.8h0M299.7 498.7h0M299.9 510.7h0M300.0 514.9h0M300.0 505.7h0M300.1 519.7h0M300.1 521.6h0M300.2 509.4h0M300.4 513.0h0M300.4 514.4h0M300.7 507.4h0M300.8 503.8h0M300.9 514.1h0M301.0 504.8h0M301.2 497.7h0M301.2 516.5h0M301.4 508.1h0M301.5 507.7h0M301.5 509.8h0M301.6 511.5h0M301.6 509.1h0M301.7 515.6h0M301.8 505.1h0M301.9 503.0h0M302.0 513.7h0M302.2 516.2h0M302.3 515.6h0M302.4 518.6h0M302.7 499.9h0M302.8 512.4h0M302.9 501.5h0M302.9 512.9h0M302.9 507.0h0M302.9 505.8h0M303.0 508.4h0M303.1 510.4h0M303.3 511.1h0M303.4 509.2h0M303.5 503.1h0M303.6 518.5h0M303.6 503.3h0M303.6 501.2h0M303.9 516.9h0M304.0 510.8h0M304.1 507.8h0M304.1 513.9h0M304.3 508.7h0M304.3 521.3h0M304.4 508.2h0M304.4 507.5h0M304.5 497.9h0M304.7 507.7h0M304.8 515.2h0M304.9 495.7h0M305.0 500.2h0M305.0 506.9h0M305.0 515.8h0M305.1 509.5h0M305.2 504.6h0M305.2 506.2h0M305.3 521.4h0M305.5 512.7h0M305.5 502.9h0M305.6 510.6h0M305.6 504.0h0M305.7 510.3h0M305.9 494.5h0M306.0 519.1h0M306.3 505.9h0M306.3 506.6h0M306.3 507.5h0M306.5 520.0h0M306.5 501.9h0M306.7 507.6h0M306.7 501.7h0M306.8 518.0h0M306.9 511.3h0M306.9 516.4h0M306.9 508.0h0M307.0 516.2h0M307.3 508.2h0M307.3 526.3h0M307.4 513.2h0M308.0 535.6h0M308.3 535.6h0M308.6 534.0h0M308.7 526.3h0M309.2 523.4h0M309.2 527.0h0M309.4 528.8h0M309.4 531.9h0M309.5 521.2h0M309.7 555.9h0M309.7 529.3h0M309.8 544.7h0M309.9 533.0h0M310.0 549.9h0M310.0 539.1h0M310.1 534.4h0M310.2 529.1h0M310.2 537.1h0M310.2 537.2h0M310.3 537.4h0M310.5 531.4h0M310.6 523.9h0M310.8 519.3h0M311.0 541.7h0M311.0 537.8h0M311.0 546.7h0M311.1 542.7h0M311.1 544.3h0M311.2 526.2h0M311.4 531.9h0M311.5 542.0h0M311.5 531.3h0M311.6 515.3h0M311.6 527.2h0M311.6 535.0h0M311.7 526.3h0M311.9 534.2h0M312.0 527.9h0M312.1 550.1h0M312.2 547.2h0M312.3 542.3h0M312.5 539.4h0M312.5 548.7h0M312.7 539.2h0M312.9 544.1h0M312.9 545.7h0M313.0 543.0h0M313.2 529.0h0M313.3 546.1h0M313.4 546.7h0M313.5 551.3h0M313.8 532.6h0M313.8 534.0h0M314.1 541.0h0M314.3 546.5h0M314.6 548.3h0M314.8 548.3h0M315.0 519.8h0M315.1 549.2h0M315.8 551.3h0M315.8 530.0h0M316.2 538.7h0M316.5 525.1h0M316.9 538.3h0M316.9 542.7h0M317.0 535.9h0M317.1 551.3h0M317.2 540.7h0M317.5 547.6h0M317.6 529.2h0M317.7 551.7h0M317.8 552.8h0M317.8 546.9h0M317.9 551.0h0M317.9 532.0h0M318.0 554.1h0M318.0 536.0h0M318.0 539.8h0M318.3 562.7h0M318.4 546.7h0M318.6 544.7h0M318.8 565.3h0M318.8 539.0h0M319.1 540.6h0M319.1 532.1h0M319.1 546.1h0M319.2 539.1h0M319.2 543.7h0M319.2 547.3h0M319.4 560.1h0M319.5 538.8h0M319.6 562.0h0M319.6 553.3h0M319.7 544.5h0M319.7 555.7h0M319.7 543.2h0M320.0 558.4h0M320.3 555.2h0M320.3 556.1h0M320.3 560.9h0M320.5 564.2h0M320.6 554.2h0M320.7 547.8h0M320.8 548.8h0M321.0 542.7h0M321.2 532.2h0M321.3 544.3h0M321.3 561.0h0M321.4 554.0h0M321.6 557.9h0M321.7 549.4h0M321.7 553.0h0M321.8 562.9h0M321.9 546.9h0M322.3 543.1h0M322.4 549.2h0M322.6 542.5h0M322.7 534.1h0M322.8 556.8h0M322.9 559.2h0M323.0 549.9h0M323.0 548.9h0M323.1 552.9h0M323.2 554.0h0M323.3 560.4h0M323.5 534.3h0M323.7 560.8h0M323.8 542.1h0M323.9 530.7h0M324.1 538.6h0M324.1 535.1h0M324.1 560.0h0M324.3 544.0h0M324.3 544.9h0M324.5 541.1h0M324.5 554.0h0M324.5 541.8h0M324.6 547.4h0M324.9 550.6h0M325.1 532.3h0M325.1 547.1h0M325.2 537.1h0M325.3 549.7h0M325.4 535.8h0M325.4 552.4h0M325.6 544.6h0M326.0 530.0h0M326.0 552.4h0M326.1 549.6h0M326.5 555.9h0M326.5 538.3h0M326.6 555.7h0M326.6 537.8h0M326.6 542.3h0M327.2 541.3h0M327.3 537.5h0M327.3 539.6h0M327.3 534.4h0M327.6 545.4h0M327.7 539.9h0M327.8 551.1h0M327.9 528.6h0M328.1 545.7h0M328.5 539.2h0M328.6 529.4h0M328.7 524.5h0M328.8 539.7h0M328.9 541.4h0M328.9 528.3h0M329.2 516.7h0M329.3 515.3h0M329.4 518.8h0M329.4 510.8h0M329.7 506.5h0M329.7 510.8h0M329.7 504.9h0M329.8 515.4h0M329.8 506.3h0M330.0 501.5h0M330.3 508.3h0M330.4 511.8h0M330.5 518.1h0M330.6 514.5h0M330.7 507.4h0M330.8 510.8h0M331.3 504.7h0M331.5 507.8h0M331.6 507.9h0M331.9 513.3h0M332.1 507.7h0M332.2 518.0h0M332.3 515.5h0M332.4 515.3h0M332.4 511.1h0M332.5 505.8h0M332.7 516.3h0M332.8 499.0h0M332.9 518.9h0M333.1 504.4h0M333.1 515.9h0M333.3 517.3h0M333.4 512.6h0M333.5 506.6h0M334.0 500.0h0M334.0 502.4h0M334.2 536.0h0M334.2 510.3h0M334.3 503.1h0M334.3 517.5h0M334.3 510.3h0M334.4 517.7h0M334.7 517.7h0M334.8 504.7h0M335.3 513.0h0M335.4 508.5h0M335.5 513.5h0M335.6 509.4h0M335.7 508.7h0M336.0 518.4h0M336.0 498.1h0M336.2 506.0h0M336.3 514.1h0M336.5 501.8h0M336.5 506.2h0M336.7 512.0h0M336.8 511.1h0M337.5 504.3h0M337.5 510.0h0M337.6 507.3h0M337.7 513.5h0M337.7 509.4h0M337.8 516.6h0M337.9 506.7h0M337.9 514.8h0M338.0 511.1h0M338.1 503.7h0M338.4 512.7h0M338.6 511.0h0M338.7 511.5h0M338.7 505.4h0M338.8 513.8h0M338.8 511.4h0M338.9 505.4h0M339.0 510.3h0M339.6 502.9h0M339.6 518.5h0M339.6 518.2h0M339.8 498.5h0M339.9 500.0h0M339.9 510.4h0M339.9 509.7h0M340.0 516.9h0M340.1 501.6h0M340.2 510.5h0M340.2 511.6h0M340.3 514.7h0M340.4 510.3h0M340.5 509.3h0M340.7 504.4h0M340.8 502.7h0M340.9 513.0h0M340.9 515.5h0M340.9 513.3h0M341.1 517.4h0M341.2 505.6h0M341.3 506.3h0M341.4 512.8h0M341.5 513.4h0M341.6 516.3h0M341.6 498.1h0M341.7 507.8h0M341.7 510.9h0M341.9 515.5h0M342.1 505.5h0M342.1 517.0h0M342.2 512.6h0M342.3 502.6h0M342.4 509.3h0M342.7 523.9h0M342.8 520.8h0M342.9 528.9h0M342.9 543.2h0M343.0 523.6h0M343.0 525.4h0M343.1 511.6h0M343.2 515.8h0M343.4 533.7h0M343.5 539.6h0M343.8 529.9h0M343.9 521.4h0M344.0 534.6h0M344.2 538.7h0M344.3 530.7h0M344.5 543.1h0M344.6 521.1h0M344.7 528.4h0M344.9 521.0h0M344.9 516.9h0M345.1 536.4h0M345.1 530.3h0M345.2 532.0h0M345.2 539.6h0M346.0 531.8h0M346.0 528.0h0M346.2 525.1h0M346.2 532.1h0M346.4 524.3h0M346.5 522.2h0M346.7 536.3h0M346.7 520.7h0M346.8 538.2h0M346.9 519.8h0M346.9 522.4h0M347.2 521.3h0M347.5 518.8h0M347.6 522.3h0M347.6 517.1h0M347.8 517.8h0M348.0 540.1h0M348.0 541.1h0M348.4 541.5h0M348.4 535.4h0M348.6 534.4h0M348.7 536.8h0M348.7 536.5h0M348.8 534.5h0M348.9 521.7h0M349.1 535.8h0M349.3 531.0h0M349.3 531.1h0M349.8 530.5h0M349.8 526.9h0M349.9 518.7h0M349.9 527.9h0M350.0 541.5h0M350.1 526.9h0M350.1 539.6h0M350.1 539.4h0M350.2 522.1h0M350.2 536.3h0M350.7 532.1h0M350.8 542.5h0M351.0 522.0h0M351.1 529.2h0M351.2 537.6h0M351.5 527.0h0M351.5 537.7h0M351.8 533.1h0M351.9 526.2h0M352.0 523.0h0M352.0 531.1h0M352.1 529.8h0M352.1 534.4h0M352.6 521.3h0M352.7 539.1h0M352.8 521.6h0M352.9 534.2h0M352.9 524.1h0M353.1 533.2h0M353.2 530.4h0M353.3 530.8h0M353.5 535.0h0M353.5 520.1h0M353.6 518.6h0M353.7 542.2h0M353.7 536.3h0M353.7 515.9h0M353.9 526.2h0M354.0 511.3h0M354.1 520.0h0M354.1 524.1h0M354.2 540.8h0M354.2 509.6h0M354.3 539.2h0M354.3 524.6h0M354.4 523.8h0M354.6 514.6h0M354.7 522.1h0M355.0 534.4h0M355.3 543.3h0M355.5 529.6h0M355.5 531.0h0M355.7 527.0h0M355.9 525.2h0M356.0 537.2h0M356.2 516.6h0M356.2 521.5h0M356.2 506.3h0M356.4 541.1h0M356.4 545.0h0M356.5 508.6h0M356.6 538.7h0M356.9 539.8h0M357.0 514.6h0M357.1 513.9h0M357.4 536.6h0M357.4 526.5h0M357.5 530.6h0M357.6 535.8h0M357.6 532.9h0M357.8 524.0h0M357.9 551.3h0M358.1 544.1h0M358.1 545.5h0M358.8 538.6h0M358.8 544.8h0M359.9 536.6h0M360.0 543.0h0M360.2 540.7h0M360.4 531.9h0M360.4 524.4h0M360.5 500.7h0M360.5 523.2h0M360.6 521.3h0M360.6 545.5h0M360.7 556.8h0M360.9 545.1h0M361.3 524.0h0M361.3 528.6h0M361.5 529.1h0M361.7 511.5h0M361.7 532.9h0M361.9 516.0h0M362.2 504.6h0M362.2 527.1h0M362.4 501.8h0M362.4 535.0h0M362.4 509.7h0M362.5 523.7h0M363.1 513.3h0M363.2 507.4h0M363.2 512.8h0M363.2 501.3h0M363.3 507.0h0M363.3 511.0h0M363.4 515.4h0M363.4 498.8h0M363.5 501.3h0M363.6 517.8h0M363.8 503.5h0M364.2 510.9h0M364.3 513.9h0M364.3 512.0h0M364.4 502.0h0M364.4 511.4h0M364.4 502.8h0M364.6 514.3h0M364.8 501.1h0M365.0 509.9h0M365.0 507.8h0M365.0 519.1h0M365.2 507.3h0M365.5 501.2h0M365.5 507.9h0M365.7 515.1h0M365.7 505.8h0M366.0 499.9h0M366.0 517.8h0M366.3 508.0h0M366.5 503.8h0M366.5 510.1h0M366.6 508.4h0M366.8 513.8h0M366.8 498.3h0M367.2 504.8h0M367.3 502.4h0M367.3 516.3h0M367.5 500.0h0M367.8 509.7h0M367.8 512.0h0M368.0 514.1h0M368.1 512.3h0M368.6 510.5h0M368.6 505.0h0M368.8 521.0h0M368.8 507.9h0M368.9 517.7h0M369.0 502.8h0M369.1 508.8h0M369.3 502.1h0M369.3 515.6h0M369.3 507.6h0M369.4 510.6h0M369.4 507.0h0M369.6 516.0h0M369.7 503.0h0M369.8 519.4h0M369.9 512.1h0M370.0 506.2h0M370.0 504.3h0M370.3 509.6h0M370.5 504.4h0M370.6 506.5h0M370.6 512.8h0M370.7 519.6h0M370.8 513.4h0M370.9 512.7h0M370.9 518.7h0M371.0 519.0h0M371.1 513.8h0M371.6 514.0h0M371.7 510.5h0M371.8 526.1h0M371.9 527.7h0M372.2 530.9h0M372.3 529.2h0M372.4 534.0h0M372.5 544.1h0M372.9 550.0h0M373.1 540.9h0M373.2 542.7h0M373.3 545.8h0M373.5 530.2h0M373.6 543.6h0M374.0 532.4h0M374.0 539.0h0M374.0 533.0h0M374.2 538.0h0M374.8 546.6h0M374.8 562.1h0M374.9 544.4h0M375.4 558.6h0M375.5 554.7h0M375.6 526.8h0M375.7 542.5h0M375.8 555.8h0M375.8 550.7h0M375.8 553.2h0M375.9 547.9h0M375.9 539.5h0M376.0 554.3h0M376.0 561.0h0M376.8 539.1h0M377.3 549.2h0M377.4 546.6h0M377.6 547.1h0M378.1 527.3h0M378.1 540.9h0M378.3 542.1h0M378.4 535.6h0M378.5 548.2h0M378.5 542.7h0M378.6 540.6h0M378.8 550.7h0M378.8 540.3h0M378.8 553.2h0M379.1 532.1h0M379.4 544.7h0M379.4 537.6h0M379.5 552.2h0M379.7 545.1h0M379.9 531.0h0M380.1 533.3h0M380.2 534.4h0M380.3 534.5h0M380.6 545.4h0M380.9 535.0h0M381.6 553.1h0M381.7 546.8h0M381.8 536.3h0M381.8 550.9h0M382.2 535.4h0M382.5 548.2h0M382.6 540.2h0M382.6 542.5h0M382.7 532.4h0M382.7 539.0h0M382.9 524.6h0M383.0 539.7h0M383.0 540.1h0M383.2 544.1h0M383.3 543.7h0M383.5 525.9h0M383.6 547.6h0M383.6 526.3h0M383.7 540.2h0M383.7 537.8h0M384.1 538.5h0M384.2 521.4h0M384.2 538.0h0M384.3 540.8h0M384.7 524.5h0M384.7 540.0h0M385.0 534.7h0M385.0 540.5h0M385.1 534.8h0M385.2 536.9h0M385.3 549.5h0M385.5 528.9h0M385.6 536.7h0M385.8 530.9h0M385.8 533.3h0M385.9 535.3h0M386.0 537.9h0M386.7 516.8h0M386.8 496.1h0M387.0 523.6h0M387.1 525.7h0M387.1 505.0h0M387.3 519.4h0M387.3 497.3h0M387.5 518.5h0M387.6 520.4h0M387.6 517.9h0M387.8 506.6h0M387.9 522.2h0M388.2 505.1h0M388.2 502.0h0M388.2 513.8h0M388.5 511.3h0M388.5 516.9h0M388.5 504.5h0M388.5 520.0h0M388.7 509.9h0M388.9 512.6h0M388.9 517.5h0M389.0 510.2h0M389.1 520.3h0M389.5 506.4h0M390.3 505.5h0M390.5 517.1h0M390.5 519.5h0M390.6 516.6h0M390.8 507.0h0M391.1 520.7h0M391.2 492.6h0M391.6 511.4h0M391.7 500.0h0M391.7 500.5h0M391.7 506.3h0M391.9 491.2h0M392.0 500.9h0M392.2 519.0h0M392.3 512.4h0M392.4 483.5h0M392.5 494.4h0M392.5 491.5h0M392.5 500.0h0M392.5 511.4h0M392.6 498.1h0M392.6 486.6h0M392.7 515.5h0M392.7 488.0h0M392.7 502.9h0M392.7 502.3h0M392.8 503.8h0M392.8 497.0h0M392.9 514.5h0M392.9 494.2h0M393.0 498.0h0M393.0 503.9h0M393.0 499.6h0M393.2 494.3h0M393.2 509.8h0M393.2 520.0h0M393.2 516.0h0M393.3 503.6h0M393.3 512.3h0M393.3 486.5h0M393.4 509.4h0M393.4 501.1h0M393.4 506.9h0M393.5 481.4h0M393.5 483.0h0M393.6 512.5h0M393.7 491.4h0M393.7 506.3h0M393.7 490.3h0M393.8 511.0h0M393.8 507.0h0M393.9 481.6h0M393.9 492.8h0M393.9 487.3h0M393.9 510.5h0M394.0 486.9h0M394.0 494.4h0M394.1 497.0h0M394.1 500.6h0M394.2 510.6h0M394.2 503.4h0M394.2 482.2h0M394.2 498.3h0M394.2 490.2h0M394.4 515.8h0M394.4 503.3h0M394.4 507.5h0M394.4 491.6h0M394.6 511.6h0M394.6 484.4h0M394.9 512.0h0M395.2 491.0h0M395.2 510.9h0M395.4 507.8h0M395.5 497.0h0M395.6 509.0h0M395.7 502.7h0M395.8 506.6h0M396.0 517.7h0M396.2 511.0h0M396.4 502.2h0M396.4 515.7h0M396.6 499.9h0M396.6 505.4h0M396.6 512.3h0M396.7 505.9h0M396.8 515.9h0M396.8 510.5h0M396.9 510.2h0M397.2 503.1h0M397.2 500.1h0M397.3 495.0h0M397.3 517.3h0M397.4 503.2h0M397.5 503.8h0M397.5 519.2h0M397.5 498.5h0M397.6 513.2h0M397.6 510.6h0M397.8 511.8h0M397.9 501.8h0M398.0 511.9h0M398.0 499.7h0M398.3 499.1h0M398.4 499.5h0M398.5 505.5h0M398.6 509.9h0M398.6 510.2h0M398.7 508.6h0M398.7 508.0h0M398.9 513.3h0M398.9 509.8h0M398.9 507.9h0M399.1 495.9h0M399.1 513.6h0M399.4 508.1h0M399.4 505.8h0M399.5 511.8h0M399.5 504.7h0M399.5 498.9h0M399.7 498.5h0M399.7 501.9h0M399.8 492.0h0M399.8 516.5h0M400.0 516.4h0M400.3 503.4h0M400.4 515.3h0M400.5 515.7h0M400.6 507.1h0M400.7 517.5h0M400.8 518.5h0M400.8 519.7h0M401.2 508.8h0M401.2 518.0h0M401.5 501.4h0M401.7 503.2h0M401.9 510.0h0M402.3 512.6h0M402.4 512.2h0M402.4 511.0h0M402.6 518.9h0M402.9 519.5h0M403.0 518.5h0M403.0 521.2h0M403.0 519.3h0M403.3 506.9h0M403.3 509.6h0M403.4 518.5h0M403.4 506.7h0M403.5 521.3h0M403.5 514.9h0M403.6 516.8h0M403.9 508.2h0M404.0 502.7h0M404.2 515.5h0M404.4 519.2h0M404.4 519.0h0M404.4 509.5h0M404.5 516.2h0M404.5 503.7h0M404.9 516.0h0M405.2 521.6h0M405.4 539.2h0M405.5 521.5h0M405.8 525.8h0M405.9 544.7h0M406.0 544.3h0M406.0 530.8h0M406.1 536.5h0M406.1 529.6h0M406.2 529.4h0M406.4 522.4h0M406.6 533.0h0M406.8 527.3h0M407.0 530.4h0M407.2 543.7h0M407.3 534.7h0M407.4 548.4h0M407.4 547.1h0M407.6 524.1h0M407.6 534.6h0M407.6 536.1h0M407.6 534.2h0M407.7 534.3h0M407.7 541.7h0M407.7 539.1h0M407.7 540.0h0M407.7 536.1h0M407.7 546.9h0M407.8 542.4h0M408.0 538.6h0M408.2 531.8h0M408.7 545.7h0M408.7 552.5h0M408.8 551.1h0M408.9 529.6h0M409.2 556.2h0M409.3 540.7h0M409.4 538.1h0M409.7 532.1h0M409.7 557.6h0M409.7 547.3h0M410.5 559.2h0M410.5 553.3h0M410.6 551.1h0M410.7 565.6h0M410.7 535.4h0M411.0 562.7h0M411.0 549.2h0M411.0 546.5h0M411.1 548.6h0M411.1 556.3h0M411.2 536.3h0M411.2 553.9h0M411.5 555.4h0M411.5 551.4h0M411.7 558.2h0M411.7 550.5h0M412.3 550.2h0M412.3 547.4h0M412.5 532.1h0M412.7 539.5h0M412.9 557.1h0M412.9 553.2h0M413.1 543.5h0M413.1 540.8h0M413.2 546.9h0M413.3 546.8h0M413.4 536.0h0M413.5 538.4h0M413.6 529.6h0M413.7 535.2h0M414.0 544.9h0M414.2 535.7h0M414.4 533.5h0M414.5 541.2h0M414.5 540.5h0M414.5 543.5h0M414.6 536.0h0M414.7 544.8h0M414.7 530.4h0M415.1 536.7h0M415.3 533.0h0M415.5 528.3h0M415.5 544.5h0M415.7 535.5h0M415.9 535.1h0M415.9 527.9h0M416.0 537.1h0M416.1 530.9h0M416.3 539.9h0M416.3 528.6h0M416.3 535.7h0M416.4 528.7h0M416.6 542.8h0M416.6 540.2h0M416.6 545.8h0M416.7 526.6h0M416.8 535.7h0M417.0 530.1h0M417.0 532.3h0M417.1 533.7h0M417.5 542.5h0M417.7 535.8h0M417.8 531.5h0M417.8 531.2h0M417.9 535.9h0M418.0 540.5h0M418.1 532.4h0M418.2 548.3h0M418.2 544.9h0M418.4 534.9h0M418.4 532.3h0M418.4 547.5h0M418.5 522.0h0M418.5 531.8h0M418.5 530.9h0M418.6 539.4h0M418.9 533.8h0M419.0 546.2h0M419.0 536.0h0M419.1 527.3h0M419.1 531.0h0M419.1 547.2h0M419.2 548.0h0M419.4 530.4h0M419.7 538.1h0M419.7 533.8h0M419.7 545.5h0M420.1 541.3h0M420.1 538.2h0M420.2 541.1h0M420.4 533.5h0M420.6 541.7h0M420.8 548.6h0M420.8 544.3h0M421.0 549.0h0M421.1 546.1h0M421.2 548.3h0M421.4 539.9h0M421.5 536.6h0M421.5 535.6h0M421.8 542.1h0M421.9 543.1h0M422.0 548.7h0M422.1 536.6h0M422.2 531.9h0M422.3 548.4h0M422.3 537.9h0M422.4 556.4h0M422.5 534.2h0M422.7 543.2h0M423.0 543.9h0M423.2 566.4h0M423.4 562.3h0M423.4 562.6h0M423.6 554.4h0M423.7 537.1h0M423.8 545.1h0M423.8 541.5h0M423.9 556.1h0M424.1 546.2h0M424.1 565.2h0M424.2 544.8h0M424.3 558.9h0M424.3 564.8h0M424.4 563.4h0M424.5 559.7h0M424.6 554.6h0M424.6 555.9h0M424.7 565.1h0M424.8 537.4h0M425.3 551.9h0M425.4 555.4h0M425.6 548.2h0M425.6 550.9h0M426.0 563.0h0M426.1 545.4h0M426.2 556.2h0M426.6 533.7h0M426.6 542.3h0M426.7 559.0h0M426.7 545.9h0M426.9 532.7h0M427.0 539.7h0M427.0 538.8h0M427.1 541.4h0M427.1 535.1h0M427.3 528.6h0M427.4 550.4h0M427.6 529.8h0M427.7 534.1h0M427.8 540.1h0M428.0 525.2h0M428.4 523.8h0M428.5 530.4h0M428.6 531.0h0M428.7 525.5h0M428.8 544.1h0M428.9 535.8h0M428.9 527.9h0M429.0 542.7h0M429.1 528.0h0M429.2 531.9h0M429.4 537.6h0M429.5 516.8h0M429.6 516.2h0M429.7 517.6h0M429.7 503.0h0M429.7 516.9h0M430.3 517.1h0M430.4 521.8h0M430.5 515.8h0M430.7 515.6h0M430.9 519.9h0M431.1 506.1h0M431.2 507.7h0M431.2 514.0h0M431.3 512.9h0M431.4 515.1h0M431.6 518.3h0M431.7 514.5h0M432.1 509.2h0M432.4 519.6h0M432.5 519.6h0M432.5 500.9h0M432.6 506.7h0M432.8 507.4h0M432.9 496.9h0M433.0 515.0h0M433.0 510.6h0M433.0 512.0h0M433.3 511.1h0M433.3 510.1h0M433.8 499.7h0M434.0 499.6h0M434.2 511.2h0M434.2 513.7h0M434.3 503.9h0M434.6 512.6h0M434.6 509.0h0M435.0 502.5h0M435.1 509.9h0M435.3 497.6h0M435.5 509.7h0M435.8 499.7h0M435.9 511.4h0M435.9 513.1h0M436.0 514.7h0M436.1 498.5h0M436.3 512.4h0M436.7 514.8h0M436.8 504.2h0M436.9 508.4h0M437.4 501.4h0M437.4 507.2h0M437.5 500.2h0M437.8 513.9h0M438.0 495.1h0M438.4 507.4h0M438.6 516.3h0M438.6 513.2h0M438.6 500.7h0M438.6 518.9h0M438.8 499.4h0M438.8 497.4h0M439.0 518.5h0M439.5 502.1h0M439.6 513.1h0M439.7 494.2h0M440.1 513.2h0M440.2 502.6h0M440.3 511.0h0M440.3 517.1h0M440.4 510.9h0M440.4 515.8h0M440.4 503.4h0M440.5 508.2h0M440.6 509.0h0M440.7 505.2h0M440.7 506.3h0M441.2 508.1h0M441.2 497.4h0M441.3 498.7h0M441.3 499.9h0M441.3 503.3h0M441.4 512.2h0M441.4 516.7h0M441.5 493.8h0M441.6 504.1h0M441.6 503.8h0M441.9 499.0h0M442.2 503.8h0M442.3 503.5h0M442.4 497.4h0M442.4 497.1h0M442.5 501.3h0M442.8 509.8h0M442.9 514.2h0M443.3 502.7h0M443.3 514.1h0M443.4 509.6h0M444.0 509.5h0M444.2 516.3h0M444.3 494.6h0M444.5 509.5h0M444.6 506.3h0M444.7 515.2h0M444.7 513.5h0M444.7 507.0h0M444.7 496.6h0M444.7 501.2h0M445.1 492.1h0M445.1 511.8h0M445.2 511.3h0M445.3 511.7h0M445.4 513.7h0M445.5 518.7h0M445.8 514.9h0M446.0 513.1h0M446.0 515.2h0M446.1 500.2h0M446.2 505.5h0M446.3 499.5h0M446.3 502.5h0M446.4 498.4h0M446.4 515.9h0M446.6 503.2h0M446.7 511.5h0M446.8 502.8h0M446.8 507.0h0M447.2 499.8h0M447.3 501.0h0M447.3 513.5h0M447.4 505.7h0M447.5 520.7h0M447.9 499.6h0M448.5 502.5h0M448.6 505.3h0M448.7 501.3h0M448.8 505.1h0M449.0 521.1h0M449.0 520.6h0M449.1 508.7h0M449.1 527.1h0M449.3 508.8h0M449.3 518.0h0M449.5 515.1h0M449.6 525.7h0M449.8 522.1h0M450.3 503.8h0M450.4 520.6h0M450.4 541.3h0M450.5 526.2h0M450.6 531.5h0M450.6 526.0h0M450.7 531.3h0M450.8 532.6h0M450.9 532.0h0M451.0 540.8h0M451.0 529.4h0M451.1 543.1h0M451.1 532.5h0M451.1 535.8h0M451.2 541.0h0M451.4 522.5h0M451.4 524.8h0M451.4 537.2h0M451.5 536.2h0M451.5 534.4h0M451.6 532.1h0M451.7 542.9h0M451.7 522.9h0M451.8 542.0h0M451.8 536.8h0M451.9 534.8h0M452.1 538.6h0M452.2 539.5h0M452.3 539.6h0M452.3 536.5h0M452.3 536.8h0M452.4 532.9h0M452.4 544.3h0M452.9 539.4h0M453.0 524.0h0M453.1 542.8h0M453.6 537.7h0M453.6 534.3h0M453.8 524.2h0M453.9 546.4h0M453.9 541.2h0M454.0 553.0h0M454.2 541.1h0M454.3 542.0h0M454.3 533.5h0M454.6 529.6h0M454.8 529.3h0M454.8 541.8h0M454.8 544.4h0M454.9 532.2h0M454.9 542.0h0M455.0 543.2h0M455.1 532.3h0M455.2 539.6h0M455.4 548.7h0M455.5 529.0h0M455.7 528.5h0M455.8 536.6h0M455.8 534.1h0M455.8 534.1h0M456.3 537.3h0M456.4 571.4h0M456.5 539.3h0M456.5 547.8h0M456.6 571.9h0M456.7 569.9h0M456.8 541.6h0M457.2 543.5h0M457.3 545.5h0M457.3 552.9h0M457.7 544.5h0M457.9 543.2h0M458.0 542.0h0M458.3 571.2h0M458.5 567.1h0M458.9 556.1h0M459.1 549.2h0M459.3 551.5h0M459.5 533.7h0M459.5 565.8h0M459.6 560.3h0M459.8 552.6h0M460.0 572.2h0M460.0 536.5h0M460.5 569.7h0M460.6 559.6h0M460.6 544.3h0M460.6 548.8h0M460.8 564.0h0M460.9 557.0h0M461.2 548.5h0M461.3 539.8h0M461.4 551.3h0M461.5 551.0h0M461.6 541.3h0M461.7 542.0h0M462.0 547.7h0M462.4 542.6h0M462.6 548.6h0M462.8 542.3h0M462.8 548.9h0M462.9 543.5h0M463.2 536.6h0M463.6 544.0h0M463.9 543.2h0M463.9 539.3h0M464.2 539.7h0M464.3 529.0h0M464.4 539.8h0M464.4 540.2h0M464.5 539.2h0M464.5 547.8h0M464.7 533.8h0M464.7 529.5h0M464.9 530.6h0M465.3 544.7h0M465.3 545.9h0M465.3 520.1h0M465.4 527.5h0M465.6 542.3h0M465.8 504.1h0M465.9 507.0h0M466.1 513.0h0M466.3 500.4h0M466.3 512.2h0M466.3 508.5h0M466.3 499.4h0M466.3 507.7h0M466.6 497.2h0M466.7 506.8h0M466.8 507.7h0M467.0 499.4h0M467.1 503.7h0M467.4 495.4h0M467.5 501.6h0M467.6 497.6h0M467.9 513.6h0M468.0 499.0h0M468.0 512.0h0M468.1 502.9h0M468.2 513.6h0M468.3 499.7h0M468.3 514.6h0M468.4 499.7h0M468.5 513.7h0M468.7 505.4h0M468.8 499.9h0M469.0 509.9h0M469.1 494.8h0M469.1 506.1h0M469.1 504.5h0M469.2 505.0h0M469.3 512.1h0M469.4 512.9h0M469.8 504.8h0M469.8 509.5h0M469.8 503.3h0M469.8 511.0h0M470.0 501.9h0M470.0 494.5h0M470.9 500.6h0M471.0 517.5h0M471.1 505.7h0M471.1 514.5h0M471.3 499.6h0M471.4 505.6h0M471.4 503.5h0M471.6 517.6h0M471.6 509.7h0M471.9 507.9h0M471.9 518.8h0M472.0 507.1h0M472.0 506.8h0M472.0 494.8h0M472.0 505.9h0M472.0 512.8h0M472.1 502.1h0M472.1 497.3h0M472.3 520.7h0M472.3 512.5h0M472.5 511.4h0M472.6 502.4h0M472.8 517.6h0M473.2 525.2h0M473.4 530.3h0M473.4 524.7h0M473.6 550.0h0M473.6 544.6h0M473.6 530.9h0M474.0 541.7h0M474.0 547.5h0M474.4 549.8h0M474.4 550.8h0M474.4 550.2h0M474.7 550.0h0M474.8 555.8h0M475.0 554.3h0M475.2 554.5h0M475.3 561.1h0M475.4 562.6h0M475.4 562.0h0M475.5 569.0h0M475.7 548.2h0M475.7 572.1h0M476.0 554.4h0M476.0 552.5h0M476.0 560.0h0M476.0 553.0h0M476.1 554.4h0M476.4 544.4h0M476.5 562.1h0M477.0 554.8h0M477.1 539.5h0M477.2 535.1h0M477.2 545.4h0M477.3 546.8h0M477.4 558.6h0M477.4 539.3h0M477.8 569.7h0M478.0 537.1h0M478.2 563.3h0M478.6 550.8h0M478.8 545.2h0M479.2 541.7h0M479.4 514.2h0M479.6 520.7h0M479.6 530.2h0M479.7 532.4h0M479.8 540.0h0M479.9 520.0h0M480.0 513.1h0M480.6 515.0h0M480.7 528.1h0M480.8 520.6h0M480.9 520.1h0M481.1 522.2h0M481.1 530.6h0M481.2 517.6h0M481.4 506.5h0M481.6 523.7h0M481.6 507.2h0M481.6 521.7h0M481.6 531.2h0M481.8 514.2h0M482.3 532.9h0M482.6 523.1h0M482.7 529.2h0M482.9 532.4h0M483.1 511.2h0M483.1 533.8h0M483.2 513.5h0M483.3 519.9h0M483.4 523.6h0M483.4 509.5h0M483.5 532.4h0M483.5 539.8h0M483.9 527.5h0M483.9 522.6h0M483.9 519.9h0M484.1 522.5h0M484.3 509.9h0M484.3 519.4h0M484.4 519.2h0M484.9 523.2h0M484.9 518.9h0M485.1 538.4h0M485.1 543.0h0M485.2 520.2h0M485.6 525.9h0M485.7 511.4h0M485.7 536.7h0M485.9 532.7h0M486.1 518.5h0M486.5 523.0h0M486.6 537.3h0M486.6 533.2h0M486.8 524.7h0M487.1 523.9h0M487.2 535.1h0M487.3 541.2h0M487.4 517.8h0M487.6 526.1h0M487.6 518.6h0M487.7 518.1h0M487.8 524.1h0M488.0 536.2h0M488.0 522.6h0M488.2 522.7h0M488.6 527.7h0M488.7 533.2h0M488.7 522.5h0M488.8 527.0h0M488.8 528.6h0M488.9 512.5h0M489.1 524.5h0M489.2 519.2h0M489.5 526.3h0M489.6 527.7h0M489.6 537.1h0M489.7 510.6h0M489.8 525.2h0M489.8 511.1h0M489.8 515.3h0M489.9 511.5h0M489.9 517.2h0M490.0 514.4h0M490.1 519.1h0M490.1 517.5h0M490.2 513.4h0M490.4 519.8h0M490.5 516.7h0M490.5 525.0h0M490.5 517.1h0M490.5 534.7h0M490.5 529.0h0M490.5 523.5h0M490.6 524.6h0M490.6 536.6h0M490.7 527.6h0M490.7 521.7h0M490.7 525.1h0M490.8 531.1h0M490.8 528.3h0M490.9 522.2h0M491.0 526.1h0M491.3 521.4h0M491.4 508.0h0M491.5 515.8h0M491.5 523.0h0M491.5 520.6h0M491.6 516.6h0M491.7 532.5h0M491.7 528.1h0M491.7 523.1h0M491.8 514.8h0M491.8 515.7h0M491.8 519.1h0M491.9 510.8h0M492.2 520.1h0M492.3 531.2h0M492.4 516.6h0M492.5 508.0h0M492.6 511.1h0M492.6 531.8h0M492.6 523.5h0M492.7 505.8h0M492.9 514.9h0M492.9 520.1h0M493.0 527.0h0M493.1 516.1h0M493.3 562.0h0M493.3 510.8h0M493.5 514.7h0M493.5 501.7h0M493.6 507.7h0M493.8 514.9h0M494.4 514.8h0M494.4 503.1h0M494.6 513.4h0M494.7 511.3h0M494.8 507.3h0M494.9 506.9h0M495.0 523.5h0M495.0 501.9h0M495.1 523.4h0M495.4 498.0h0M495.5 514.3h0M495.5 503.1h0M495.5 507.7h0M495.5 498.1h0M495.6 522.6h0M495.6 520.3h0M496.5 504.9h0M496.5 519.5h0M496.5 506.9h0M496.6 508.9h0M496.7 516.9h0M496.8 502.3h0M497.1 501.4h0M497.1 521.5h0M497.4 513.0h0M497.8 515.0h0M498.2 504.4h0M498.2 500.1h0M498.3 515.5h0M498.6 521.5h0M498.6 509.5h0M498.7 508.4h0M499.1 499.5h0M499.3 518.0h0M499.4 504.6h0M499.4 508.5h0M499.9 501.5h0M499.9 509.6h0M500.1 497.8h0M500.2 517.6h0M500.2 512.0h0M500.3 517.8h0M500.3 513.3h0M500.3 495.2h0M500.4 507.5h0M500.4 505.8h0M500.5 499.6h0M500.9 499.1h0M501.4 502.6h0M501.4 513.2h0M502.0 523.0h0M502.1 501.7h0M502.1 508.4h0M502.3 505.2h0M502.5 497.5h0M502.5 500.4h0M502.6 510.3h0M502.8 495.8h0M502.8 496.7h0M502.8 507.4h0M502.9 497.8h0M502.9 514.2h0M503.0 511.2h0M503.1 495.0h0M503.3 496.4h0M503.7 512.2h0M503.8 511.2h0M503.8 508.0h0M503.8 503.5h0M503.8 503.3h0M503.9 506.9h0M504.0 507.6h0M504.0 519.6h0M504.0 508.1h0M504.3 505.9h0M504.4 513.2h0M504.5 508.9h0M504.6 495.3h0M504.7 510.3h0M504.8 503.4h0M505.2 515.6h0M505.3 498.7h0M505.4 520.3h0M505.6 508.5h0M505.6 510.6h0M505.6 509.5h0M505.9 498.5h0M506.2 525.8h0M506.2 541.3h0M506.3 541.5h0M506.4 527.9h0M506.4 524.5h0M506.5 525.5h0M506.7 535.1h0M506.7 539.8h0M507.0 527.3h0M507.0 532.7h0M507.2 527.1h0M507.4 529.0h0M507.5 541.1h0M507.5 566.0h0M507.5 523.0h0M507.6 536.7h0M507.6 521.6h0M507.7 542.2h0M507.8 544.3h0M507.9 543.6h0M507.9 558.9h0M508.2 535.6h0M508.4 536.3h0M508.8 532.5h0M509.4 533.6h0M509.5 533.2h0M509.5 556.2h0M509.6 531.4h0M509.7 553.1h0M509.7 534.6h0M509.7 554.8h0M509.8 535.5h0M509.9 540.4h0M510.0 546.0h0M510.1 534.6h0M510.4 540.7h0M510.5 539.0h0M510.6 550.1h0M510.7 542.7h0M511.0 546.5h0M511.0 554.4h0M511.2 535.7h0M511.3 576.0h0M511.5 546.6h0M511.5 528.2h0M511.5 536.7h0M511.6 547.8h0M511.7 537.3h0M511.9 563.6h0M512.0 550.8h0M512.0 551.4h0M512.1 538.5h0M512.2 535.2h0M512.3 544.6h0M512.3 560.0h0M512.3 564.2h0M512.4 555.7h0M512.4 551.4h0M512.6 547.9h0M512.6 539.5h0M513.3 553.7h0M513.4 559.7h0M513.4 559.0h0M513.6 545.8h0M513.7 559.5h0M513.8 553.3h0M513.8 566.0h0M513.8 566.9h0M513.9 539.2h0M514.1 547.8h0M514.2 563.3h0M514.4 558.0h0M514.6 556.0h0M514.7 548.2h0M514.7 551.4h0M515.1 556.9h0M515.3 563.8h0M515.3 563.6h0M515.4 560.8h0M515.4 566.1h0M515.5 565.1h0M515.5 548.7h0M515.5 545.8h0M515.5 564.8h0M515.6 542.8h0M515.6 556.4h0M515.6 565.1h0M515.8 552.0h0M515.9 565.5h0M515.9 550.7h0M515.9 565.3h0M515.9 558.4h0M516.0 554.6h0M516.1 546.1h0M516.2 550.7h0M516.2 570.0h0M516.2 552.5h0M516.2 561.3h0M516.2 545.3h0M516.3 546.2h0M516.3 558.7h0M516.3 553.4h0M516.4 548.4h0M516.5 555.7h0M516.5 539.0h0M516.5 545.4h0M516.5 555.5h0M516.6 554.1h0M516.6 548.5h0M516.6 544.2h0M516.9 553.5h0M517.1 552.5h0M517.1 538.2h0M517.2 557.8h0M517.3 563.7h0M517.3 543.0h0M517.6 548.6h0M517.8 546.7h0M517.8 547.9h0M517.8 551.6h0M518.6 549.3h0M518.7 552.0h0M518.8 555.6h0M518.9 554.9h0M518.9 557.8h0M519.0 538.3h0M519.1 532.9h0M519.3 550.7h0M519.4 549.8h0M519.9 553.2h0M519.9 541.6h0M520.1 544.2h0M520.1 544.8h0M520.2 548.9h0M520.4 540.3h0M520.6 536.6h0M520.7 551.3h0M520.8 540.3h0M521.0 554.7h0M521.1 550.8h0M521.1 555.5h0M521.2 536.3h0M521.2 537.2h0M521.2 542.8h0M521.3 559.3h0M521.5 536.2h0M521.7 550.7h0M522.0 545.7h0M522.2 551.5h0M522.2 537.9h0M522.2 540.2h0M522.3 539.0h0M522.3 550.5h0M522.4 536.0h0M522.4 559.5h0M522.6 546.3h0M522.7 552.9h0M522.9 542.5h0M523.0 553.4h0M523.0 542.2h0M523.1 557.9h0M523.1 540.0h0M523.3 546.4h0M523.4 548.1h0M523.4 551.3h0M523.5 549.7h0M523.6 556.0h0M523.7 538.1h0M523.7 547.7h0M523.8 559.3h0M523.9 552.9h0M524.0 552.7h0M524.1 536.1h0M524.2 545.1h0M524.5 547.4h0M524.5 545.1h0M524.5 538.1h0M524.5 552.3h0M524.6 542.6h0M524.6 546.9h0M524.7 550.0h0M524.7 550.0h0M524.8 548.0h0M524.8 553.3h0M525.4 557.9h0M525.4 551.2h0M525.5 554.3h0M525.6 552.8h0M525.6 548.7h0M525.6 548.7h0M525.7 551.0h0M525.8 557.0h0M525.8 556.7h0M525.8 552.8h0M526.6 546.3h0M526.6 559.1h0M526.7 542.3h0M526.7 560.4h0M526.9 548.1h0M526.9 549.7h0M527.2 544.5h0M527.2 558.8h0M527.3 538.9h0M527.6 541.3h0M527.6 554.7h0M527.7 558.8h0M527.7 548.4h0M527.8 528.0h0M527.9 537.3h0M528.0 544.9h0M528.0 543.3h0M528.0 561.2h0M528.2 542.6h0M528.3 541.4h0M528.3 536.4h0M529.0 527.7h0M529.1 522.6h0M529.2 509.4h0M529.3 517.0h0M529.3 530.1h0M529.4 512.5h0M529.5 511.3h0M529.6 522.6h0M529.7 500.8h0M529.8 538.0h0M529.8 508.0h0M530.0 530.3h0M530.3 522.2h0M530.3 503.1h0M530.3 508.6h0M530.4 510.8h0M530.7 513.0h0M530.8 518.2h0M530.8 531.9h0M530.8 519.1h0M530.9 499.3h0M531.0 507.4h0M531.1 506.4h0M531.4 526.6h0M531.5 507.0h0M531.5 517.5h0M531.6 514.1h0M531.7 506.5h0M531.7 507.8h0M531.8 529.7h0M531.8 502.3h0M531.8 497.7h0M531.8 512.6h0M532.0 501.9h0M532.0 531.3h0M532.5 514.8h0M532.5 518.1h0M532.8 504.9h0M533.0 515.3h0M533.0 510.2h0M533.0 512.9h0M533.1 503.1h0M533.3 508.9h0M533.5 518.8h0M533.7 496.3h0M533.8 508.4h0M533.9 496.2h0M534.1 497.5h0M534.1 523.7h0M534.1 500.7h0M534.3 515.7h0M534.4 502.4h0M534.7 495.4h0M534.8 520.0h0M534.8 506.6h0M534.9 515.0h0M535.0 504.7h0M535.2 501.5h0M535.3 495.2h0M535.5 520.1h0M535.5 499.1h0M535.6 503.3h0M535.6 517.0h0M535.7 511.1h0M535.9 519.5h0M535.9 494.6h0M536.0 504.7h0M536.1 501.8h0M536.1 516.2h0M536.3 503.4h0M536.4 501.0h0M536.7 516.9h0M537.1 504.2h0M537.3 509.4h0M537.4 521.6h0M537.6 498.4h0M537.6 496.8h0M537.8 506.2h0M538.0 516.8h0M538.0 490.6h0M538.1 511.5h0M538.3 504.6h0M538.5 489.9h0M538.5 489.8h0M538.6 504.5h0M538.7 484.0h0M538.8 493.3h0M539.0 488.1h0M539.1 504.7h0M539.3 490.6h0M539.3 500.4h0M539.4 502.9h0M539.5 500.7h0M539.6 522.3h0M539.6 493.4h0M539.6 488.9h0M539.8 499.5h0M540.0 506.2h0M540.0 505.8h0M540.0 514.3h0M540.1 488.4h0M540.1 509.5h0M540.2 495.1h0M540.2 515.2h0M540.2 517.3h0M540.2 500.3h0M540.2 502.4h0M540.3 510.1h0M540.3 487.4h0M540.4 494.9h0M540.4 482.2h0M540.4 507.0h0M540.6 505.8h0M540.6 495.1h0M540.6 485.6h0M540.6 491.2h0M540.7 489.3h0M540.7 509.8h0M540.7 506.0h0M540.7 482.7h0M540.7 504.5h0M540.8 493.2h0M540.9 480.7h0M540.9 506.3h0M540.9 481.5h0M540.9 503.8h0M540.9 482.0h0M540.9 504.2h0M540.9 497.7h0M541.0 505.6h0M541.0 513.6h0M541.1 501.2h0M541.2 503.7h0M541.2 483.9h0M541.3 517.3h0M541.3 482.1h0M541.4 492.1h0M541.4 501.3h0M541.5 514.5h0M541.5 481.1h0M541.5 512.3h0M541.5 484.9h0M541.6 514.7h0M541.7 507.4h0M541.7 512.4h0M541.7 487.5h0M541.7 510.6h0M541.8 490.0h0M542.0 506.0h0M542.0 512.7h0M542.0 508.9h0M542.2 502.3h0M542.3 512.3h0M542.4 498.1h0M542.5 498.2h0M542.6 497.5h0M542.6 489.0h0M542.6 498.9h0M542.8 508.3h0M543.0 498.2h0M543.0 512.0h0M543.0 512.4h0M543.2 498.6h0M543.3 509.2h0M543.4 513.3h0M543.4 495.4h0M543.5 511.0h0M543.9 505.5h0M544.0 514.4h0M544.3 521.3h0M544.5 496.2h0M544.5 513.4h0M544.7 512.4h0M544.9 510.1h0M545.1 521.4h0M545.5 507.6h0M545.8 505.7h0M545.9 507.8h0M546.3 497.8h0M546.4 518.3h0M546.6 506.1h0M546.7 496.1h0M547.0 508.5h0M547.1 524.7h0M547.4 510.1h0M547.4 492.0h0M547.4 501.6h0M547.5 520.3h0M547.5 509.0h0M547.5 518.3h0M547.6 516.2h0M547.6 511.6h0M547.6 508.9h0M547.6 521.3h0M547.7 517.2h0M547.8 502.7h0M547.8 510.4h0M548.0 525.5h0M548.1 504.0h0M548.3 503.3h0M548.4 511.4h0M548.4 509.5h0M548.6 512.2h0M548.6 506.0h0M548.9 499.6h0M549.0 496.7h0M549.1 502.6h0M549.2 505.4h0M549.3 506.1h0M549.4 507.3h0M549.4 506.4h0M549.5 513.3h0M549.6 514.7h0M549.7 507.1h0M550.1 501.4h0M550.1 513.8h0M550.1 509.5h0M550.1 519.6h0M550.3 506.0h0M550.5 505.6h0M550.6 501.5h0M550.6 508.8h0M550.7 511.0h0M550.9 514.6h0M551.2 514.0h0M551.7 507.4h0M551.8 512.8h0M551.9 513.2h0M552.1 516.8h0M552.6 523.0h0M552.8 514.0h0M552.8 533.5h0M553.2 538.7h0M553.2 523.2h0M553.3 530.7h0M553.7 545.8h0M553.8 528.7h0M553.9 522.7h0M554.1 527.4h0M554.1 534.6h0M554.2 536.3h0M554.3 540.4h0M554.3 531.6h0M554.3 536.5h0M554.6 535.7h0M554.8 539.9h0M554.8 543.3h0M554.8 542.3h0M554.9 538.4h0M555.0 545.2h0M555.1 531.8h0M555.1 544.5h0M555.2 545.3h0M555.3 551.5h0M555.5 545.0h0M555.5 547.8h0M555.6 531.3h0M555.6 536.8h0M556.0 541.7h0M556.2 545.1h0M556.3 545.2h0M556.3 537.3h0M556.8 552.1h0M556.9 538.3h0M557.2 546.9h0M557.3 545.0h0M557.6 552.3h0M557.6 544.8h0M557.6 553.5h0M557.7 543.8h0M557.8 548.2h0M558.1 540.1h0M558.2 557.7h0M558.3 560.7h0M558.3 548.7h0M558.5 539.7h0M558.5 556.8h0M558.7 539.4h0M558.7 549.1h0M559.1 552.9h0M559.3 550.2h0M559.3 553.8h0M559.5 547.0h0M559.6 551.1h0M559.6 548.6h0M559.6 555.0h0M559.7 552.7h0M559.8 565.5h0M560.0 558.7h0M560.2 555.3h0M560.2 560.6h0M560.3 555.9h0M560.3 546.6h0M560.3 555.8h0M560.6 537.6h0M560.6 547.1h0M560.6 570.8h0M560.7 544.0h0M560.8 540.3h0M560.9 561.5h0M561.0 567.7h0M561.3 548.6h0M561.4 560.4h0M561.4 553.2h0M561.5 555.5h0M561.5 547.1h0M561.6 569.3h0M561.8 541.1h0M561.9 543.6h0M562.0 561.2h0M562.0 557.6h0M562.0 547.3h0M562.0 539.0h0M562.1 539.5h0M562.2 559.5h0M562.4 567.1h0M562.7 535.1h0M562.7 556.0h0M563.0 566.3h0M563.0 558.5h0M563.1 544.2h0M563.1 546.9h0M563.3 544.0h0M563.3 560.1h0M563.6 556.9h0M563.7 556.2h0M563.8 553.2h0M563.8 545.5h0M563.8 566.8h0M563.9 549.7h0M564.5 563.8h0M564.5 576.3h0M564.5 536.6h0M564.7 546.5h0M564.7 553.3h0M564.7 553.2h0M564.9 546.1h0M564.9 556.6h0M565.0 545.1h0M565.1 552.8h0M565.1 537.3h0M565.3 559.5h0M565.4 543.0h0M565.4 541.3h0M565.4 552.1h0M565.7 541.1h0M565.7 551.4h0M565.9 552.0h0M566.0 558.2h0M566.1 538.1h0M566.1 553.0h0M566.2 533.8h0M566.4 550.3h0M566.4 554.1h0M566.5 538.6h0M566.7 549.0h0M566.8 541.9h0M566.8 536.1h0M567.0 542.5h0M567.1 548.5h0M567.1 553.1h0M567.3 554.8h0M567.4 535.0h0M567.6 549.2h0M567.7 551.7h0M567.7 536.4h0M567.9 546.7h0M567.9 539.4h0M568.1 540.8h0M568.2 545.4h0M568.2 551.6h0M568.3 540.8h0M568.5 548.0h0M568.6 526.6h0M568.7 544.5h0M568.9 539.5h0M569.0 545.3h0M569.0 536.8h0M569.0 531.0h0M569.2 549.4h0M569.2 549.9h0M569.3 532.3h0M569.4 532.9h0M569.5 549.7h0M569.7 540.1h0M569.7 548.5h0M569.8 548.9h0M569.8 544.7h0M570.0 537.8h0M570.1 546.3h0M570.1 541.9h0M570.3 546.2h0M570.4 550.3h0M570.5 533.5h0M570.6 543.7h0M570.6 552.3h0M570.6 538.4h0M570.7 544.1h0M570.8 535.1h0M570.8 532.1h0M571.0 541.1h0M571.1 543.1h0M571.2 553.1h0M571.3 541.3h0M571.5 547.5h0M571.5 548.5h0M571.5 546.6h0M571.7 543.6h0M571.8 541.4h0M572.0 536.9h0M572.2 528.8h0M572.2 538.9h0M572.2 534.5h0M572.4 539.7h0M572.7 529.4h0M573.1 529.3h0M573.2 539.2h0M573.6 548.4h0M573.7 536.0h0M574.0 537.1h0M574.1 545.7h0M574.5 535.4h0M574.5 532.1h0M574.6 548.5h0M574.8 538.0h0M574.8 537.0h0M574.9 533.6h0M575.2 543.4h0M575.3 547.5h0M575.3 529.2h0M575.4 533.3h0M575.4 544.8h0M575.6 526.5h0M575.7 542.6h0M575.7 546.1h0M575.8 530.6h0M575.9 527.1h0M575.9 543.6h0M576.0 527.9h0M576.1 541.0h0M576.4 539.5h0M576.4 546.0h0M576.5 530.3h0M576.5 528.2h0M576.6 532.6h0M576.6 544.8h0M576.8 528.9h0M576.9 521.2h0M577.0 530.0h0M577.0 536.4h0M577.1 546.5h0M577.1 521.0h0M578.1 515.4h0M578.1 544.8h0M578.3 541.6h0M578.5 512.0h0M578.5 513.9h0M578.6 536.7h0M578.6 543.8h0M578.8 526.5h0M578.8 520.5h0M578.9 521.2h0M579.2 518.7h0M579.4 513.0h0M579.4 538.2h0M579.6 515.7h0M579.6 544.9h0M579.7 522.0h0M579.8 524.8h0M580.1 522.9h0M580.1 515.9h0M580.1 524.8h0M580.4 530.2h0M581.0 529.5h0M581.3 511.5h0M581.4 516.8h0M581.5 513.6h0M581.6 532.0h0M581.7 496.9h0M581.9 527.0h0M582.0 519.3h0M582.2 513.2h0M582.3 507.2h0M582.3 541.2h0M582.4 512.5h0M582.5 516.6h0M582.6 522.1h0M582.6 521.0h0M582.7 522.4h0M582.7 529.5h0M582.8 530.3h0M582.8 540.4h0M582.9 543.1h0M583.0 515.9h0M583.1 505.9h0M583.2 515.2h0M583.2 511.4h0M583.4 529.3h0M583.5 506.5h0M583.5 539.1h0M583.5 535.6h0M584.1 532.1h0M584.2 503.4h0M584.3 540.3h0M584.6 514.6h0M584.6 532.3h0M584.7 523.7h0M584.8 529.2h0M585.0 505.0h0M585.2 514.6h0M585.3 533.7h0M585.5 514.9h0M585.7 522.3h0M585.8 529.7h0M585.9 521.8h0M586.2 537.9h0M586.2 537.7h0M586.3 534.2h0M586.5 505.2h0M586.7 540.6h0M586.8 519.6h0M586.8 522.8h0M586.9 524.1h0M587.1 523.0h0M587.3 534.5h0M587.3 524.8h0M587.4 528.7h0M587.8 507.8h0M587.8 524.8h0M587.9 522.3h0M588.0 528.2h0M588.3 539.8h0M588.5 525.9h0M588.6 535.4h0M588.8 519.2h0M588.9 537.6h0M589.3 534.5h0M589.3 526.5h0M589.3 538.4h0M589.5 519.2h0M590.2 521.8h0M590.3 523.3h0M590.4 531.4h0M590.6 526.9h0M590.8 511.3h0M591.1 520.5h0M591.4 529.4h0M591.4 534.1h0M591.4 523.4h0M591.4 519.4h0M591.6 525.0h0M591.7 529.9h0M591.8 526.8h0M591.9 533.1h0M591.9 534.0h0M592.0 530.3h0M592.0 517.5h0M592.1 526.0h0M592.2 537.8h0M592.2 541.4h0M592.5 529.1h0M592.5 523.7h0M592.7 539.5h0M592.7 524.7h0M592.7 529.0h0M593.2 523.4h0M593.3 536.7h0M593.4 528.7h0M593.4 534.4h0M593.5 527.3h0M593.6 525.6h0M593.7 515.7h0M593.7 537.5h0M593.7 526.0h0M593.9 534.7h0M593.9 529.9h0M594.1 527.4h0M594.2 534.9h0M594.2 544.7h0M594.3 518.9h0M594.5 524.8h0M594.5 527.4h0M594.5 517.1h0M594.7 538.9h0M595.0 520.7h0M595.3 508.3h0M595.3 517.4h0M595.6 528.5h0M595.8 530.7h0M595.8 542.5h0M595.9 531.4h0M595.9 506.7h0M595.9 521.3h0M596.5 517.1h0M596.5 532.4h0M596.6 534.2h0M596.6 529.0h0M597.0 529.4h0M597.1 524.6h0M597.1 524.8h0M597.1 534.4h0M597.2 533.3h0M597.4 515.4h0M597.5 534.7h0M597.9 516.6h0M598.0 520.5h0M598.1 529.8h0M598.2 543.6h0M598.5 536.9h0M598.7 534.8h0M598.8 528.6h0M598.9 534.6h0M598.9 534.6h0M599.0 534.8h0M599.0 534.8h0M599.1 520.5h0M599.2 530.3h0M599.3 520.8h0M599.3 527.2h0M599.4 543.5h0M599.5 535.7h0M599.5 517.4h0M599.7 521.8h0M599.7 540.7h0M600.3 527.3h0M600.4 536.1h0M600.5 538.8h0M600.7 525.9h0M601.4 525.2h0M601.4 537.3h0M601.8 540.3h0M602.1 520.8h0M602.5 537.8h0M602.5 542.1h0M602.5 532.3h0M602.7 546.6h0M602.8 530.9h0M602.9 547.4h0M603.0 521.8h0M603.0 544.1h0M603.1 524.8h0M603.2 537.7h0M603.6 541.1h0M603.7 534.7h0M603.8 532.9h0M604.3 524.7h0M604.4 537.7h0M604.5 525.5h0M604.6 542.4h0M605.1 526.5h0M605.3 540.6h0M605.3 539.8h0M605.5 539.7h0M605.6 530.1h0M605.8 552.0h0M605.9 544.1h0M606.0 552.2h0M606.5 552.3h0M606.7 538.1h0M606.7 542.0h0M607.0 557.5h0M607.0 547.5h0M607.1 545.7h0M607.5 549.4h0M607.5 556.0h0M607.6 554.0h0M607.6 546.7h0M607.9 531.8h0M608.2 543.2h0M608.8 540.6h0M608.9 536.6h0M608.9 535.6h0M609.5 541.8h0M609.5 534.1h0M609.8 511.9h0M610.0 504.9h0M610.1 516.4h0M610.2 533.8h0M610.3 520.8h0M610.4 511.5h0M610.5 509.4h0M610.8 511.5h0M610.8 522.9h0M610.9 515.9h0M611.3 514.2h0M611.8 523.0h0M611.8 504.0h0M611.8 516.4h0M612.1 520.2h0M612.2 523.8h0M612.4 513.2h0M612.6 512.0h0M612.9 523.2h0M613.1 523.5h0M613.1 517.7h0M613.2 504.8h0M613.3 518.8h0M613.7 512.9h0M613.7 513.0h0M613.8 516.6h0M614.4 510.5h0M614.5 521.9h0M614.6 516.2h0M614.6 510.0h0M614.7 519.0h0M614.7 523.3h0M614.9 521.1h0M614.9 508.5h0M614.9 514.3h0M615.0 509.6h0M615.0 506.6h0M615.0 515.9h0M615.3 516.5h0M615.3 514.1h0M615.3 514.9h0M615.6 510.9h0M616.0 550.6h0M616.7 547.1h0M616.8 560.4h0M616.9 549.6h0M616.9 566.1h0M617.0 566.5h0M617.2 557.0h0M617.2 555.5h0M617.3 572.5h0M617.3 562.7h0M617.5 553.4h0M617.5 560.8h0M617.7 562.0h0M617.7 555.1h0M617.9 566.0h0M618.3 559.3h0M618.5 559.2h0M618.5 551.1h0M618.6 558.2h0M618.7 568.6h0M618.9 548.2h0M618.9 546.7h0M619.0 562.1h0M619.0 569.5h0M619.1 573.2h0M619.1 572.3h0M619.2 566.2h0M619.2 568.6h0M619.4 572.3h0M619.5 553.2h0M619.7 569.9h0M619.7 549.7h0M619.8 556.3h0M619.8 562.4h0M619.9 564.8h0M620.0 562.1h0M620.6 559.3h0M620.7 549.3h0M620.9 541.7h0M621.0 552.2h0M621.1 562.7h0M621.1 563.4h0M621.1 564.6h0M621.2 552.5h0M621.7 572.9h0M621.7 564.5h0M621.9 573.5h0M622.0 560.7h0M622.3 569.5h0M622.3 547.9h0M622.4 558.8h0M622.4 552.5h0M622.7 571.7h0M622.8 552.8h0M622.9 570.1h0M623.1 559.5h0M623.1 559.0h0M623.1 563.7h0M623.2 544.7h0M623.2 556.4h0M623.2 558.3h0M623.4 548.2h0M623.5 549.2h0M623.6 547.2h0M623.6 558.3h0M624.3 555.4h0M624.6 544.3h0M624.8 557.6h0M625.0 545.6h0M625.1 540.3h0M625.1 534.0h0M625.4 552.4h0M625.8 535.7h0M625.9 540.9h0M626.0 541.4h0M626.0 546.6h0M626.6 536.0h0M626.7 536.7h0M626.9 549.5h0M627.0 544.8h0M627.0 535.2h0M627.2 538.9h0M627.3 538.7h0M627.4 540.5h0M627.5 542.2h0M627.5 532.8h0M627.6 533.6h0M627.7 544.4h0M627.8 531.8h0M627.9 531.5h0M628.1 533.8h0M628.2 527.3h0M628.3 539.3h0M628.6 542.4h0M628.6 544.2h0M629.0 541.1h0M629.0 550.8h0M629.1 522.3h0M629.3 525.4h0M629.5 528.7h0M629.6 529.6h0M629.8 524.5h0M630.0 539.5h0M630.0 511.9h0M630.3 521.1h0M630.3 518.7h0M630.4 537.4h0M630.7 522.7h0M631.0 523.7h0M631.1 524.6h0M631.2 523.4h0M631.2 532.4h0M631.3 516.4h0M631.3 512.9h0M631.5 521.9h0M631.5 518.8h0M631.6 522.2h0M631.6 521.7h0M631.8 524.2h0M631.8 519.0h0M632.1 520.8h0M632.1 516.0h0M632.2 517.3h0M632.5 517.8h0M632.7 524.6h0M633.0 520.6h0M633.1 514.4h0M633.2 525.9h0M633.7 525.7h0M633.9 514.3h0M634.0 505.7h0M634.1 508.8h0M634.1 518.2h0M634.5 526.6h0M634.8 514.2h0M634.9 518.5h0M634.9 523.9h0M635.0 517.2h0M635.4 514.0h0M635.4 510.2h0M635.7 512.7h0M635.9 519.6h0M635.9 508.0h0M636.0 504.7h0M636.2 502.4h0M636.5 513.2h0M636.6 501.2h0M636.6 502.5h0M636.8 501.1h0M637.0 521.8h0M637.1 507.0h0M637.1 517.4h0M637.2 503.8h0M637.3 518.3h0M637.4 512.1h0M637.5 528.0h0M638.0 508.7h0M638.1 496.4h0M638.3 504.3h0M638.6 509.2h0M638.6 498.3h0M638.7 512.7h0M638.9 523.7h0M638.9 518.9h0M639.0 498.1h0M639.0 523.1h0M639.1 519.0h0M639.1 487.5h0M639.3 504.9h0M639.4 505.7h0M639.4 504.5h0M639.5 502.9h0M639.6 517.0h0M639.7 511.2h0M639.7 523.4h0M640.5 524.8h0M640.7 506.3h0M640.8 521.1h0M640.9 489.8h0M640.9 510.7h0M641.2 521.6h0M641.2 516.4h0M641.2 501.3h0M641.3 517.2h0M641.4 491.1h0M641.5 491.6h0M641.5 499.9h0M641.5 521.3h0M641.5 488.3h0M641.6 521.7h0M641.6 494.0h0M641.7 514.9h0M641.7 494.0h0M641.8 502.4h0M641.9 493.5h0M642.0 497.0h0M642.0 521.6h0M642.2 489.9h0M642.2 507.7h0M642.3 485.6h0M642.3 516.6h0M642.3 522.5h0M642.4 490.9h0M642.4 498.5h0M642.4 495.5h0M642.4 502.6h0M642.5 512.9h0M642.5 499.3h0M642.6 517.5h0M642.6 520.7h0M642.6 510.9h0M642.7 485.2h0M642.7 518.5h0M642.8 496.0h0M642.8 522.5h0M643.0 511.6h0M643.3 510.2h0M643.6 497.4h0M643.6 496.2h0M643.7 498.9h0M644.0 509.8h0M644.0 520.6h0M644.1 513.9h0M644.3 505.0h0M644.4 523.6h0M644.4 502.3h0M644.4 521.9h0M644.5 503.1h0M644.5 516.8h0M644.6 516.0h0M644.7 501.4h0M644.7 510.0h0M645.2 523.9h0M645.3 521.3h0M645.3 529.6h0M645.5 525.4h0M645.7 513.6h0M645.8 510.2h0M645.9 509.8h0M646.3 520.3h0M646.4 511.2h0M646.5 521.1h0M646.8 523.4h0M647.2 518.2h0M647.3 513.7h0M647.4 520.2h0M647.5 511.0h0M647.7 521.8h0M647.8 526.1h0M647.8 509.6h0M647.9 522.6h0M648.0 519.7h0M648.0 521.2h0M648.1 514.0h0M648.1 515.3h0M648.1 514.7h0M648.2 515.6h0M648.3 512.8h0M648.4 518.6h0M648.6 520.2h0M648.6 525.9h0M648.7 530.4h0M648.8 523.4h0M648.9 503.1h0M649.3 518.0h0M649.8 522.2h0M649.9 513.0h0M650.0 521.6h0M650.0 511.7h0M650.3 525.6h0M650.6 515.6h0M650.8 532.9h0M650.8 525.9h0M650.8 533.4h0M651.0 516.1h0M651.0 528.3h0M651.1 527.0h0M651.4 513.9h0M651.5 529.9h0M651.6 542.1h0M651.7 514.6h0M651.8 514.1h0M651.9 512.0h0M652.0 521.9h0M652.0 536.7h0M652.0 522.5h0M652.2 533.0h0M652.3 524.1h0M652.3 525.5h0M652.3 542.1h0M652.3 548.9h0M652.4 518.7h0M652.4 534.2h0M652.4 556.1h0M652.6 511.2h0M652.8 525.2h0M652.9 516.3h0M653.4 525.7h0M653.4 535.8h0M653.5 535.1h0M653.5 540.1h0M653.9 524.0h0M653.9 542.2h0M654.2 542.5h0M654.4 554.1h0M654.4 531.2h0M654.5 558.0h0M654.6 556.1h0M654.6 546.5h0M654.7 534.4h0M655.0 548.7h0M655.3 547.7h0M655.4 540.2h0M655.4 528.5h0M655.4 561.4h0M655.6 543.3h0M655.7 558.2h0M655.7 577.4h0M655.9 570.3h0M656.2 563.6h0M656.3 534.5h0M656.5 533.5h0M656.6 530.3h0M656.8 532.8h0M657.1 556.5h0M657.1 560.6h0M657.1 532.1h0M657.2 534.1h0M657.2 540.3h0M657.2 550.7h0M657.3 551.7h0M657.4 548.4h0M657.5 538.2h0M657.7 538.4h0M657.8 545.2h0M658.0 532.2h0M658.9 538.4h0M659.1 536.2h0M659.2 536.5h0M659.2 548.6h0M659.2 548.9h0M659.3 534.6h0M659.3 537.1h0M659.3 532.7h0M659.5 537.7h0M659.6 526.1h0M659.6 544.1h0M659.6 533.8h0M659.7 525.7h0M659.8 531.5h0M660.0 529.9h0M660.1 530.9h0M660.1 524.5h0M660.2 538.4h0M660.6 534.1h0M660.7 532.5h0M660.8 533.1h0M660.8 533.0h0M660.9 535.4h0M660.9 538.3h0M661.2 540.1h0M661.3 522.2h0M661.5 543.4h0M661.6 528.2h0M661.6 529.6h0M661.9 527.7h0M662.1 544.9h0M662.1 525.2h0M662.1 534.9h0M662.2 539.9h0M662.2 543.7h0M662.2 521.5h0M662.3 534.8h0M662.3 534.3h0M662.6 538.8h0M662.6 534.6h0M662.7 527.8h0M662.7 527.0h0M663.0 533.9h0M663.1 535.8h0M663.5 544.0h0M663.7 525.4h0M663.7 531.9h0M664.0 531.2h0M664.0 528.1h0M664.2 526.8h0M664.3 544.4h0M664.5 528.6h0M664.5 535.4h0M664.5 537.5h0M664.6 540.4h0M664.7 541.8h0M664.8 542.5h0M664.8 531.9h0M664.9 539.9h0M664.9 528.3h0M665.3 535.1h0M665.6 549.9h0M665.7 545.4h0M665.8 548.0h0M665.8 528.2h0M665.9 533.5h0M666.0 544.4h0M666.2 534.0h0M666.3 532.3h0M666.3 556.8h0M666.3 527.2h0M666.3 536.2h0M666.4 542.3h0M666.5 533.1h0M666.8 531.9h0M666.8 541.9h0M666.9 565.4h0M666.9 548.4h0M667.0 548.6h0M667.3 537.2h0M667.6 569.6h0M667.7 549.7h0M667.7 554.7h0M667.7 552.0h0M667.8 553.8h0M667.9 555.4h0M667.9 551.0h0M668.0 558.2h0M668.4 562.3h0M668.6 544.5h0M668.7 549.8h0M668.7 555.7h0M668.8 541.4h0M668.9 563.7h0M669.0 536.6h0M669.1 565.2h0M669.3 542.3h0M669.8 560.6h0M669.9 554.5h0M670.0 575.5h0M670.0 562.4h0M670.1 552.2h0M670.1 537.2h0M670.3 570.7h0M670.4 550.7h0M670.4 545.6h0M670.5 566.0h0M671.1 542.0h0M671.1 557.2h0M671.1 557.2h0M671.2 561.1h0M671.2 566.6h0M671.5 562.5h0M671.9 548.5h0M672.2 561.9h0M672.5 548.1h0M672.5 548.8h0M672.6 567.1h0M672.7 555.3h0M672.7 551.6h0M672.9 574.5h0M672.9 566.6h0M672.9 562.7h0M673.0 560.3h0M673.1 560.2h0M673.2 544.6h0M673.4 564.9h0M673.5 539.5h0M673.5 550.7h0M673.6 540.8h0M673.7 547.4h0M673.7 577.1h0M673.7 553.6h0M673.8 546.1h0M673.9 560.0h0M674.0 560.6h0M674.0 551.0h0M674.1 573.4h0M674.3 567.0h0M674.4 557.7h0M674.6 555.8h0M674.8 547.9h0M675.2 554.5h0M675.3 566.4h0M675.6 540.1h0M675.7 537.9h0M675.8 537.8h0M675.9 535.3h0M676.1 530.4h0M676.2 532.2h0M676.6 522.6h0M676.7 526.3h0M676.7 531.8h0M676.9 530.7h0M677.0 524.8h0M677.1 532.4h0M677.1 527.2h0M677.1 530.6h0M677.2 527.1h0M677.7 518.6h0M678.0 523.1h0M678.2 518.3h0M678.4 521.2h0M678.5 523.4h0M678.5 524.9h0M678.6 529.8h0M678.8 510.9h0M678.9 525.9h0M678.9 520.1h0M678.9 523.0h0M678.9 516.2h0M679.2 532.6h0M679.2 519.8h0M679.5 517.7h0M679.6 513.5h0M679.7 523.2h0M679.7 524.5h0M679.9 518.9h0M679.9 520.6h0M679.9 518.2h0M680.1 518.2h0M680.3 522.5h0M680.6 529.3h0M680.7 516.9h0M680.8 528.8h0M680.8 514.6h0M680.9 526.5h0M681.1 522.5h0M681.1 530.9h0M681.4 524.6h0M681.5 519.4h0M681.6 523.9h0M681.6 522.7h0M681.6 525.4h0M681.6 528.4h0M681.7 523.2h0M681.8 517.9h0M681.9 517.0h0M681.9 522.0h0M681.9 517.0h0M682.1 532.7h0M682.2 528.8h0M682.7 531.4h0M682.8 510.0h0M683.0 516.0h0M683.1 533.5h0M683.5 529.5h0M683.5 529.4h0M683.8 511.5h0M683.9 525.5h0M684.2 524.8h0M684.2 527.7h0M684.2 534.3h0M684.3 524.1h0M684.6 510.6h0M684.6 518.9h0M684.9 516.6h0M685.4 507.8h0M685.4 509.2h0M685.6 520.6h0M685.6 526.5h0M685.9 528.2h0M685.9 520.0h0M686.2 530.5h0M686.3 522.8h0M686.5 516.9h0M686.5 523.3h0M686.7 521.4h0M686.7 520.5h0M686.8 525.1h0M686.8 524.0h0M686.8 532.8h0M686.9 511.7h0M687.3 520.9h0M687.4 523.4h0M687.7 519.2h0M687.8 528.7h0M687.8 514.7h0M687.9 536.0h0M688.0 524.7h0M688.0 529.2h0M688.1 511.8h0M688.1 523.4h0M688.2 506.9h0M688.2 523.6h0M688.2 508.8h0M688.3 515.0h0M688.3 513.8h0M688.7 526.2h0M688.7 518.1h0M688.7 514.3h0M688.7 534.2h0M689.0 508.3h0M689.4 518.1h0M689.4 512.9h0M689.4 530.8h0M689.5 507.2h0M689.5 517.4h0M689.5 511.4h0M689.5 523.7h0M689.6 530.7h0M689.7 505.7h0M689.7 525.8h0M689.7 518.4h0M690.0 529.8h0M690.0 521.5h0M690.2 507.6h0M690.2 531.9h0M690.4 510.9h0M690.4 522.5h0M690.5 527.5h0M690.8 512.1h0M691.2 528.4h0M691.2 516.9h0M691.3 523.3h0M691.5 510.2h0M691.5 515.7h0M691.6 506.5h0M691.7 530.2h0M691.8 513.5h0M692.0 514.6h0M692.1 514.7h0M692.4 534.7h0M692.8 530.6h0M692.9 521.6h0M693.4 529.0h0M693.5 512.0h0M693.7 511.3h0M693.7 536.9h0M693.7 522.1h0M693.9 538.1h0M693.9 526.5h0M694.1 515.3h0M694.6 528.7h0M694.6 543.9h0M694.7 534.1h0M694.9 532.4h0M695.0 536.4h0M695.1 526.1h0M695.3 525.0h0M695.3 533.2h0M695.5 526.8h0M695.9 522.6h0M696.0 535.8h0M696.1 539.3h0M696.4 526.2h0M696.4 507.8h0M696.4 544.3h0M696.5 533.4h0M696.5 540.7h0M696.5 530.8h0M697.1 524.5h0M697.2 530.9h0M697.5 523.8h0M697.5 508.8h0M697.9 522.4h0M698.0 521.5h0M698.0 533.3h0M698.5 531.9h0M698.5 526.4h0M698.5 542.6h0M698.7 540.8h0M698.7 537.2h0M698.8 522.5h0M698.9 544.1h0M699.0 533.8h0M699.1 521.4h0M699.3 524.0h0M699.3 533.9h0M699.4 532.0h0M699.4 522.4h0M699.8 541.3h0M699.8 530.5h0M700.0 526.7h0M700.1 531.7h0M700.1 531.1h0M700.2 519.0h0M700.4 531.9h0M700.8 539.8h0M700.9 530.9h0M701.0 537.9h0M701.1 531.7h0M701.2 535.0h0M701.4 528.6h0M701.4 535.9h0M701.5 542.7h0M701.7 531.3h0M701.7 527.5h0M702.3 544.4h0M702.3 527.6h0M702.7 549.9h0M702.9 540.7h0M703.0 533.1h0M703.1 553.4h0M703.2 565.1h0M703.2 540.0h0M703.5 555.2h0M703.5 533.7h0M703.6 548.5h0M703.7 552.6h0M703.9 542.2h0M704.0 557.0h0M704.1 547.4h0M704.1 558.4h0M704.1 555.5h0M704.2 546.7h0M704.3 566.1h0M704.4 535.0h0M704.4 539.1h0M704.5 536.5h0M705.1 534.5h0M705.3 562.4h0M705.4 565.9h0M705.5 557.0h0M705.5 535.8h0M705.6 526.4h0M705.7 553.7h0M706.0 533.0h0M706.0 533.4h0M706.0 550.1h0M706.2 552.5h0M706.3 539.7h0M706.4 562.7h0M706.5 561.4h0M706.5 563.7h0M706.6 551.7h0M706.6 546.9h0M706.6 551.5h0M707.0 539.8h0M707.1 562.5h0M707.1 558.4h0M707.1 563.8h0M707.1 565.2h0M707.2 556.3h0M707.5 562.9h0M707.6 569.1h0M707.7 548.7h0M707.8 569.2h0M708.0 555.8h0M708.2 551.7h0M708.3 566.1h0M708.4 553.2h0M708.7 560.8h0M708.8 558.4h0M708.9 544.3h0M709.0 567.5h0M709.0 545.3h0M709.1 542.0h0M709.1 542.8h0M709.4 539.5h0M709.5 558.6h0M709.5 534.8h0M709.5 548.7h0M709.5 531.8h0M709.6 554.5h0M709.7 532.5h0M710.0 548.3h0M710.2 531.2h0M710.2 529.6h0M710.4 529.2h0M710.4 542.1h0M710.5 544.5h0M710.6 524.2h0M710.6 530.4h0M710.6 533.9h0M710.7 549.0h0M710.7 537.6h0M710.8 548.0h0M710.9 544.7h0M711.1 525.1h0M711.2 545.9h0M711.3 526.2h0M711.4 538.9h0M711.5 531.3h0M711.7 541.7h0M711.7 522.9h0M712.2 530.9h0M712.3 525.6h0M712.7 521.1h0M712.7 525.7h0M712.7 518.9h0M712.9 526.0h0M712.9 524.3h0M713.0 511.2h0M713.1 512.0h0M713.3 510.1h0M713.3 513.1h0M713.4 507.1h0M713.5 507.0h0M713.5 514.0h0M714.0 513.6h0M714.1 524.3h0M714.1 499.2h0M714.2 510.4h0M714.5 520.8h0M714.6 516.5h0M714.6 520.2h0M714.8 496.9h0M715.2 502.4h0M715.3 497.2h0M715.4 494.8h0M715.4 503.0h0M715.4 497.9h0M715.4 503.6h0M715.5 515.2h0M715.5 495.1h0M715.6 507.1h0M715.6 516.5h0M715.7 523.4h0M715.7 507.9h0M715.7 512.6h0M715.8 511.6h0M715.9 513.7h0M715.9 515.6h0M716.0 501.2h0M716.1 501.8h0M716.1 505.2h0M716.1 496.6h0M716.2 514.0h0M716.2 518.2h0M716.2 493.7h0M716.2 516.6h0M716.5 498.1h0M716.5 512.0h0M716.5 519.3h0M716.6 511.1h0M716.7 505.0h0M716.9 520.4h0M717.2 503.8h0M717.4 528.8h0M717.5 523.6h0M717.6 505.6h0M717.6 498.6h0M717.6 510.8h0M717.7 512.0h0M717.8 508.5h0M718.0 508.9h0M718.0 509.9h0M718.1 516.1h0M718.2 510.3h0M718.3 523.1h0M718.5 521.3h0M718.6 513.5h0M718.7 523.5h0M718.8 523.2h0M718.8 523.1h0M718.8 512.9h0M718.8 517.1h0M719.0 522.4h0M719.3 503.4h0M719.3 509.4h0M719.3 512.3h0M719.4 521.8h0M719.6 506.8h0M719.7 510.9h0M720.0 516.2h0M720.0 506.8h0M720.0 513.0h0M720.1 514.7h0M720.2 518.5h0M720.4 516.9h0M720.4 522.9h0M721.0 525.2h0M721.2 536.4h0M721.3 538.7h0M721.3 535.6h0M721.5 550.8h0M721.5 543.6h0M721.6 546.5h0M721.7 536.2h0M721.7 550.0h0M722.1 553.7h0M722.3 533.1h0M722.4 540.0h0M722.7 542.0h0M722.8 544.7h0M722.9 551.7h0M723.0 554.4h0M723.2 554.4h0M723.6 564.3h0M723.6 557.7h0M723.7 553.3h0M724.1 551.5h0M724.1 544.2h0M724.2 552.3h0M724.3 558.5h0M724.4 546.3h0M724.4 548.8h0M724.5 560.0h0M724.7 550.1h0M724.9 562.0h0M725.0 553.1h0M725.3 541.9h0M725.4 500.3h0M725.5 538.1h0M725.6 507.4h0M725.6 517.5h0M725.6 539.3h0M725.7 523.6h0M725.7 535.8h0M725.8 536.9h0M725.8 521.7h0M726.3 524.2h0M726.4 518.2h0M726.5 512.6h0M726.6 508.1h0M726.6 514.7h0M727.3 504.9h0M727.3 524.1h0M727.6 542.5h0M727.7 541.6h0M727.9 548.0h0M728.0 540.1h0M728.1 542.9h0M728.2 546.3h0M728.5 535.9h0M728.6 543.7h0M729.0 541.4h0M729.3 539.3h0M729.6 539.9h0M729.6 534.6h0M729.7 544.8h0M729.7 526.9h0M729.8 545.4h0M729.9 550.5h0M729.9 542.1h0M729.9 539.3h0M730.1 517.1h0M730.1 543.2h0M730.4 515.1h0M730.6 537.8h0M731.0 530.0h0M731.3 546.3h0M731.3 520.2h0M731.4 529.1h0M731.5 524.1h0M731.7 536.6h0M731.8 528.5h0M732.1 527.0h0M732.1 530.4h0M732.2 523.2h0M732.3 538.1h0M732.4 519.9h0M732.4 517.8h0M732.4 520.7h0M732.7 529.0h0M732.7 514.7h0M732.8 542.2h0M732.8 528.7h0M733.2 538.5h0M733.4 523.3h0M733.4 525.7h0M733.7 533.1h0M733.8 533.8h0M734.0 527.2h0M734.1 527.8h0M734.2 521.5h0M734.4 520.0h0M734.4 544.0h0M734.6 529.2h0M734.6 519.3h0M734.7 523.2h0M734.7 522.7h0M734.7 517.4h0M734.9 507.4h0M734.9 523.6h0M735.0 517.6h0M735.0 500.9h0M735.0 532.0h0M735.0 519.8h0M735.4 529.5h0M735.4 524.1h0M735.5 524.5h0M735.5 528.6h0M735.6 515.9h0M735.7 516.8h0M735.8 530.2h0M735.9 521.8h0M736.0 532.7h0M736.5 523.8h0M736.5 519.2h0M736.5 518.4h0M736.5 519.1h0M736.6 507.5h0M736.7 523.4h0M736.8 523.5h0M737.0 533.5h0M737.0 520.9h0M737.1 505.7h0M737.1 531.9h0M737.1 517.4h0M737.3 522.9h0M737.3 522.5h0M737.5 526.7h0M737.6 525.6h0M737.7 510.0h0M737.7 534.6h0M737.7 511.3h0M737.7 510.1h0M738.3 526.9h0M738.4 514.5h0M738.5 508.4h0M738.8 509.7h0M738.8 526.0h0M739.0 530.5h0M739.1 524.1h0M739.1 515.9h0M739.2 518.6h0M739.4 511.0h0M739.9 509.8h0M739.9 521.6h0M740.1 508.7h0M740.1 508.9h0M740.2 520.7h0M740.3 514.6h0M740.4 519.4h0M740.4 516.4h0M740.4 510.7h0M740.4 512.4h0M740.5 509.9h0M740.5 513.4h0M740.8 517.4h0M740.9 504.8h0M741.0 504.8h0M741.1 525.6h0M741.1 513.4h0M741.4 509.6h0M741.5 506.3h0M741.6 506.6h0M741.8 517.6h0M741.9 502.0h0M742.0 512.9h0M742.1 517.2h0M742.1 513.3h0M742.4 524.8h0M742.4 518.2h0M743.1 506.3h0M743.2 524.0h0M743.2 526.4h0M743.3 521.2h0M743.3 503.2h0M743.6 507.9h0M743.7 524.7h0M743.7 514.1h0M744.0 508.7h0M744.0 514.2h0M744.1 514.7h0M744.4 518.7h0M744.8 527.2h0M744.9 524.7h0M744.9 504.4h0M745.1 512.3h0M745.2 515.4h0M745.3 512.0h0M745.3 513.9h0M745.4 525.5h0M745.6 518.8h0M745.7 531.0h0M745.8 515.4h0M745.8 524.5h0M745.9 518.0h0M745.9 520.8h0M746.3 509.3h0M746.3 528.1h0M746.3 508.4h0M746.4 512.1h0M746.6 509.1h0M746.8 518.4h0M746.9 514.2h0M747.0 510.8h0M747.4 510.0h0M747.6 522.2h0M747.6 517.4h0M747.6 513.8h0M747.7 520.3h0M747.9 519.6h0M748.0 528.6h0M748.0 505.7h0M748.2 500.5h0M748.3 513.4h0M748.5 522.3h0M748.5 516.3h0M748.5 509.1h0M748.8 514.4h0M748.9 506.7h0M748.9 527.8h0M749.0 506.8h0M749.3 524.5h0M749.4 513.5h0M749.4 508.6h0M749.5 524.8h0M749.5 523.5h0M749.5 509.6h0M749.6 521.8h0M749.6 505.9h0M749.7 525.0h0M750.1 524.1h0M750.1 516.3h0M750.2 508.3h0M750.5 518.7h0M750.7 520.3h0M751.0 520.5h0M751.0 531.9h0M751.1 512.1h0M751.2 531.1h0M751.2 515.5h0M751.5 524.7h0M751.5 519.8h0M751.7 518.9h0M751.7 523.0h0M751.8 528.3h0M751.9 517.2h0M751.9 525.5h0M751.9 524.8h0M752.0 524.9h0M752.3 516.4h0M752.3 521.6h0M752.4 514.9h0M752.4 528.4h0M752.4 525.1h0M752.5 534.6h0M752.7 512.9h0M752.7 530.0h0M752.7 527.6h0M752.8 518.7h0M752.9 531.4h0M753.1 515.0h0M753.2 515.9h0M754.0 539.2h0M754.1 534.4h0M754.2 553.6h0M754.2 534.9h0M754.4 544.0h0M754.5 546.8h0M754.6 547.4h0M754.6 547.8h0M754.7 552.7h0M755.0 547.0h0M755.0 542.4h0M755.1 550.2h0M755.1 538.7h0M755.1 552.3h0M755.2 530.7h0M755.2 539.1h0M755.5 553.0h0M755.7 535.3h0M755.7 538.2h0M755.8 550.5h0M755.8 548.7h0M755.9 542.9h0M756.1 550.4h0M756.2 534.5h0M756.2 537.7h0M756.4 539.7h0M756.6 538.8h0M756.6 546.3h0M756.9 548.3h0M757.2 542.5h0M757.2 555.0h0M757.3 543.0h0M757.4 548.8h0M757.8 556.2h0M757.9 551.0h0M758.0 547.2h0M758.1 542.5h0M758.2 551.9h0M758.3 550.1h0M758.4 548.1h0M758.6 558.8h0M758.8 545.5h0M759.1 551.8h0M759.2 551.8h0M759.2 554.1h0M759.2 543.9h0M759.4 556.8h0M759.4 554.0h0M759.7 547.9h0M759.8 546.2h0M760.0 547.5h0M760.1 542.4h0M760.3 545.6h0M760.3 559.2h0M760.3 555.9h0M760.4 546.7h0M760.4 535.3h0M760.6 555.0h0M760.7 537.5h0M760.7 537.8h0M760.7 547.2h0M760.8 549.8h0M760.8 532.7h0M761.1 536.9h0M761.4 557.4h0M761.5 534.9h0M761.7 533.0h0M761.8 544.2h0M761.9 544.8h0M762.0 548.2h0M762.0 550.3h0M762.0 533.2h0M762.2 537.1h0M762.3 554.4h0M762.4 529.9h0M762.6 538.0h0M762.6 535.8h0M762.6 545.6h0M762.7 536.4h0M762.8 529.4h0M762.8 530.9h0M763.0 550.1h0M763.1 539.8h0M763.2 537.2h0M763.3 541.1h0M763.4 551.0h0M763.5 525.2h0M763.7 537.9h0M763.8 536.9h0M764.0 518.5h0M764.1 536.0h0M764.1 524.8h0M764.3 514.2h0M764.4 514.3h0M764.6 533.7h0M764.6 515.5h0M764.7 526.3h0M764.7 524.2h0M764.8 529.3h0M765.0 507.8h0M765.0 517.0h0M765.1 520.1h0M765.1 515.5h0M765.1 527.8h0M765.1 521.0h0M765.3 518.7h0M765.7 529.5h0M766.0 532.3h0M766.3 518.2h0M766.5 536.7h0M766.6 521.3h0M767.0 538.2h0M767.0 523.9h0M767.1 517.2h0M767.2 534.0h0M767.3 520.5h0M767.8 537.9h0M767.8 518.3h0M768.0 522.2h0M768.1 539.3h0M768.5 532.0h0M768.5 527.3h0M768.5 520.0h0M768.6 527.1h0M768.6 535.6h0M768.9 545.1h0M769.1 516.7h0M769.4 516.1h0M769.5 542.1h0M769.6 534.6h0M769.7 545.3h0M769.7 537.8h0M769.9 543.0h0M770.0 542.6h0M770.1 536.1h0M770.2 556.8h0M770.3 553.1h0M770.5 534.7h0M770.7 531.4h0M771.1 531.9h0M771.5 541.7h0M771.9 536.9h0M771.9 559.0h0M771.9 544.2h0M772.1 549.2h0M772.5 547.3h0M772.5 539.9h0M772.5 554.2h0M772.8 541.8h0M772.8 559.0h0M772.9 541.1h0M772.9 557.9h0M773.0 551.5h0M773.1 557.0h0M773.5 545.0h0M773.5 563.7h0M773.7 562.9h0M773.7 551.3h0M773.8 556.5h0M774.0 550.5h0M774.0 543.9h0M774.0 545.2h0M774.1 553.7h0M774.2 553.9h0M774.4 550.1h0M774.5 553.3h0M774.8 549.8h0M774.9 533.3h0M775.0 557.4h0M775.2 550.9h0M775.3 548.2h0M775.5 567.2h0M775.8 540.5h0M775.9 552.3h0M775.9 550.9h0M775.9 554.5h0M776.0 549.5h0M776.2 522.7h0M776.6 523.8h0M776.6 510.6h0M776.8 549.5h0M776.9 544.3h0M777.0 517.8h0M777.2 517.4h0M777.3 543.9h0M777.3 512.2h0M777.4 549.0h0M777.4 552.3h0M777.7 525.9h0M777.7 546.7h0M777.8 553.4h0M777.8 535.1h0M778.0 537.2h0M778.0 534.6h0M778.2 534.1h0M778.2 535.5h0M778.3 532.1h0M778.3 535.7h0M778.5 542.5h0M778.8 510.9h0M778.9 523.9h0M779.0 517.8h0M779.0 539.2h0M779.3 525.1h0M779.5 512.0h0M779.5 542.8h0M779.5 522.7h0M779.7 523.1h0M780.0 541.6h0M780.0 522.9h0M780.0 517.1h0M780.2 538.0h0M780.3 524.1h0M780.4 516.2h0M780.4 519.8h0M780.5 517.8h0M780.7 520.2h0M780.7 501.7h0M780.8 524.9h0M781.0 532.0h0M781.3 528.5h0M781.7 511.9h0M781.8 503.2h0M782.0 520.1h0M782.0 529.2h0M782.2 529.4h0M782.2 526.6h0M782.3 531.8h0M782.4 530.3h0M782.8 515.3h0M782.8 534.5h0M782.9 512.2h0M783.0 524.7h0M783.4 513.0h0M783.4 510.7h0M783.5 524.9h0M783.6 536.0h0M783.7 529.0h0M783.7 529.1h0M784.0 520.5h0M784.0 533.1h0M784.2 521.3h0M784.2 522.1h0M784.3 529.5h0M784.5 512.7h0M784.5 534.3h0M784.5 512.2h0M784.7 521.3h0M784.8 518.2h0M784.8 508.5h0M785.2 522.5h0M785.3 520.6h0M785.4 519.7h0M785.5 531.0h0M785.5 515.2h0M785.6 522.1h0M785.7 510.2h0M785.8 510.5h0M785.8 521.2h0M786.2 509.9h0M786.3 516.5h0M786.5 517.3h0M786.7 519.5h0M786.7 520.7h0M786.8 512.9h0M786.9 521.2h0M786.9 508.9h0M787.0 510.1h0M787.0 506.4h0M787.2 528.7h0M787.3 515.6h0M787.3 517.1h0M787.4 509.3h0M787.4 508.9h0M787.4 518.0h0M787.6 523.6h0M787.6 523.2h0M787.8 516.5h0M787.8 514.5h0M787.8 511.9h0M787.9 512.2h0M788.0 530.3h0M788.0 515.4h0M788.5 511.5h0M788.6 524.6h0M788.8 520.6h0M788.8 516.8h0M789.0 507.8h0M789.1 523.4h0M789.2 512.1h0M789.2 516.9h0M789.3 515.7h0M789.5 520.6h0M789.5 521.8h0M789.7 512.5h0M789.7 516.9h0M789.8 510.3h0M789.9 511.1h0M790.1 520.4h0M790.1 512.9h0M790.3 512.0h0M790.5 514.6h0M790.7 511.9h0M790.8 519.0h0M791.1 520.6h0M791.3 520.2h0M791.3 520.5h0M791.7 508.6h0M791.8 504.9h0M792.1 507.3h0M792.1 518.2h0M792.1 514.9h0M792.3 509.5h0M792.3 516.6h0M792.3 510.1h0M792.4 510.2h0M792.5 513.6h0M792.5 511.1h0M793.0 514.0h0M793.1 519.4h0M793.1 509.0h0M793.3 511.4h0M793.4 507.4h0M793.4 508.1h0M793.4 513.0h0M793.9 513.1h0M793.9 501.4h0M793.9 502.6h0M794.2 516.2h0M794.6 515.6h0M794.6 512.1h0M794.7 508.7h0M794.8 504.8h0M795.1 504.7h0M795.1 521.1h0M795.2 505.4h0M795.2 511.4h0M795.4 514.8h0M795.5 518.5h0M795.5 515.0h0M795.5 518.7h0M795.7 521.7h0M795.9 510.5h0M795.9 516.6h0M796.0 509.4h0M796.1 503.6h0M796.1 507.8h0M796.3 503.7h0M796.4 510.9h0M796.7 505.7h0M796.9 504.2h0M796.9 505.5h0M797.2 506.4h0M797.4 504.6h0M797.5 510.9h0M797.5 508.3h0M797.6 517.0h0M797.6 509.8h0M797.7 521.3h0M797.7 510.8h0M797.8 518.5h0M798.0 518.0h0M798.0 522.1h0M798.2 519.2h0M798.3 516.2h0M798.4 514.6h0M798.5 522.1h0M798.8 518.7h0M798.8 528.6h0M798.8 511.9h0M799.0 518.2h0M799.2 518.1h0M799.3 519.4h0M799.4 526.3h0M799.4 531.3h0M799.8 532.5h0M799.9 515.9h0M799.9 529.0h0M799.9 519.2h0M800.2 526.0h0M800.3 529.2h0M800.4 536.3h0M800.7 514.6h0M800.9 524.9h0M801.0 519.3h0M801.0 525.4h0M801.0 533.3h0M801.0 527.1h0M801.3 522.3h0M801.6 533.7h0M801.6 526.2h0M801.7 529.6h0M801.8 522.8h0M801.8 536.8h0M801.8 536.8h0M802.0 533.3h0M802.0 524.4h0M802.1 531.3h0M802.1 531.4h0M802.1 534.1h0M802.2 527.6h0M802.4 535.5h0M802.5 542.1h0M802.6 538.4h0M802.7 529.6h0M802.7 547.7h0M802.9 544.6h0M803.0 547.9h0M803.0 544.5h0M803.1 543.6h0M803.2 540.6h0M803.2 529.5h0M803.3 532.1h0M803.3 545.0h0M803.5 533.6h0M803.6 539.1h0M803.6 540.1h0M803.6 522.9h0M803.7 527.4h0M803.9 547.6h0M803.9 546.7h0M804.1 549.9h0M804.2 538.4h0M804.4 535.3h0M804.6 549.0h0M804.6 544.2h0M804.7 537.7h0M804.7 537.2h0M804.8 550.1h0M805.0 536.8h0M805.2 527.2h0M805.2 557.7h0M805.4 562.7h0M805.5 541.3h0M805.5 550.9h0M805.6 529.0h0M805.6 549.1h0M805.7 545.0h0M805.8 548.5h0M805.9 548.7h0M806.0 549.7h0M806.1 553.7h0M806.3 553.5h0M806.5 554.7h0M806.5 542.0h0M806.7 563.4h0M806.8 563.9h0M806.8 550.9h0M806.8 544.8h0M806.9 536.4h0M807.0 545.4h0M807.0 535.4h0M807.0 551.5h0M807.1 558.4h0M807.1 538.9h0M807.2 542.4h0M807.3 556.3h0M807.3 548.7h0M807.4 559.7h0M807.6 533.5h0M807.9 550.6h0M808.0 558.0h0M808.0 557.3h0M808.2 554.2h0M808.3 536.1h0M808.4 564.5h0M808.4 562.3h0M808.8 547.1h0M808.9 541.6h0M808.9 557.4h0M809.4 556.2h0M809.7 559.7h0M809.8 546.4h0M809.9 555.7h0M809.9 543.1h0M809.9 559.2h0M810.0 562.8h0M810.1 541.4h0M810.3 538.5h0M810.5 541.8h0M810.7 548.8h0M810.9 550.4h0M811.1 552.6h0M811.2 539.9h0M811.3 557.1h0M811.4 557.8h0M811.5 552.8h0M811.5 549.3h0M811.6 556.8h0M811.6 554.3h0M811.7 536.6h0M811.8 554.4h0M811.8 553.6h0M812.0 552.7h0M812.1 552.0h0M812.1 545.2h0M812.2 556.7h0M812.3 544.6h0M812.7 540.4h0M812.9 557.2h0M813.0 554.8h0M813.5 545.4h0M813.6 552.6h0M813.7 543.9h0M813.9 539.2h0M814.0 542.6h0M814.3 548.5h0M814.4 553.9h0M814.4 550.3h0M814.5 547.1h0M814.6 553.7h0M814.7 540.5h0M814.7 544.0h0M814.8 549.7h0M815.3 541.1h0M815.4 543.0h0M815.6 536.5h0M815.6 542.4h0M815.9 546.4h0M815.9 536.1h0M816.0 542.1h0M816.1 536.8h0M816.3 537.2h0M816.3 538.5h0M816.8 535.1h0M816.9 538.0h0M817.1 534.3h0M817.1 531.0h0M817.3 539.4h0M817.4 542.1h0M817.5 540.4h0M817.5 535.4h0M817.5 546.3h0M817.6 545.3h0M817.6 550.5h0M817.6 543.5h0M817.7 547.5h0M817.7 553.9h0M817.7 557.4h0M817.9 542.5h0M818.1 538.5h0M818.1 552.5h0M818.2 538.7h0M818.3 538.1h0M818.4 537.9h0M818.5 533.2h0M818.6 551.0h0M818.6 544.6h0M818.6 534.6h0M818.6 534.2h0M818.9 542.1h0M818.9 547.6h0M819.0 542.6h0M819.1 552.9h0M819.1 543.9h0M819.4 547.7h0M819.4 536.7h0M819.5 538.1h0M819.5 534.9h0M819.7 538.5h0M819.7 536.3h0M819.8 547.2h0M819.8 547.7h0M819.9 533.1h0M819.9 525.9h0M819.9 540.6h0M820.0 547.3h0M820.0 536.3h0M820.1 553.6h0M820.3 545.8h0M820.5 538.5h0M820.6 546.9h0M820.7 546.0h0M820.7 546.5h0M820.7 549.4h0M821.0 555.9h0M821.1 537.8h0M821.1 541.6h0M821.1 550.0h0M821.2 548.2h0M822.0 532.0h0M822.4 551.5h0M823.2 543.0h0M823.3 539.9h0M823.4 526.9h0M823.7 550.9h0M823.8 532.5h0M823.9 543.5h0M824.1 535.7h0M824.1 520.3h0M824.3 551.0h0M824.3 547.2h0M824.4 526.8h0M824.8 532.3h0M825.3 532.6h0M825.8 515.8h0M825.8 513.3h0M825.8 526.0h0M825.9 528.4h0M826.1 545.7h0M826.2 523.9h0M826.3 543.1h0M826.4 511.2h0M826.6 540.8h0M826.6 542.0h0M826.9 526.6h0M827.1 523.5h0M827.1 542.7h0M827.2 548.4h0M827.2 530.9h0M827.3 531.5h0M827.3 510.9h0M827.3 540.8h0M827.4 526.4h0M827.5 533.5h0M827.6 513.5h0M827.6 544.3h0M827.7 525.9h0M827.8 524.9h0M827.8 529.8h0M827.8 530.8h0M828.2 537.0h0M828.2 537.9h0M828.4 523.7h0M828.4 512.8h0M828.9 538.8h0M829.0 496.4h0M829.5 504.0h0M829.5 510.9h0M829.5 506.6h0M829.6 512.9h0M829.7 541.2h0M829.7 514.4h0M829.8 512.8h0M830.1 534.0h0M830.2 522.6h0M830.4 502.5h0M830.5 511.7h0M830.5 525.6h0M831.1 522.7h0M831.3 510.5h0M831.4 515.8h0M831.6 536.0h0M831.9 510.2h0M832.1 535.8h0M832.1 503.4h0M832.1 535.7h0M832.1 516.7h0M832.2 518.1h0M832.2 520.8h0M832.3 530.5h0M832.4 505.6h0M832.4 527.1h0M832.5 518.9h0M832.5 498.1h0M832.5 516.3h0M832.7 509.3h0M832.8 526.5h0M833.0 532.7h0M833.0 520.8h0M833.4 495.3h0M833.5 532.7h0M833.5 525.8h0M833.6 537.2h0M833.6 540.6h0M833.9 520.3h0M834.1 537.2h0M834.1 516.1h0M834.2 527.6h0M834.3 520.3h0M834.5 519.1h0M834.5 513.3h0M834.9 523.8h0M835.0 525.4h0M835.1 514.7h0M835.2 530.9h0M835.5 538.6h0M835.6 518.3h0M835.7 514.4h0M836.2 534.3h0M836.2 529.1h0M836.2 510.6h0M836.3 521.0h0M836.3 529.9h0M836.7 515.6h0M837.1 537.3h0M837.2 524.3h0M837.3 533.3h0M837.5 526.7h0M837.5 528.3h0M837.6 526.7h0M837.8 531.0h0M838.3 505.5h0M838.3 510.6h0M838.4 527.2h0M838.4 540.4h0M838.5 527.7h0M838.6 533.4h0M838.9 536.1h0M839.0 534.3h0M839.1 536.1h0M839.1 525.9h0M839.3 502.8h0M839.6 527.7h0M839.7 536.3h0M839.7 526.6h0M840.0 537.3h0M840.1 514.5h0M840.2 530.5h0M840.3 531.1h0M840.4 537.7h0M840.4 515.2h0M840.5 524.2h0M840.6 529.2h0M840.9 528.9h0M840.9 512.9h0M841.0 522.5h0M841.1 514.7h0M841.1 522.3h0M841.1 519.1h0M841.2 514.2h0M841.3 517.7h0M841.5 512.7h0M841.6 521.7h0M841.7 525.6h0M841.8 522.2h0M841.8 515.1h0M841.9 522.2h0M842.0 506.7h0M842.5 508.9h0M842.7 510.9h0M843.0 506.0h0M843.4 514.5h0M843.6 512.4h0M843.7 511.4h0M843.7 516.8h0M843.8 512.2h0M843.9 522.7h0M844.0 523.3h0M844.1 512.4h0M844.2 515.8h0M844.2 515.3h0M844.2 513.4h0M844.2 509.0h0M844.3 512.3h0M844.4 524.0h0M844.4 505.8h0M844.6 514.4h0M844.7 515.2h0M845.0 527.8h0M845.1 513.7h0M845.2 516.9h0M845.3 511.3h0M845.3 498.7h0M845.3 514.2h0M845.3 518.1h0M845.7 507.6h0M845.8 516.0h0M846.0 514.3h0M846.0 518.2h0M846.4 509.4h0M846.5 509.6h0M846.6 521.6h0M846.7 504.4h0M847.0 519.7h0M847.1 507.8h0M847.3 529.5h0M847.4 514.1h0M847.5 523.1h0M847.5 509.3h0M847.8 515.1h0M848.0 528.7h0M848.1 544.6h0M848.2 505.8h0M848.3 523.4h0M848.4 529.3h0M848.5 512.2h0M848.9 527.1h0M848.9 524.9h0M848.9 518.8h0M849.1 508.3h0M849.2 545.3h0M849.3 520.3h0M849.9 517.6h0M850.1 523.0h0M850.3 526.2h0M851.0 538.0h0M851.1 535.3h0M851.2 537.8h0M851.2 519.6h0M851.3 513.4h0M851.3 542.1h0M851.5 542.4h0M851.6 528.2h0M851.6 539.2h0M851.7 543.5h0M851.7 547.9h0M851.7 541.2h0M851.9 541.9h0M851.9 545.5h0M852.0 538.5h0M852.1 537.9h0M852.1 547.1h0M852.3 537.5h0M852.3 534.8h0M852.6 527.6h0M852.9 543.2h0M852.9 539.9h0M853.0 546.1h0M853.0 550.6h0M853.0 530.3h0M853.0 535.2h0M853.4 552.1h0M853.5 536.2h0M853.5 545.6h0M853.7 546.0h0M854.1 547.2h0M854.1 544.2h0M854.2 538.1h0M854.3 537.6h0M854.3 542.3h0M854.4 542.5h0M854.7 551.7h0M854.8 535.0h0M854.9 550.7h0M855.0 538.1h0M855.2 535.9h0M855.3 539.6h0M855.3 549.8h0M855.4 535.2h0M855.4 553.4h0M855.4 540.9h0M855.8 534.9h0M855.9 544.8h0M855.9 551.9h0M855.9 538.6h0M856.1 532.5h0M856.4 550.0h0M856.5 523.6h0M856.5 533.3h0M856.6 553.2h0M856.6 548.0h0M856.8 508.2h0M857.0 546.2h0M857.0 527.7h0M857.3 539.9h0M857.3 532.5h0M857.7 540.3h0M857.7 550.1h0M857.8 534.1h0M857.9 545.3h0M858.0 536.3h0M858.0 546.8h0M858.1 556.4h0M858.2 548.1h0M858.2 533.0h0M858.2 556.4h0M858.5 529.4h0M858.5 534.5h0M858.5 537.9h0M858.6 543.4h0M858.7 551.3h0M858.9 536.8h0M858.9 551.9h0M859.2 540.7h0M859.2 545.6h0M859.3 528.6h0M859.3 520.6h0M859.4 534.6h0M859.5 553.5h0M859.5 544.3h0M859.7 542.2h0M859.8 551.2h0M859.9 558.7h0M859.9 551.4h0M860.3 530.2h0M860.3 551.4h0M860.4 535.3h0M860.5 547.8h0M860.6 566.6h0M860.8 558.8h0M860.9 522.6h0M861.0 525.7h0M861.2 524.3h0M861.2 559.2h0M861.2 539.0h0M861.2 548.0h0M861.3 527.9h0M861.5 544.2h0M861.5 532.4h0M861.5 537.6h0M861.6 540.1h0M861.8 558.1h0M861.9 528.5h0M862.0 542.8h0M862.0 556.7h0M862.0 548.4h0M862.4 538.2h0M862.6 540.7h0M862.8 560.6h0M862.9 566.9h0M863.1 543.9h0M863.2 544.8h0M863.2 548.8h0M863.3 562.7h0M863.4 555.6h0M863.4 557.3h0M863.9 540.0h0M864.0 544.5h0M864.0 530.6h0M864.0 563.9h0M864.0 539.2h0M864.2 555.0h0M864.2 550.4h0M864.3 559.4h0M864.5 546.4h0M864.5 538.2h0M864.7 552.2h0M864.7 543.4h0M864.7 549.3h0M864.7 543.9h0M864.8 539.7h0M865.0 566.3h0M865.0 562.7h0M865.2 543.4h0M865.3 556.7h0M865.3 527.5h0M865.4 561.1h0M865.5 543.1h0M865.6 564.4h0M865.7 545.6h0M865.8 563.9h0M865.9 550.0h0M866.1 534.3h0M866.3 560.5h0M866.6 544.4h0M866.7 539.9h0M866.8 563.6h0M866.8 553.9h0M867.0 555.6h0M867.1 554.7h0M867.3 551.2h0M867.4 563.1h0M867.5 535.5h0M867.6 555.4h0M867.7 536.3h0M867.8 555.6h0M868.0 562.3h0M868.2 551.3h0M868.2 536.8h0M868.2 563.7h0M868.3 563.9h0M868.3 547.1h0M868.3 543.7h0M868.4 556.1h0M868.5 558.4h0M868.5 553.0h0M868.8 553.7h0M868.8 544.6h0M868.8 547.0h0M868.8 533.9h0M868.9 550.9h0M868.9 541.9h0M869.0 554.2h0M869.0 543.8h0M869.2 533.4h0M869.2 528.1h0M869.4 536.0h0M869.5 541.5h0M870.0 542.6h0M870.1 544.0h0M870.1 551.0h0M870.2 547.5h0M870.4 552.1h0M870.5 547.1h0M870.7 548.0h0M871.3 544.2h0M871.4 533.2h0M871.5 531.3h0M871.7 535.3h0M872.2 536.0h0M872.4 553.3h0M872.4 543.0h0M872.5 533.4h0M872.6 534.0h0M872.7 537.2h0M872.8 540.6h0M872.9 537.8h0M872.9 541.5h0M873.4 538.6h0M873.6 542.9h0M873.7 535.9h0M873.8 541.6h0M873.8 541.7h0M873.9 529.3h0M874.1 537.7h0M874.2 546.4h0M874.4 551.8h0M874.5 540.4h0M874.6 529.5h0M874.6 541.8h0M875.2 528.3h0M875.3 520.1h0M875.5 542.3h0M875.8 525.4h0M876.0 549.0h0M876.0 520.5h0M876.1 524.5h0M876.3 536.8h0M876.7 531.3h0M876.8 531.5h0M877.0 527.2h0M877.1 537.8h0M877.1 540.2h0M877.3 539.8h0M877.4 531.0h0M877.6 532.4h0M877.9 531.0h0M878.0 543.3h0M878.2 542.3h0M878.2 531.3h0M878.2 536.4h0M878.4 530.8h0M878.4 550.7h0M878.5 529.2h0M878.5 538.8h0M879.0 529.0h0M879.0 532.5h0M879.1 527.8h0M879.1 529.6h0M879.4 508.9h0M879.6 508.7h0M879.9 524.5h0M880.0 515.0h0M880.1 511.8h0M880.2 526.9h0M880.3 518.5h0M880.3 515.5h0M880.3 517.8h0M880.4 518.7h0M880.5 518.5h0M880.6 522.5h0M880.8 518.7h0M880.8 530.9h0M880.8 519.4h0M880.9 513.5h0M881.0 509.1h0M881.0 516.2h0M881.0 522.3h0M881.5 511.2h0M881.6 538.9h0M881.9 511.5h0M882.0 518.4h0M882.2 515.0h0M882.2 522.8h0M882.2 526.4h0M882.2 525.1h0M882.9 527.6h0M882.9 521.5h0M882.9 511.1h0M883.1 515.4h0M883.3 509.5h0M883.6 507.2h0M883.8 514.8h0M883.8 526.5h0M883.9 528.8h0M884.1 523.3h0M884.2 502.2h0M884.6 520.3h0M884.6 530.9h0M884.8 500.6h0M885.1 514.0h0M885.3 519.9h0M885.3 521.1h0M885.4 524.4h0M885.6 521.9h0M885.8 519.3h0M885.9 527.0h0M886.0 521.2h0M886.1 530.3h0M886.1 516.4h0M886.2 520.6h0M886.3 528.6h0M886.6 517.2h0M886.8 531.1h0M886.9 519.7h0M887.1 537.5h0M887.5 528.8h0M887.6 518.4h0M887.9 511.6h0M888.1 525.4h0M888.2 525.6h0M888.5 527.5h0M888.6 510.9h0M888.7 518.7h0M889.1 522.4h0M889.2 518.2h0M889.4 542.8h0M889.6 527.3h0M889.7 521.3h0M889.7 536.6h0M890.0 529.2h0M890.0 512.1h0M890.2 519.3h0M890.4 521.7h0M890.6 518.7h0M890.7 521.1h0M890.8 520.1h0M890.9 525.2h0M891.0 521.3h0M891.2 512.2h0M891.5 535.9h0M891.6 528.3h0M891.8 520.9h0M891.8 501.0h0M891.9 501.1h0M892.0 534.7h0M892.2 523.9h0M892.2 517.6h0M892.5 512.9h0M893.0 525.1h0M893.0 502.5h0M893.1 530.4h0M893.2 524.7h0M893.3 532.6h0M893.7 530.3h0M893.7 512.8h0M893.8 505.0h0M894.1 527.5h0M894.2 511.6h0M894.2 521.4h0M894.4 515.1h0M894.4 502.2h0M894.5 532.2h0M894.6 521.8h0M894.9 502.1h0M895.0 509.2h0M895.0 530.5h0M895.3 521.9h0M895.3 518.5h0M895.6 515.3h0M895.7 508.2h0M895.8 520.2h0M896.0 502.8h0M896.1 504.8h0M896.2 522.8h0M896.4 508.5h0M896.5 524.6h0M896.7 510.3h0M897.0 518.0h0M897.0 522.8h0M897.0 525.6h0M897.0 505.4h0M897.2 513.1h0M897.3 519.1h0M897.7 507.1h0M897.8 510.9h0M897.9 512.4h0M898.2 510.4h0M898.3 528.2h0M898.6 517.4h0M898.6 512.7h0M899.0 510.2h0M899.1 525.2h0M899.4 532.3h0M899.5 519.2h0M899.5 523.8h0M899.7 520.4h0M899.9 511.9h0M899.9 534.3h0M900.2 516.3h0M900.6 509.6h0M900.7 535.6h0M900.9 510.3h0M900.9 539.7h0M901.0 525.9h0M901.2 524.0h0M901.4 523.2h0M901.4 522.8h0M901.5 526.5h0M901.5 509.4h0M901.7 540.6h0M901.8 514.2h0M902.0 517.5h0M902.0 525.8h0M902.1 524.9h0M902.1 530.5h0M902.3 526.7h0M902.5 518.1h0M902.6 546.1h0M902.7 514.2h0M902.9 549.2h0M902.9 529.9h0M902.9 531.3h0M902.9 534.8h0M903.1 559.7h0M903.1 540.2h0M903.2 533.8h0M903.2 550.6h0M903.5 519.2h0M903.6 534.2h0M903.9 545.1h0M904.5 561.6h0M904.6 554.3h0M904.9 562.1h0M905.0 544.6h0M905.0 559.9h0M905.1 540.5h0M905.2 527.9h0M905.3 550.7h0M905.3 534.0h0M905.4 533.0h0M905.4 534.1h0M905.5 525.9h0M905.5 531.1h0M905.6 555.5h0M905.7 561.4h0M905.7 549.8h0M906.0 557.5h0M906.0 527.1h0M906.2 528.6h0M906.4 531.7h0M906.7 537.2h0M906.7 529.1h0M906.9 540.4h0M907.1 544.7h0M907.3 546.3h0M907.6 528.2h0M907.6 544.6h0M907.6 523.6h0M907.7 551.7h0M907.8 536.4h0M907.8 530.1h0M907.8 529.0h0M907.9 539.7h0M908.1 528.9h0M908.2 534.9h0M908.3 529.6h0M908.3 526.2h0M908.6 532.9h0M908.6 549.0h0M908.6 543.7h0M908.6 527.0h0M908.7 539.2h0M908.9 548.2h0M909.9 531.6h0M910.0 546.8h0M910.0 527.4h0M910.4 535.4h0M910.4 542.0h0M910.9 521.0h0M911.0 532.3h0M911.4 528.9h0M911.5 542.5h0M911.7 532.3h0M911.8 520.8h0M911.8 509.8h0M912.1 525.7h0M912.2 516.5h0M912.4 534.8h0M912.4 531.7h0M912.9 544.5h0M912.9 551.3h0M912.9 548.4h0M913.0 538.9h0M913.0 548.2h0M913.3 543.6h0M913.3 540.1h0M913.4 542.0h0M913.6 541.3h0M913.7 542.0h0M913.8 547.9h0M913.9 527.6h0M914.0 532.9h0M914.1 533.2h0M914.1 558.6h0M914.3 558.1h0M914.3 558.6h0M914.3 537.3h0M914.3 564.1h0M914.4 527.0h0M914.6 537.2h0M914.6 542.6h0M914.8 539.8h0M914.8 544.8h0M914.9 548.6h0M915.2 535.5h0M915.4 545.7h0M915.5 546.2h0M915.5 560.3h0M915.7 536.2h0M915.7 551.5h0M915.9 550.8h0M916.1 528.3h0M916.2 544.1h0M916.4 544.6h0M916.4 528.9h0M916.5 559.2h0M916.6 533.5h0M916.8 552.2h0M916.8 545.7h0M916.9 530.2h0M917.0 553.9h0M917.0 545.9h0M917.0 527.8h0M917.3 549.9h0M917.5 543.6h0M917.6 546.2h0M917.6 549.5h0M917.6 550.3h0M918.1 556.2h0M918.2 559.5h0M918.2 532.7h0M918.5 533.6h0M918.8 549.3h0M919.0 558.8h0M919.2 560.0h0M919.2 532.4h0M919.3 540.2h0M919.4 536.1h0M919.7 549.4h0M919.7 536.6h0M919.7 554.0h0M919.9 531.3h0M919.9 533.2h0M920.1 563.7h0M920.2 540.4h0M920.3 546.3h0M920.4 530.0h0M920.4 537.7h0M920.5 548.3h0M920.6 560.7h0M920.6 535.7h0M920.6 544.9h0M920.6 544.9h0M920.7 537.8h0M921.1 536.8h0M921.1 539.3h0M921.2 534.5h0M921.2 538.3h0M921.5 545.7h0M921.6 553.7h0M921.6 557.8h0M921.7 529.4h0M921.7 544.5h0M921.7 539.3h0M921.8 519.4h0M921.8 541.1h0M921.9 532.1h0M922.1 530.9h0M922.4 518.3h0M922.4 541.3h0M922.7 548.5h0M922.8 515.6h0M922.9 536.6h0M923.7 511.8h0M923.7 523.0h0M923.8 541.9h0M923.8 520.9h0M923.8 540.9h0M924.0 528.8h0M924.0 532.5h0M924.1 527.3h0M924.1 535.5h0M924.2 534.6h0M924.4 533.6h0M924.5 525.7h0M924.5 534.2h0M924.6 519.5h0M924.7 540.2h0M924.7 534.3h0M924.9 540.5h0M925.3 541.0h0M925.4 526.3h0M925.6 534.7h0M925.7 505.8h0M925.8 533.2h0M925.9 513.2h0M926.0 540.0h0M926.0 521.7h0M926.3 515.8h0M926.4 518.8h0M926.4 533.6h0M926.7 542.1h0M926.8 516.2h0M926.9 522.5h0M926.9 512.7h0M927.0 524.2h0M927.1 520.7h0M927.4 528.6h0M927.6 518.8h0M927.6 523.6h0M927.7 530.3h0M927.7 524.8h0M928.0 531.1h0M928.1 511.9h0M928.2 535.0h0M928.3 519.9h0M928.5 523.0h0M928.6 520.4h0M928.6 520.2h0M928.8 532.5h0M928.8 519.3h0M929.0 514.1h0M929.1 529.7h0M929.4 536.8h0M929.6 521.9h0M929.7 508.2h0M929.7 517.7h0M929.9 519.4h0M930.0 523.1h0M930.0 518.2h0M930.2 527.2h0M930.5 509.0h0M930.6 528.9h0M930.7 528.4h0M931.0 523.4h0M931.1 527.4h0M931.2 519.3h0M931.3 518.3h0M931.5 517.1h0M931.6 541.5h0M931.8 532.0h0M932.0 521.4h0M932.1 522.8h0M932.3 515.0h0M932.7 515.3h0M932.8 525.9h0M932.8 506.9h0M932.9 529.8h0M933.0 517.8h0M933.1 528.0h0M933.2 525.5h0M933.2 516.7h0M933.2 532.5h0M933.6 512.6h0M933.7 523.3h0M933.7 521.2h0M933.9 524.2h0M934.2 527.6h0M934.4 521.2h0M934.5 528.5h0M934.5 508.1h0M934.6 521.9h0M934.7 517.3h0M934.8 521.2h0M935.2 516.6h0M935.3 515.5h0M935.4 511.5h0M935.5 513.8h0M935.6 528.8h0M935.7 516.3h0M935.8 519.6h0M936.0 516.8h0M936.0 520.0h0M936.3 520.6h0M936.5 516.5h0M936.8 508.5h0M937.2 513.9h0M937.2 521.8h0M937.3 519.9h0M937.6 531.0h0M937.6 515.3h0M938.1 510.9h0M938.3 528.5h0M938.3 525.4h0M938.4 513.6h0M938.5 527.5h0M938.7 527.4h0M939.0 517.3h0M939.2 509.6h0M939.3 533.6h0M939.7 521.2h0M940.0 518.2h0M940.1 511.9h0M940.2 534.8h0M940.4 521.3h0M940.6 508.5h0M940.6 514.8h0M940.7 511.3h0M940.9 530.0h0M941.4 525.4h0M941.5 534.4h0M941.6 527.0h0M941.6 532.3h0M941.8 521.2h0M941.8 535.0h0M941.9 516.6h0M942.1 528.2h0M942.4 521.5h0M942.5 521.2h0M942.6 520.7h0M942.7 530.8h0M942.7 527.6h0M942.7 516.8h0M942.8 520.9h0M943.1 517.2h0M943.3 525.2h0M943.4 524.8h0M943.4 528.9h0M943.6 534.2h0M943.6 518.3h0M943.6 527.4h0M943.8 521.1h0M944.0 526.1h0M944.1 531.4h0M944.2 538.7h0M944.2 526.0h0M944.4 519.1h0M944.5 542.0h0M944.5 523.8h0M944.7 528.1h0M944.8 539.6h0M945.0 522.3h0M945.0 541.8h0M945.1 528.1h0M945.1 519.1h0M945.4 519.2h0M945.7 531.8h0M945.9 527.5h0M946.1 535.7h0M946.1 541.6h0M946.2 526.1h0M946.4 520.3h0M946.4 525.2h0M946.5 538.2h0M946.5 516.6h0M946.6 541.6h0M946.7 534.0h0M946.8 524.1h0M946.9 526.3h0M946.9 512.1h0M947.0 523.6h0M947.0 530.5h0M947.2 518.6h0M947.2 524.7h0M947.4 534.1h0M947.8 524.7h0M947.9 515.6h0M948.0 522.7h0M948.0 524.8h0M948.1 531.9h0M948.2 536.0h0M948.3 521.2h0M948.3 534.8h0M948.3 535.3h0M948.5 534.6h0M948.5 523.6h0M948.6 534.1h0M948.7 523.2h0M949.0 533.1h0M949.0 517.1h0M949.1 519.0h0M949.1 519.3h0M949.3 514.8h0M949.3 525.2h0M949.3 527.1h0M949.5 539.6h0M949.5 527.0h0M949.6 531.0h0M949.6 521.4h0M949.8 524.6h0M950.1 531.5h0M950.2 519.4h0M950.2 529.4h0M950.6 533.5h0M950.7 531.4h0M950.8 522.9h0M950.9 522.3h0M951.0 519.1h0M951.2 535.4h0M951.5 517.1h0M951.7 556.9h0M951.7 515.7h0M952.0 549.6h0M952.2 526.4h0M952.3 526.9h0M952.3 536.0h0M952.3 523.4h0M952.3 535.7h0M952.3 537.0h0M952.4 540.1h0M952.6 511.5h0M952.7 517.0h0M953.0 538.4h0M953.1 525.2h0M953.1 530.4h0M953.1 547.7h0M953.2 542.2h0M953.2 530.3h0M953.4 544.4h0M953.5 539.9h0M953.5 539.3h0M953.5 523.9h0M953.6 544.4h0M953.8 529.6h0M954.0 520.6h0M954.2 543.3h0M954.2 555.8h0M955.0 522.0h0M955.0 529.0h0M955.1 546.4h0M955.3 526.6h0M955.4 552.3h0M955.5 525.6h0M955.7 539.4h0M955.8 538.8h0M955.9 541.0h0M955.9 529.7h0M956.0 541.2h0M956.0 537.9h0M956.2 550.8h0M956.3 540.0h0M956.3 547.0h0M956.5 545.6h0M956.7 517.4h0M957.1 531.6h0M957.1 538.2h0M957.2 543.0h0M957.2 532.0h0M957.4 528.0h0M957.4 555.0h0M957.6 530.1h0M957.8 542.0h0M958.0 515.8h0M958.1 488.3h0M958.1 494.8h0M958.1 490.2h0M958.2 506.7h0M958.2 503.8h0M958.3 509.3h0M958.3 497.4h0M958.3 507.4h0M958.3 499.2h0M958.3 483.2h0M958.4 489.0h0M958.4 508.6h0M958.5 486.9h0M958.5 500.9h0M958.6 492.6h0M958.8 504.0h0M958.9 487.0h0M958.9 510.5h0M958.9 496.4h0M959.1 507.5h0M959.1 505.3h0M959.2 486.6h0M959.2 495.9h0M959.2 491.8h0M959.3 491.0h0M959.5 490.0h0M959.5 501.6h0M959.5 505.1h0M959.8 488.0h0M959.9 494.5h0M959.9 492.0h0M960.0 491.9h0M960.1 492.8h0M960.1 496.4h0M960.3 506.0h0M960.4 499.1h0M960.4 489.1h0M960.4 504.3h0M960.4 507.3h0M960.5 501.7h0M960.6 481.9h0M960.6 509.4h0M960.7 492.7h0M960.8 503.3h0M960.9 498.1h0M961.0 491.5h0M961.1 509.4h0M961.2 510.5h0M961.3 483.4h0M961.3 503.9h0M961.3 509.4h0M961.4 499.7h0M961.4 489.1h0M961.5 509.5h0M961.6 492.9h0M961.7 489.6h0M961.7 509.3h0M961.7 490.7h0M961.8 503.2h0M961.8 509.9h0M961.9 495.7h0M961.9 508.9h0M961.9 483.3h0M962.0 505.6h0M962.0 491.1h0M962.0 501.8h0M962.1 484.3h0M962.1 505.1h0M962.3 507.1h0M962.3 504.2h0M962.4 491.0h0M962.4 500.6h0M962.5 487.0h0M962.6 490.9h0M962.7 499.7h0M962.7 503.5h0M962.8 485.5h0M962.9 499.9h0M962.9 509.9h0M963.0 495.9h0M963.0 488.7h0M963.1 510.5h0M963.1 504.1h0M963.1 504.2h0M963.2 502.8h0M963.2 498.4h0M963.3 493.0h0M963.4 484.7h0M963.4 507.3h0M963.5 495.6h0M963.7 503.4h0M963.7 484.2h0M963.9 497.0h0M964.0 495.1h0M964.1 502.0h0M964.1 490.8h0M964.2 487.2h0M964.2 500.5h0M964.3 483.8h0M964.3 486.4h0M964.4 510.7h0M964.4 499.6h0M964.4 491.7h0M964.4 497.4h0M964.5 485.5h0M964.6 504.9h0M964.6 500.3h0M964.6 482.9h0M964.7 494.5h0M964.7 494.6h0M964.7 493.5h0M964.7 488.8h0M964.8 485.7h0M964.8 509.4h0M964.8 484.2h0M964.9 494.5h0M964.9 485.0h0M965.1 492.1h0M965.1 497.9h0M965.2 499.4h0M965.2 506.3h0M965.3 494.0h0M965.3 506.3h0M965.3 501.3h0M965.3 489.0h0M965.3 509.9h0M965.4 502.8h0M965.4 501.3h0M965.4 486.4h0M965.5 496.0h0M965.5 498.5h0M965.6 485.1h0M965.6 507.6h0M965.6 501.0h0M965.7 486.4h0M965.7 482.0h0M965.8 495.1h0M965.8 481.5h0M965.8 504.9h0M965.9 484.9h0M965.9 489.8h0M966.1 504.0h0M966.2 508.6h0M966.2 496.7h0M966.3 486.9h0M966.5 489.8h0M966.8 533.7h0M967.4 540.3h0M967.5 552.9h0M967.6 544.6h0M967.7 553.7h0M968.0 543.5h0M968.0 558.7h0M968.2 540.6h0M968.2 540.7h0M968.3 548.9h0M968.3 538.1h0M968.4 547.0h0M968.5 537.4h0M968.6 543.7h0M968.6 543.5h0M968.7 561.4h0M968.9 561.3h0M969.0 533.7h0M969.1 543.9h0M969.2 572.5h0M969.5 534.7h0M969.6 561.6h0M969.8 542.4h0M969.9 552.0h0M970.0 547.3h0M970.1 558.7h0M970.4 546.4h0M970.4 559.3h0M970.8 566.1h0M970.8 570.6h0M970.9 533.8h0M971.1 554.4h0M971.1 549.6h0M971.1 550.2h0M971.1 553.2h0M971.2 568.4h0M971.2 547.2h0M971.5 540.3h0M971.5 551.1h0M971.9 552.4h0M972.0 552.4h0M972.2 526.9h0M972.2 550.5h0M972.9 556.0h0M973.1 562.6h0M973.2 550.2h0M973.3 533.6h0M973.3 558.5h0M973.7 529.7h0M973.7 555.5h0M973.7 524.4h0M973.9 553.5h0M973.9 521.1h0M974.0 532.5h0M974.0 552.3h0M974.5 531.8h0M974.6 535.7h0M974.6 539.4h0M974.8 548.2h0M974.9 533.8h0M975.1 522.4h0M975.2 550.7h0M975.3 537.5h0M975.5 553.6h0M975.9 523.3h0M975.9 522.0h0M976.0 540.5h0M976.1 525.0h0M976.2 550.6h0M976.3 551.3h0M976.3 537.6h0M976.3 543.9h0M976.4 522.1h0M976.4 533.1h0M976.4 529.3h0M976.4 542.5h0M976.6 534.9h0M976.6 544.2h0M976.7 536.1h0M976.9 546.2h0M977.0 545.0h0M977.3 524.3h0M977.4 536.7h0M977.4 543.1h0M977.5 537.0h0M977.6 530.0h0M978.1 526.6h0M978.2 534.8h0M978.3 516.7h0M978.4 529.7h0M978.7 539.9h0M978.8 521.5h0M978.8 536.0h0M978.8 546.4h0M978.9 523.1h0M979.0 534.4h0M979.2 527.0h0M979.3 534.1h0M979.4 542.8h0M979.7 538.8h0M979.8 525.1h0M979.9 525.3h0M980.0 529.9h0M980.1 524.3h0M980.2 528.3h0M980.5 518.2h0M980.5 529.0h0M980.6 534.6h0M981.2 532.7h0M981.2 528.9h0M981.3 535.9h0M981.4 524.7h0M981.6 533.1h0M981.6 512.4h0M981.9 516.2h0M982.0 509.7h0M982.1 507.5h0M982.1 525.6h0M982.2 529.0h0M982.3 522.4h0M982.4 530.5h0M982.7 528.2h0M982.7 544.0h0M982.8 539.2h0M983.1 513.8h0M983.2 516.9h0M983.6 515.8h0M983.8 512.4h0M984.1 507.6h0M984.2 508.2h0M984.3 519.7h0M984.3 509.3h0M984.8 513.4h0M985.0 502.8h0M985.3 531.1h0M985.4 521.9h0M985.4 531.0h0M985.6 526.6h0M986.0 523.9h0M986.1 508.0h0M986.5 516.5h0M986.5 508.6h0M986.5 499.9h0M986.7 531.1h0M986.9 516.3h0M987.2 511.8h0M987.2 497.0h0M987.3 500.9h0M987.5 516.2h0M987.6 512.7h0M987.7 518.6h0M987.8 525.3h0M987.9 506.5h0M988.3 516.4h0M988.5 501.9h0M988.5 500.2h0M989.2 507.2h0M989.2 519.7h0M989.3 528.5h0M989.3 506.8h0M989.3 517.3h0M989.3 505.5h0M989.4 529.7h0M989.7 510.5h0M989.9 515.4h0M989.9 516.0h0M990.0 486.1h0M990.2 525.7h0M990.4 519.5h0M990.6 524.6h0M990.6 524.3h0M990.7 507.7h0M990.7 508.3h0M990.8 501.1h0M991.0 504.0h0M991.0 505.1h0M991.1 521.4h0M991.1 501.6h0M991.2 520.0h0M991.3 518.9h0M991.3 521.4h0M991.5 504.4h0M991.8 508.3h0M991.9 519.4h0M991.9 528.0h0M992.0 508.3h0M992.1 523.5h0M992.1 510.4h0M992.3 522.4h0M992.3 511.1h0M992.3 507.8h0M992.5 519.3h0M992.6 514.0h0M992.8 523.4h0M992.8 521.1h0M993.0 504.0h0M993.2 523.7h0M993.3 527.9h0M993.3 517.3h0M993.5 520.9h0M993.5 526.4h0M993.6 515.3h0M993.7 517.5h0M993.8 505.7h0M993.9 504.9h0M994.1 517.0h0M994.1 509.0h0M994.1 513.9h0M994.4 523.0h0M994.5 522.2h0M994.7 514.9h0M994.8 518.8h0M994.9 527.8h0M994.9 515.9h0M995.0 521.4h0M995.1 520.4h0M995.6 526.4h0M995.7 515.3h0M995.8 510.2h0M995.9 521.8h0M996.1 518.4h0M996.3 518.1h0M996.4 521.9h0M996.5 511.3h0M996.7 520.2h0M996.8 530.6h0M996.9 515.2h0M997.0 524.3h0M997.5 513.7h0M997.5 506.7h0M997.7 517.2h0M998.5 521.1h0M998.5 519.2h0M998.6 515.7h0M998.7 515.3h0M998.8 523.5h0M999.0 517.2h0M999.4 521.8h0M999.6 517.8h0M999.6 520.5h0M999.8 518.9h0M999.9 527.3h0M1000.0 518.7h0M1000.5 515.2h0M1000.7 520.7h0M1000.7 509.3h0M1000.9 511.0h0M1000.9 507.0h0M1000.9 524.7h0M1000.9 518.1h0M1001.3 522.0h0M1001.3 519.7h0M1001.4 526.3h0M1001.5 527.7h0M1001.5 525.1h0M1001.6 521.2h0M1001.9 530.5h0M1001.9 498.9h0M1002.7 536.1h0M1002.8 524.1h0M1002.8 547.1h0M1002.9 544.4h0M1003.1 528.9h0M1003.3 529.0h0M1003.4 527.9h0M1003.4 545.2h0M1003.5 551.3h0M1003.6 541.7h0M1003.7 540.7h0M1003.8 553.9h0M1003.9 528.7h0M1004.0 542.1h0M1004.3 531.6h0M1004.4 540.8h0M1004.4 533.2h0M1004.5 544.4h0M1004.6 539.7h0M1004.7 557.4h0M1004.8 549.1h0M1004.8 542.1h0M1005.1 550.4h0M1005.3 541.1h0M1005.5 542.2h0M1005.6 561.2h0M1005.6 538.0h0M1005.6 549.5h0M1006.0 547.2h0M1006.5 536.3h0M1006.5 560.0h0M1006.5 531.1h0M1006.9 561.3h0M1006.9 557.5h0M1006.9 563.9h0M1007.1 538.3h0M1007.3 540.0h0M1007.3 531.0h0M1007.4 528.6h0M1007.4 542.9h0M1007.5 541.3h0M1007.5 524.4h0M1007.6 524.3h0M1007.7 552.5h0M1007.9 530.3h0M1007.9 522.1h0M1008.4 543.0h0M1008.4 543.0h0M1008.5 535.4h0M1008.6 518.5h0M1008.9 537.6h0M1009.0 543.4h0M1009.2 527.8h0M1009.4 523.4h0M1009.4 539.5h0M1009.5 537.3h0M1009.6 519.3h0M1009.8 518.0h0M1009.8 534.0h0M1009.9 517.1h0M1009.9 535.9h0M1010.0 542.3h0M1010.4 549.4h0M1010.4 519.4h0M1010.4 534.7h0M1010.7 537.2h0M1010.8 520.5h0M1010.9 526.6h0M1010.9 535.6h0M1011.0 529.5h0M1011.0 529.8h0M1011.1 537.3h0M1011.3 525.8h0M1011.3 522.1h0M1011.4 518.4h0M1011.5 535.0h0M1011.7 539.3h0M1011.7 525.4h0M1011.9 538.6h0M1012.1 518.8h0M1012.3 526.6h0M1012.4 532.8h0M1012.7 533.0h0M1012.7 513.6h0M1012.8 536.1h0M1012.8 523.2h0M1012.8 537.7h0M1012.9 517.8h0M1013.0 534.9h0M1013.2 532.9h0M1013.4 523.4h0M1013.4 536.6h0M1013.6 535.2h0M1013.6 518.7h0M1013.8 515.3h0M1014.1 540.3h0M1014.5 534.6h0M1014.7 536.6h0M1014.9 528.1h0M1015.0 538.3h0M1015.0 533.5h0M1015.2 531.2h0M1015.2 524.5h0M1015.4 541.1h0M1015.5 519.5h0M1016.0 530.2h0M1016.1 529.3h0M1016.2 542.2h0M1016.2 521.4h0M1016.2 546.4h0M1016.6 538.8h0M1016.8 528.6h0M1016.9 520.6h0M1017.0 537.0h0M1017.1 530.3h0M1017.2 526.6h0M1017.3 525.0h0M1017.3 528.8h0M1017.4 543.3h0M1017.4 531.4h0M1017.5 543.3h0M1017.6 534.1h0M1017.8 530.7h0M1017.9 540.1h0M1018.0 536.9h0M1018.8 542.9h0M1018.9 533.1h0M1019.1 544.4h0M1019.3 541.2h0M1019.5 539.3h0M1019.6 543.5h0M1019.7 539.8h0M1019.7 546.4h0M1019.8 541.3h0M1020.0 546.9h0M1020.2 549.7h0M1020.2 543.0h0M1020.4 566.4h0M1020.5 548.0h0M1020.6 557.4h0M1020.6 540.4h0M1020.8 547.1h0M1021.0 556.9h0M1021.0 535.1h0M1021.2 558.7h0M1021.4 544.7h0M1021.5 540.3h0M1021.5 539.0h0M1021.6 554.0h0M1021.8 546.3h0M1021.9 548.0h0M1022.1 538.6h0M1022.1 546.4h0M1022.1 549.4h0M1022.2 527.9h0M1022.6 544.2h0M1022.8 538.2h0M1022.8 549.0h0M1023.0 533.7h0M1023.2 546.1h0M1023.3 530.1h0M1023.4 530.4h0M1023.5 544.6h0M1023.5 542.3h0M1023.8 526.9h0M1023.8 535.7h0M1024.0 521.5h0M1024.1 541.3h0M1024.1 537.2h0M1024.2 520.0h0M1024.2 530.1h0M1024.2 545.4h0M1024.3 543.8h0M1024.4 522.7h0M1024.9 542.8h0M1025.0 521.3h0M1025.1 538.3h0M1025.4 535.9h0M1025.5 532.6h0M1025.7 539.5h0M1025.7 543.9h0M1025.7 529.9h0M1025.8 533.0h0M1025.9 527.1h0M1026.0 527.0h0M1026.3 518.6h0M1026.4 516.4h0M1026.5 542.9h0M1026.6 516.4h0M1026.6 515.8h0M1026.8 518.6h0M1027.0 510.6h0M1027.1 513.1h0M1027.2 536.3h0M1027.4 521.8h0M1027.5 531.5h0M1027.7 526.8h0M1027.8 508.6h0M1027.8 517.5h0M1028.0 509.7h0M1028.1 522.0h0M1028.2 524.5h0M1028.3 522.0h0M1028.3 521.2h0M1028.7 519.3h0M1028.8 531.8h0M1028.8 528.6h0M1028.9 525.6h0M1028.9 525.0h0M1029.1 520.1h0M1029.1 520.4h0M1029.1 516.9h0M1029.2 515.1h0M1029.4 530.8h0M1029.4 521.5h0M1029.6 513.0h0M1029.7 509.5h0M1029.7 532.0h0M1029.8 520.4h0M1029.9 526.8h0M1030.0 518.0h0M1030.1 519.8h0M1030.3 515.5h0M1030.4 521.6h0M1030.4 518.4h0M1030.5 525.0h0M1030.5 527.1h0M1030.7 509.7h0M1030.7 520.5h0M1030.8 511.8h0M1030.8 532.3h0M1030.8 510.8h0M1030.9 521.6h0M1031.2 514.6h0M1031.3 524.8h0M1031.3 513.9h0M1031.5 504.4h0M1031.7 514.0h0M1031.7 524.4h0M1031.9 513.8h0M1031.9 513.4h0M1032.0 520.7h0M1032.0 516.9h0M1032.4 516.7h0M1032.5 520.3h0M1032.6 517.5h0M1032.7 517.2h0M1032.9 526.9h0M1033.0 516.9h0M1033.1 523.1h0M1033.7 529.8h0M1034.0 506.1h0M1034.0 507.2h0M1034.1 505.3h0M1034.1 515.3h0M1034.3 523.6h0M1034.4 511.2h0M1034.4 522.9h0M1034.6 521.2h0M1034.6 528.1h0M1035.0 518.2h0M1035.1 521.2h0M1035.4 504.8h0M1035.5 522.3h0M1035.6 508.0h0M1035.9 520.5h0M1036.0 491.5h0M1036.0 514.0h0M1036.1 500.5h0M1036.2 531.3h0M1036.2 499.7h0M1036.2 531.0h0M1036.3 519.3h0M1036.5 530.4h0M1036.5 508.8h0M1036.6 475.9h0M1036.6 514.4h0M1036.7 486.8h0M1036.7 489.8h0M1036.7 502.8h0M1036.7 489.2h0M1036.9 526.0h0M1037.0 490.0h0M1037.0 524.2h0M1037.0 508.6h0M1037.1 506.3h0M1037.1 495.3h0M1037.2 496.6h0M1037.3 492.0h0M1037.3 515.9h0M1037.3 515.1h0M1037.4 492.6h0M1037.4 508.9h0M1037.4 498.8h0M1037.4 486.7h0M1037.5 509.2h0M1037.5 507.8h0M1037.6 501.3h0M1037.6 504.0h0M1037.7 507.7h0M1037.8 504.4h0M1037.8 512.6h0M1037.8 518.9h0M1037.8 519.7h0M1037.9 488.0h0M1037.9 497.9h0M1038.4 511.7h0M1038.6 492.0h0M1038.7 531.4h0M1038.8 505.2h0M1038.8 520.3h0M1038.9 502.0h0M1039.0 510.7h0M1039.0 524.5h0M1039.0 498.9h0M1039.1 512.5h0M1039.1 509.2h0M1039.4 522.8h0M1039.5 519.4h0M1039.5 514.9h0M1039.8 519.1h0M1039.9 509.0h0M1039.9 508.6h0M1040.2 527.7h0M1040.4 512.4h0M1040.5 523.7h0M1040.7 534.0h0M1040.7 509.9h0M1040.7 529.1h0M1041.2 519.3h0M1041.4 524.6h0M1041.4 510.0h0M1041.6 529.4h0M1041.7 516.2h0M1042.0 518.0h0M1042.2 525.4h0M1042.2 512.2h0M1042.4 517.9h0M1042.5 527.2h0M1042.6 536.3h0M1042.7 512.7h0M1042.7 517.7h0M1042.7 527.5h0M1042.9 537.8h0M1042.9 523.7h0M1043.0 534.9h0M1043.0 530.5h0M1043.1 532.2h0M1043.1 522.9h0M1043.2 518.0h0M1043.3 524.8h0M1043.3 528.6h0M1043.9 518.2h0M1043.9 526.0h0M1044.2 526.8h0M1044.4 529.6h0M1044.5 523.6h0M1044.6 528.5h0M1044.9 533.9h0M1045.1 541.6h0M1045.4 522.3h0M1045.4 521.5h0M1045.5 518.0h0M1045.9 527.6h0M1045.9 538.9h0M1045.9 521.7h0M1046.0 516.2h0M1046.2 516.9h0M1046.2 521.2h0M1046.2 520.4h0M1046.4 530.0h0M1046.4 526.0h0M1046.4 519.6h0M1046.7 520.3h0M1046.7 530.7h0M1046.8 539.5h0M1046.9 519.7h0M1047.0 528.7h0M1047.2 516.0h0M1047.3 528.3h0M1047.3 537.2h0M1047.4 529.0h0M1047.4 528.8h0M1047.5 530.7h0M1047.7 521.6h0M1047.8 524.5h0M1047.8 541.8h0M1047.9 545.0h0M1048.1 527.7h0M1048.2 530.6h0M1048.6 535.8h0M1048.7 524.5h0M1048.8 544.3h0M1048.9 535.1h0M1049.1 517.0h0M1049.1 524.5h0M1049.2 538.2h0M1049.3 521.3h0M1049.4 522.6h0M1049.4 535.0h0M1049.5 523.5h0M1049.5 520.5h0M1049.5 545.8h0M1049.6 529.6h0M1049.6 532.6h0M1049.7 540.6h0M1049.7 546.0h0M1049.8 527.8h0M1050.1 529.9h0M1050.2 528.3h0M1050.2 535.1h0M1050.5 520.4h0M1050.6 519.0h0M1050.7 543.3h0M1050.7 519.7h0M1050.8 530.0h0M1050.8 527.7h0M1051.0 531.9h0M1051.3 537.1h0M1051.3 540.5h0M1052.2 544.6h0M1052.3 526.0h0M1052.4 551.7h0M1052.5 528.0h0M1053.1 549.9h0M1053.2 555.3h0M1053.2 544.0h0M1053.3 538.4h0M1053.3 543.0h0M1053.3 552.5h0M1053.5 550.5h0M1053.6 559.5h0M1053.7 547.4h0M1054.0 557.8h0M1054.0 542.6h0M1054.1 560.4h0M1054.2 564.3h0M1054.3 559.7h0M1054.3 542.9h0M1054.3 565.4h0M1054.4 548.3h0M1054.5 554.8h0M1054.7 549.7h0M1054.8 544.1h0M1054.9 547.1h0M1055.0 562.0h0M1055.1 549.0h0M1055.2 553.1h0M1055.3 539.3h0M1055.4 541.2h0M1055.5 548.9h0M1055.6 554.2h0M1055.7 546.0h0M1055.9 569.8h0M1055.9 559.2h0M1056.0 551.9h0M1056.1 540.6h0M1056.1 550.8h0M1056.2 552.9h0M1056.5 550.1h0M1056.5 556.0h0M1056.5 531.3h0M1056.7 557.9h0M1056.8 548.7h0M1056.8 542.3h0M1056.8 536.6h0M1057.1 557.2h0M1057.1 548.4h0M1057.2 552.1h0M1057.4 556.3h0M1057.4 535.1h0M1057.5 556.3h0M1057.6 546.5h0M1057.6 547.1h0M1057.7 530.5h0M1057.7 552.2h0M1057.8 551.7h0M1057.8 532.3h0M1057.9 558.5h0M1057.9 529.1h0M1057.9 566.2h0M1058.0 555.8h0M1058.1 554.4h0M1058.2 558.3h0M1058.3 543.4h0M1058.4 548.0h0M1058.4 541.0h0M1058.7 538.1h0M1058.8 556.1h0M1059.0 533.9h0M1059.1 544.1h0M1059.1 531.6h0M1059.2 559.0h0M1059.3 546.1h0M1059.3 532.9h0M1059.4 533.2h0M1059.4 553.5h0M1059.5 544.6h0M1059.5 530.1h0M1059.7 550.6h0M1059.7 540.2h0M1060.0 538.7h0M1060.1 541.1h0M1060.3 532.1h0M1060.3 525.8h0M1060.4 540.2h0M1060.4 523.0h0M1060.5 546.5h0M1060.6 538.0h0M1060.6 536.6h0M1060.6 542.2h0M1060.7 523.4h0M1060.8 534.2h0M1061.0 540.3h0M1061.4 529.5h0M1061.4 533.9h0M1061.4 536.2h0M1061.5 535.5h0M1061.6 525.6h0M1061.8 517.3h0M1061.9 544.4h0M1062.0 531.5h0M1062.1 517.5h0M1062.1 541.0h0M1062.2 527.2h0M1062.4 523.2h0M1062.5 531.8h0M1062.6 532.3h0M1062.7 533.0h0M1062.7 530.6h0M1062.8 518.1h0M1063.1 525.1h0M1063.1 530.3h0M1063.2 493.2h0M1063.3 523.9h0M1063.3 526.8h0M1063.3 486.3h0M1063.3 500.5h0M1063.4 515.1h0M1063.4 501.5h0M1063.5 493.9h0M1063.6 500.3h0M1063.6 499.8h0M1063.6 490.6h0M1063.7 483.5h0M1063.7 493.2h0M1063.8 490.7h0M1063.8 510.1h0M1064.0 486.1h0M1064.0 490.4h0M1064.1 514.5h0M1064.1 515.3h0M1064.2 500.9h0M1064.3 505.8h0M1064.3 511.3h0M1064.3 483.2h0M1064.5 494.1h0M1064.6 517.3h0M1064.8 492.6h0M1064.8 507.2h0M1064.9 506.4h0M1064.9 505.8h0M1065.0 500.7h0M1065.1 504.6h0M1065.1 500.8h0M1065.2 501.0h0M1065.3 515.3h0M1065.3 508.9h0M1065.4 502.8h0M1065.4 488.4h0M1065.4 489.0h0M1065.5 499.0h0M1065.5 513.8h0M1065.6 509.5h0M1065.6 482.2h0M1065.6 507.3h0M1065.6 498.1h0M1065.6 485.8h0M1065.7 506.5h0M1065.7 518.6h0M1065.8 484.5h0M1065.8 505.8h0M1065.9 505.6h0M1066.0 508.6h0M1066.0 512.2h0M1066.0 500.4h0M1066.1 494.7h0M1066.1 517.4h0M1066.1 519.5h0M1066.2 510.8h0M1066.2 496.7h0M1066.3 497.1h0M1066.3 503.0h0M1066.3 527.4h0M1066.4 517.4h0M1066.4 488.6h0M1066.5 539.3h0M1066.6 515.6h0M1066.6 538.1h0M1066.7 526.8h0M1067.3 542.1h0M1067.3 523.2h0M1067.4 529.3h0M1067.5 535.4h0M1067.5 537.8h0M1067.5 524.7h0M1067.5 547.9h0M1067.6 539.6h0M1067.8 532.5h0M1067.9 534.2h0M1068.3 540.5h0M1068.5 532.9h0M1068.7 533.6h0M1068.7 528.6h0M1068.8 536.6h0M1068.9 535.5h0M1069.0 541.5h0M1069.2 537.8h0M1069.2 535.4h0M1069.2 553.3h0M1069.8 541.7h0M1069.9 559.0h0M1070.2 537.9h0M1070.2 535.4h0M1070.2 541.9h0M1070.4 533.6h0M1070.5 554.8h0M1070.6 551.0h0M1070.7 540.3h0M1070.7 543.7h0M1070.7 537.0h0M1070.8 551.7h0M1070.9 541.5h0M1071.0 540.0h0M1071.2 554.0h0M1071.2 551.4h0M1071.4 539.1h0M1071.5 543.1h0M1071.7 555.3h0M1071.7 543.2h0M1071.9 556.2h0M1071.9 530.2h0M1071.9 553.8h0M1072.3 538.2h0M1072.4 545.2h0M1072.6 549.2h0M1072.6 544.2h0M1072.7 536.6h0M1072.8 533.2h0M1072.8 536.8h0M1072.9 549.0h0M1073.2 519.2h0M1073.5 539.1h0M1073.5 532.4h0M1073.6 530.6h0M1073.8 537.0h0M1073.9 539.9h0M1074.0 543.5h0M1074.0 522.3h0M1074.0 528.9h0M1074.1 549.7h0M1074.2 515.1h0M1074.3 535.2h0M1074.4 529.3h0M1074.6 534.8h0M1074.7 535.9h0M1074.9 522.1h0M1074.9 529.5h0M1074.9 539.8h0M1075.3 545.9h0M1075.6 527.2h0M1075.6 516.7h0M1075.7 517.6h0M1075.7 540.6h0M1075.8 527.6h0M1075.9 518.5h0M1075.9 519.7h0M1076.0 512.7h0M1076.1 495.7h0M1076.2 533.7h0M1076.2 511.4h0M1076.6 522.2h0M1076.7 534.9h0M1077.0 521.8h0M1077.0 513.3h0M1077.0 508.4h0M1077.1 523.4h0M1077.4 507.3h0M1077.4 534.0h0M1077.5 529.4h0M1077.6 499.6h0M1077.9 509.6h0M1078.0 540.2h0M1078.0 516.3h0M1078.1 512.2h0M1078.1 529.2h0M1078.3 519.1h0M1078.3 539.5h0M1078.6 506.7h0M1078.7 525.2h0M1078.7 540.2h0M1078.8 501.0h0M1078.8 538.3h0M1078.9 528.6h0M1079.0 507.8h0M1079.2 542.6h0M1079.2 534.6h0M1079.3 532.9h0M1079.4 519.0h0M1079.5 529.3h0M1079.7 540.0h0M1079.7 526.5h0M1079.9 515.4h0M1080.4 508.9h0M1080.4 528.6h0M1080.7 522.8h0M1080.9 511.2h0M1081.0 532.1h0M1081.4 542.6h0M1081.4 516.8h0M1081.6 516.2h0M1081.6 530.1h0M1081.8 544.5h0M1082.0 521.9h0M1082.1 529.3h0M1082.4 513.6h0M1082.5 523.4h0M1082.6 529.0h0M1082.6 516.4h0M1082.9 514.3h0M1082.9 524.6h0M1083.0 531.8h0M1083.3 542.8h0M1083.4 499.2h0M1083.5 520.6h0M1083.5 515.1h0M1083.8 546.1h0M1084.0 513.7h0M1084.3 520.1h0M1084.8 511.8h0M1085.0 525.2h0M1085.1 526.3h0M1085.3 520.5h0M1085.3 539.2h0M1085.3 512.6h0M1085.4 515.8h0M1085.4 536.3h0M1085.6 527.6h0M1085.6 523.5h0M1085.6 540.0h0M1085.7 516.2h0M1085.8 529.5h0M1085.9 522.1h0M1086.0 512.4h0M1086.0 516.8h0M1086.2 529.0h0M1086.4 527.6h0M1086.4 525.1h0M1086.5 517.6h0M1086.6 514.2h0M1086.9 526.9h0M1086.9 509.4h0M1087.0 522.2h0M1087.1 525.9h0M1087.3 522.2h0M1087.3 516.9h0M1087.5 526.6h0M1087.5 518.1h0M1087.9 511.6h0M1088.0 529.6h0M1088.0 527.9h0M1088.0 524.9h0M1088.0 513.9h0M1088.2 512.1h0M1088.2 515.6h0M1088.2 524.1h0M1088.4 509.5h0M1088.7 525.9h0M1088.8 518.1h0M1089.1 529.6h0M1089.3 524.9h0M1089.4 511.3h0M1089.5 527.9h0M1089.7 525.4h0M1089.7 523.0h0M1089.8 528.3h0M1089.9 515.8h0M1089.9 516.5h0M1090.1 531.6h0M1090.2 525.1h0M1090.4 510.7h0M1090.7 538.7h0M1091.0 536.0h0M1091.1 522.8h0M1091.5 537.6h0M1091.6 508.2h0M1091.7 532.9h0M1091.8 538.5h0M1092.2 524.1h0M1092.4 512.3h0M1092.7 507.5h0M1092.9 522.4h0M1093.1 506.2h0M1093.1 526.9h0M1093.5 508.2h0M1093.6 510.5h0M1093.7 527.4h0M1093.8 528.3h0M1093.8 509.5h0M1093.8 507.4h0M1093.8 522.1h0M1094.2 518.3h0M1094.3 533.8h0M1094.4 521.3h0M1094.5 517.6h0M1094.6 532.4h0M1094.6 525.5h0M1094.7 514.3h0M1095.0 516.1h0M1095.1 507.6h0M1095.2 508.3h0M1095.7 504.7h0M1095.9 523.8h0M1096.1 532.4h0M1096.2 533.4h0M1096.2 525.4h0M1096.2 516.6h0M1096.3 535.9h0M1096.7 507.8h0M1096.7 506.2h0M1097.2 524.8h0M1097.9 528.5h0M1098.0 538.5h0M1098.2 542.4h0M1098.3 541.5h0M1098.3 514.1h0M1098.5 532.7h0M1098.5 525.5h0M1098.7 528.7h0M1099.0 527.4h0M1099.0 525.6h0M1099.2 517.5h0M1099.3 536.4h0M1099.4 521.6h0M1099.8 555.0h0M1099.9 546.7h0M1100.0 516.7h0M1100.3 547.6h0M1100.3 544.6h0M1100.4 546.2h0M1100.5 546.7h0M1100.6 525.2h0M1100.7 538.3h0M1100.7 518.8h0M1100.8 550.6h0M1100.8 549.4h0M1101.1 539.1h0M1101.1 526.7h0M1101.2 512.9h0M1101.2 544.3h0M1101.3 530.4h0M1101.4 520.9h0M1101.4 543.9h0M1101.5 518.6h0M1101.6 532.5h0M1101.6 549.9h0M1101.8 536.6h0M1101.8 529.7h0M1102.1 530.2h0M1102.2 521.1h0M1102.3 528.4h0M1102.3 530.5h0M1102.5 523.8h0M1102.8 546.0h0M1102.8 541.5h0M1102.9 523.0h0M1103.0 537.4h0M1103.1 545.2h0M1103.1 557.3h0M1103.2 553.0h0M1103.2 558.9h0M1103.5 544.6h0M1103.7 556.4h0M1103.8 536.2h0M1103.9 548.7h0M1103.9 550.9h0M1104.6 550.4h0M1104.6 539.4h0M1104.7 518.0h0M1104.7 544.2h0M1104.9 547.4h0M1105.0 546.6h0M1105.2 557.9h0M1105.2 552.1h0M1105.3 545.4h0M1105.4 536.0h0M1105.6 560.1h0M1105.7 548.3h0M1105.8 560.7h0M1105.8 560.7h0M1105.8 544.1h0M1105.9 528.0h0M1106.0 545.6h0M1106.0 557.4h0M1106.1 550.8h0M1106.1 544.0h0M1106.2 542.4h0M1106.3 557.7h0M1106.3 544.7h0M1106.4 528.4h0M1106.4 546.8h0M1106.4 553.0h0M1106.6 541.3h0M1106.8 539.8h0M1107.0 564.0h0M1107.2 547.0h0M1107.4 552.4h0M1107.6 536.0h0M1107.7 543.6h0M1108.2 540.0h0M1108.5 553.2h0M1108.5 528.0h0M1108.6 560.3h0M1109.2 561.5h0M1109.4 523.9h0M1109.4 559.8h0M1109.4 539.0h0M1109.5 522.0h0M1109.5 553.9h0M1109.7 561.3h0M1109.8 551.6h0M1110.1 546.1h0M1110.1 561.7h0M1110.2 559.4h0M1110.3 551.2h0M1110.3 533.0h0M1110.3 533.2h0M1110.4 549.7h0M1110.5 560.1h0M1110.6 555.6h0M1110.7 560.2h0M1110.8 549.9h0M1110.9 528.3h0M1110.9 537.6h0M1111.0 528.2h0M1111.3 547.3h0M1111.5 551.1h0M1111.5 535.3h0M1111.9 532.5h0M1112.1 541.1h0M1112.6 537.5h0M1112.7 531.7h0M1113.0 536.1h0M1113.2 543.8h0M1113.3 527.7h0M1113.5 537.0h0M1113.6 542.7h0M1113.6 545.7h0M1113.6 542.1h0M1113.6 541.3h0M1113.7 528.3h0M1113.7 544.4h0M1113.8 557.9h0M1113.8 555.4h0M1113.9 531.6h0M1114.0 532.0h0M1114.1 558.6h0M1114.2 547.9h0M1114.3 538.9h0M1114.4 534.4h0M1114.5 550.1h0M1114.7 534.5h0M1114.7 545.8h0M1115.3 552.3h0M1115.4 552.7h0M1115.4 539.5h0M1115.6 537.2h0M1115.9 544.3h0M1116.0 546.7h0M1116.3 547.6h0M1116.3 541.1h0M1116.5 535.3h0M1116.5 543.9h0M1116.6 519.5h0M1116.8 542.5h0M1117.4 553.2h0M1117.4 537.7h0M1117.5 544.9h0M1117.5 554.2h0M1117.6 537.9h0M1117.6 541.7h0M1117.9 553.6h0M1118.0 530.6h0M1118.3 555.9h0M1118.4 525.7h0M1118.5 541.7h0M1118.7 527.0h0M1118.9 538.9h0M1119.0 550.6h0M1119.1 546.0h0M1119.1 539.3h0M1119.1 535.4h0M1119.3 533.2h0M1119.3 533.6h0M1119.5 540.6h0M1119.6 548.9h0M1119.9 547.3h0M1119.9 541.8h0M1119.9 553.3h0M1120.0 542.7h0M1120.1 536.5h0M1120.2 540.3h0M1120.2 540.0h0M1120.3 545.1h0M1120.5 528.7h0M1120.5 544.1h0M1120.6 534.6h0M1120.9 545.7h0M1121.1 548.3h0M1121.1 528.7h0M1121.1 547.0h0M1121.2 552.0h0M1121.2 552.5h0M1121.5 532.3h0M1121.7 524.9h0M1121.8 539.6h0M1121.8 532.8h0M1122.0 538.3h0M1122.1 546.5h0M1122.2 526.2h0M1122.2 549.9h0M1122.3 524.2h0M1122.5 531.0h0M1122.6 509.6h0M1122.7 529.2h0M1123.0 538.2h0M1123.2 523.1h0M1123.2 530.0h0M1123.5 525.1h0M1123.5 527.0h0M1123.6 508.8h0M1123.8 520.5h0M1123.8 520.9h0M1123.9 527.2h0M1124.0 516.0h0M1124.2 522.5h0M1124.3 524.1h0M1124.4 507.6h0M1124.9 533.5h0M1125.0 521.5h0M1125.1 508.9h0M1125.1 516.0h0M1125.3 514.9h0M1125.3 527.0h0M1125.3 506.4h0M1125.4 524.4h0M1125.5 523.7h0M1125.7 508.7h0M1126.2 516.8h0M1126.2 504.5h0M1126.2 523.1h0M1126.4 523.3h0M1126.8 519.0h0M1126.9 513.4h0M1127.3 520.9h0M1127.4 522.3h0M1127.6 521.6h0M1127.7 515.4h0M1128.2 515.9h0M1128.3 530.8h0M1128.4 505.0h0M1128.5 518.3h0M1128.7 505.9h0M1128.8 531.0h0M1128.8 529.5h0M1129.1 499.5h0M1129.3 510.9h0M1129.4 513.8h0M1129.4 508.5h0M1129.5 511.6h0M1130.0 526.4h0M1130.1 512.6h0M1130.4 502.9h0M1130.4 498.8h0M1130.5 513.5h0M1130.5 502.1h0M1130.5 510.4h0M1130.6 502.1h0M1130.6 509.1h0M1130.6 506.0h0M1130.6 524.4h0M1130.7 513.5h0M1130.7 506.9h0M1130.8 505.4h0M1130.9 499.5h0M1131.0 522.1h0M1131.1 504.4h0M1131.1 507.0h0M1131.2 530.8h0M1131.2 522.4h0M1131.4 511.2h0M1131.5 528.9h0M1131.6 514.9h0M1131.6 512.0h0M1131.7 510.6h0M1131.7 512.7h0M1131.8 518.1h0M1131.9 511.4h0M1131.9 509.8h0M1132.1 514.0h0M1132.2 525.4h0M1132.7 497.8h0M1132.7 504.8h0M1132.7 501.7h0M1133.0 502.6h0M1133.1 499.9h0M1133.2 528.2h0M1133.3 529.8h0M1133.4 521.2h0M1133.6 517.2h0M1133.6 499.3h0M1133.8 507.4h0M1134.0 518.1h0M1134.0 511.5h0M1134.4 528.8h0M1134.4 514.4h0M1134.4 518.3h0M1134.8 502.2h0M1134.8 527.9h0M1134.8 505.4h0M1134.9 514.7h0M1135.0 515.9h0M1135.2 516.7h0M1135.2 525.1h0M1135.2 512.1h0M1135.3 507.0h0M1135.3 505.6h0M1135.3 518.8h0M1135.4 528.0h0M1135.5 517.8h0M1135.6 507.9h0M1135.6 525.9h0M1135.7 507.7h0M1135.8 508.5h0M1135.9 503.8h0M1135.9 526.1h0M1136.0 518.6h0M1136.2 525.4h0M1136.3 514.3h0M1136.5 504.6h0M1136.8 502.5h0M1136.9 527.0h0M1137.1 519.8h0M1137.3 522.8h0M1137.4 517.8h0M1137.5 526.7h0M1137.5 511.7h0M1137.6 512.7h0M1137.8 524.6h0M1137.8 514.9h0M1137.9 521.7h0M1138.4 526.2h0M1138.4 519.9h0M1138.5 519.8h0M1138.5 523.8h0M1138.8 505.8h0M1138.8 502.1h0M1138.8 528.5h0M1138.9 515.4h0M1138.9 514.6h0M1139.0 527.8h0M1139.2 519.1h0M1139.6 508.5h0M1139.8 519.8h0M1139.8 517.2h0M1140.0 513.8h0M1140.3 511.2h0M1140.3 510.2h0M1140.3 523.9h0M1140.4 524.4h0M1140.9 525.3h0M1141.2 513.9h0M1141.4 514.6h0M1141.4 518.8h0M1141.4 515.4h0M1141.5 524.4h0M1142.1 506.8h0M1142.2 526.2h0M1142.4 513.3h0M1142.5 523.9h0M1142.5 517.8h0M1142.6 530.1h0M1142.9 502.7h0M1142.9 521.4h0M1143.1 517.5h0M1143.2 509.9h0M1143.2 516.6h0M1143.2 513.0h0M1143.3 519.2h0M1143.5 515.2h0M1143.6 516.7h0M1143.7 534.0h0M1143.8 528.1h0M1144.1 501.6h0M1144.1 503.5h0M1144.2 511.3h0M1144.4 519.6h0M1144.5 517.9h0M1144.6 512.6h0M1144.8 521.3h0M1144.8 529.0h0M1145.0 530.3h0M1145.1 512.6h0M1145.2 528.8h0M1145.3 527.1h0M1145.3 523.4h0M1145.4 519.0h0M1145.4 511.0h0M1145.5 502.3h0M1145.5 496.2h0M1145.6 524.5h0M1145.6 515.1h0M1145.9 526.8h0M1145.9 506.3h0M1146.0 522.0h0M1146.0 523.1h0M1146.1 528.2h0M1146.2 501.0h0M1146.3 519.1h0M1146.4 514.7h0M1146.4 531.7h0M1146.6 516.7h0M1146.9 522.8h0M1147.2 522.4h0M1147.2 540.2h0M1147.3 548.7h0M1147.3 543.5h0M1147.7 531.0h0M1147.8 537.1h0M1147.9 536.4h0M1148.1 545.3h0M1148.1 528.5h0M1148.4 534.8h0M1148.5 541.8h0M1149.0 524.5h0M1149.0 524.3h0M1149.2 527.3h0M1149.3 540.6h0M1149.4 538.4h0M1149.6 536.1h0M1149.7 526.1h0M1149.7 523.9h0M1149.9 537.6h0M1150.2 549.1h0M1150.4 529.5h0M1150.8 539.0h0M1150.9 549.5h0M1151.1 545.7h0M1151.3 547.4h0M1151.3 540.8h0M1151.3 554.5h0M1151.7 547.4h0M1152.0 549.8h0M1152.2 542.3h0M1152.3 538.6h0M1152.5 548.0h0M1152.6 533.2h0M1152.7 542.3h0M1152.8 537.4h0M1152.9 545.6h0M1152.9 549.7h0M1153.0 557.6h0M1153.0 545.3h0M1153.3 546.4h0M1153.4 540.3h0M1153.4 546.3h0M1153.4 540.8h0M1153.5 530.9h0M1153.5 536.8h0M1153.6 546.9h0M1153.6 528.8h0M1153.6 557.4h0M1153.6 530.6h0M1153.7 530.6h0M1153.7 522.8h0M1153.9 537.1h0M1154.0 539.2h0M1154.3 544.1h0M1154.4 531.3h0M1154.4 552.2h0M1154.6 551.7h0M1154.7 531.1h0M1154.9 517.0h0M1155.1 525.8h0M1155.1 533.1h0M1155.2 542.7h0M1155.3 538.9h0M1155.3 521.5h0M1155.4 526.8h0M1155.6 517.8h0M1155.8 535.7h0M1156.0 540.3h0M1156.0 533.7h0M1156.1 540.9h0M1156.2 534.1h0M1156.4 531.6h0M1156.4 533.3h0M1156.5 535.9h0M1156.5 533.3h0M1156.6 539.0h0M1156.8 522.3h0M1156.9 522.5h0M1157.0 531.8h0M1157.1 538.8h0M1157.1 541.0h0M1157.2 542.3h0M1157.2 527.4h0M1157.5 519.1h0M1157.6 527.6h0M1157.6 538.0h0M1157.6 529.4h0M1158.1 524.2h0M1158.2 526.9h0M1158.3 532.8h0M1158.8 545.0h0M1158.8 534.5h0M1158.9 552.0h0M1159.0 531.6h0M1159.1 554.6h0M1159.1 541.9h0M1159.5 541.1h0M1159.5 542.2h0M1159.9 560.9h0M1160.1 556.7h0M1160.5 560.0h0M1160.5 544.1h0M1160.6 539.3h0M1160.6 541.7h0M1160.7 552.0h0M1160.8 553.0h0M1161.2 556.4h0M1161.2 545.9h0M1161.8 547.1h0M1161.9 539.6h0M1162.0 560.9h0M1162.0 533.0h0M1162.1 545.6h0M1162.5 541.7h0M1162.5 549.8h0M1162.6 548.5h0M1162.8 542.4h0M1162.9 566.1h0M1163.0 549.2h0M1163.0 562.0h0M1163.1 532.4h0M1163.2 563.1h0M1163.3 531.1h0M1163.3 548.6h0M1163.4 516.2h0M1163.7 536.2h0M1163.7 549.3h0M1163.8 538.1h0M1164.1 549.9h0M1164.2 543.7h0M1164.8 529.9h0M1165.2 542.9h0M1165.2 539.8h0M1165.5 519.5h0M1165.7 519.6h0M1165.7 541.6h0M1165.8 559.7h0M1166.2 537.2h0M1166.4 532.1h0M1166.6 528.2h0M1166.6 533.8h0M1166.7 542.1h0M1166.8 532.0h0M1167.0 526.0h0M1167.0 527.1h0M1167.0 551.9h0M1167.1 520.4h0M1167.2 529.8h0M1167.2 546.7h0M1167.3 537.9h0M1167.3 532.1h0M1167.5 535.2h0M1167.7 552.5h0M1167.7 541.0h0M1167.8 542.8h0M1167.8 536.8h0M1167.8 550.4h0M1168.0 551.8h0M1168.4 533.0h0M1168.5 522.8h0M1168.5 536.7h0M1168.6 542.8h0M1168.7 534.8h0M1168.7 548.1h0M1168.7 528.7h0M1168.7 552.5h0M1168.8 539.4h0M1169.1 535.2h0M1169.1 528.5h0M1169.2 541.3h0M1169.2 544.3h0M1169.2 532.5h0M1169.4 549.7h0M1169.5 527.6h0M1169.8 528.7h0M1169.9 549.3h0M1169.9 537.5h0M1170.1 530.9h0M1170.1 546.3h0M1170.3 549.5h0M1170.3 536.8h0M1170.4 531.4h0M1170.4 548.2h0M1170.6 549.0h0M1170.6 537.2h0M1170.7 528.7h0M1170.8 542.7h0M1171.1 542.7h0M1171.6 537.6h0M1171.8 533.3h0M1171.9 537.8h0M1171.9 535.7h0M1172.1 538.5h0M1172.1 534.5h0M1172.1 552.1h0M1172.2 532.8h0M1172.3 544.8h0M1172.3 537.1h0M1172.9 526.3h0M1173.1 520.1h0M1173.3 521.5h0M1173.4 523.1h0M1173.6 516.2h0M1173.7 515.4h0M1173.7 523.1h0M1173.9 525.4h0M1174.0 535.2h0M1174.2 522.6h0M1174.5 519.1h0M1174.5 531.1h0M1174.5 525.3h0M1174.7 513.1h0M1174.8 528.4h0M1174.9 537.7h0M1174.9 528.1h0M1175.2 515.1h0M1175.4 510.0h0M1175.5 511.6h0M1175.6 509.2h0M1175.6 533.7h0M1175.9 521.7h0M1176.0 513.3h0M1176.1 533.3h0M1176.3 515.6h0M1176.3 536.6h0M1176.6 514.8h0M1176.7 531.6h0M1176.7 524.6h0M1176.9 515.7h0M1177.2 516.6h0M1177.4 517.4h0M1177.4 518.7h0M1177.4 518.8h0M1177.6 530.7h0M1178.0 510.8h0M1178.0 521.9h0M1178.1 509.2h0M1178.7 510.2h0M1178.7 513.4h0M1178.8 525.1h0M1178.9 498.8h0M1179.2 515.7h0M1179.3 506.6h0M1180.0 490.2h0M1180.0 507.7h0M1180.3 514.6h0M1180.4 508.7h0M1180.5 532.7h0M1180.5 516.3h0M1180.5 500.9h0M1180.8 527.3h0M1180.9 532.5h0M1181.1 504.7h0M1181.4 520.8h0M1181.4 522.7h0M1181.5 538.0h0M1181.7 493.8h0M1181.8 502.0h0M1182.0 507.6h0M1182.2 498.4h0M1182.5 518.4h0M1182.6 510.4h0M1182.6 511.2h0M1182.7 516.6h0M1182.7 513.8h0M1182.8 515.1h0M1183.0 518.8h0M1183.1 513.4h0M1183.1 503.5h0M1183.2 530.9h0M1183.6 497.0h0M1183.6 497.6h0M1183.7 521.4h0M1183.7 531.2h0M1184.0 520.1h0M1184.7 505.8h0M1185.0 521.2h0M1185.0 537.1h0M1185.0 509.5h0M1185.1 508.3h0M1185.1 515.0h0M1185.5 534.1h0M1185.6 542.0h0M1185.6 539.2h0M1185.7 507.3h0M1185.8 536.7h0M1185.8 508.5h0M1186.0 517.9h0M1186.1 543.8h0M1186.4 529.3h0M1186.5 520.9h0M1186.6 521.5h0M1186.7 526.1h0M1186.8 520.5h0M1186.9 532.0h0M1187.1 502.8h0M1187.1 510.7h0M1187.3 540.2h0M1187.5 538.9h0M1187.5 511.1h0M1187.8 525.4h0M1188.0 512.6h0M1188.1 518.5h0M1188.2 513.5h0M1188.3 535.3h0M1188.5 510.0h0M1188.6 522.5h0M1189.0 517.5h0M1189.1 536.4h0M1189.1 524.7h0M1189.2 524.7h0M1189.6 536.7h0M1190.0 510.9h0M1190.1 534.4h0M1190.1 507.5h0M1190.1 540.2h0M1190.3 536.9h0M1190.3 519.1h0M1190.5 532.1h0M1190.5 511.4h0M1191.1 510.4h0M1191.2 521.0h0M1191.3 510.4h0M1191.7 527.7h0M1191.8 514.9h0M1192.2 525.8h0M1192.3 536.1h0M1192.6 538.0h0M1192.6 509.9h0M1192.7 505.5h0M1192.7 518.5h0M1193.0 524.7h0M1193.4 533.0h0M1193.5 515.4h0M1193.6 514.9h0M1193.7 523.1h0M1193.9 508.6h0M1194.1 504.4h0M1194.1 534.9h0M1194.1 510.8h0M1194.2 523.9h0M1194.2 537.1h0M1194.4 526.5h0M1194.6 508.1h0M1195.1 514.6h0M1195.1 518.8h0M1195.2 501.6h0M1195.2 513.0h0M1195.2 517.6h0M1195.3 533.6h0M1195.3 516.7h0M1195.3 528.6h0M1195.4 513.5h0M1195.5 516.7h0M1195.5 529.9h0M1195.6 504.1h0M1195.9 523.1h0M1195.9 516.4h0M1196.0 521.5h0M1196.1 509.7h0M1196.1 518.8h0M1196.2 507.7h0M1196.3 513.0h0M1196.4 533.6h0M1196.4 524.0h0M1196.6 533.2h0M1196.7 520.4h0M1197.3 529.0h0M1197.4 533.7h0M1197.8 532.1h0M1197.9 544.8h0M1198.0 541.9h0M1198.2 517.1h0M1198.4 538.5h0M1198.4 532.4h0M1198.8 528.4h0M1198.9 523.2h0M1199.1 512.4h0M1199.4 539.4h0M1199.5 525.0h0M1199.6 547.3h0M1199.7 536.4h0M1199.8 534.3h0M1200.0 535.8h0M1200.0 544.1h0M1200.2 537.7h0M1200.9 567.1h0M1201.2 531.8h0M1201.3 557.8h0M1201.6 551.9h0M1201.7 564.7h0M1201.7 555.0h0M1201.8 552.1h0M1201.8 556.7h0M1202.1 550.5h0M1202.1 546.4h0M1202.4 557.4h0M1202.5 560.9h0M1202.7 550.0h0M1202.9 565.8h0M1202.9 540.3h0M1203.2 543.2h0M1203.3 550.1h0M1203.4 549.6h0M1203.5 536.0h0M1203.8 544.2h0M1204.0 546.5h0M1204.3 546.9h0M1204.3 546.4h0M1204.4 539.2h0M1204.5 548.4h0M1205.0 496.1h0M1205.1 485.1h0M1205.2 496.0h0M1205.2 485.9h0M1205.2 493.1h0M1205.3 497.3h0M1205.4 482.4h0M1205.4 484.5h0M1205.5 480.6h0M1205.6 489.9h0M1205.8 490.8h0M1205.9 479.8h0M1206.0 499.2h0M1206.1 496.7h0M1206.2 479.2h0M1206.2 483.4h0M1206.2 496.7h0M1206.3 494.5h0M1206.3 493.2h0M1206.3 494.1h0M1206.4 503.4h0M1206.6 495.4h0M1206.6 497.6h0M1206.6 482.2h0M1206.6 493.0h0M1206.7 489.7h0M1206.7 498.0h0M1206.8 494.1h0M1206.9 491.5h0M1207.0 481.2h0M1207.1 496.2h0M1207.1 495.0h0M1207.1 483.4h0M1207.2 483.4h0M1207.2 493.7h0M1207.3 502.3h0M1207.3 508.3h0M1207.3 488.1h0M1207.3 481.6h0M1207.5 506.0h0M1207.5 492.4h0M1207.5 480.9h0M1207.5 485.2h0M1207.6 489.1h0M1207.6 479.9h0M1207.8 492.5h0M1207.8 501.9h0M1207.8 491.5h0M1207.9 500.5h0M1207.9 490.2h0M1207.9 494.9h0M1207.9 489.4h0M1208.0 494.3h0M1208.0 506.3h0M1208.0 479.8h0M1208.1 497.8h0M1208.2 496.0h0M1208.3 484.4h0M1208.3 488.3h0M1208.3 479.5h0M1208.3 487.4h0M1208.4 492.3h0M1208.4 506.0h0M1208.4 497.9h0M1208.5 484.1h0M1208.7 500.0h0M1208.7 499.7h0M1208.8 497.2h0M1208.9 482.5h0M1209.0 495.6h0M1209.1 490.4h0M1209.2 501.5h0M1209.2 484.5h0M1209.2 504.7h0M1209.3 497.6h0M1209.5 484.4h0M1209.5 496.7h0M1209.5 493.1h0M1209.5 495.5h0M1209.7 488.8h0M1209.7 494.1h0M1209.8 491.9h0M1209.8 482.1h0M1209.8 491.6h0M1209.8 491.6h0M1209.8 497.0h0M1209.9 498.8h0M1210.0 490.6h0M1210.0 492.7h0M1210.2 506.8h0M1210.2 497.6h0M1210.2 499.5h0M1210.3 484.5h0M1210.4 494.6h0M1210.4 495.2h0M1210.4 501.6h0M1210.5 510.8h0M1210.5 493.8h0M1210.6 487.7h0M1210.6 498.6h0M1210.7 486.5h0M1210.7 483.7h0M1210.7 485.6h0M1210.8 494.1h0M1210.8 493.8h0M1210.9 501.7h0M1211.0 502.0h0M1211.1 491.7h0M1211.3 493.1h0M1211.4 479.5h0M1211.4 498.6h0M1211.4 489.7h0M1211.5 495.1h0M1211.6 480.7h0M1211.6 491.7h0M1211.6 486.7h0M1212.0 487.9h0M1212.6 521.3h0M1212.8 533.0h0M1212.8 542.0h0M1213.1 548.9h0M1213.1 537.7h0M1213.2 550.7h0M1213.2 542.1h0M1213.5 522.1h0M1213.6 538.0h0M1214.1 546.3h0M1214.2 542.1h0M1214.2 551.4h0M1214.2 542.0h0M1214.3 542.3h0M1214.4 556.6h0M1214.4 548.6h0M1214.4 543.0h0M1214.7 543.2h0M1214.7 550.5h0M1214.7 559.5h0M1214.9 554.1h0M1214.9 553.1h0M1215.1 539.7h0M1215.1 544.4h0M1215.3 553.3h0M1215.3 549.1h0M1215.4 548.8h0M1215.7 559.1h0M1215.7 553.6h0M1215.8 554.7h0M1215.8 552.1h0M1215.9 541.5h0M1215.9 568.8h0M1216.0 551.2h0M1216.1 554.7h0M1216.1 551.0h0M1216.3 553.3h0M1216.3 540.2h0M1216.5 546.1h0M1217.0 538.1h0M1217.1 548.6h0M1217.2 548.5h0M1217.7 553.7h0M1217.8 545.0h0M1218.2 547.7h0M1218.4 542.1h0M1218.5 546.8h0M1218.7 543.2h0M1219.0 548.2h0M1219.1 529.0h0M1219.7 532.1h0M1219.9 541.8h0M1220.2 548.4h0M1220.4 544.0h0M1220.5 540.8h0M1220.6 552.2h0M1220.8 536.6h0M1220.8 544.6h0M1220.9 544.9h0M1220.9 533.4h0M1221.2 537.8h0M1221.4 537.6h0M1221.4 527.3h0M1221.5 544.9h0M1221.6 543.3h0M1221.6 530.5h0M1221.6 537.7h0M1221.9 530.1h0M1222.0 529.0h0M1222.0 544.4h0M1222.2 540.9h0M1222.4 539.3h0M1222.5 535.8h0M1222.6 537.0h0M1222.7 549.0h0M1222.7 530.6h0M1223.2 527.6h0M1223.3 530.3h0M1223.4 531.0h0M1223.4 526.9h0M1223.7 528.1h0M1223.8 530.3h0M1224.1 547.0h0M1224.1 537.8h0M1224.3 529.1h0M1224.5 534.3h0M1224.6 542.0h0M1224.8 533.4h0M1224.8 523.6h0M1224.9 531.6h0M1224.9 535.8h0M1225.0 535.5h0M1225.0 537.6h0M1225.1 549.4h0M1225.2 518.4h0M1225.4 517.9h0M1225.4 520.5h0M1225.5 527.0h0M1225.6 528.8h0M1225.7 527.8h0M1225.8 519.7h0M1225.9 525.4h0M1226.3 539.5h0M1226.3 526.0h0M1226.4 517.8h0M1226.4 523.9h0M1226.5 515.4h0M1226.7 516.6h0M1227.0 522.1h0M1227.4 524.3h0M1227.5 532.8h0M1227.6 530.7h0M1227.6 536.8h0M1227.7 518.7h0M1227.8 527.8h0M1228.5 525.9h0M1228.5 529.6h0M1228.6 519.3h0M1228.6 516.1h0M1228.6 511.9h0M1228.7 523.9h0M1228.8 508.3h0M1228.9 505.0h0M1228.9 509.8h0M1229.0 502.0h0M1229.0 515.7h0M1229.1 526.8h0M1229.1 508.8h0M1229.2 519.5h0M1229.2 533.3h0M1229.5 505.5h0M1229.8 504.5h0M1229.9 510.2h0M1230.0 514.4h0M1230.1 509.8h0M1230.4 509.7h0M1230.4 504.2h0M1230.5 513.1h0M1230.8 499.3h0M1230.8 497.4h0M1230.9 525.5h0M1231.0 522.0h0M1231.0 515.5h0M1231.2 508.1h0M1231.3 505.4h0M1231.3 525.2h0M1231.4 517.7h0M1231.8 531.0h0M1231.8 533.6h0M1232.0 508.5h0M1232.0 501.4h0M1232.0 524.1h0M1232.1 497.4h0M1232.4 512.4h0M1232.6 510.8h0M1232.6 522.9h0M1232.7 528.0h0M1232.9 536.5h0M1232.9 507.8h0M1233.0 517.7h0M1233.1 514.5h0M1233.2 528.1h0M1233.3 521.6h0M1233.3 533.0h0M1233.4 529.5h0M1233.6 523.2h0M1234.2 512.5h0M1234.2 525.7h0M1234.3 504.1h0M1234.6 496.4h0M1234.8 525.6h0M1234.9 529.7h0M1235.0 529.9h0M1235.1 493.6h0M1235.3 501.0h0M1235.4 494.1h0M1235.4 516.2h0M1235.7 507.6h0M1235.8 508.1h0M1235.8 497.5h0M1235.9 516.1h0M1236.8 507.6h0M1236.8 494.8h0M1236.9 521.1h0M1237.0 508.1h0M1237.5 521.9h0M1237.5 526.2h0M1237.5 498.9h0M1237.6 530.7h0M1237.7 496.2h0M1237.8 496.3h0M1237.8 517.0h0M1237.9 507.2h0M1238.0 496.0h0M1238.1 517.0h0M1238.3 525.1h0M1238.5 501.9h0M1238.5 511.7h0M1238.5 499.7h0M1238.7 498.6h0M1238.8 509.9h0M1238.8 498.8h0M1238.9 493.0h0M1239.5 502.1h0M1239.5 528.4h0M1239.6 514.5h0M1239.8 524.1h0M1239.8 515.8h0M1240.2 533.9h0M1240.3 519.0h0M1240.3 503.7h0M1240.3 533.1h0M1240.4 523.9h0M1240.4 513.6h0M1240.5 526.1h0M1240.5 528.2h0M1240.6 536.2h0M1241.0 518.7h0M1241.1 536.4h0M1241.2 525.9h0M1241.3 511.3h0M1241.3 516.0h0M1241.6 515.5h0M1241.7 515.6h0M1241.7 522.1h0M1241.8 525.6h0M1241.8 521.9h0M1241.8 531.8h0M1242.0 524.6h0M1242.1 528.1h0M1242.4 510.2h0M1242.4 528.0h0M1242.5 511.8h0M1242.5 516.2h0M1242.6 511.7h0M1242.9 521.2h0M1243.1 532.8h0M1243.2 516.7h0M1243.3 506.6h0M1243.5 518.6h0M1243.8 531.4h0M1244.1 530.3h0M1244.2 520.5h0M1244.2 506.6h0M1244.3 520.6h0M1244.6 517.7h0M1244.7 522.0h0M1244.8 520.9h0M1244.9 533.7h0M1245.0 524.1h0M1245.2 515.2h0M1245.2 513.7h0M1245.2 530.4h0M1245.3 512.3h0M1245.3 527.6h0M1245.3 529.1h0M1245.6 538.2h0M1245.6 521.3h0M1245.8 521.6h0M1245.9 509.5h0M1246.1 530.4h0M1246.2 510.3h0M1246.5 527.5h0M1246.6 529.9h0M1246.6 520.5h0M1247.0 536.3h0M1247.0 523.8h0M1247.2 528.8h0M1247.4 517.4h0M1247.5 533.5h0M1247.6 545.1h0M1247.6 534.2h0M1247.7 530.3h0M1248.0 538.8h0M1248.0 539.1h0M1248.1 521.5h0M1248.2 528.2h0M1248.3 532.8h0M1248.4 550.1h0M1248.4 537.1h0M1248.4 534.6h0M1248.6 533.1h0M1248.7 531.2h0M1248.8 548.3h0M1248.8 546.6h0M1249.0 555.5h0M1249.2 548.0h0M1249.2 530.1h0M1249.3 547.5h0M1249.6 555.8h0M1249.9 553.4h0M1250.1 529.3h0M1250.3 543.3h0M1250.7 559.6h0M1250.9 558.5h0M1250.9 539.2h0M1251.0 548.5h0M1251.1 553.1h0M1251.2 550.5h0M1251.2 559.0h0M1251.3 564.2h0M1251.4 542.9h0M1251.7 547.7h0M1251.8 547.5h0M1251.9 551.1h0M1251.9 546.1h0M1252.0 561.3h0M1252.1 553.6h0M1252.1 553.8h0M1252.4 553.2h0M1252.4 559.7h0M1253.2 544.8h0M1253.3 556.9h0M1253.4 551.1h0M1253.5 537.0h0M1253.6 564.6h0M1253.9 542.3h0M1254.0 542.8h0M1254.0 539.8h0M1254.1 515.8h0M1254.5 542.7h0M1254.6 522.6h0M1254.7 525.4h0M1254.8 525.2h0M1255.0 528.1h0M1255.1 511.9h0M1255.2 543.2h0M1255.4 529.0h0M1255.4 508.9h0M1255.5 526.1h0M1255.5 524.3h0M1255.6 519.6h0M1255.7 530.5h0M1256.2 543.5h0M1256.2 532.0h0M1256.2 531.4h0M1256.6 529.6h0M1256.6 501.0h0M1256.7 529.9h0M1256.7 505.4h0M1256.7 515.8h0M1256.8 538.7h0M1257.3 544.0h0M1257.4 523.7h0M1257.5 531.6h0M1257.6 536.9h0M1257.9 537.8h0M1258.0 528.6h0M1258.3 532.4h0M1258.4 527.5h0M1258.4 512.1h0M1258.8 532.4h0M1258.9 517.8h0M1258.9 515.9h0M1259.1 522.1h0M1259.3 518.0h0M1259.3 518.4h0M1259.5 538.5h0M1259.5 538.0h0M1259.7 525.6h0M1259.7 526.1h0M1260.0 517.4h0M1260.1 523.6h0M1260.1 531.0h0M1260.1 525.5h0M1260.2 536.9h0M1260.2 534.3h0M1260.3 525.1h0M1260.3 530.8h0M1261.0 534.2h0M1261.1 537.2h0M1261.2 535.2h0M1261.4 530.5h0M1261.4 517.1h0M1261.5 527.8h0M1261.5 530.9h0M1261.6 530.5h0M1261.6 522.6h0M1261.7 521.2h0M1262.1 519.7h0M1262.1 538.0h0M1262.1 517.9h0M1262.2 537.8h0M1262.3 516.2h0M1262.3 543.0h0M1262.5 521.0h0M1262.5 523.4h0M1263.0 531.1h0M1263.1 531.8h0M1263.2 533.4h0M1263.3 548.2h0M1263.4 549.3h0M1263.4 531.6h0M1263.4 540.4h0M1263.7 527.7h0M1263.9 532.9h0M1264.2 557.9h0M1264.2 540.4h0M1264.4 545.7h0M1264.4 530.7h0M1264.4 553.9h0M1264.5 542.6h0M1264.6 550.9h0M1264.6 531.3h0M1264.7 544.7h0M1264.7 542.7h0M1265.0 540.4h0M1265.1 545.4h0M1265.3 549.4h0M1265.4 548.8h0M1265.5 540.5h0M1265.6 537.4h0M1265.9 537.8h0M1266.0 551.1h0M1266.1 530.5h0M1266.4 544.5h0M1266.4 546.9h0M1266.5 549.1h0M1266.5 547.5h0M1266.5 544.2h0M1266.7 525.7h0M1266.7 540.4h0M1266.9 555.8h0M1267.0 556.0h0M1267.1 544.7h0M1267.3 559.0h0M1267.5 539.9h0M1267.6 551.3h0M1267.7 552.2h0M1267.9 557.6h0M1267.9 547.8h0M1268.0 560.6h0M1268.1 543.7h0M1268.2 551.9h0M1268.2 556.3h0M1268.4 543.9h0M1268.6 557.7h0M1269.2 549.8h0M1269.2 547.2h0M1269.3 550.6h0M1269.3 540.0h0M1269.4 559.5h0M1269.5 552.4h0M1269.6 537.5h0M1269.8 539.9h0M1269.8 536.2h0M1270.1 538.1h0M1270.2 533.7h0M1270.3 530.3h0M1270.3 552.1h0M1270.3 538.3h0M1270.4 536.6h0M1270.4 545.4h0M1270.7 539.2h0M1270.8 542.6h0M1270.8 527.0h0M1270.9 529.4h0M1270.9 532.4h0M1271.0 544.3h0M1271.1 541.6h0M1271.2 537.1h0M1271.2 527.2h0M1271.4 533.8h0M1271.5 532.4h0M1271.5 527.9h0M1271.5 521.9h0M1271.6 524.1h0M1271.6 525.8h0M1271.6 525.5h0M1271.9 540.2h0M1272.1 525.7h0M1272.2 523.7h0M1272.8 528.8h0M1273.1 537.0h0M1273.1 533.2h0M1273.2 514.4h0M1273.3 513.9h0M1273.3 531.4h0M1273.4 534.3h0M1273.8 514.3h0M1273.9 528.7h0M1274.3 526.0h0M1274.3 523.4h0M1274.4 512.9h0M1274.5 524.9h0M1274.6 513.5h0M1274.6 508.3h0M1274.7 530.7h0M1274.8 506.8h0M1274.9 504.9h0M1275.1 508.6h0M1275.3 506.6h0M1275.4 512.3h0M1275.7 519.4h0M1275.8 514.0h0M1275.8 517.1h0M1275.9 511.7h0M1275.9 514.2h0M1276.2 514.3h0M1276.2 524.2h0M1276.2 513.5h0M1276.2 515.8h0M1276.3 517.0h0M1276.3 531.3h0M1276.4 528.1h0M1276.4 519.3h0M1276.5 507.4h0M1276.6 509.2h0M1276.8 503.5h0M1276.9 517.2h0M1277.0 513.1h0M1277.4 514.1h0M1277.5 527.3h0M1277.7 529.2h0M1278.2 505.7h0M1278.5 520.9h0M1278.5 526.0h0M1278.5 523.9h0M1278.7 528.6h0M1278.7 508.0h0M1278.8 524.4h0M1278.8 524.5h0M1278.9 519.3h0M1278.9 511.2h0M1279.1 520.5h0M1279.2 524.3h0M1279.2 523.7h0M1279.2 519.3h0M1279.6 515.4h0M1279.6 523.6h0M1279.6 518.8h0M1279.6 517.5h0M1280.2 514.7h0M1280.3 510.1h0M1280.4 497.3h0M1280.6 523.0h0M1280.9 524.0h0M1281.1 484.8h0M1281.4 519.3h0M1281.6 502.2h0M1281.8 522.7h0M1281.9 524.0h0M1282.0 509.5h0M1282.1 516.9h0M1282.1 508.5h0M1282.3 507.3h0M1282.6 493.9h0M1282.8 515.6h0M1282.9 520.9h0M1282.9 511.2h0M1283.0 496.0h0M1283.0 506.0h0M1283.1 508.0h0M1283.1 493.3h0M1283.2 515.6h0M1283.4 523.4h0M1283.4 516.5h0M1283.4 510.5h0M1283.6 525.0h0M1283.7 505.0h0M1283.7 513.1h0M1283.8 501.5h0M1283.9 505.1h0M1284.2 507.5h0M1284.3 491.0h0M1284.5 516.6h0M1284.5 509.7h0M1284.7 497.7h0M1284.7 515.1h0M1284.9 503.1h0M1285.0 513.1h0M1285.3 518.2h0M1285.3 517.9h0M1285.4 523.9h0M1285.5 513.4h0M1285.5 523.9h0M1285.6 506.4h0M1285.7 518.1h0M1285.7 521.8h0M1285.7 520.6h0M1286.1 505.4h0M1286.2 516.0h0M1286.3 504.8h0M1286.3 526.9h0M1286.3 515.9h0M1286.6 528.6h0M1286.8 501.2h0M1286.9 509.4h0M1287.0 517.2h0M1287.0 508.8h0M1287.0 523.8h0M1287.5 511.3h0M1287.5 510.0h0M1287.8 505.9h0M1287.8 527.4h0M1287.9 510.0h0M1287.9 507.7h0M1287.9 513.1h0M1288.0 513.9h0M1288.4 529.6h0M1288.4 501.9h0M1288.7 514.5h0M1288.8 523.0h0M1288.9 502.7h0M1289.3 531.5h0M1289.3 523.5h0M1289.4 513.3h0M1289.4 525.7h0M1289.4 516.7h0M1289.7 526.4h0M1289.7 516.5h0M1289.8 515.2h0M1289.9 511.8h0M1290.1 526.1h0M1290.2 504.0h0M1290.2 521.0h0M1290.7 506.5h0M1290.8 526.9h0M1290.9 533.0h0M1291.0 524.8h0M1291.1 531.1h0M1291.4 519.6h0M1291.5 514.2h0M1291.9 529.0h0M1292.1 519.8h0M1292.1 527.4h0M1292.3 521.1h0M1292.3 511.4h0M1292.6 531.5h0M1292.8 526.9h0M1293.0 511.8h0M1293.0 518.3h0M1293.0 520.5h0M1293.1 531.2h0M1293.1 524.1h0M1293.3 543.1h0M1293.4 525.5h0M1293.4 533.2h0M1293.6 537.8h0M1293.7 542.2h0M1293.8 539.9h0M1293.9 532.1h0M1294.0 534.9h0M1294.0 538.8h0M1294.2 536.9h0M1294.5 526.9h0M1294.7 541.2h0M1294.7 528.0h0M1294.8 529.8h0M1295.1 531.4h0M1295.1 534.5h0M1295.5 536.9h0M1295.5 542.5h0M1295.5 541.1h0M1295.6 535.1h0M1295.6 532.4h0M1295.7 545.4h0M1295.8 532.2h0M1296.2 534.8h0M1296.2 545.0h0M1296.2 529.9h0M1296.3 533.9h0M1296.4 543.4h0M1297.0 531.0h0M1297.1 541.6h0M1297.1 515.7h0M1297.6 547.2h0M1297.8 538.2h0M1297.9 526.7h0M1298.2 529.7h0M1298.3 522.1h0M1298.6 536.7h0M1298.7 548.0h0M1298.7 534.6h0M1299.2 537.7h0M1299.7 532.5h0M1299.8 530.2h0M1299.9 524.0h0M1300.1 543.8h0M1300.1 539.9h0M1300.2 523.9h0M1300.5 540.7h0M1301.0 543.2h0M1301.0 550.0h0M1301.5 536.3h0M1301.7 546.2h0M1301.7 547.6h0M1301.8 556.9h0M1301.9 553.3h0M1301.9 554.7h0M1302.0 555.0h0M1302.3 545.0h0M1302.6 552.0h0M1302.7 544.9h0M1302.9 548.4h0M1303.0 557.9h0M1303.0 552.2h0M1303.3 559.9h0" stroke="#000" stroke-width="4.0" stroke-linecap="round" fill="none"/>
<rect x="162.5" y="453.0" width="5.1" height="16.5" fill="#ffa500" fill-opacity="0.1"/>
<rect x="166.5" y="467.0" width="95.7" height="17.0" fill="#ffa500" fill-opacity="0.1"/>
<rect x="262.2" y="459.0" width="22.8" height="20.4" fill="#ffa500" fill-opacity="0.1"/>
<rect x="285.0" y="512.0" width="1018.2" height="35.4" fill="#ffa500" fill-opacity="0.1"/>
<path d="M162.4 461.6H167.6" stroke="#ffa500" stroke-width="2.78" fill="none" stroke-linecap="square"/>
<path d="M167.5 475.5H261.2" stroke="#ffa500" stroke-width="2.9" fill="none" stroke-linecap="square"/>
<path d="M263.2 469.0H284.0" stroke="#ffa500" stroke-width="2.78" fill="none" stroke-linecap="square"/>
<path d="M286.0 529.4H1303.2" stroke="#ffa500" stroke-width="2.78" fill="none" stroke-linecap="square"/>
<rect x="105.5" y="499.0" width="1255.1" height="48.4" fill="#ff0000" fill-opacity="0.1"/>
<path d="M105.5 523H1360.6" stroke="#f00" stroke-width="2.08" fill="none"/>
<path d="M162.0 666.5V380.5" stroke="#800080" stroke-width="2.08" stroke-dasharray="2.08 3.44" fill="none"/><path d="M167.0 666.5V380.5" stroke="#800080" stroke-width="2.08" stroke-dasharray="2.08 3.44" fill="none"/><path d="M262.0 666.5V380.5" stroke="#800080" stroke-width="2.08" stroke-dasharray="2.08 3.44" fill="none"/><path d="M285.0 666.5V380.5" stroke="#800080" stroke-width="2.08" stroke-dasharray="2.08 3.44" fill="none"/><path d="M1303.0 666.5V380.5" stroke="#800080" stroke-width="2.08" stroke-dasharray="2.08 3.44" fill="none"/>
</g>
<text x="165.4" y="657.0" text-anchor="middle">57919</text>
<text x="214.4" y="637.0" text-anchor="middle">57235</text>
<text x="273.3" y="617.0" text-anchor="middle">55593</text>
<text x="794.2" y="657.0" text-anchor="middle">20566</text>
<rect x="105.5" y="380.5" width="1380.0" height="286.0" fill="none" stroke="#000" stroke-width="1.1"/>
<path d="M162.5 666.5v5.2" stroke="#000" stroke-width="1.1"/><text x="162.15" y="686.8" text-anchor="middle">0</text><path d="M365.5 666.5v5.2" stroke="#000" stroke-width="1.1"/><text x="365.35" y="686.8" text-anchor="middle">2000</text><path d="M568.5 666.5v5.2" stroke="#000" stroke-width="1.1"/><text x="568.55" y="686.8" text-anchor="middle">4000</text><path d="M772.5 666.5v5.2" stroke="#000" stroke-width="1.1"/><text x="771.76" y="686.8" text-anchor="middle">6000</text><path d="M975.5 666.5v5.2" stroke="#000" stroke-width="1.1"/><text x="974.96" y="686.8" text-anchor="middle">8000</text><path d="M1178.5 666.5v5.2" stroke="#000" stroke-width="1.1"/><text x="1178.16" y="686.8" text-anchor="middle">10000</text><path d="M1381.5 666.5v5.2" stroke="#000" stroke-width="1.1"/><text x="1381.36" y="686.8" text-anchor="middle">12000</text>
<path d="M105.5 648.5h-5.2" stroke="#000" stroke-width="1.1"/><text x="95.8" y="653.5" text-anchor="end">9.35</text><path d="M105.5 611.5h-5.2" stroke="#000" stroke-width="1.1"/><text x="95.8" y="616.4" text-anchor="end">9.40</text><path d="M105.5 574.5h-5.2" stroke="#000" stroke-width="1.1"/><text x="95.8" y="579.3" text-anchor="end">9.45</text><path d="M105.5 537.5h-5.2" stroke="#000" stroke-width="1.1"/><text x="95.8" y="542.2" text-anchor="end">9.50</text><path d="M105.5 500.5h-5.2" stroke="#000" stroke-width="1.1"/><text x="95.8" y="505.1" text-anchor="end">9.55</text><path d="M105.5 463.5h-5.2" stroke="#000" stroke-width="1.1"/><text x="95.8" y="468.0" text-anchor="end">9.60</text><path d="M105.5 425.5h-5.2" stroke="#000" stroke-width="1.1"/><text x="95.8" y="430.9" text-anchor="end">9.65</text><path d="M105.5 388.5h-5.2" stroke="#000" stroke-width="1.1"/><text x="95.8" y="393.8" text-anchor="end">9.70</text>
<text x="795.5" y="372" text-anchor="middle" font-size="16.67px">Magnitude Estimates</text>
<rect x="1365.3" y="387.3" width="113.4" height="48.3" rx="2.8" ry="2.8" fill="#fff" fill-opacity="0.8" stroke="#ccc" stroke-opacity="0.8" stroke-width="1.39"/>
<path d="M1369.2 399.4H1399.8" stroke="#ffa500" stroke-width="2.78"/>
<path d="M1369.2 421.9H1399.8" stroke="#f00" stroke-width="2.08"/>
<text x="1409.8" y="403.8">mag<tspan font-size="9.72px" font-style="italic" dy="2.4">OBSID</tspan></text>
<text x="1409.0" y="426.7">mag</text>
<rect x="1348.2" y="613.3" width="130.5" height="45.9" rx="2.8" ry="2.8" fill="#fff" fill-opacity="0.8" stroke="#ccc" stroke-opacity="0.8" stroke-width="1.39"/>
<circle cx="1367.5" cy="626.3" r="2.08" fill="#ffa500"/>
<circle cx="1367.5" cy="647.3" r="2.08" fill="#000"/>
<text x="1393.0" y="630.2">Highlighted</text>
<text x="1393.0" y="651.2">OK</text>
<g clip-path="url(#c3a)">
<path d="M105.5 921.5H1485.5" stroke="#b0b0b0" stroke-width="1.1" stroke-dasharray="1.1 1.82" fill="none"/>
<path d="M105.5 889.5H1485.5" stroke="#b0b0b0" stroke-width="1.1" stroke-dasharray="1.1 1.82" fill="none"/>
<path d="M105.5 856.5H1485.5" stroke="#b0b0b0" stroke-width="1.1" stroke-dasharray="1.1 1.82" fill="none"/>
<path d="M105.5 823.5H1485.5" stroke="#b0b0b0" stroke-width="1.1" stroke-dasharray="1.1 1.82" fill="none"/>
<path d="M105.5 791.5H1485.5" stroke="#b0b0b0" stroke-width="1.1" stroke-dasharray="1.1 1.82" fill="none"/>
<path d="M105.5 758.5H1485.5" stroke="#b0b0b0" stroke-width="1.1" stroke-dasharray="1.1 1.82" fill="none"/>
<g fill="#999" stroke="#111" stroke-width="1"><circle cx="209.3" cy="856.5" r="1"/><circle cx="246.0" cy="856.5" r="1"/><circle cx="269.0" cy="856.5" r="1"/><circle cx="273.0" cy="856.5" r="1"/><circle cx="299.3" cy="856.5" r="1"/><circle cx="300.7" cy="856.5" r="1"/><circle cx="312.7" cy="856.5" r="1"/><circle cx="314.0" cy="856.5" r="1"/><circle cx="317.3" cy="856.5" r="1"/><circle cx="398.0" cy="856.5" r="1"/><circle cx="400.0" cy="856.5" r="1"/><circle cx="402.0" cy="856.5" r="1"/><circle cx="414.0" cy="856.5" r="1"/><circle cx="422.3" cy="856.5" r="1"/><circle cx="436.0" cy="856.5" r="1"/><circle cx="438.0" cy="856.5" r="1"/><circle cx="440.0" cy="856.5" r="1"/><circle cx="475.0" cy="856.5" r="1"/><circle cx="501.7" cy="856.5" r="1"/><circle cx="508.3" cy="856.5" r="1"/><circle cx="510.3" cy="856.5" r="1"/><circle cx="512.3" cy="856.5" r="1"/><circle cx="521.3" cy="856.5" r="1"/><circle cx="536.7" cy="856.5" r="1"/><circle cx="545.7" cy="856.5" r="1"/><circle cx="547.7" cy="856.5" r="1"/><circle cx="549.3" cy="856.5" r="1"/><circle cx="562.7" cy="856.5" r="1"/><circle cx="573.3" cy="856.5" r="1"/><circle cx="576.0" cy="856.5" r="1"/><circle cx="580.3" cy="856.5" r="1"/><circle cx="611.7" cy="856.5" r="1"/><circle cx="613.7" cy="856.5" r="1"/><circle cx="615.7" cy="856.5" r="1"/><circle cx="620.3" cy="856.5" r="1"/><circle cx="648.0" cy="856.5" r="1"/><circle cx="650.0" cy="856.5" r="1"/><circle cx="656.7" cy="856.5" r="1"/><circle cx="658.3" cy="856.5" r="1"/><circle cx="664.3" cy="856.5" r="1"/><circle cx="667.0" cy="856.5" r="1"/><circle cx="770.0" cy="856.5" r="1"/><circle cx="868.3" cy="856.5" r="1"/><circle cx="912.3" cy="856.5" r="1"/><circle cx="973.3" cy="856.5" r="1"/><circle cx="1009.2" cy="856.5" r="1"/><circle cx="1014.4" cy="856.5" r="1"/><circle cx="1016.2" cy="856.5" r="1"/><circle cx="1116.5" cy="856.5" r="1"/><circle cx="1159.3" cy="856.5" r="1"/><circle cx="1206.3" cy="856.5" r="1"/><circle cx="1264.3" cy="856.5" r="1"/></g>
<g fill="#999" stroke="#111" stroke-width="1"><circle cx="209.3" cy="889.5" r="1"/><circle cx="246.0" cy="889.5" r="1"/><circle cx="269.0" cy="889.5" r="1"/><circle cx="273.0" cy="889.5" r="1"/><circle cx="299.3" cy="889.5" r="1"/><circle cx="300.7" cy="889.5" r="1"/><circle cx="312.7" cy="889.5" r="1"/><circle cx="314.0" cy="889.5" r="1"/><circle cx="317.3" cy="889.5" r="1"/><circle cx="398.0" cy="889.5" r="1"/><circle cx="400.0" cy="889.5" r="1"/><circle cx="402.0" cy="889.5" r="1"/><circle cx="414.0" cy="889.5" r="1"/><circle cx="422.3" cy="889.5" r="1"/><circle cx="436.0" cy="889.5" r="1"/><circle cx="438.0" cy="889.5" r="1"/><circle cx="440.0" cy="889.5" r="1"/><circle cx="475.0" cy="889.5" r="1"/><circle cx="501.7" cy="889.5" r="1"/><circle cx="508.3" cy="889.5" r="1"/><circle cx="510.3" cy="889.5" r="1"/><circle cx="512.3" cy="889.5" r="1"/><circle cx="521.3" cy="889.5" r="1"/><circle cx="536.7" cy="889.5" r="1"/><circle cx="545.7" cy="889.5" r="1"/><circle cx="547.7" cy="889.5" r="1"/><circle cx="549.3" cy="889.5" r="1"/><circle cx="562.7" cy="889.5" r="1"/><circle cx="573.3" cy="889.5" r="1"/><circle cx="576.0" cy="889.5" r="1"/><circle cx="580.3" cy="889.5" r="1"/><circle cx="611.7" cy="889.5" r="1"/><circle cx="613.7" cy="889.5" r="1"/><circle cx="615.7" cy="889.5" r="1"/><circle cx="620.3" cy="889.5" r="1"/><circle cx="648.0" cy="889.5" r="1"/><circle cx="650.0" cy="889.5" r="1"/><circle cx="656.7" cy="889.5" r="1"/><circle cx="658.3" cy="889.5" r="1"/><circle cx="664.3" cy="889.5" r="1"/><circle cx="667.0" cy="889.5" r="1"/><circle cx="770.0" cy="889.5" r="1"/><circle cx="868.3" cy="889.5" r="1"/><circle cx="912.3" cy="889.5" r="1"/><circle cx="973.3" cy="889.5" r="1"/><circle cx="1009.2" cy="889.5" r="1"/><circle cx="1014.4" cy="889.5" r="1"/><circle cx="1016.2" cy="889.5" r="1"/><circle cx="1116.5" cy="889.5" r="1"/><circle cx="1159.3" cy="889.5" r="1"/><circle cx="1206.3" cy="889.5" r="1"/><circle cx="1264.3" cy="889.5" r="1"/></g>
<path d="M162.0 954.5V725.5" stroke="#800080" stroke-width="2.08" stroke-dasharray="2.08 3.44" fill="none"/><path d="M167.0 954.5V725.5" stroke="#800080" stroke-width="2.08" stroke-dasharray="2.08 3.44" fill="none"/><path d="M262.0 954.5V725.5" stroke="#800080" stroke-width="2.08" stroke-dasharray="2.08 3.44" fill="none"/><path d="M285.0 954.5V725.5" stroke="#800080" stroke-width="2.08" stroke-dasharray="2.08 3.44" fill="none"/><path d="M1303.0 954.5V725.5" stroke="#800080" stroke-width="2.08" stroke-dasharray="2.08 3.44" fill="none"/>
</g>
<g clip-path="url(#c3b)">
<path d="M105.5 957.5H1485.5" stroke="#b0b0b0" stroke-width="1.1" stroke-dasharray="1.1 1.82" fill="none"/>
<path d="M105.5 983.5H1485.5" stroke="#b0b0b0" stroke-width="1.1" stroke-dasharray="1.1 1.82" fill="none"/>
<path d="M105.5 1009.5H1485.5" stroke="#b0b0b0" stroke-width="1.1" stroke-dasharray="1.1 1.82" fill="none"/>
<path d="M162.0 1011.5V954.5" stroke="#800080" stroke-width="2.08" stroke-dasharray="2.08 3.44" fill="none"/><path d="M167.0 1011.5V954.5" stroke="#800080" stroke-width="2.08" stroke-dasharray="2.08 3.44" fill="none"/><path d="M262.0 1011.5V954.5" stroke="#800080" stroke-width="2.08" stroke-dasharray="2.08 3.44" fill="none"/><path d="M285.0 1011.5V954.5" stroke="#800080" stroke-width="2.08" stroke-dasharray="2.08 3.44" fill="none"/><path d="M1303.0 1011.5V954.5" stroke="#800080" stroke-width="2.08" stroke-dasharray="2.08 3.44" fill="none"/>
<path d="M162 1007.4 163 1006.6 164 1006.2 165 1006.4 166 1007.6 167 1007.7 168 1007.5 169 1007.5 170 1007.4 171 1006.2 172 1006.1 173 1005.4 174 1005.4 175 1006.7 176 1006.8 177 1006.6 178 1007.2 179 1007.4 180 1007.7 181 1007.6 182 1007.4 183 1007.2 184 1006.8 185 1006.6 186 1007.4 187 1007.5 188 1007.4 189 1006.3 190 1005.5 191 1005.7 192 1005.6 193 1005.6 194 1006.5 195 1007.0 196 1006.6 197 1007.2 198 1007.1 199 1007.1 200 1006.3 201 1004.9 202 1005.6 203 1006.4 204 1005.9 205 1006.5 206 1006.6 207 1006.4 208 1006.6 209 1007.0 210 1006.1 211 1006.6 212 1006.4 213 1006.5 214 1006.2 215 1006.5 216 1007.2 217 1007.2 218 1007.8 219 1007.4 220 1007.0 221 1008.0 222 1007.5 223 1007.6 224 1007.4 225 1007.5 226 1007.7 227 1007.7 228 1007.4 229 1007.6 230 1007.9 231 1006.8 232 1006.0 233 1007.5 234 1008.3 235 1007.8 236 1006.5 237 1006.8 238 1007.2 239 1006.4 240 1006.1 241 1006.9 242 1007.4 243 1006.9 244 1006.1 245 1006.0 246 1006.7 247 1006.9 248 1006.3 249 1005.0 250 1003.8 251 1004.4 252 1006.2 253 1006.6 254 1006.5 255 1006.3 256 1006.7 257 1007.5 258 1007.3 259 1007.3 260 1007.1 261 1007.1 262 1007.1 263 1006.7 264 1007.1 265 1007.6 266 1007.9 267 1007.6 268 1007.6 269 1007.7 270 1007.8 271 1007.7 272 1007.8 273 1007.7 274 1007.3 275 1006.0 276 1006.8 277 1007.2 278 1006.0 279 1006.4 280 1006.1 281 1005.8 282 1006.8 283 1006.7 284 1007.3 285 1006.8 286 1006.6 287 1006.7 288 1007.0 289 1007.4 290 1007.3 291 1008.1 292 1006.8 293 1006.8 294 1006.8 295 1006.5 296 1006.1 297 1008.4 298 1007.1 299 1007.5 300 1007.1 301 1005.6 302 1006.4 303 1006.4 304 1006.7 305 1006.3 306 1007.8 307 1007.3 308 1006.2 309 1006.1 310 1006.2 311 1006.5 312 1006.3 313 1008.1 314 1006.2 315 1006.7 316 1008.4 317 1006.2 318 1006.3 319 1005.7 320 1006.6 321 1006.4 322 1006.9 323 1006.7 324 1006.1 325 1006.3 326 1006.1 327 1006.4 328 1006.4 329 1005.8 330 1005.8 331 1005.0 332 1006.5 333 1007.2 334 1008.5 335 1008.1 336 1006.8 337 1007.6 338 1007.8 339 1006.9 340 1006.6 341 1006.8 342 1006.5 343 1006.7 344 1006.8 345 1006.9 346 1006.4 347 1007.1 348 1007.4 349 1006.9 350 1006.1 351 1007.8 352 1007.0 353 1006.6 354 1006.1 355 1005.5 356 1006.8 357 1006.7 358 1006.6 359 1007.3 360 1007.8 361 1006.5 362 1005.5 363 1007.1 364 1006.5 365 1005.9 366 1004.9 367 1004.0 368 1003.5 369 1005.6 370 1008.1 371 1006.7 372 1006.1 373 1007.3 374 1006.7 375 1006.4 376 1006.2 377 1006.7 378 1005.0 379 1002.4 380 1001.5 381 1003.3 382 1006.6 383 1006.8 384 1005.2 385 1006.1 386 1007.0 387 1006.7 388 1007.5 389 1006.6 390 1005.1 391 1004.8 392 1006.4 393 1007.0 394 1006.8 395 1005.8 396 1007.1 397 1006.8 398 1007.1 399 1008.0 400 1006.5 401 1004.7 402 1004.9 403 1006.2 404 1008.6 405 1007.4 406 1006.0 407 1006.8 408 1005.7 409 1003.8 410 1005.9 411 1007.3 412 1005.2 413 1004.4 414 1005.0 415 1005.3 416 1005.6 417 1006.0 418 1004.4 419 1004.6 420 1004.4 421 1004.7 422 1005.7 423 1005.7 424 1006.2 425 1006.6 426 1006.2 427 1005.3 428 1006.0 429 1006.9 430 1007.2 431 1007.2 432 1007.0 433 1007.0 434 1007.9 435 1007.8 436 1007.3 437 1008.1 438 1007.1 439 1006.6 440 1006.5 441 1006.7 442 1006.7 443 1006.9 444 1007.6 445 1008.6 446 1008.6 447 1008.6 448 1007.8 449 1008.2 450 1008.6 451 1008.6 452 1008.6 453 1007.8 454 1007.5 455 1007.5 456 1007.2 457 1005.7 458 1005.8 459 1007.0 460 1006.7 461 1006.8 462 1007.1 463 1007.2 464 1006.6 465 1006.3 466 1006.4 467 1005.1 468 1005.2 469 1005.1 470 1005.2 471 1007.4 472 1007.6 473 1006.9 474 1006.9 475 1007.2 476 1006.7 477 1006.8 478 1008.6 479 1007.9 480 1005.1 481 1006.7 482 1005.0 483 1006.3 484 1006.4 485 1006.3 486 1005.5 487 1005.4 488 1005.9 489 1006.7 490 1006.3 491 1005.7 492 1004.8 493 1005.7 494 1008.6 495 1008.4 496 1007.0 497 1007.6 498 1006.3 499 1007.1 500 1007.3 501 1008.6 502 1007.2 503 1006.4 504 1005.6 505 1006.6 506 1006.4 507 1005.5 508 1005.8 509 1005.1 510 1005.8 511 1007.4 512 1007.4 513 1006.1 514 1006.2 515 1006.2 516 1005.9 517 1006.6 518 1007.9 519 1007.3 520 1004.7 521 1005.2 522 1005.6 523 1005.6 524 1006.1 525 1006.5 526 1006.6 527 1006.7 528 1005.6 529 1006.1 530 1006.3 531 1006.1 532 1007.1 533 1008.1 534 1007.0 535 1005.8 536 1005.1 537 1005.3 538 1006.7 539 1007.5 540 1007.0 541 1006.0 542 1007.2 543 1008.1 544 1008.4 545 1007.4 546 1005.6 547 1005.0 548 1006.4 549 1007.2 550 1006.3 551 1006.1 552 1006.4 553 1005.7 554 1006.3 555 1006.7 556 1006.1 557 1005.5 558 1007.3 559 1008.2 560 1006.6 561 1006.9 562 1006.3 563 1006.4 564 1007.3 565 1006.5 566 1005.1 567 1004.6 568 1005.4 569 1004.6 570 1005.6 571 1007.1 572 1007.3 573 1007.2 574 1007.2 575 1007.1 576 1005.4 577 1005.7 578 1005.8 579 1006.6 580 1007.0 581 1005.8 582 1006.5 583 1006.5 584 1006.8 585 1007.0 586 1005.9 587 1006.4 588 1006.2 589 1005.8 590 1007.8 591 1008.2 592 1007.2 593 1006.6 594 1006.3 595 1006.3 596 1005.2 597 1005.8 598 1007.7 599 1006.7 600 1004.3 601 1003.7 602 1005.9 603 1006.0 604 1005.0 605 1005.3 606 1004.3 607 1004.8 608 1004.9 609 1007.0 610 1007.8 611 1006.7 612 1006.4 613 1007.8 614 1007.6 615 1007.8 616 1007.4 617 1006.3 618 1005.6 619 1006.9 620 1008.1 621 1007.3 622 1006.2 623 1007.0 624 1005.4 625 1006.2 626 1008.3 627 1008.6 628 1008.0 629 1006.2 630 1008.1 631 1008.1 632 1007.5 633 1006.4 634 1006.9 635 1007.3 636 1007.3 637 1006.2 638 1007.9 639 1006.7 640 1005.3 641 1006.2 642 1007.8 643 1006.3 644 1006.0 645 1007.3 646 1007.6 647 1006.5 648 1006.2 649 1006.0 650 1007.5 651 1007.1 652 1007.8 653 1007.2 654 1008.4 655 1007.9 656 1008.6 657 1007.5 658 1008.6 659 1007.7 660 1006.5 661 1005.3 662 1005.9 663 1006.6 664 1007.3 665 1006.9 666 1007.6 667 1008.1 668 1007.1 669 1006.6 670 1007.6 671 1007.1 672 1008.2 673 1007.9 674 1007.7 675 1007.8 676 1008.5 677 1007.0 678 1006.0 679 1007.0 680 1004.3 681 1003.4 682 1002.8 683 1005.9 684 1006.8 685 1007.2 686 1006.6 687 1003.9 688 1002.9 689 1003.6 690 1004.8 691 1004.7 692 1005.1 693 1005.5 694 1005.6 695 1005.2 696 1006.0 697 1005.7 698 1007.4 699 1007.8 700 1007.1 701 1005.6 702 1005.1 703 1006.3 704 1006.6 705 1007.4 706 1007.3 707 1006.7 708 1006.1 709 1005.5 710 1005.6 711 1006.9 712 1005.8 713 1004.7 714 1004.3 715 1005.3 716 1006.6 717 1006.4 718 1007.0 719 1008.5 720 1008.6 721 1008.6 722 1008.0 723 1008.3 724 1008.0 725 1008.4 726 1008.0 727 1006.6 728 1005.1 729 1004.9 730 1004.3 731 1005.3 732 1005.8 733 1006.1 734 1004.1 735 1003.3 736 1003.7 737 1005.0 738 1004.7 739 1005.3 740 1006.6 741 1006.1 742 1006.2 743 1005.3 744 1005.9 745 1006.0 746 1006.4 747 1007.5 748 1007.9 749 1007.2 750 1006.0 751 1006.1 752 1006.1 753 1002.8 754 1005.4 755 1005.2 756 1007.2 757 1007.3 758 1008.6 759 1007.1 760 1005.6 761 1006.9 762 1008.6 763 1007.7 764 1005.2 765 1003.3 766 1006.5 767 1006.3 768 1007.4 769 1008.6 770 1007.9 771 1007.8 772 1006.3 773 1005.4 774 1006.0 775 1006.3 776 1006.5 777 1006.5 778 1007.8 779 1007.2 780 1005.8 781 1005.6 782 1005.9 783 1006.9 784 1006.7 785 1006.4 786 1006.5 787 1007.9 788 1008.6 789 1006.9 790 1005.8 791 1006.0 792 1006.7 793 1006.7 794 1006.6 795 1006.2 796 1005.2 797 1006.1 798 1006.8 799 1007.8 800 1007.3 801 1007.1 802 1007.5 803 1007.7 804 1007.9 805 1006.7 806 1006.7 807 1008.6 808 1008.5 809 1008.6 810 1008.6 811 1007.5 812 1007.7 813 1008.6 814 1008.3 815 1005.0 816 1005.7 817 1006.4 818 1005.5 819 1005.9 820 1005.9 821 1004.7 822 1004.9 823 1005.2 824 1005.3 825 1007.1 826 1007.9 827 1008.6 828 1007.8 829 1007.2 830 1006.9 831 1008.0 832 1008.1 833 1006.3 834 1006.0 835 1006.2 836 1005.0 837 1005.7 838 1005.5 839 1007.0 840 1007.4 841 1005.4 842 1005.5 843 1005.1 844 1005.7 845 1007.8 846 1006.3 847 1005.4 848 1006.3 849 1006.9 850 1006.9 851 1007.0 852 1007.1 853 1007.0 854 1006.9 855 1007.0 856 1007.4 857 1008.4 858 1008.6 859 1007.7 860 1007.0 861 1006.3 862 1007.4 863 1007.8 864 1008.0 865 1006.6 866 1003.6 867 1003.3 868 1004.2 869 1007.9 870 1006.6 871 1006.9 872 1007.5 873 1006.3 874 1006.9 875 1006.0 876 1004.8 877 1005.2 878 1004.5 879 1007.1 880 1006.8 881 1006.5 882 1007.1 883 1007.1 884 1007.7 885 1006.6 886 1007.3 887 1007.2 888 1006.2 889 1006.4 890 1007.6 891 1005.6 892 1005.7 893 1007.3 894 1008.6 895 1008.6 896 1008.0 897 1008.4 898 1007.9 899 1006.5 900 1004.6 901 1005.4 902 1005.5 903 1007.3 904 1005.7 905 1006.0 906 1006.9 907 1006.4 908 1007.2 909 1008.6 910 1007.1 911 1005.1 912 1005.8 913 1003.2 914 1005.3 915 1005.8 916 1004.8 917 1004.5 918 1005.9 919 1006.2 920 1006.0 921 1006.7 922 1004.7 923 1003.7 924 1003.0 925 1004.0 926 1004.1 927 1003.0 928 1006.5 929 1006.5 930 1006.3 931 1006.2 932 1006.2 933 1005.3 934 1005.5 935 1005.1 936 1006.3 937 1006.7 938 1006.8 939 1007.0 940 1007.1 941 1007.3 942 1007.1 943 1006.7 944 1006.9 945 1008.6 946 1008.6 947 1008.6 948 1008.5 949 1006.6 950 1006.9 951 1006.3 952 1006.5 953 1006.5 954 1005.7 955 1007.4 956 1006.1 957 1006.0 958 1004.2 959 1004.1 960 1005.1 961 1006.8 962 1006.5 963 1003.6 964 1004.3 965 1005.7 966 1005.6 967 1006.2 968 1008.0 969 1006.8 970 1006.3 971 1006.5 972 1006.7 973 1006.9 974 1008.1 975 1008.2 976 1007.5 977 1006.8 978 1006.7 979 1006.8 980 1007.4 981 1006.7 982 1006.1 983 1005.9 984 1006.7 985 1006.5 986 1005.5 987 1005.6 988 1005.2 989 1006.8 990 1006.9 991 1005.4 992 1005.9 993 1003.9 994 1003.4 995 1002.5 996 1004.7 997 1004.5 998 1003.9 999 1004.0 1000 1007.9 1001 1006.3 1002 1005.7 1003 1006.5 1004 1006.7 1005 1006.3 1006 1006.2 1007 1007.1 1008 1007.0 1009 1006.1 1010 1005.8 1011 1007.0 1012 1006.9 1013 1004.9 1014 1006.6 1015 1005.4 1016 1005.8 1017 1006.9 1018 1008.0 1019 1007.9 1020 1008.4 1021 1008.6 1022 1007.7 1023 1005.9 1024 1006.2 1025 1006.1 1026 1005.2 1027 1006.7 1028 1006.2 1029 1006.4 1030 1008.0 1031 1007.2 1032 1005.6 1033 1005.7 1034 1007.0 1035 1007.1 1036 1006.5 1037 1006.6 1038 1008.3 1039 1007.1 1040 1004.5 1041 1005.8 1042 1007.6 1043 1006.7 1044 1006.5 1045 1006.9 1046 1007.2 1047 1006.8 1048 1005.6 1049 1005.2 1050 1006.8 1051 1006.4 1052 1006.4 1053 1006.7 1054 1005.9 1055 1006.0 1056 1005.9 1057 1006.5 1058 1006.0 1059 1007.5 1060 1007.2 1061 1008.6 1062 1006.7 1063 1006.0 1064 1007.9 1065 1008.1 1066 1008.2 1067 1008.2 1068 1008.6 1069 1006.3 1070 1006.9 1071 1007.6 1072 1007.9 1073 1005.7 1074 1006.5 1075 1008.2 1076 1007.2 1077 1006.2 1078 1006.9 1079 1007.1 1080 1005.5 1081 1005.2 1082 1007.9 1083 1008.6 1084 1008.2 1085 1007.4 1086 1007.2 1087 1006.5 1088 1006.9 1089 1007.8 1090 1006.7 1091 1005.0 1092 1005.8 1093 1004.9 1094 1004.8 1095 1004.4 1096 1005.8 1097 1005.3 1098 1004.8 1099 1006.8 1100 1007.6 1101 1007.2 1102 1007.4 1103 1008.2 1104 1007.7 1105 1007.8 1106 1008.6 1107 1008.6 1108 1008.6 1109 1008.5 1110 1008.4 1111 1007.8 1112 1008.0 1113 1008.6 1114 1008.6 1115 1007.7 1116 1007.5 1117 1008.3 1118 1008.3 1119 1005.7 1120 1004.2 1121 1005.0 1122 1007.0 1123 1007.2 1124 1006.7 1125 1005.0 1126 1006.4 1127 1006.2 1128 1007.2 1129 1007.0 1130 1006.5 1131 1005.7 1132 1004.3 1133 1006.9 1134 1008.6 1135 1008.6 1136 1008.6 1137 1008.6 1138 1008.6 1139 1007.0 1140 1007.3 1141 1007.2 1142 1007.0 1143 1007.5 1144 1007.0 1145 1006.7 1146 1006.8 1147 1006.9 1148 1005.0 1149 1005.5 1150 1006.0 1151 1006.4 1152 1004.3 1153 1006.2 1154 1004.4 1155 1006.0 1156 1005.7 1157 1008.0 1158 1008.3 1159 1008.2 1160 1007.6 1161 1007.8 1162 1008.4 1163 1007.5 1164 1005.7 1165 1006.9 1166 1008.0 1167 1007.4 1168 1006.3 1169 1006.6 1170 1008.2 1171 1007.8 1172 1005.9 1173 1004.6 1174 1004.4 1175 1004.9 1176 1006.3 1177 1008.2 1178 1008.6 1179 1007.7 1180 1007.6 1181 1007.7 1182 1008.5 1183 1006.8 1184 1005.7 1185 1006.1 1186 1006.2 1187 1005.1 1188 1005.6 1189 1006.4 1190 1007.3 1191 1007.6 1192 1006.7 1193 1007.0 1194 1007.3 1195 1005.7 1196 1004.0 1197 1004.3 1198 1003.4 1199 1004.0 1200 1006.6 1201 1007.2 1202 1005.5 1203 1005.3 1204 1005.5 1205 1006.9 1206 1005.0 1207 1005.6 1208 1008.6 1209 1008.6 1210 1007.6 1211 1007.5 1212 1007.4 1213 1008.6 1214 1006.5 1215 1005.0 1216 1007.4 1217 1007.4 1218 1003.9 1219 1004.6 1220 1004.5 1221 1007.2 1222 1005.5 1223 1004.9 1224 1005.4 1225 1006.9 1226 1006.0 1227 1004.6 1228 1006.7 1229 1008.6 1230 1008.5 1231 1007.7 1232 1006.4 1233 1005.7 1234 1006.3 1235 1005.8 1236 1005.5 1237 1006.3 1238 1005.3 1239 1005.9 1240 1008.6 1241 1008.4 1242 1006.7 1243 1008.2 1244 1008.6 1245 1008.2 1246 1007.6 1247 1007.5 1248 1006.5 1249 1005.2 1250 1006.9 1251 1007.5 1252 1007.8 1253 1006.2 1254 1006.5 1255 1006.1 1256 1006.9 1257 1006.7 1258 1006.8 1259 1007.2 1260 1007.1 1261 1008.3 1262 1007.2 1263 1006.1 1264 1006.2 1265 1004.3 1266 1005.0 1267 1005.6 1268 1007.7 1269 1006.4 1270 1006.0 1271 1006.5 1272 1007.8 1273 1007.5 1274 1004.6 1275 1005.2 1276 1006.8 1277 1006.5 1278 1006.4 1279 1008.1 1280 1008.4 1281 1008.0 1282 1008.6 1283 1007.4 1284 1006.8 1285 1007.7 1286 1006.5 1287 1006.2 1288 1006.5 1289 1006.8 1290 1005.3 1291 1004.4 1292 1004.9 1293 1005.1 1294 1006.8 1295 1006.8 1296 1003.2 1297 1001.1 1298 1002.2 1299 1005.7 1300 1007.4 1301 1008.5 1302 1006.7 1303 1006.4" stroke="#000" stroke-width="3.5" stroke-linejoin="round" stroke-linecap="round" fill="none"/>
<path d="M289.5 1007.0h0M289.6 1005.7h0M289.7 1006.0h0M291.5 1009.0h0M292.0 1009.1h0M294.5 1006.9h0M296.8 1008.1h0M297.3 1006.9h0M301.0 1003.9h0M304.8 1006.1h0M305.6 1006.7h0M306.5 1006.6h0M306.6 1009.3h0M307.2 1007.3h0M309.6 1006.0h0M310.1 1007.4h0M310.3 1005.3h0M312.5 1007.4h0M316.2 1007.7h0M316.5 1007.7h0M317.5 1007.4h0M319.6 1006.3h0M320.3 1007.5h0M320.5 1006.8h0M320.6 1007.1h0M320.8 1007.3h0M321.9 1009.1h0M322.9 1004.2h0M323.6 1006.9h0M326.0 1005.1h0M326.4 1006.3h0M327.9 1007.9h0M328.6 1005.4h0M329.3 1006.2h0M330.2 1006.8h0M335.5 1008.4h0M337.7 1008.6h0M339.8 1005.3h0M344.7 1008.5h0M346.8 1007.8h0M347.2 1009.4h0M347.9 1008.2h0M349.0 1006.1h0M349.5 1005.7h0M351.4 1007.5h0M352.1 1006.5h0M353.0 1007.5h0M354.2 1007.5h0M355.2 1005.1h0M357.3 1006.6h0M357.5 1008.9h0M361.5 1006.1h0M362.3 1003.7h0M363.9 1007.1h0M366.6 1005.1h0M366.9 1002.1h0M368.1 1003.8h0M368.4 1004.7h0M369.0 1003.5h0M369.6 1007.2h0M369.7 1006.8h0M370.0 1009.4h0M373.9 1005.0h0M377.0 1007.4h0M377.2 1004.0h0M380.4 1001.8h0M382.5 1007.8h0M383.3 1007.2h0M386.0 1007.3h0M386.1 1005.6h0M386.5 1008.4h0M386.8 1005.0h0M389.7 1005.3h0M397.1 1007.5h0M400.2 1005.3h0M402.6 1006.0h0M403.2 1007.9h0M404.0 1008.6h0M404.1 1007.0h0M406.0 1006.7h0M408.3 1005.6h0M416.2 1009.1h0M421.0 1003.9h0M423.0 1006.8h0M423.1 1005.0h0M425.1 1007.6h0M426.1 1005.4h0M427.4 1004.9h0M428.8 1007.3h0M429.4 1005.9h0M430.8 1009.0h0M432.3 1007.4h0M436.0 1007.1h0M437.8 1006.5h0M442.6 1007.6h0M443.2 1007.4h0M444.7 1009.4h0M444.9 1009.4h0M445.6 1009.4h0M446.3 1008.0h0M446.3 1008.1h0M447.3 1006.7h0M447.4 1005.0h0M448.5 1006.3h0M449.8 1009.4h0M450.2 1009.4h0M450.5 1007.8h0M454.2 1006.7h0M456.7 1008.1h0M458.4 1008.4h0M459.5 1007.8h0M460.2 1007.0h0M460.7 1007.5h0M461.0 1007.7h0M461.9 1005.9h0M461.9 1006.2h0M462.2 1008.0h0M465.4 1005.5h0M466.1 1008.4h0M467.2 1005.1h0M470.0 1003.9h0M471.8 1007.2h0M473.1 1007.7h0M473.2 1007.7h0M475.8 1008.4h0M476.1 1007.4h0M477.4 1007.0h0M477.6 1008.6h0M478.0 1008.2h0M478.4 1007.8h0M479.8 1003.8h0M480.0 1004.3h0M481.1 1003.2h0M485.2 1005.8h0M485.6 1006.1h0M487.1 1008.9h0M489.3 1005.9h0M490.5 1007.1h0M491.6 1005.6h0M491.7 1005.8h0M492.3 1003.1h0M494.9 1006.0h0M494.9 1007.8h0M501.1 1009.4h0M501.2 1009.4h0M501.4 1008.1h0M501.9 1006.8h0M502.2 1006.1h0M502.4 1006.8h0M503.4 1005.2h0M503.4 1005.5h0M506.3 1003.6h0M506.3 1006.7h0M511.4 1005.9h0M511.8 1006.4h0M513.1 1002.8h0M513.2 1004.5h0M517.8 1007.5h0M519.0 1006.9h0M520.4 1005.5h0M520.5 1003.6h0M522.9 1007.6h0M524.9 1008.8h0M526.5 1005.8h0M530.6 1008.8h0M531.1 1004.9h0M531.1 1004.9h0M532.0 1007.1h0M532.2 1006.6h0M535.1 1004.1h0M539.5 1008.2h0M543.2 1009.4h0M543.2 1009.4h0M544.9 1004.8h0M546.1 1004.9h0M548.9 1007.2h0M549.2 1005.7h0M550.2 1007.8h0M553.3 1005.0h0M555.2 1007.0h0M556.1 1005.3h0M556.4 1006.8h0M558.6 1007.2h0M560.5 1006.1h0M561.7 1004.1h0M563.0 1006.1h0M563.4 1006.2h0M564.6 1004.9h0M566.2 1006.0h0M566.3 1003.8h0M568.1 1005.2h0M568.9 1005.6h0M570.3 1007.2h0M570.5 1005.4h0M572.4 1008.6h0M577.4 1006.5h0M580.8 1008.5h0M583.6 1008.5h0M583.9 1008.2h0M584.4 1008.6h0M584.9 1005.8h0M585.4 1007.6h0M586.0 1005.2h0M586.0 1005.9h0M588.2 1006.2h0M589.3 1005.1h0M591.7 1008.7h0M594.7 1005.9h0M597.8 1007.5h0M598.3 1007.2h0M600.9 1002.7h0M602.2 1006.6h0M602.6 1004.6h0M603.1 1004.0h0M605.4 1005.4h0M607.9 1004.1h0M609.1 1006.2h0M609.3 1007.2h0M609.8 1009.4h0M610.2 1009.0h0M610.6 1006.6h0M611.2 1006.6h0M615.1 1007.7h0M616.9 1004.9h0M619.9 1007.8h0M620.9 1007.3h0M621.2 1008.2h0M622.0 1003.4h0M622.4 1005.1h0M623.0 1007.6h0M623.4 1006.5h0M624.4 1005.3h0M626.3 1009.4h0M627.0 1008.5h0M629.8 1005.8h0M630.1 1009.4h0M631.1 1005.7h0M632.0 1008.8h0M634.0 1006.2h0M639.9 1004.3h0M641.9 1006.2h0M643.1 1005.8h0M644.4 1006.1h0M648.8 1007.0h0M650.0 1008.3h0M650.3 1005.9h0M659.2 1007.1h0M663.4 1006.2h0M665.1 1006.6h0M665.8 1007.6h0M666.1 1006.4h0M667.9 1004.6h0M668.4 1008.6h0M673.3 1006.2h0M673.4 1006.2h0M673.8 1007.8h0M679.3 1009.4h0M681.0 1001.7h0M681.7 1004.4h0M684.2 1005.0h0M685.2 1006.9h0M686.7 1002.5h0M686.7 1003.9h0M687.2 1003.3h0M689.2 1004.3h0M689.5 1002.9h0M689.6 1004.6h0M690.7 1004.0h0M691.0 1004.4h0M691.8 1005.9h0M692.0 1005.0h0M692.3 1002.1h0M693.9 1005.5h0M694.7 1006.4h0M695.3 1005.3h0M695.8 1006.9h0M699.3 1007.7h0M702.2 1007.0h0M702.6 1006.8h0M702.9 1006.3h0M702.9 1004.7h0M702.9 1005.9h0M708.8 1005.1h0M709.4 1004.8h0M711.6 1005.0h0M711.7 1006.0h0M712.2 1006.4h0M712.4 1005.8h0M716.9 1005.3h0M718.6 1007.6h0M719.0 1006.7h0M719.1 1008.5h0M719.6 1008.6h0M721.6 1009.4h0M722.0 1006.1h0M722.7 1007.2h0M725.9 1008.5h0M726.5 1006.8h0M729.0 1004.5h0M730.4 1006.0h0M730.9 1005.3h0M731.9 1006.8h0M732.8 1009.3h0M734.1 1004.0h0M734.5 1003.1h0M735.2 1004.2h0M737.7 1005.9h0M738.4 1005.1h0M738.5 1003.3h0M739.3 1003.2h0M742.2 1006.8h0M742.9 1005.8h0M744.0 1007.0h0M744.5 1007.0h0M750.9 1006.5h0M751.9 1005.9h0M753.3 1004.7h0M753.7 1005.2h0M753.9 1005.7h0M754.5 1003.9h0M756.1 1008.4h0M763.1 1006.8h0M764.4 1004.2h0M766.2 1008.3h0M766.8 1007.5h0M766.8 1004.5h0M768.5 1009.4h0M769.0 1009.4h0M772.2 1005.4h0M773.3 1004.6h0M773.8 1005.6h0M775.5 1003.3h0M777.6 1007.3h0M780.5 1004.3h0M781.5 1005.6h0M781.9 1004.6h0M782.0 1006.5h0M782.6 1004.5h0M784.0 1006.9h0M784.4 1004.0h0M789.2 1005.9h0M790.7 1007.0h0M791.0 1004.9h0M798.7 1007.7h0M798.8 1008.0h0M800.3 1008.5h0M801.4 1008.5h0M802.5 1006.3h0M806.4 1005.0h0M807.7 1009.2h0M808.0 1009.4h0M811.0 1008.4h0M812.2 1007.2h0M815.0 1008.0h0M815.2 1006.7h0M819.8 1006.3h0M820.5 1006.7h0M820.7 1004.7h0M821.2 1005.7h0M821.3 1002.8h0M822.2 1002.0h0M823.2 1004.7h0M823.6 1004.0h0M824.8 1006.4h0M825.9 1005.8h0M826.0 1008.9h0M827.2 1009.0h0M828.1 1007.8h0M828.5 1007.7h0M831.5 1007.0h0M834.5 1007.2h0M834.6 1006.6h0M836.0 1003.1h0M838.1 1005.2h0M838.2 1004.7h0M840.5 1008.5h0M843.1 1004.8h0M844.5 1009.4h0M845.3 1007.0h0M852.1 1005.7h0M853.0 1006.1h0M853.7 1008.5h0M854.4 1007.1h0M854.7 1007.0h0M854.9 1007.8h0M856.4 1006.5h0M856.9 1006.6h0M858.2 1009.4h0M859.5 1009.4h0M860.4 1009.4h0M862.6 1008.5h0M868.6 1006.9h0M870.2 1006.6h0M870.3 1007.8h0M870.4 1005.4h0M873.1 1004.8h0M874.1 1007.3h0M876.6 1004.9h0M877.7 1005.1h0M878.8 1005.2h0M880.6 1005.2h0M882.3 1008.1h0M883.3 1008.1h0M885.6 1007.6h0M887.0 1005.9h0M887.8 1007.2h0M889.4 1004.6h0M891.7 1005.2h0M894.0 1009.2h0M895.0 1006.4h0M896.6 1008.0h0M903.0 1008.6h0M906.2 1009.1h0M907.2 1005.9h0M907.8 1006.0h0M908.4 1008.4h0M908.6 1008.9h0M908.9 1008.6h0M914.6 1005.9h0M915.9 1006.0h0M919.1 1004.8h0M919.5 1007.3h0M921.2 1007.0h0M924.9 1001.3h0M926.0 1005.7h0M927.2 1005.0h0M927.6 1006.5h0M927.8 1006.7h0M928.6 1005.6h0M929.5 1006.5h0M929.5 1006.7h0M933.7 1003.7h0M938.0 1005.6h0M938.7 1006.3h0M940.0 1006.1h0M940.8 1006.3h0M941.7 1005.1h0M942.2 1007.6h0M942.6 1004.7h0M943.1 1007.1h0M943.5 1007.1h0M944.0 1006.4h0M945.7 1009.4h0M946.2 1007.4h0M948.7 1007.7h0M950.4 1006.4h0M950.7 1007.7h0M953.5 1007.2h0M953.9 1005.1h0M955.5 1006.1h0M955.9 1007.7h0M956.2 1006.2h0M956.5 1006.1h0M956.9 1007.5h0M957.1 1006.1h0M957.3 1005.8h0M958.1 1003.3h0M959.7 1004.5h0M960.1 1004.6h0M960.3 1005.7h0M961.8 1006.2h0M962.8 1003.8h0M964.4 1006.1h0M966.2 1002.6h0M967.7 1005.9h0M970.1 1005.2h0M971.5 1007.8h0M972.4 1006.2h0M973.3 1006.7h0M974.7 1008.1h0M975.1 1009.4h0M978.3 1008.6h0M980.9 1008.2h0M984.7 1004.5h0M985.4 1007.2h0M985.5 1004.6h0M986.2 1005.3h0M987.3 1006.6h0M987.6 1004.6h0M990.3 1006.7h0M990.6 1008.3h0M991.8 1005.2h0M992.2 1006.0h0M992.4 1004.6h0M997.5 1005.8h0M998.3 1004.3h0M1001.7 1004.9h0M1002.1 1007.2h0M1002.7 1005.0h0M1004.4 1005.1h0M1006.8 1006.1h0M1009.2 1007.3h0M1009.8 1006.3h0M1014.4 1005.4h0M1014.4 1008.4h0M1015.1 1004.1h0M1017.2 1007.2h0M1018.0 1005.1h0M1018.6 1007.2h0M1018.9 1007.9h0M1020.2 1008.7h0M1031.0 1008.7h0M1031.2 1006.2h0M1032.3 1007.6h0M1032.8 1006.6h0M1032.9 1005.5h0M1033.3 1006.9h0M1034.7 1006.3h0M1037.1 1004.3h0M1037.6 1008.0h0M1037.8 1007.6h0M1038.5 1007.1h0M1039.9 1005.2h0M1041.0 1004.5h0M1041.7 1005.7h0M1043.6 1009.3h0M1045.5 1007.9h0M1046.5 1007.9h0M1047.2 1005.4h0M1048.9 1007.5h0M1054.2 1004.0h0M1054.4 1004.1h0M1055.3 1007.3h0M1058.0 1004.8h0M1059.6 1007.9h0M1064.3 1006.1h0M1064.9 1008.7h0M1067.8 1009.4h0M1069.8 1007.8h0M1071.2 1008.4h0M1073.0 1005.0h0M1075.7 1005.5h0M1078.1 1007.2h0M1078.5 1007.8h0M1078.5 1005.6h0M1078.5 1005.6h0M1079.7 1006.5h0M1082.5 1008.0h0M1087.0 1007.1h0M1088.3 1006.9h0M1088.8 1009.4h0M1089.0 1009.4h0M1090.2 1008.2h0M1090.3 1005.8h0M1097.0 1004.5h0M1102.1 1006.4h0M1103.0 1007.3h0M1103.6 1008.2h0M1104.6 1007.3h0M1105.6 1008.3h0M1108.6 1009.2h0M1109.2 1008.3h0M1109.6 1007.8h0M1114.3 1006.0h0M1114.6 1009.4h0M1116.2 1005.8h0M1117.6 1007.2h0M1121.3 1002.6h0M1121.4 1006.9h0M1121.5 1005.8h0M1123.0 1007.9h0M1123.4 1009.4h0M1125.6 1009.1h0M1125.9 1005.9h0M1127.3 1008.3h0M1127.5 1006.6h0M1129.9 1006.8h0M1130.3 1006.4h0M1132.5 1005.7h0M1133.3 1007.2h0M1133.4 1004.7h0M1139.0 1005.3h0M1139.4 1006.7h0M1140.4 1007.0h0M1141.2 1007.8h0M1144.1 1007.3h0M1146.1 1007.9h0M1146.5 1007.9h0M1148.4 1005.0h0M1149.3 1005.6h0M1152.0 1004.7h0M1152.6 1005.8h0M1152.7 1006.2h0M1154.0 1004.1h0M1154.7 1006.9h0M1156.2 1006.0h0M1156.8 1006.8h0M1162.9 1007.2h0M1164.0 1005.9h0M1164.3 1004.3h0M1165.0 1006.7h0M1166.9 1007.6h0M1167.0 1007.2h0M1167.3 1007.9h0M1168.0 1003.4h0M1168.2 1006.5h0M1170.0 1009.3h0M1170.7 1008.9h0M1171.2 1007.8h0M1171.4 1006.1h0M1171.5 1005.7h0M1171.8 1009.3h0M1175.4 1004.3h0M1176.4 1009.4h0M1177.8 1009.4h0M1179.4 1006.8h0M1179.8 1007.0h0M1180.9 1008.0h0M1182.6 1008.5h0M1183.2 1009.1h0M1184.1 1007.4h0M1187.3 1003.5h0M1188.5 1006.9h0M1191.0 1007.7h0M1191.8 1005.9h0M1192.1 1006.2h0M1195.4 1008.2h0M1195.7 1005.1h0M1197.1 1004.2h0M1199.5 1004.6h0M1204.4 1007.3h0M1204.7 1008.4h0M1205.1 1006.4h0M1205.5 1006.0h0M1208.7 1007.8h0M1209.4 1005.9h0M1209.5 1007.4h0M1210.2 1009.4h0M1212.6 1008.0h0M1213.5 1006.2h0M1213.5 1008.2h0M1217.4 1004.6h0M1218.7 1005.1h0M1219.7 1003.4h0M1220.1 1004.0h0M1220.6 1005.2h0M1221.4 1006.3h0M1222.5 1004.3h0M1223.4 1005.7h0M1223.7 1004.1h0M1224.9 1006.9h0M1225.6 1005.8h0M1227.8 1005.4h0M1228.3 1007.8h0M1229.4 1009.2h0M1230.8 1007.8h0M1231.6 1006.1h0M1232.6 1006.2h0M1233.4 1007.0h0M1234.4 1005.2h0M1234.5 1008.4h0M1235.0 1004.4h0M1235.8 1005.5h0M1239.8 1009.4h0M1240.4 1009.4h0M1241.3 1006.3h0M1242.2 1005.0h0M1242.2 1005.1h0M1242.7 1007.7h0M1243.4 1006.8h0M1243.5 1009.0h0M1245.7 1008.3h0M1246.2 1006.8h0M1246.6 1008.1h0M1248.8 1006.4h0M1250.2 1006.5h0M1254.4 1003.5h0M1255.8 1007.3h0M1257.0 1006.3h0M1258.2 1009.2h0M1260.1 1007.9h0M1265.8 1003.9h0M1266.1 1006.1h0M1266.2 1004.5h0M1266.7 1006.8h0M1267.4 1007.4h0M1267.5 1006.4h0M1268.3 1007.2h0M1268.6 1007.2h0M1271.6 1005.8h0M1274.1 1003.9h0M1274.7 1004.8h0M1277.7 1007.2h0M1278.1 1007.5h0M1280.3 1006.8h0M1280.3 1008.1h0M1282.1 1009.4h0M1283.8 1007.4h0M1284.5 1006.2h0M1287.1 1007.2h0M1287.9 1006.5h0M1288.4 1006.8h0M1288.9 1009.4h0M1293.1 1005.4h0M1296.5 1002.8h0M1296.7 1000.1h0M1297.2 1000.0h0M1298.5 1005.5h0M1300.0 1009.1h0M1300.1 1008.3h0" stroke="#000" stroke-width="2.5" stroke-linecap="round" fill="none"/>
<path d="M194.3 994.3h0M414.3 997.3h0M1002.3 999.3h0M1268.3 1001.0h0" stroke="#000" stroke-width="2.5" stroke-linecap="round" fill="none"/>
<path d="M501.7 992.3h0M1002.5 989.3h0M1037.3 992.3h0M1042.3 990.3h0" stroke="#f00" stroke-width="3.2" stroke-linecap="round" fill="none"/>
<path d="M209.3 956.1l1.5 3.1h-3z" fill="#ffa0a0" stroke="#f00" stroke-width="1.1" stroke-linejoin="round"/>
<path d="M246.0 956.1l1.5 3.1h-3z" fill="#ffa0a0" stroke="#f00" stroke-width="1.1" stroke-linejoin="round"/>
<path d="M269.0 956.1l1.5 3.1h-3z" fill="#ffa0a0" stroke="#f00" stroke-width="1.1" stroke-linejoin="round"/>
<path d="M273.0 956.1l1.5 3.1h-3z" fill="#ffa0a0" stroke="#f00" stroke-width="1.1" stroke-linejoin="round"/>
<path d="M299.3 956.1l1.5 3.1h-3z" fill="#ffa0a0" stroke="#f00" stroke-width="1.1" stroke-linejoin="round"/>
<path d="M300.7 956.1l1.5 3.1h-3z" fill="#ffa0a0" stroke="#f00" stroke-width="1.1" stroke-linejoin="round"/>
<path d="M312.7 956.1l1.5 3.1h-3z" fill="#ffa0a0" stroke="#f00" stroke-width="1.1" stroke-linejoin="round"/>
<path d="M314.0 956.1l1.5 3.1h-3z" fill="#ffa0a0" stroke="#f00" stroke-width="1.1" stroke-linejoin="round"/>
<path d="M317.3 956.1l1.5 3.1h-3z" fill="#ffa0a0" stroke="#f00" stroke-width="1.1" stroke-linejoin="round"/>
<path d="M398.0 956.1l1.5 3.1h-3z" fill="#ffa0a0" stroke="#f00" stroke-width="1.1" stroke-linejoin="round"/>
<path d="M400.0 956.1l1.5 3.1h-3z" fill="#ffa0a0" stroke="#f00" stroke-width="1.1" stroke-linejoin="round"/>
<path d="M402.0 956.1l1.5 3.1h-3z" fill="#ffa0a0" stroke="#f00" stroke-width="1.1" stroke-linejoin="round"/>
<path d="M414.0 956.1l1.5 3.1h-3z" fill="#ffa0a0" stroke="#f00" stroke-width="1.1" stroke-linejoin="round"/>
<path d="M422.3 956.1l1.5 3.1h-3z" fill="#ffa0a0" stroke="#f00" stroke-width="1.1" stroke-linejoin="round"/>
<path d="M436.0 956.1l1.5 3.1h-3z" fill="#ffa0a0" stroke="#f00" stroke-width="1.1" stroke-linejoin="round"/>
<path d="M438.0 956.1l1.5 3.1h-3z" fill="#ffa0a0" stroke="#f00" stroke-width="1.1" stroke-linejoin="round"/>
<path d="M440.0 956.1l1.5 3.1h-3z" fill="#ffa0a0" stroke="#f00" stroke-width="1.1" stroke-linejoin="round"/>
<path d="M475.0 956.1l1.5 3.1h-3z" fill="#ffa0a0" stroke="#f00" stroke-width="1.1" stroke-linejoin="round"/>
<path d="M501.7 956.1l1.5 3.1h-3z" fill="#ffa0a0" stroke="#f00" stroke-width="1.1" stroke-linejoin="round"/>
<path d="M508.3 956.1l1.5 3.1h-3z" fill="#ffa0a0" stroke="#f00" stroke-width="1.1" stroke-linejoin="round"/>
<path d="M510.3 956.1l1.5 3.1h-3z" fill="#ffa0a0" stroke="#f00" stroke-width="1.1" stroke-linejoin="round"/>
<path d="M512.3 956.1l1.5 3.1h-3z" fill="#ffa0a0" stroke="#f00" stroke-width="1.1" stroke-linejoin="round"/>
<path d="M521.3 956.1l1.5 3.1h-3z" fill="#ffa0a0" stroke="#f00" stroke-width="1.1" stroke-linejoin="round"/>
<path d="M536.7 956.1l1.5 3.1h-3z" fill="#ffa0a0" stroke="#f00" stroke-width="1.1" stroke-linejoin="round"/>
<path d="M545.7 956.1l1.5 3.1h-3z" fill="#ffa0a0" stroke="#f00" stroke-width="1.1" stroke-linejoin="round"/>
<path d="M547.7 956.1l1.5 3.1h-3z" fill="#ffa0a0" stroke="#f00" stroke-width="1.1" stroke-linejoin="round"/>
<path d="M549.3 956.1l1.5 3.1h-3z" fill="#ffa0a0" stroke="#f00" stroke-width="1.1" stroke-linejoin="round"/>
<path d="M562.7 956.1l1.5 3.1h-3z" fill="#ffa0a0" stroke="#f00" stroke-width="1.1" stroke-linejoin="round"/>
<path d="M573.3 956.1l1.5 3.1h-3z" fill="#ffa0a0" stroke="#f00" stroke-width="1.1" stroke-linejoin="round"/>
<path d="M576.0 956.1l1.5 3.1h-3z" fill="#ffa0a0" stroke="#f00" stroke-width="1.1" stroke-linejoin="round"/>
<path d="M580.3 956.1l1.5 3.1h-3z" fill="#ffa0a0" stroke="#f00" stroke-width="1.1" stroke-linejoin="round"/>
<path d="M611.7 956.1l1.5 3.1h-3z" fill="#ffa0a0" stroke="#f00" stroke-width="1.1" stroke-linejoin="round"/>
<path d="M613.7 956.1l1.5 3.1h-3z" fill="#ffa0a0" stroke="#f00" stroke-width="1.1" stroke-linejoin="round"/>
<path d="M615.7 956.1l1.5 3.1h-3z" fill="#ffa0a0" stroke="#f00" stroke-width="1.1" stroke-linejoin="round"/>
<path d="M620.3 956.1l1.5 3.1h-3z" fill="#ffa0a0" stroke="#f00" stroke-width="1.1" stroke-linejoin="round"/>
<path d="M648.0 956.1l1.5 3.1h-3z" fill="#ffa0a0" stroke="#f00" stroke-width="1.1" stroke-linejoin="round"/>
<path d="M650.0 956.1l1.5 3.1h-3z" fill="#ffa0a0" stroke="#f00" stroke-width="1.1" stroke-linejoin="round"/>
<path d="M656.7 956.1l1.5 3.1h-3z" fill="#ffa0a0" stroke="#f00" stroke-width="1.1" stroke-linejoin="round"/>
<path d="M658.3 956.1l1.5 3.1h-3z" fill="#ffa0a0" stroke="#f00" stroke-width="1.1" stroke-linejoin="round"/>
<path d="M664.3 956.1l1.5 3.1h-3z" fill="#ffa0a0" stroke="#f00" stroke-width="1.1" stroke-linejoin="round"/>
<path d="M667.0 956.1l1.5 3.1h-3z" fill="#ffa0a0" stroke="#f00" stroke-width="1.1" stroke-linejoin="round"/>
<path d="M770.0 956.1l1.5 3.1h-3z" fill="#ffa0a0" stroke="#f00" stroke-width="1.1" stroke-linejoin="round"/>
<path d="M868.3 956.1l1.5 3.1h-3z" fill="#ffa0a0" stroke="#f00" stroke-width="1.1" stroke-linejoin="round"/>
<path d="M912.3 956.1l1.5 3.1h-3z" fill="#ffa0a0" stroke="#f00" stroke-width="1.1" stroke-linejoin="round"/>
<path d="M973.3 956.1l1.5 3.1h-3z" fill="#ffa0a0" stroke="#f00" stroke-width="1.1" stroke-linejoin="round"/>
<path d="M1009.2 956.1l1.5 3.1h-3z" fill="#ffa0a0" stroke="#f00" stroke-width="1.1" stroke-linejoin="round"/>
<path d="M1014.4 956.1l1.5 3.1h-3z" fill="#ffa0a0" stroke="#f00" stroke-width="1.1" stroke-linejoin="round"/>
<path d="M1016.2 956.1l1.5 3.1h-3z" fill="#ffa0a0" stroke="#f00" stroke-width="1.1" stroke-linejoin="round"/>
<path d="M1116.5 956.1l1.5 3.1h-3z" fill="#ffa0a0" stroke="#f00" stroke-width="1.1" stroke-linejoin="round"/>
<path d="M1159.3 956.1l1.5 3.1h-3z" fill="#ffa0a0" stroke="#f00" stroke-width="1.1" stroke-linejoin="round"/>
<path d="M1206.3 956.1l1.5 3.1h-3z" fill="#ffa0a0" stroke="#f00" stroke-width="1.1" stroke-linejoin="round"/>
<path d="M1264.3 956.1l1.5 3.1h-3z" fill="#ffa0a0" stroke="#f00" stroke-width="1.1" stroke-linejoin="round"/>
</g>
<rect x="105.5" y="725.5" width="1380.0" height="286.0" fill="none" stroke="#000" stroke-width="1.1"/>
<path d="M105.5 954.5H1485.5" stroke="#000" stroke-width="1.1"/>
<path d="M162.5 1011.5v5.2" stroke="#000" stroke-width="1.1"/><text x="162.15" y="1031.8" text-anchor="middle">0</text><path d="M365.5 1011.5v5.2" stroke="#000" stroke-width="1.1"/><text x="365.35" y="1031.8" text-anchor="middle">2000</text><path d="M568.5 1011.5v5.2" stroke="#000" stroke-width="1.1"/><text x="568.55" y="1031.8" text-anchor="middle">4000</text><path d="M772.5 1011.5v5.2" stroke="#000" stroke-width="1.1"/><text x="771.76" y="1031.8" text-anchor="middle">6000</text><path d="M975.5 1011.5v5.2" stroke="#000" stroke-width="1.1"/><text x="974.96" y="1031.8" text-anchor="middle">8000</text><path d="M1178.5 1011.5v5.2" stroke="#000" stroke-width="1.1"/><text x="1178.16" y="1031.8" text-anchor="middle">10000</text><path d="M1381.5 1011.5v5.2" stroke="#000" stroke-width="1.1"/><text x="1381.36" y="1031.8" text-anchor="middle">12000</text>
<path d="M105.5 921.5h-5.2" stroke="#000" stroke-width="1.1"/>
<text x="94.9" y="927.2" text-anchor="end">OBS not OK</text>
<path d="M105.5 889.5h-5.2" stroke="#000" stroke-width="1.1"/>
<text x="94.9" y="895.2" text-anchor="end">dr &gt; 5</text>
<path d="M105.5 856.5h-5.2" stroke="#000" stroke-width="1.1"/>
<text x="94.9" y="862.2" text-anchor="end">Ion. rad.</text>
<path d="M105.5 823.5h-5.2" stroke="#000" stroke-width="1.1"/>
<text x="94.9" y="829.2" text-anchor="end">Sat. pixel.</text>
<path d="M105.5 791.5h-5.2" stroke="#000" stroke-width="1.1"/>
<text x="94.9" y="797.2" text-anchor="end">not track</text>
<path d="M105.5 758.5h-5.2" stroke="#000" stroke-width="1.1"/>
<text x="94.9" y="764.2" text-anchor="end">not Kalman</text>
<path d="M105.5 957.5h-5.2" stroke="#000" stroke-width="1.1"/>
<text x="95.8" y="961.7" text-anchor="end">10</text>
<path d="M105.5 983.5h-5.2" stroke="#000" stroke-width="1.1"/>
<text x="95.8" y="987.7" text-anchor="end">5</text>
<path d="M105.5 1009.5h-5.2" stroke="#000" stroke-width="1.1"/>
<text x="95.8" y="1013.6" text-anchor="end">0</text>
<path d="M105.5 970.5h-2.78" stroke="#000" stroke-width="0.83"/>
<path d="M105.5 996.5h-2.78" stroke="#000" stroke-width="0.83"/>
<text transform="translate(68.7 983.2) rotate(-90)" text-anchor="middle">dr</text>
</svg>
</body></html>
